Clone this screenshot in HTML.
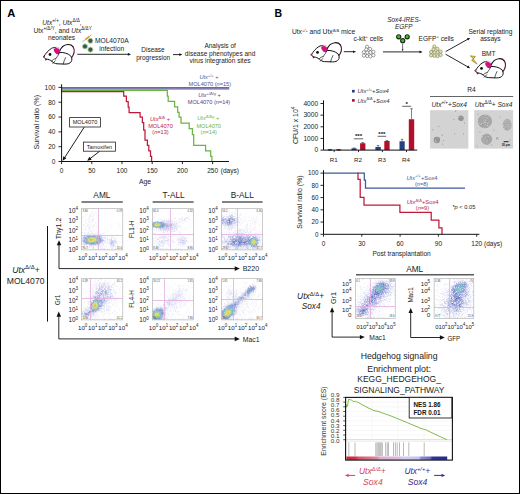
<!DOCTYPE html><html><head><meta charset="utf-8"><style>html,body{margin:0;padding:0;background:#fff;}svg{display:block;}text{font-family:"Liberation Sans", sans-serif;}</style></head><body>
<svg width="520" height="494" viewBox="0 0 520 494" fill="#222">
<defs><filter id="bgnoise" x="0" y="0" width="100%" height="100%"><feTurbulence type="fractalNoise" baseFrequency="0.8" numOctaves="2" seed="3"/><feColorMatrix type="matrix" values="0 0 0 0 0.6  0 0 0 0 0.6  0 0 0 0 0.6  1.2 0 0 0 -0.55"/><feComposite in2="SourceGraphic" operator="in"/></filter><filter id="tex" x="-30%" y="-30%" width="160%" height="160%"><feGaussianBlur in="SourceGraphic" stdDeviation="0.7" result="b"/><feTurbulence type="fractalNoise" baseFrequency="1.1" numOctaves="2" seed="9" result="n"/><feColorMatrix in="n" type="matrix" values="0 0 0 0 0.38  0 0 0 0 0.38  0 0 0 0 0.38  3 0 0 0 -1.3" result="d"/><feColorMatrix in="n" type="matrix" values="0 0 0 0 0.78  0 0 0 0 0.78  0 0 0 0 0.78  -2.4 0 0 0 1.05" result="l"/><feComposite in="l" in2="b" operator="in" result="l2"/><feComposite in="d" in2="b" operator="in" result="d2"/><feMerge><feMergeNode in="b"/><feMergeNode in="d2"/><feMergeNode in="l2"/></feMerge></filter><linearGradient id="band" x1="0" x2="1" y1="0" y2="0"><stop offset="0" stop-color="#c8283a"/><stop offset="0.094" stop-color="#cc3446"/><stop offset="0.12" stop-color="#d4566a"/><stop offset="0.31" stop-color="#dc8ca0"/><stop offset="0.33" stop-color="#e0aad0"/><stop offset="0.54" stop-color="#dcbce4"/><stop offset="0.56" stop-color="#d0cef0"/><stop offset="0.72" stop-color="#c4c4ec"/><stop offset="0.74" stop-color="#8c8cd0"/><stop offset="0.83" stop-color="#7070c0"/><stop offset="0.85" stop-color="#34349a"/><stop offset="1" stop-color="#282888"/></linearGradient></defs>
<rect width="520" height="494" fill="#fff"/>
<text x="7.3" y="16.8" font-size="11.2" fill="#000" font-weight="bold">A</text>
<text x="62" y="25.2" font-size="6.6" text-anchor="middle"><tspan font-style="italic">Utx</tspan><tspan dy="-2.77" font-size="4.62">+/+</tspan><tspan dy="2.77">, </tspan><tspan font-style="italic">Utx</tspan><tspan dy="-2.77" font-size="4.62">Δ/Δ</tspan><tspan dy="2.77">,</tspan></text>
<text x="62.6" y="33" font-size="6.6" text-anchor="middle">Utx<tspan dy="-2.77" font-size="4.62">+/Δ/Y</tspan><tspan dy="2.77">, and </tspan><tspan font-style="italic">Utx</tspan><tspan dy="-2.77" font-size="4.62">Δ/ΔY</tspan></text>
<text x="61.6" y="40.4" font-size="6.6" text-anchor="middle">neonates</text>
<g transform="translate(43 44.2) scale(1 1)" stroke-linejoin="round" stroke-linecap="round" fill="none">
<path d="M0.8 12.5C2.5 9.4 5.4 6 8.5 4.2C10 3.3 11.6 3 12.8 3.4L16.6 8.2C20.4 8 25 9.2 27.6 11.6C29.2 13.4 29.2 16 28.1 17.6C27 19.2 25 19.9 22 19.9L14 19.6C12 19.4 10.2 18.6 9 17.2C7.2 15.6 5.2 15.1 3.6 14.9C2.2 14.6 1 13.6 0.8 12.5Z" fill="#fff" stroke="#111" stroke-width="1.0"/>
<path d="M16.4 7.4C18 3.2 21 0.6 24.6 0.3C27 0.1 28.9 1 30 2.5" stroke="#111" stroke-width="1.1"/>
<path d="M30 2.5C31.4 4.6 31.4 8 30.3 10.5C29.7 11.8 29.1 12.8 28.4 13.6" stroke="#5a1446" stroke-width="1.15"/>
<path d="M10.6 5.2C11.8 3.6 14 3.4 15.6 4.4C17.2 5.4 17.4 7.8 16.4 9.4C15.4 10.4 13.8 10.2 12.8 9.2C11.8 8.2 10.8 6.8 10.6 5.2Z" fill="#d4127e"/><path d="M10.2 4.6C11.6 2.6 14.6 2.4 16.4 4" fill="none" stroke="#888" stroke-width="0.5"/>
<circle cx="7" cy="10.3" r="1.4" fill="#111"/>
<circle cx="0.95" cy="12.6" r="1" fill="#d4127e"/>
<path d="M2.2 14.5L2.8 16.2L3.8 15" fill="#111" stroke="#111" stroke-width="0.4"/>
<path d="M8.6 17C9.6 15.5 11 14.6 12.6 14.6M9.8 19.2L12.2 16.6M16.4 8.6C15.6 10.6 14.2 12.6 12.6 14.6M22.6 13.4C21.6 15.4 20.6 17.6 20.2 19.8" stroke="#111" stroke-width="0.7"/>
</g>
<line x1="82.4" y1="41.9" x2="85.2" y2="39.7" stroke="#777" stroke-width="0.6"/>
<line x1="85.2" y1="39.7" x2="89.4" y2="36.4" stroke="#e09a20" stroke-width="1.6"/>
<line x1="89.4" y1="36.4" x2="91.6" y2="34.6" stroke="#888" stroke-width="0.7"/>
<circle cx="90.4" cy="40.8" r="2.55" fill="#2a5e5c" stroke="#ccd89a" stroke-width="0.9"/>
<circle cx="85" cy="46.4" r="2.55" fill="#2a5e5c" stroke="#ccd89a" stroke-width="0.9"/>
<circle cx="90.4" cy="49.6" r="2.55" fill="#2a5e5c" stroke="#ccd89a" stroke-width="0.9"/>
<text x="111.8" y="43.1" font-size="6.7" text-anchor="middle">MOL4070A</text>
<text x="111.7" y="50.5" font-size="6.7" text-anchor="middle">infection</text>
<line x1="77.3" y1="54.3" x2="128.62" y2="54.3" stroke="#111" stroke-width="0.9"/>
<path d="M131 54.3L127.9 55.69L127.9 52.91Z" fill="#111"/>
<text x="153" y="52.2" font-size="6.5" text-anchor="middle">Disease</text>
<text x="153.2" y="59.6" font-size="6.5" text-anchor="middle">progression</text>
<line x1="173" y1="54.6" x2="180.06" y2="54.6" stroke="#111" stroke-width="0.9"/>
<path d="M182.3 54.6L179.38 55.9L179.38 53.3Z" fill="#111"/>
<text x="220.1" y="48" font-size="6.5" text-anchor="middle">Analysis of</text>
<text x="220.1" y="55.5" font-size="6.5" text-anchor="middle">disease phenotypes and</text>
<text x="220" y="63.3" font-size="6.5" text-anchor="middle">virus integration sites</text>
<g fill="none" stroke-width="1.25" stroke-linejoin="miter">
<polyline points="61.6,91.6 123.7,91.6 123.7,96.2 126.4,96.2 126.4,101.7 128.2,101.7 128.2,107.2 129.1,107.2 129.1,112.6 140.1,112.6 140.1,117.2 142.4,117.2 142.4,122.7 143.7,122.7 143.7,130 145,130 145,140 147.4,140 147.4,145.4 148.8,145.4 148.8,150.9 150.5,150.9 150.5,156.4 151.6,156.4 151.6,161.5" stroke="#c0183c"/>
<polyline points="61.6,90.3 167.3,90.3 167.3,96.2 168.2,96.2 168.2,101.3 174.6,101.3 174.6,106.8 177.7,106.8 177.7,112.3 179.1,112.3 179.1,117.2 181,117.2 181,123.2 189.2,123.2 189.2,128.7 192.4,128.7 192.4,134.5 193.7,134.5 193.7,145.4 205.6,145.4 205.6,150.9 210.7,150.9 210.7,156.4 211.9,156.4 211.9,161.5" stroke="#6cb444"/>
</g>
<line x1="61.6" y1="88.95" x2="229.2" y2="88.95" stroke="#70549c" stroke-width="1.3"/>
<line x1="61.6" y1="87.65" x2="229.2" y2="87.65" stroke="#5a70b0" stroke-width="1.3"/>
<line x1="61.6" y1="84.3" x2="61.6" y2="161.5" stroke="#111" stroke-width="1"/>
<line x1="61.6" y1="161.5" x2="229" y2="161.5" stroke="#111" stroke-width="1"/>
<line x1="58.5" y1="161.5" x2="61.6" y2="161.5" stroke="#111" stroke-width="0.9"/>
<text x="55.4" y="163.8" font-size="6.5" text-anchor="end">0</text>
<line x1="58.5" y1="146.68" x2="61.6" y2="146.68" stroke="#111" stroke-width="0.9"/>
<text x="55.4" y="148.98" font-size="6.5" text-anchor="end">20</text>
<line x1="58.5" y1="131.86" x2="61.6" y2="131.86" stroke="#111" stroke-width="0.9"/>
<text x="55.4" y="134.16" font-size="6.5" text-anchor="end">40</text>
<line x1="58.5" y1="117.04" x2="61.6" y2="117.04" stroke="#111" stroke-width="0.9"/>
<text x="55.4" y="119.34" font-size="6.5" text-anchor="end">60</text>
<line x1="58.5" y1="102.22" x2="61.6" y2="102.22" stroke="#111" stroke-width="0.9"/>
<text x="55.4" y="104.52" font-size="6.5" text-anchor="end">80</text>
<line x1="58.5" y1="87.4" x2="61.6" y2="87.4" stroke="#111" stroke-width="0.9"/>
<text x="55.4" y="89.7" font-size="6.5" text-anchor="end">100</text>
<line x1="61.6" y1="161.5" x2="61.6" y2="164.1" stroke="#111" stroke-width="0.9"/>
<text x="61.6" y="173.4" font-size="6.5" text-anchor="middle">0</text>
<line x1="91.8" y1="161.5" x2="91.8" y2="164.1" stroke="#111" stroke-width="0.9"/>
<text x="91.8" y="173.4" font-size="6.5" text-anchor="middle">50</text>
<line x1="122" y1="161.5" x2="122" y2="164.1" stroke="#111" stroke-width="0.9"/>
<text x="122" y="173.4" font-size="6.5" text-anchor="middle">100</text>
<line x1="152.2" y1="161.5" x2="152.2" y2="164.1" stroke="#111" stroke-width="0.9"/>
<text x="152.2" y="173.4" font-size="6.5" text-anchor="middle">150</text>
<line x1="182.4" y1="161.5" x2="182.4" y2="164.1" stroke="#111" stroke-width="0.9"/>
<text x="182.4" y="173.4" font-size="6.5" text-anchor="middle">200</text>
<line x1="212.6" y1="161.5" x2="212.6" y2="164.1" stroke="#111" stroke-width="0.9"/>
<text x="212.6" y="173.4" font-size="6.5" text-anchor="middle">250</text>
<text x="220.8" y="173.4" font-size="6.5">(days)</text>
<text x="145.1" y="183.6" font-size="6.8" text-anchor="middle">Age</text>
<text x="38.8" y="122.2" font-size="7.2" text-anchor="middle" transform="rotate(-90 38.8 122.2)">Survival ratio (%)</text>
<rect x="69.6" y="117.6" width="30.8" height="9.4" fill="#fff" stroke="#222" stroke-width="0.8"/>
<text x="85" y="124.3" font-size="5.6" text-anchor="middle">MOL4070</text>
<rect x="83.4" y="142.1" width="32" height="9.1" fill="#fff" stroke="#222" stroke-width="0.8"/>
<text x="99.4" y="148.7" font-size="5.6" text-anchor="middle">Tamoxifen</text>
<line x1="84.2" y1="127.2" x2="64.34" y2="158.09" stroke="#111" stroke-width="0.95"/>
<path d="M62.6 160.8L63.29 156.25L66.45 158.28Z" fill="#111"/>
<line x1="99.5" y1="151.4" x2="89.76" y2="158.84" stroke="#111" stroke-width="0.95"/>
<path d="M87.2 160.8L89.4 156.76L91.68 159.74Z" fill="#111"/>
<text x="209" y="79.2" font-size="5.6" text-anchor="middle" fill="#3c5a9c"><tspan font-style="italic">Utx</tspan><tspan dy="-2.35" font-size="4.14">+/+</tspan><tspan dy="2.35"> +</tspan></text>
<text x="209.8" y="85.9" font-size="5.6" text-anchor="middle" fill="#3c5a9c">MOL4070 (<tspan font-style="italic">n</tspan>=15)</text>
<text x="209.5" y="97.4" font-size="5.6" text-anchor="middle" fill="#5c3c82"><tspan font-style="italic">Utx</tspan><tspan dy="-2.35" font-size="4.14">+/Δ/y</tspan><tspan dy="2.35"> +</tspan></text>
<text x="209" y="104" font-size="5.6" text-anchor="middle" fill="#5c3c82">MOL4070 (<tspan font-style="italic">n</tspan>=14)</text>
<text x="160" y="120.9" font-size="5.6" text-anchor="middle" fill="#c0183c"><tspan font-style="italic">Utx</tspan><tspan dy="-2.35" font-size="4.14">Δ/Δ</tspan><tspan dy="2.35"> +</tspan></text>
<text x="160.5" y="128.2" font-size="5.6" text-anchor="middle" fill="#c0183c">MOL4070</text>
<text x="160.5" y="134" font-size="5.6" text-anchor="middle" fill="#c0183c">(<tspan font-style="italic">n</tspan>=13)</text>
<text x="208.3" y="120.4" font-size="5.6" text-anchor="middle" fill="#6cb444"><tspan font-style="italic">Utx</tspan><tspan dy="-2.35" font-size="4.14">Δ/Δy</tspan><tspan dy="2.35"> +</tspan></text>
<text x="208.7" y="128.4" font-size="5.6" text-anchor="middle" fill="#6cb444">MOL4070</text>
<text x="208.7" y="134.3" font-size="5.6" text-anchor="middle" fill="#6cb444">(<tspan font-style="italic">n</tspan>=14)</text>
<text x="101.9" y="198.3" font-size="8.3" text-anchor="middle">AML</text>
<line x1="81.5" y1="202.1" x2="122.8" y2="202.1" stroke="#5a5a5a" stroke-width="1.5"/>
<text x="173.6" y="198.3" font-size="8.3" text-anchor="middle">T-ALL</text>
<line x1="152.6" y1="202.1" x2="193.6" y2="202.1" stroke="#5a5a5a" stroke-width="1.5"/>
<text x="242.3" y="198.3" font-size="8.3" text-anchor="middle">B-ALL</text>
<line x1="222" y1="202.1" x2="262.6" y2="202.1" stroke="#5a5a5a" stroke-width="1.5"/>
<rect x="81.6" y="208.7" width="41.2" height="41.2" fill="#fff"/>
<g transform="translate(81.6 208.7) scale(0.5)">
<path d="M11 0h1v1h-1zM65 2h1v1h-1zM67 3h1v1h-1zM78 3h1v1h-1zM21 4h1v1h-1zM76 4h1v1h-1zM79 4h1v1h-1zM28 5h1v1h-1zM33 7h1v1h-1zM77 7h1v1h-1zM12 10h1v1h-1zM58 10h1v1h-1zM7 12h1v1h-1zM36 13h1v1h-1zM74 13h1v1h-1zM31 14h1v1h-1zM53 18h1v1h-1zM41 19h1v1h-1zM1 20h1v1h-1zM38 20h1v1h-1zM31 24h1v1h-1zM36 25h1v1h-1zM38 25h1v1h-1zM0 27h1v1h-1zM52 27h1v1h-1zM68 28h1v1h-1zM76 28h1v1h-1zM41 30h1v1h-1zM73 30h1v1h-1zM64 31h1v1h-1zM76 32h1v1h-1zM0 33h1v1h-1zM57 33h1v1h-1zM60 36h1v1h-1zM73 36h1v1h-1zM77 36h1v1h-1zM1 37h1v1h-1zM34 38h1v1h-1zM52 43h1v1h-1zM51 45h1v1h-1zM45 47h1v1h-1zM72 51h1v1h-1zM80 55h1v1h-1zM73 58h1v1h-1zM79 65h1v1h-1zM78 67h1v1h-1zM1 80h1v1h-1z" fill="#aaaadc" fill-opacity="0.5"/>
<path d="M22 5h1v1h-1zM21 6h1v1h-1zM19 8h1v1h-1zM25 8h1v1h-1zM28 8h1v1h-1zM30 9h1v1h-1zM23 10h1v1h-1zM20 11h1v1h-1zM26 11h1v1h-1zM18 12h1v1h-1zM16 13h1v1h-1zM25 13h1v1h-1zM8 14h1v1h-1zM21 14h1v1h-1zM23 14h1v1h-1zM29 14h1v1h-1zM21 15h1v1h-1zM2 16h1v1h-1zM4 16h1v1h-1zM13 16h1v1h-1zM6 17h1v1h-1zM15 17h1v1h-1zM26 18h1v1h-1zM2 19h1v1h-1zM31 19h1v1h-1zM33 19h1v1h-1zM9 20h1v1h-1zM14 20h1v1h-1zM16 20h1v1h-1zM21 20h1v1h-1zM24 20h1v1h-1zM16 21h1v1h-1zM20 21h1v1h-1zM21 21h1v1h-1zM22 21h1v1h-1zM33 21h1v1h-1zM34 21h1v1h-1zM9 22h1v1h-1zM12 22h1v1h-1zM14 22h1v1h-1zM23 22h1v1h-1zM22 23h1v1h-1zM4 24h1v1h-1zM5 24h1v1h-1zM16 24h1v1h-1zM21 24h1v1h-1zM22 24h1v1h-1zM14 25h1v1h-1zM15 25h1v1h-1zM20 26h1v1h-1zM22 26h1v1h-1zM7 27h1v1h-1zM15 27h1v1h-1zM17 27h1v1h-1zM27 27h1v1h-1zM7 28h1v1h-1zM19 28h1v1h-1zM27 28h1v1h-1zM30 28h1v1h-1zM12 29h1v1h-1zM10 30h1v1h-1zM13 30h1v1h-1zM20 30h1v1h-1zM4 31h1v1h-1zM6 31h1v1h-1zM14 31h1v1h-1zM26 31h1v1h-1zM2 32h1v1h-1zM12 32h1v1h-1zM17 32h1v1h-1zM23 32h1v1h-1zM30 32h1v1h-1zM3 33h1v1h-1zM12 33h1v1h-1zM19 33h1v1h-1zM25 33h1v1h-1zM11 34h1v1h-1zM19 34h1v1h-1zM23 34h1v1h-1zM28 34h1v1h-1zM32 34h1v1h-1zM6 35h1v1h-1zM7 35h1v1h-1zM12 35h1v1h-1zM21 35h1v1h-1zM31 35h1v1h-1zM24 36h1v1h-1zM7 37h1v1h-1zM23 37h1v1h-1zM13 38h1v1h-1zM18 38h1v1h-1zM30 38h1v1h-1zM21 39h1v1h-1zM9 40h1v1h-1zM25 40h1v1h-1zM32 40h1v1h-1zM4 41h1v1h-1zM7 41h1v1h-1zM8 41h1v1h-1zM13 41h1v1h-1zM16 41h1v1h-1zM2 42h1v1h-1zM5 42h1v1h-1zM32 42h1v1h-1zM13 43h1v1h-1zM21 43h1v1h-1zM33 43h1v1h-1zM23 44h1v1h-1zM29 45h1v1h-1zM5 46h1v1h-1zM31 46h1v1h-1zM1 47h1v1h-1zM2 47h1v1h-1zM5 48h1v1h-1zM43 48h1v1h-1zM41 50h1v1h-1zM42 50h1v1h-1zM48 50h1v1h-1zM59 51h1v1h-1zM45 52h1v1h-1zM51 53h1v1h-1zM54 53h1v1h-1zM61 53h1v1h-1zM60 54h1v1h-1zM62 54h1v1h-1zM51 55h1v1h-1zM56 55h1v1h-1zM69 58h1v1h-1zM70 58h1v1h-1zM74 64h1v1h-1zM74 68h1v1h-1zM72 73h1v1h-1zM74 73h1v1h-1zM46 74h1v1h-1zM50 74h1v1h-1zM50 75h1v1h-1zM1 76h1v1h-1zM49 76h1v1h-1zM72 77h1v1h-1zM10 78h1v1h-1zM11 78h1v1h-1zM68 78h1v1h-1zM12 79h1v1h-1zM13 79h1v1h-1zM30 79h1v1h-1zM37 79h1v1h-1zM51 79h1v1h-1zM67 79h1v1h-1zM12 80h1v1h-1zM30 80h1v1h-1zM50 80h1v1h-1zM56 80h1v1h-1zM60 80h1v1h-1zM62 80h1v1h-1zM69 80h1v1h-1zM19 81h1v1h-1zM27 81h1v1h-1zM37 81h1v1h-1zM38 81h1v1h-1zM67 81h1v1h-1z" fill="#a0aadc" fill-opacity="0.5"/>
<path d="M18 13h1v1h-1zM18 14h1v1h-1zM16 15h1v1h-1zM18 15h1v1h-1zM16 17h1v1h-1zM18 17h1v1h-1zM14 34h1v1h-1zM13 35h1v1h-1zM15 36h1v1h-1zM15 37h1v1h-1zM17 37h1v1h-1zM16 38h1v1h-1zM16 39h1v1h-1zM17 44h1v1h-1zM19 44h1v1h-1zM16 45h1v1h-1zM17 45h1v1h-1zM20 45h1v1h-1zM10 47h1v1h-1zM12 47h1v1h-1zM13 47h1v1h-1zM14 47h1v1h-1zM28 47h1v1h-1zM30 47h1v1h-1zM32 48h1v1h-1zM5 49h1v1h-1zM33 49h1v1h-1zM38 49h1v1h-1zM5 50h1v1h-1zM7 50h1v1h-1zM40 51h1v1h-1zM46 55h1v1h-1zM49 55h1v1h-1zM58 55h1v1h-1zM47 56h1v1h-1zM51 56h1v1h-1zM62 56h1v1h-1zM59 57h1v1h-1zM60 57h1v1h-1zM64 57h1v1h-1zM65 57h1v1h-1zM50 58h1v1h-1zM66 58h1v1h-1zM51 59h1v1h-1zM69 60h1v1h-1zM70 62h1v1h-1zM50 65h1v1h-1zM71 65h1v1h-1zM49 67h1v1h-1zM52 67h1v1h-1zM50 68h1v1h-1zM51 68h1v1h-1zM47 69h1v1h-1zM71 69h1v1h-1zM0 70h1v1h-1zM44 70h1v1h-1zM45 70h1v1h-1zM53 70h1v1h-1zM43 71h1v1h-1zM69 71h1v1h-1zM43 72h1v1h-1zM44 72h1v1h-1zM40 73h1v1h-1zM42 73h1v1h-1zM70 73h1v1h-1zM2 74h1v1h-1zM55 74h1v1h-1zM2 75h1v1h-1zM36 75h1v1h-1zM39 75h1v1h-1zM42 75h1v1h-1zM67 75h1v1h-1zM4 76h1v1h-1zM13 76h1v1h-1zM31 76h1v1h-1zM32 76h1v1h-1zM37 76h1v1h-1zM41 76h1v1h-1zM46 76h1v1h-1zM57 76h1v1h-1zM58 76h1v1h-1zM66 76h1v1h-1zM67 76h1v1h-1zM15 77h1v1h-1zM16 77h1v1h-1zM37 77h1v1h-1zM60 77h1v1h-1zM64 77h1v1h-1zM27 78h1v1h-1zM31 78h1v1h-1zM42 78h1v1h-1zM60 78h1v1h-1zM65 78h1v1h-1zM18 79h1v1h-1zM22 79h1v1h-1zM23 79h1v1h-1zM27 79h1v1h-1zM40 79h1v1h-1zM42 79h1v1h-1zM45 79h1v1h-1zM60 79h1v1h-1zM61 79h1v1h-1zM22 80h1v1h-1zM23 80h1v1h-1zM40 80h1v1h-1zM42 80h1v1h-1zM43 80h1v1h-1zM45 80h1v1h-1zM46 80h1v1h-1zM44 81h1v1h-1zM45 81h1v1h-1z" fill="#a0a0dc" fill-opacity="0.5"/>
<path d="M16 48h1v1h-1zM18 48h1v1h-1zM19 48h1v1h-1zM22 48h1v1h-1zM12 49h1v1h-1zM21 49h1v1h-1zM22 49h1v1h-1zM28 49h1v1h-1zM30 50h1v1h-1zM32 50h1v1h-1zM35 50h1v1h-1zM8 51h1v1h-1zM3 53h1v1h-1zM42 55h1v1h-1zM45 57h1v1h-1zM46 57h1v1h-1zM59 58h1v1h-1zM62 58h1v1h-1zM47 59h1v1h-1zM48 59h1v1h-1zM59 59h1v1h-1zM50 60h1v1h-1zM51 60h1v1h-1zM55 60h1v1h-1zM64 60h1v1h-1zM65 60h1v1h-1zM48 61h1v1h-1zM51 61h1v1h-1zM54 61h1v1h-1zM55 61h1v1h-1zM56 61h1v1h-1zM67 61h1v1h-1zM47 62h1v1h-1zM51 62h1v1h-1zM55 62h1v1h-1zM67 62h1v1h-1zM47 63h1v1h-1zM52 63h1v1h-1zM47 64h1v1h-1zM0 65h1v1h-1zM69 65h1v1h-1zM52 66h1v1h-1zM53 66h1v1h-1zM70 66h1v1h-1zM46 67h1v1h-1zM69 68h1v1h-1zM70 68h1v1h-1zM43 69h1v1h-1zM54 70h1v1h-1zM3 72h1v1h-1zM38 72h1v1h-1zM40 72h1v1h-1zM38 73h1v1h-1zM57 73h1v1h-1zM5 74h1v1h-1zM8 74h1v1h-1zM9 74h1v1h-1zM33 74h1v1h-1zM34 74h1v1h-1zM16 75h1v1h-1zM19 75h1v1h-1zM29 75h1v1h-1zM31 75h1v1h-1zM58 75h1v1h-1zM64 75h1v1h-1zM20 76h1v1h-1zM22 76h1v1h-1zM23 76h1v1h-1zM24 76h1v1h-1zM61 76h1v1h-1zM23 77h1v1h-1zM24 77h1v1h-1zM22 78h1v1h-1zM23 78h1v1h-1z" fill="#96a0dc" fill-opacity="0.5"/>
<path d="M19 49h1v1h-1zM13 50h1v1h-1zM36 51h1v1h-1zM38 52h1v1h-1zM2 55h1v1h-1zM43 56h1v1h-1zM44 57h1v1h-1zM45 58h1v1h-1zM0 59h1v1h-1zM45 59h1v1h-1zM59 60h1v1h-1zM60 60h1v1h-1zM55 63h1v1h-1zM0 64h1v1h-1zM46 64h1v1h-1zM68 64h1v1h-1zM68 65h1v1h-1zM45 66h1v1h-1zM2 69h1v1h-1zM42 69h1v1h-1zM2 70h1v1h-1zM4 72h1v1h-1zM66 72h1v1h-1zM5 73h1v1h-1zM65 73h1v1h-1zM15 74h1v1h-1zM59 74h1v1h-1zM64 74h1v1h-1zM23 75h1v1h-1zM61 75h1v1h-1zM62 75h1v1h-1zM63 75h1v1h-1z" fill="#9696dc" fill-opacity="0.5"/>
<path d="M16 50h1v1h-1zM23 50h1v1h-1zM11 51h1v1h-1zM33 51h1v1h-1zM1 57h1v1h-1zM0 60h1v1h-1zM59 61h1v1h-1zM60 61h1v1h-1zM0 63h1v1h-1zM66 63h1v1h-1zM67 64h1v1h-1zM45 65h1v1h-1zM1 66h1v1h-1zM55 67h1v1h-1zM41 69h1v1h-1zM67 69h1v1h-1zM36 72h1v1h-1zM33 73h1v1h-1zM64 73h1v1h-1zM18 74h1v1h-1zM19 74h1v1h-1z" fill="#8c96dc" fill-opacity="0.6"/>
<path d="M20 50h1v1h-1zM22 50h1v1h-1zM31 51h1v1h-1zM37 52h1v1h-1zM6 53h1v1h-1zM4 54h1v1h-1zM1 58h1v1h-1zM58 62h1v1h-1zM59 62h1v1h-1zM60 62h1v1h-1zM57 63h1v1h-1zM63 63h1v1h-1zM64 63h1v1h-1zM65 64h1v1h-1zM66 64h1v1h-1zM66 65h1v1h-1zM67 65h1v1h-1zM66 66h1v1h-1zM67 66h1v1h-1zM66 67h1v1h-1zM56 68h1v1h-1zM66 68h1v1h-1zM67 68h1v1h-1zM56 69h1v1h-1zM66 69h1v1h-1zM3 70h1v1h-1zM38 70h1v1h-1zM57 70h1v1h-1zM57 71h1v1h-1zM64 71h1v1h-1zM65 71h1v1h-1zM5 72h1v1h-1zM6 72h1v1h-1zM58 72h1v1h-1zM59 72h1v1h-1zM63 72h1v1h-1zM64 72h1v1h-1zM15 73h1v1h-1zM28 73h1v1h-1zM30 73h1v1h-1zM32 73h1v1h-1zM59 73h1v1h-1zM61 73h1v1h-1zM63 73h1v1h-1zM21 74h1v1h-1zM22 74h1v1h-1z" fill="#8c96d2" fill-opacity="0.6"/>
<path d="M15 51h1v1h-1zM35 52h1v1h-1zM5 54h1v1h-1zM3 56h1v1h-1zM1 60h1v1h-1zM1 62h1v1h-1zM44 62h1v1h-1zM59 63h1v1h-1zM61 63h1v1h-1zM1 64h1v1h-1zM44 64h1v1h-1zM60 64h1v1h-1zM61 64h1v1h-1zM62 64h1v1h-1zM58 65h1v1h-1zM63 65h1v1h-1zM57 67h1v1h-1zM3 68h1v1h-1zM41 68h1v1h-1zM57 68h1v1h-1zM39 69h1v1h-1zM58 70h1v1h-1zM5 71h1v1h-1zM63 71h1v1h-1zM9 72h1v1h-1zM34 72h1v1h-1zM61 72h1v1h-1zM18 73h1v1h-1zM24 73h1v1h-1zM25 73h1v1h-1zM27 73h1v1h-1z" fill="#8c8cd2" fill-opacity="0.6"/>
<path d="M17 51h1v1h-1zM26 51h1v1h-1zM1 61h1v1h-1zM64 68h1v1h-1zM6 71h1v1h-1zM62 71h1v1h-1z" fill="#8c8cd2" fill-opacity="0.7"/>
<path d="M7 52h1v1h-1zM44 58h1v1h-1zM65 62h1v1h-1zM46 63h1v1h-1zM56 63h1v1h-1zM55 66h1v1h-1zM68 66h1v1h-1z" fill="#9696dc" fill-opacity="0.6"/>
<path d="M12 52h1v1h-1zM13 52h1v1h-1zM29 52h1v1h-1zM10 53h1v1h-1zM35 53h1v1h-1zM36 53h1v1h-1zM6 54h1v1h-1zM8 54h1v1h-1zM38 54h1v1h-1zM5 55h1v1h-1zM39 55h1v1h-1zM4 56h1v1h-1zM3 57h1v1h-1zM40 57h1v1h-1zM2 58h1v1h-1zM41 58h1v1h-1zM2 59h1v1h-1zM42 60h1v1h-1zM43 62h1v1h-1zM43 63h1v1h-1zM43 64h1v1h-1zM2 65h1v1h-1zM42 65h1v1h-1zM59 65h1v1h-1zM60 65h1v1h-1zM61 65h1v1h-1zM42 66h1v1h-1zM58 66h1v1h-1zM59 66h1v1h-1zM60 66h1v1h-1zM61 66h1v1h-1zM63 66h1v1h-1zM58 67h1v1h-1zM61 67h1v1h-1zM62 67h1v1h-1zM63 67h1v1h-1zM59 68h1v1h-1zM60 68h1v1h-1zM61 68h1v1h-1zM62 68h1v1h-1zM4 69h1v1h-1zM59 69h1v1h-1zM60 69h1v1h-1zM62 69h1v1h-1zM63 69h1v1h-1zM6 70h1v1h-1zM59 70h1v1h-1zM60 70h1v1h-1zM7 71h1v1h-1zM34 71h1v1h-1zM35 71h1v1h-1zM60 71h1v1h-1zM16 72h1v1h-1zM26 72h1v1h-1z" fill="#828cd2" fill-opacity="0.7"/>
<path d="M16 52h1v1h-1zM9 54h1v1h-1zM42 62h1v1h-1zM32 71h1v1h-1z" fill="#7882d2" fill-opacity="0.8"/>
<path d="M23 52h1v1h-1zM24 52h1v1h-1zM25 52h1v1h-1zM26 52h1v1h-1zM12 53h1v1h-1zM13 53h1v1h-1zM10 54h1v1h-1zM35 54h1v1h-1zM36 54h1v1h-1zM8 55h1v1h-1zM37 55h1v1h-1zM5 56h1v1h-1zM6 56h1v1h-1zM38 56h1v1h-1zM4 57h1v1h-1zM40 58h1v1h-1zM3 59h1v1h-1zM3 60h1v1h-1zM41 61h1v1h-1zM3 63h1v1h-1zM42 63h1v1h-1zM3 64h1v1h-1zM3 65h1v1h-1zM41 65h1v1h-1zM4 66h1v1h-1zM40 66h1v1h-1zM4 67h1v1h-1zM39 67h1v1h-1zM5 68h1v1h-1zM37 68h1v1h-1zM36 69h1v1h-1zM8 70h1v1h-1zM34 70h1v1h-1zM28 71h1v1h-1zM31 71h1v1h-1z" fill="#7882c8" fill-opacity="0.8"/>
<path d="M28 52h1v1h-1zM2 63h1v1h-1zM10 71h1v1h-1zM33 71h1v1h-1zM17 72h1v1h-1zM18 72h1v1h-1zM24 72h1v1h-1zM25 72h1v1h-1z" fill="#8282d2" fill-opacity="0.7"/>
<path d="M15 53h1v1h-1zM17 53h1v1h-1zM12 54h1v1h-1zM31 54h1v1h-1zM33 54h1v1h-1zM35 55h1v1h-1zM37 56h1v1h-1zM6 57h1v1h-1zM5 58h1v1h-1zM39 58h1v1h-1zM4 61h1v1h-1zM40 62h1v1h-1zM4 63h1v1h-1zM40 63h1v1h-1zM4 64h1v1h-1zM40 64h1v1h-1zM5 66h1v1h-1zM38 66h1v1h-1zM6 68h1v1h-1zM7 68h1v1h-1zM35 68h1v1h-1zM36 68h1v1h-1zM8 69h1v1h-1zM33 69h1v1h-1zM10 70h1v1h-1zM12 70h1v1h-1zM29 70h1v1h-1zM30 70h1v1h-1zM32 70h1v1h-1zM16 71h1v1h-1zM17 71h1v1h-1zM19 71h1v1h-1zM20 71h1v1h-1zM21 71h1v1h-1zM22 71h1v1h-1zM23 71h1v1h-1zM24 71h1v1h-1zM26 71h1v1h-1z" fill="#6e78c8" fill-opacity="0.9"/>
<path d="M19 53h1v1h-1zM20 53h1v1h-1zM25 53h1v1h-1zM26 53h1v1h-1zM14 54h1v1h-1zM11 55h1v1h-1zM34 55h1v1h-1zM36 56h1v1h-1zM6 58h1v1h-1zM38 58h1v1h-1zM5 60h1v1h-1zM5 64h1v1h-1zM38 65h1v1h-1zM37 66h1v1h-1zM36 67h1v1h-1zM32 69h1v1h-1zM13 70h1v1h-1zM14 70h1v1h-1zM28 70h1v1h-1z" fill="#6478c8"/>
<path d="M29 53h1v1h-1zM11 54h1v1h-1zM34 54h1v1h-1zM5 57h1v1h-1zM40 59h1v1h-1zM3 62h1v1h-1zM41 62h1v1h-1zM41 63h1v1h-1zM40 65h1v1h-1zM39 66h1v1h-1zM5 67h1v1h-1zM38 67h1v1h-1zM35 69h1v1h-1zM9 70h1v1h-1zM15 71h1v1h-1zM27 71h1v1h-1z" fill="#7878c8" fill-opacity="0.8"/>
<path d="M15 54h1v1h-1zM12 55h1v1h-1zM31 55h1v1h-1zM32 55h1v1h-1zM10 56h1v1h-1zM35 56h1v1h-1zM8 57h1v1h-1zM7 58h1v1h-1zM6 59h1v1h-1zM38 60h1v1h-1zM39 61h1v1h-1zM5 62h1v1h-1zM5 63h1v1h-1zM39 63h1v1h-1zM38 64h1v1h-1zM6 65h1v1h-1zM37 65h1v1h-1zM7 67h1v1h-1zM35 67h1v1h-1zM33 68h1v1h-1zM34 68h1v1h-1zM10 69h1v1h-1zM11 69h1v1h-1zM31 69h1v1h-1zM16 70h1v1h-1zM17 70h1v1h-1zM19 70h1v1h-1zM20 70h1v1h-1zM22 70h1v1h-1zM24 70h1v1h-1z" fill="#646ebe"/>
<path d="M16 54h1v1h-1zM17 54h1v1h-1zM27 54h1v1h-1zM28 54h1v1h-1zM13 55h1v1h-1zM33 56h1v1h-1zM34 56h1v1h-1zM35 57h1v1h-1zM36 58h1v1h-1zM7 59h1v1h-1zM37 59h1v1h-1zM6 61h1v1h-1zM38 61h1v1h-1zM6 62h1v1h-1zM38 62h1v1h-1zM38 63h1v1h-1zM6 64h1v1h-1zM37 64h1v1h-1zM7 66h1v1h-1zM8 67h1v1h-1zM34 67h1v1h-1zM9 68h1v1h-1zM32 68h1v1h-1zM12 69h1v1h-1zM30 69h1v1h-1z" fill="#5a6ebe"/>
<path d="M19 54h1v1h-1zM10 57h1v1h-1zM7 60h1v1h-1zM37 60h1v1h-1zM10 68h1v1h-1z" fill="#5a64be"/>
<path d="M20 54h1v1h-1zM21 54h1v1h-1zM26 54h1v1h-1zM14 55h1v1h-1zM12 56h1v1h-1zM9 58h1v1h-1zM33 67h1v1h-1zM31 68h1v1h-1zM27 69h1v1h-1z" fill="#5064be"/>
<path d="M22 54h1v1h-1zM23 54h1v1h-1zM24 54h1v1h-1zM25 54h1v1h-1zM15 55h1v1h-1zM29 55h1v1h-1zM31 56h1v1h-1zM33 57h1v1h-1zM35 58h1v1h-1zM8 59h1v1h-1zM36 59h1v1h-1zM36 60h1v1h-1zM37 61h1v1h-1zM37 62h1v1h-1zM36 63h1v1h-1zM7 64h1v1h-1zM36 64h1v1h-1zM35 65h1v1h-1zM8 66h1v1h-1zM9 67h1v1h-1zM32 67h1v1h-1zM11 68h1v1h-1zM30 68h1v1h-1zM14 69h1v1h-1zM16 69h1v1h-1zM18 69h1v1h-1zM19 69h1v1h-1zM20 69h1v1h-1zM21 69h1v1h-1zM22 69h1v1h-1zM23 69h1v1h-1zM24 69h1v1h-1zM25 69h1v1h-1zM26 69h1v1h-1z" fill="#5064b4"/>
<path d="M6 55h1v1h-1zM38 55h1v1h-1zM39 56h1v1h-1zM3 58h1v1h-1zM41 59h1v1h-1zM42 64h1v1h-1zM20 72h1v1h-1z" fill="#7882d2" fill-opacity="0.7"/>
<path d="M9 55h1v1h-1zM4 65h1v1h-1z" fill="#6e78c8" fill-opacity="0.8"/>
<path d="M16 55h1v1h-1zM32 57h1v1h-1zM9 59h1v1h-1zM35 59h1v1h-1zM8 65h1v1h-1zM34 65h1v1h-1zM33 66h1v1h-1zM10 67h1v1h-1zM12 68h1v1h-1zM29 68h1v1h-1z" fill="#506ebe"/>
<path d="M17 55h1v1h-1zM27 55h1v1h-1zM12 57h1v1h-1zM33 58h1v1h-1zM34 59h1v1h-1zM35 60h1v1h-1zM8 61h1v1h-1zM35 61h1v1h-1zM35 63h1v1h-1zM9 66h1v1h-1zM31 67h1v1h-1zM13 68h1v1h-1zM27 68h1v1h-1zM28 68h1v1h-1z" fill="#5078be"/>
<path d="M18 55h1v1h-1zM14 56h1v1h-1zM31 57h1v1h-1zM9 60h1v1h-1zM8 62h1v1h-1zM8 63h1v1h-1zM34 64h1v1h-1zM33 65h1v1h-1zM32 66h1v1h-1zM30 67h1v1h-1z" fill="#5082be"/>
<path d="M20 55h1v1h-1zM11 58h1v1h-1zM10 59h1v1h-1zM11 67h1v1h-1zM21 68h1v1h-1zM22 68h1v1h-1zM23 68h1v1h-1zM24 68h1v1h-1zM25 68h1v1h-1z" fill="#4682be"/>
<path d="M21 55h1v1h-1zM22 55h1v1h-1zM23 55h1v1h-1zM24 55h1v1h-1zM25 55h1v1h-1zM15 56h1v1h-1zM13 57h1v1h-1zM30 57h1v1h-1zM33 59h1v1h-1zM34 60h1v1h-1zM9 61h1v1h-1zM34 61h1v1h-1zM34 62h1v1h-1zM33 64h1v1h-1zM9 65h1v1h-1zM10 66h1v1h-1zM31 66h1v1h-1zM29 67h1v1h-1zM14 68h1v1h-1zM15 68h1v1h-1zM19 68h1v1h-1zM20 68h1v1h-1z" fill="#468cbe"/>
<path d="M28 55h1v1h-1zM13 56h1v1h-1zM8 60h1v1h-1zM36 62h1v1h-1zM35 64h1v1h-1zM17 69h1v1h-1z" fill="#506eb4"/>
<path d="M17 56h1v1h-1zM32 60h1v1h-1zM29 66h1v1h-1zM25 67h1v1h-1z" fill="#50a0b4"/>
<path d="M18 56h1v1h-1zM26 56h1v1h-1zM30 58h1v1h-1zM31 59h1v1h-1zM32 63h1v1h-1zM10 64h1v1h-1zM20 67h1v1h-1z" fill="#50aaaa"/>
<path d="M19 56h1v1h-1zM20 56h1v1h-1zM22 56h1v1h-1zM25 56h1v1h-1zM28 57h1v1h-1zM13 58h1v1h-1zM11 60h1v1h-1zM32 61h1v1h-1zM10 62h1v1h-1zM32 62h1v1h-1zM10 63h1v1h-1zM31 64h1v1h-1zM30 65h1v1h-1zM12 66h1v1h-1zM14 67h1v1h-1z" fill="#50aaa0"/>
<path d="M23 56h1v1h-1zM24 56h1v1h-1zM15 57h1v1h-1zM12 59h1v1h-1zM11 65h1v1h-1zM28 66h1v1h-1zM15 67h1v1h-1zM19 67h1v1h-1z" fill="#50aa96"/>
<path d="M27 56h1v1h-1zM29 57h1v1h-1zM33 61h1v1h-1zM33 62h1v1h-1zM32 64h1v1h-1zM10 65h1v1h-1zM31 65h1v1h-1zM13 67h1v1h-1zM27 67h1v1h-1z" fill="#46a0be"/>
<path d="M28 56h1v1h-1zM33 60h1v1h-1zM9 62h1v1h-1zM9 64h1v1h-1zM32 65h1v1h-1zM12 67h1v1h-1zM16 68h1v1h-1zM18 68h1v1h-1z" fill="#4696be"/>
<path d="M7 57h1v1h-1zM5 65h1v1h-1z" fill="#6478c8" fill-opacity="0.9"/>
<path d="M14 57h1v1h-1zM22 67h1v1h-1zM23 67h1v1h-1zM24 67h1v1h-1zM26 67h1v1h-1z" fill="#46a0b4"/>
<path d="M16 57h1v1h-1zM14 58h1v1h-1zM11 61h1v1h-1zM11 64h1v1h-1zM22 66h1v1h-1zM24 66h1v1h-1zM25 66h1v1h-1zM26 66h1v1h-1z" fill="#5ab478"/>
<path d="M17 57h1v1h-1zM13 59h1v1h-1zM29 59h1v1h-1zM30 61h1v1h-1zM29 64h1v1h-1zM14 66h1v1h-1zM20 66h1v1h-1z" fill="#64be64"/>
<path d="M18 57h1v1h-1zM21 57h1v1h-1zM22 57h1v1h-1zM23 57h1v1h-1zM24 57h1v1h-1zM27 65h1v1h-1z" fill="#6ebe5a"/>
<path d="M19 57h1v1h-1zM20 57h1v1h-1zM27 58h1v1h-1zM12 64h1v1h-1zM19 66h1v1h-1z" fill="#78be5a"/>
<path d="M25 57h1v1h-1zM30 62h1v1h-1z" fill="#64be5a"/>
<path d="M26 57h1v1h-1zM28 58h1v1h-1zM30 60h1v1h-1zM11 62h1v1h-1zM12 65h1v1h-1zM21 66h1v1h-1z" fill="#64b46e"/>
<path d="M12 58h1v1h-1zM31 58h1v1h-1zM32 59h1v1h-1zM10 60h1v1h-1zM9 63h1v1h-1zM33 63h1v1h-1zM30 66h1v1h-1z" fill="#46a0c8"/>
<path d="M15 58h1v1h-1zM29 60h1v1h-1zM29 63h1v1h-1zM13 65h1v1h-1zM15 66h1v1h-1z" fill="#78be50"/>
<path d="M16 58h1v1h-1zM25 58h1v1h-1zM27 59h1v1h-1zM28 60h1v1h-1zM28 63h1v1h-1zM27 64h1v1h-1zM14 65h1v1h-1z" fill="#a0c846"/>
<path d="M17 58h1v1h-1zM21 58h1v1h-1zM22 58h1v1h-1zM13 61h1v1h-1zM25 64h1v1h-1z" fill="#b4d23c"/>
<path d="M18 58h1v1h-1zM15 59h1v1h-1zM26 59h1v1h-1zM27 60h1v1h-1zM23 64h1v1h-1zM24 64h1v1h-1zM15 65h1v1h-1z" fill="#bed232"/>
<path d="M19 58h1v1h-1zM14 60h1v1h-1zM13 62h1v1h-1zM13 63h1v1h-1z" fill="#c8d232"/>
<path d="M23 58h1v1h-1zM28 61h1v1h-1zM28 62h1v1h-1zM26 64h1v1h-1z" fill="#aad23c"/>
<path d="M24 58h1v1h-1zM13 64h1v1h-1zM20 65h1v1h-1z" fill="#aac83c"/>
<path d="M26 58h1v1h-1zM29 61h1v1h-1zM12 62h1v1h-1zM29 62h1v1h-1zM12 63h1v1h-1zM22 65h1v1h-1zM23 65h1v1h-1zM24 65h1v1h-1zM25 65h1v1h-1zM16 66h1v1h-1zM17 66h1v1h-1z" fill="#8cc850"/>
<path d="M29 58h1v1h-1zM30 59h1v1h-1zM31 63h1v1h-1zM27 66h1v1h-1zM16 67h1v1h-1zM17 67h1v1h-1zM18 67h1v1h-1z" fill="#5ab48c"/>
<path d="M14 59h1v1h-1zM13 60h1v1h-1zM21 65h1v1h-1z" fill="#96c846"/>
<path d="M16 59h1v1h-1zM23 59h1v1h-1zM24 59h1v1h-1zM26 60h1v1h-1zM26 61h1v1h-1zM26 62h1v1h-1zM24 63h1v1h-1zM25 63h1v1h-1zM21 64h1v1h-1zM17 65h1v1h-1z" fill="#dcd228"/>
<path d="M17 59h1v1h-1zM18 59h1v1h-1zM19 59h1v1h-1zM20 59h1v1h-1zM23 60h1v1h-1zM23 61h1v1h-1zM24 61h1v1h-1zM14 62h1v1h-1zM23 62h1v1h-1zM24 62h1v1h-1zM21 63h1v1h-1zM19 64h1v1h-1z" fill="#e6be28"/>
<path d="M21 59h1v1h-1zM15 60h1v1h-1zM24 60h1v1h-1zM25 60h1v1h-1zM14 61h1v1h-1zM25 61h1v1h-1zM25 62h1v1h-1zM14 63h1v1h-1zM22 63h1v1h-1zM23 63h1v1h-1zM15 64h1v1h-1zM20 64h1v1h-1z" fill="#dcc828"/>
<path d="M25 59h1v1h-1zM27 61h1v1h-1zM26 63h1v1h-1z" fill="#d2d232"/>
<path d="M28 59h1v1h-1zM28 64h1v1h-1zM18 66h1v1h-1z" fill="#82c850"/>
<path d="M12 60h1v1h-1zM11 63h1v1h-1zM30 63h1v1h-1zM28 65h1v1h-1z" fill="#64b464"/>
<path d="M16 60h1v1h-1zM15 61h1v1h-1zM15 63h1v1h-1zM20 63h1v1h-1z" fill="#f0b428"/>
<path d="M17 60h1v1h-1zM18 60h1v1h-1zM19 60h1v1h-1zM20 61h1v1h-1zM20 62h1v1h-1zM16 63h1v1h-1zM19 63h1v1h-1z" fill="#f0a028"/>
<path d="M20 60h1v1h-1zM21 61h1v1h-1zM15 62h1v1h-1zM21 62h1v1h-1z" fill="#f0aa28"/>
<path d="M21 60h1v1h-1zM22 61h1v1h-1zM22 62h1v1h-1zM16 64h1v1h-1zM17 64h1v1h-1zM18 64h1v1h-1z" fill="#e6b428"/>
<path d="M31 60h1v1h-1z" fill="#50aa8c"/>
<path d="M10 61h1v1h-1z" fill="#50a0aa"/>
<path d="M12 61h1v1h-1zM26 65h1v1h-1z" fill="#82be50"/>
<path d="M16 61h1v1h-1zM17 63h1v1h-1zM18 63h1v1h-1z" fill="#f09628"/>
<path d="M17 61h1v1h-1z" fill="#f08228"/>
<path d="M18 61h1v1h-1zM17 62h1v1h-1zM18 62h1v1h-1z" fill="#f07828"/>
<path d="M19 61h1v1h-1zM16 62h1v1h-1zM19 62h1v1h-1z" fill="#f08c28"/>
<path d="M31 61h1v1h-1zM30 64h1v1h-1zM29 65h1v1h-1zM13 66h1v1h-1z" fill="#5ab482"/>
<path d="M27 63h1v1h-1z" fill="#bed23c"/>
<path d="M14 64h1v1h-1zM16 65h1v1h-1zM18 65h1v1h-1z" fill="#d2dc28"/>
<path d="M27 70h1v1h-1z" fill="#6478be"/>
</g>
<line x1="98.5" y1="208.7" x2="98.5" y2="249.9" stroke="#e2aade" stroke-width="0.75"/>
<line x1="81.6" y1="235.5" x2="122.8" y2="235.5" stroke="#e2aade" stroke-width="0.75"/>
<rect x="81.6" y="208.7" width="41.2" height="41.2" fill="none" stroke="#a8a8a8" stroke-width="0.6"/>
<text x="82.4" y="212" font-size="2.7" fill="#444">3.86</text>
<text x="122" y="212" font-size="2.7" text-anchor="end" fill="#444">0.79</text>
<text x="82.4" y="249" font-size="2.7" fill="#444">90.7</text>
<text x="122" y="249" font-size="2.7" text-anchor="end" fill="#444">10.6</text>
<text x="78" y="212.8" font-size="6.3" text-anchor="end">10<tspan dy="-2.6" font-size="4.54">4</tspan></text>
<text x="78" y="222.65" font-size="6.3" text-anchor="end">10<tspan dy="-2.6" font-size="4.54">3</tspan></text>
<text x="78" y="232.5" font-size="6.3" text-anchor="end">10<tspan dy="-2.6" font-size="4.54">2</tspan></text>
<text x="78" y="242.35" font-size="6.3" text-anchor="end">10<tspan dy="-2.6" font-size="4.54">1</tspan></text>
<text x="78" y="252.2" font-size="6.3" text-anchor="end">10<tspan dy="-2.6" font-size="4.54">0</tspan></text>
<text x="82.66" y="259.8" font-size="6.2" text-anchor="middle">10<tspan dy="-2.6" font-size="4.46">0</tspan></text>
<text x="92.73" y="259.8" font-size="6.2" text-anchor="middle">10<tspan dy="-2.6" font-size="4.46">1</tspan></text>
<text x="102.8" y="259.8" font-size="6.2" text-anchor="middle">10<tspan dy="-2.6" font-size="4.46">2</tspan></text>
<text x="112.87" y="259.8" font-size="6.2" text-anchor="middle">10<tspan dy="-2.6" font-size="4.46">3</tspan></text>
<text x="122.94" y="259.8" font-size="6.2" text-anchor="middle">10<tspan dy="-2.6" font-size="4.46">4</tspan></text>
<rect x="152.4" y="208.7" width="41.2" height="41.2" fill="#fff"/>
<g transform="translate(152.4 208.7) scale(0.5)">
<path d="M11 0h1v1h-1zM78 1h1v1h-1zM27 5h1v1h-1zM2 6h1v1h-1zM5 7h1v1h-1zM33 8h1v1h-1zM67 8h1v1h-1zM41 9h1v1h-1zM53 9h1v1h-1zM79 9h1v1h-1zM7 11h1v1h-1zM41 11h1v1h-1zM65 11h1v1h-1zM58 12h1v1h-1zM11 13h1v1h-1zM78 13h1v1h-1zM73 14h1v1h-1zM80 14h1v1h-1zM4 16h1v1h-1zM3 17h1v1h-1zM24 18h1v1h-1zM45 18h1v1h-1zM2 19h1v1h-1zM76 22h1v1h-1zM71 26h1v1h-1zM75 28h1v1h-1zM61 29h1v1h-1zM73 34h1v1h-1zM78 34h1v1h-1zM65 37h1v1h-1zM70 38h1v1h-1zM60 39h1v1h-1zM65 41h1v1h-1zM59 42h1v1h-1zM56 47h1v1h-1zM57 48h1v1h-1zM3 49h1v1h-1zM74 50h1v1h-1zM46 52h1v1h-1zM79 55h1v1h-1zM73 57h1v1h-1zM81 60h1v1h-1zM79 61h1v1h-1zM74 64h1v1h-1zM80 64h1v1h-1zM76 65h1v1h-1zM78 65h1v1h-1zM44 70h1v1h-1zM78 71h1v1h-1zM74 72h1v1h-1zM0 73h1v1h-1zM2 73h1v1h-1zM43 73h1v1h-1zM71 73h1v1h-1zM77 73h1v1h-1zM3 74h1v1h-1zM34 74h1v1h-1zM34 75h1v1h-1zM72 75h1v1h-1zM47 77h1v1h-1zM75 77h1v1h-1zM30 78h1v1h-1zM79 78h1v1h-1zM6 79h1v1h-1zM27 79h1v1h-1zM64 79h1v1h-1zM23 80h1v1h-1zM26 80h1v1h-1zM30 80h1v1h-1zM39 80h1v1h-1zM40 80h1v1h-1zM52 80h1v1h-1zM53 80h1v1h-1zM56 80h1v1h-1zM59 80h1v1h-1zM70 80h1v1h-1zM72 80h1v1h-1zM32 81h1v1h-1zM43 81h1v1h-1zM45 81h1v1h-1zM49 81h1v1h-1zM57 81h1v1h-1z" fill="#aaaadc" fill-opacity="0.5"/>
<path d="M66 14h1v1h-1zM71 14h1v1h-1zM72 14h1v1h-1zM57 17h1v1h-1zM58 17h1v1h-1zM60 17h1v1h-1zM67 17h1v1h-1zM68 17h1v1h-1zM72 17h1v1h-1zM53 18h1v1h-1zM58 18h1v1h-1zM59 18h1v1h-1zM67 18h1v1h-1zM69 18h1v1h-1zM72 18h1v1h-1zM17 19h1v1h-1zM45 19h1v1h-1zM55 19h1v1h-1zM63 19h1v1h-1zM64 19h1v1h-1zM67 19h1v1h-1zM69 19h1v1h-1zM13 20h1v1h-1zM16 20h1v1h-1zM24 20h1v1h-1zM28 20h1v1h-1zM32 20h1v1h-1zM36 20h1v1h-1zM44 20h1v1h-1zM46 20h1v1h-1zM54 20h1v1h-1zM66 20h1v1h-1zM69 20h1v1h-1zM36 21h1v1h-1zM40 21h1v1h-1zM51 21h1v1h-1zM55 21h1v1h-1zM56 21h1v1h-1zM57 21h1v1h-1zM73 21h1v1h-1zM71 22h1v1h-1zM50 23h1v1h-1zM59 23h1v1h-1zM60 23h1v1h-1zM63 23h1v1h-1zM66 23h1v1h-1zM47 24h1v1h-1zM54 24h1v1h-1zM57 24h1v1h-1zM63 24h1v1h-1zM68 24h1v1h-1zM53 25h1v1h-1zM55 25h1v1h-1zM67 25h1v1h-1zM52 26h1v1h-1zM60 26h1v1h-1zM53 27h1v1h-1zM54 27h1v1h-1zM55 27h1v1h-1zM62 27h1v1h-1zM64 27h1v1h-1zM54 32h1v1h-1zM54 33h1v1h-1zM53 34h1v1h-1zM55 34h1v1h-1zM55 35h1v1h-1zM57 35h1v1h-1zM55 36h1v1h-1zM56 38h1v1h-1zM54 41h1v1h-1zM5 43h1v1h-1zM54 43h1v1h-1zM8 44h1v1h-1zM47 44h1v1h-1zM46 45h1v1h-1zM7 46h1v1h-1zM44 46h1v1h-1zM51 46h1v1h-1zM54 46h1v1h-1zM3 48h1v1h-1zM4 48h1v1h-1zM6 48h1v1h-1zM16 48h1v1h-1zM32 48h1v1h-1zM36 48h1v1h-1zM38 48h1v1h-1zM47 48h1v1h-1zM52 48h1v1h-1zM32 49h1v1h-1zM42 49h1v1h-1zM54 49h1v1h-1zM4 50h1v1h-1zM12 50h1v1h-1zM16 50h1v1h-1zM19 50h1v1h-1zM27 50h1v1h-1zM35 50h1v1h-1zM29 51h1v1h-1zM30 51h1v1h-1zM41 51h1v1h-1zM53 51h1v1h-1zM32 52h1v1h-1zM40 52h1v1h-1zM41 52h1v1h-1zM53 52h1v1h-1zM6 53h1v1h-1zM12 53h1v1h-1zM11 54h1v1h-1zM44 54h1v1h-1zM54 54h1v1h-1zM57 54h1v1h-1zM58 54h1v1h-1zM6 55h1v1h-1zM32 55h1v1h-1zM34 55h1v1h-1zM37 55h1v1h-1zM42 55h1v1h-1zM62 55h1v1h-1zM5 56h1v1h-1zM31 56h1v1h-1zM32 56h1v1h-1zM33 56h1v1h-1zM40 56h1v1h-1zM45 56h1v1h-1zM48 56h1v1h-1zM50 56h1v1h-1zM66 56h1v1h-1zM66 57h1v1h-1zM1 58h1v1h-1zM2 58h1v1h-1zM5 58h1v1h-1zM40 58h1v1h-1zM68 58h1v1h-1zM70 58h1v1h-1zM37 59h1v1h-1zM46 59h1v1h-1zM68 59h1v1h-1zM2 60h1v1h-1zM4 60h1v1h-1zM36 60h1v1h-1zM49 60h1v1h-1zM48 61h1v1h-1zM3 62h1v1h-1zM40 62h1v1h-1zM41 62h1v1h-1zM2 63h1v1h-1zM5 63h1v1h-1zM36 63h1v1h-1zM39 63h1v1h-1zM49 63h1v1h-1zM5 64h1v1h-1zM8 64h1v1h-1zM42 64h1v1h-1zM3 65h1v1h-1zM7 65h1v1h-1zM36 65h1v1h-1zM39 65h1v1h-1zM40 65h1v1h-1zM42 65h1v1h-1zM70 65h1v1h-1zM42 66h1v1h-1zM45 66h1v1h-1zM6 67h1v1h-1zM42 67h1v1h-1zM43 67h1v1h-1zM71 67h1v1h-1zM4 68h1v1h-1zM7 68h1v1h-1zM36 68h1v1h-1zM2 69h1v1h-1zM3 69h1v1h-1zM31 69h1v1h-1zM8 70h1v1h-1zM9 70h1v1h-1zM28 70h1v1h-1zM30 70h1v1h-1zM31 70h1v1h-1zM34 70h1v1h-1zM38 70h1v1h-1zM25 71h1v1h-1zM49 71h1v1h-1zM51 71h1v1h-1zM52 71h1v1h-1zM8 72h1v1h-1zM8 73h1v1h-1zM31 73h1v1h-1zM32 73h1v1h-1zM50 73h1v1h-1zM22 74h1v1h-1zM52 74h1v1h-1zM59 74h1v1h-1zM10 75h1v1h-1zM21 75h1v1h-1zM58 75h1v1h-1zM60 75h1v1h-1zM65 75h1v1h-1zM68 75h1v1h-1zM10 76h1v1h-1zM12 76h1v1h-1zM7 77h1v1h-1zM13 77h1v1h-1zM8 78h1v1h-1zM8 79h1v1h-1zM10 79h1v1h-1zM13 79h1v1h-1zM16 79h1v1h-1zM17 79h1v1h-1zM19 79h1v1h-1zM46 79h1v1h-1zM56 79h1v1h-1zM16 80h1v1h-1zM19 80h1v1h-1zM22 80h1v1h-1zM49 80h1v1h-1zM12 81h1v1h-1zM15 81h1v1h-1zM46 81h1v1h-1z" fill="#a0aadc" fill-opacity="0.5"/>
<path d="M62 20h1v1h-1zM63 20h1v1h-1zM65 20h1v1h-1zM58 21h1v1h-1zM63 21h1v1h-1zM64 21h1v1h-1zM10 22h1v1h-1zM12 22h1v1h-1zM15 22h1v1h-1zM18 22h1v1h-1zM20 22h1v1h-1zM24 22h1v1h-1zM27 22h1v1h-1zM29 22h1v1h-1zM31 22h1v1h-1zM32 22h1v1h-1zM38 22h1v1h-1zM59 22h1v1h-1zM60 22h1v1h-1zM63 22h1v1h-1zM33 23h1v1h-1zM37 23h1v1h-1zM40 23h1v1h-1zM36 24h1v1h-1zM44 24h1v1h-1zM39 25h1v1h-1zM41 25h1v1h-1zM42 25h1v1h-1zM45 25h1v1h-1zM47 25h1v1h-1zM43 26h1v1h-1zM47 27h1v1h-1zM49 28h1v1h-1zM48 29h1v1h-1zM49 29h1v1h-1zM48 30h1v1h-1zM49 32h1v1h-1zM50 33h1v1h-1zM49 34h1v1h-1zM52 34h1v1h-1zM50 35h1v1h-1zM49 36h1v1h-1zM50 37h1v1h-1zM52 37h1v1h-1zM49 38h1v1h-1zM1 39h1v1h-1zM49 39h1v1h-1zM3 40h1v1h-1zM47 40h1v1h-1zM49 40h1v1h-1zM3 41h1v1h-1zM47 41h1v1h-1zM48 41h1v1h-1zM7 42h1v1h-1zM8 42h1v1h-1zM44 42h1v1h-1zM48 42h1v1h-1zM12 43h1v1h-1zM41 43h1v1h-1zM44 43h1v1h-1zM47 43h1v1h-1zM13 44h1v1h-1zM36 44h1v1h-1zM40 44h1v1h-1zM43 44h1v1h-1zM14 45h1v1h-1zM16 45h1v1h-1zM18 45h1v1h-1zM30 45h1v1h-1zM38 45h1v1h-1zM39 45h1v1h-1zM42 45h1v1h-1zM44 45h1v1h-1zM19 46h1v1h-1zM22 46h1v1h-1zM24 46h1v1h-1zM34 46h1v1h-1zM38 46h1v1h-1zM40 46h1v1h-1zM19 47h1v1h-1zM22 47h1v1h-1zM25 47h1v1h-1zM29 47h1v1h-1zM22 48h1v1h-1zM24 48h1v1h-1zM26 50h1v1h-1zM21 51h1v1h-1zM23 51h1v1h-1zM26 51h1v1h-1zM23 52h1v1h-1zM17 53h1v1h-1zM25 53h1v1h-1zM18 54h1v1h-1zM19 54h1v1h-1zM21 54h1v1h-1zM22 54h1v1h-1zM23 54h1v1h-1zM25 54h1v1h-1zM26 54h1v1h-1zM19 55h1v1h-1zM20 55h1v1h-1zM24 55h1v1h-1zM26 55h1v1h-1zM57 55h1v1h-1zM61 55h1v1h-1zM13 56h1v1h-1zM16 56h1v1h-1zM17 56h1v1h-1zM18 56h1v1h-1zM19 56h1v1h-1zM27 56h1v1h-1zM28 56h1v1h-1zM53 56h1v1h-1zM56 56h1v1h-1zM61 56h1v1h-1zM14 57h1v1h-1zM15 57h1v1h-1zM17 57h1v1h-1zM30 57h1v1h-1zM52 57h1v1h-1zM54 57h1v1h-1zM59 57h1v1h-1zM60 57h1v1h-1zM64 57h1v1h-1zM8 58h1v1h-1zM12 58h1v1h-1zM13 58h1v1h-1zM14 58h1v1h-1zM15 58h1v1h-1zM19 58h1v1h-1zM27 58h1v1h-1zM29 58h1v1h-1zM52 58h1v1h-1zM64 58h1v1h-1zM8 59h1v1h-1zM18 59h1v1h-1zM30 59h1v1h-1zM51 59h1v1h-1zM53 59h1v1h-1zM64 59h1v1h-1zM66 59h1v1h-1zM7 60h1v1h-1zM9 60h1v1h-1zM10 60h1v1h-1zM11 60h1v1h-1zM16 60h1v1h-1zM33 60h1v1h-1zM50 60h1v1h-1zM66 60h1v1h-1zM9 61h1v1h-1zM10 61h1v1h-1zM11 61h1v1h-1zM13 61h1v1h-1zM31 61h1v1h-1zM32 61h1v1h-1zM52 61h1v1h-1zM14 62h1v1h-1zM32 62h1v1h-1zM33 62h1v1h-1zM51 62h1v1h-1zM67 62h1v1h-1zM32 63h1v1h-1zM51 63h1v1h-1zM67 63h1v1h-1zM68 63h1v1h-1zM69 63h1v1h-1zM13 64h1v1h-1zM68 64h1v1h-1zM12 65h1v1h-1zM13 65h1v1h-1zM32 65h1v1h-1zM33 65h1v1h-1zM52 65h1v1h-1zM67 65h1v1h-1zM10 66h1v1h-1zM11 66h1v1h-1zM26 66h1v1h-1zM29 66h1v1h-1zM30 66h1v1h-1zM52 66h1v1h-1zM69 66h1v1h-1zM11 67h1v1h-1zM13 67h1v1h-1zM23 67h1v1h-1zM24 67h1v1h-1zM29 67h1v1h-1zM52 67h1v1h-1zM13 68h1v1h-1zM22 68h1v1h-1zM24 68h1v1h-1zM27 68h1v1h-1zM32 68h1v1h-1zM11 69h1v1h-1zM20 69h1v1h-1zM27 69h1v1h-1zM52 69h1v1h-1zM66 69h1v1h-1zM13 70h1v1h-1zM15 70h1v1h-1zM19 70h1v1h-1zM22 70h1v1h-1zM53 70h1v1h-1zM55 70h1v1h-1zM66 70h1v1h-1zM67 70h1v1h-1zM13 71h1v1h-1zM14 71h1v1h-1zM18 71h1v1h-1zM22 71h1v1h-1zM24 71h1v1h-1zM56 71h1v1h-1zM65 71h1v1h-1zM12 72h1v1h-1zM14 72h1v1h-1zM16 72h1v1h-1zM17 72h1v1h-1zM20 72h1v1h-1zM22 72h1v1h-1zM56 72h1v1h-1zM60 72h1v1h-1zM13 73h1v1h-1zM14 73h1v1h-1zM22 73h1v1h-1zM56 73h1v1h-1zM62 73h1v1h-1zM64 73h1v1h-1zM16 74h1v1h-1zM17 74h1v1h-1zM20 74h1v1h-1zM21 74h1v1h-1zM13 75h1v1h-1zM16 75h1v1h-1zM19 75h1v1h-1zM14 77h1v1h-1z" fill="#a0a0dc" fill-opacity="0.5"/>
<path d="M21 23h1v1h-1zM23 23h1v1h-1zM24 23h1v1h-1zM30 23h1v1h-1zM32 23h1v1h-1zM25 24h1v1h-1zM28 24h1v1h-1zM29 24h1v1h-1zM32 24h1v1h-1zM34 24h1v1h-1zM35 24h1v1h-1zM33 25h1v1h-1zM34 25h1v1h-1zM35 25h1v1h-1zM38 25h1v1h-1zM35 26h1v1h-1zM40 26h1v1h-1zM38 27h1v1h-1zM43 27h1v1h-1zM41 28h1v1h-1zM43 28h1v1h-1zM44 28h1v1h-1zM46 29h1v1h-1zM47 29h1v1h-1zM46 30h1v1h-1zM47 30h1v1h-1zM45 31h1v1h-1zM47 31h1v1h-1zM46 32h1v1h-1zM47 32h1v1h-1zM48 32h1v1h-1zM46 34h1v1h-1zM46 35h1v1h-1zM48 35h1v1h-1zM46 36h1v1h-1zM48 36h1v1h-1zM46 37h1v1h-1zM48 37h1v1h-1zM45 38h1v1h-1zM43 39h1v1h-1zM44 39h1v1h-1zM46 39h1v1h-1zM47 39h1v1h-1zM42 41h1v1h-1zM44 41h1v1h-1zM12 42h1v1h-1zM16 42h1v1h-1zM40 42h1v1h-1zM43 42h1v1h-1zM18 43h1v1h-1zM19 43h1v1h-1zM33 43h1v1h-1zM38 43h1v1h-1zM28 44h1v1h-1zM30 44h1v1h-1zM31 44h1v1h-1zM33 44h1v1h-1zM22 45h1v1h-1zM26 45h1v1h-1zM27 45h1v1h-1zM29 45h1v1h-1zM22 56h1v1h-1zM23 56h1v1h-1zM24 56h1v1h-1zM21 57h1v1h-1zM22 57h1v1h-1zM25 57h1v1h-1zM20 58h1v1h-1zM22 58h1v1h-1zM24 58h1v1h-1zM25 58h1v1h-1zM57 58h1v1h-1zM58 58h1v1h-1zM62 58h1v1h-1zM23 59h1v1h-1zM25 59h1v1h-1zM26 59h1v1h-1zM57 59h1v1h-1zM59 59h1v1h-1zM60 59h1v1h-1zM62 59h1v1h-1zM63 59h1v1h-1zM21 60h1v1h-1zM22 60h1v1h-1zM23 60h1v1h-1zM55 60h1v1h-1zM57 60h1v1h-1zM63 60h1v1h-1zM18 61h1v1h-1zM23 61h1v1h-1zM30 61h1v1h-1zM53 61h1v1h-1zM54 61h1v1h-1zM65 61h1v1h-1zM19 62h1v1h-1zM28 62h1v1h-1zM29 62h1v1h-1zM31 62h1v1h-1zM53 62h1v1h-1zM54 62h1v1h-1zM17 63h1v1h-1zM18 63h1v1h-1zM20 63h1v1h-1zM24 63h1v1h-1zM25 63h1v1h-1zM26 63h1v1h-1zM27 63h1v1h-1zM28 63h1v1h-1zM29 63h1v1h-1zM30 63h1v1h-1zM53 63h1v1h-1zM14 64h1v1h-1zM17 64h1v1h-1zM19 64h1v1h-1zM20 64h1v1h-1zM21 64h1v1h-1zM22 64h1v1h-1zM24 64h1v1h-1zM26 64h1v1h-1zM28 64h1v1h-1zM30 64h1v1h-1zM31 64h1v1h-1zM67 64h1v1h-1zM14 65h1v1h-1zM15 65h1v1h-1zM17 65h1v1h-1zM20 65h1v1h-1zM25 65h1v1h-1zM16 66h1v1h-1zM17 66h1v1h-1zM19 66h1v1h-1zM20 66h1v1h-1zM21 66h1v1h-1zM23 66h1v1h-1zM54 66h1v1h-1zM65 66h1v1h-1zM16 67h1v1h-1zM18 67h1v1h-1zM22 67h1v1h-1zM53 67h1v1h-1zM54 67h1v1h-1zM65 67h1v1h-1zM17 68h1v1h-1zM18 68h1v1h-1zM19 68h1v1h-1zM55 68h1v1h-1zM66 68h1v1h-1zM16 69h1v1h-1zM55 69h1v1h-1zM64 69h1v1h-1zM60 70h1v1h-1zM62 70h1v1h-1zM64 70h1v1h-1zM58 71h1v1h-1zM59 71h1v1h-1zM62 71h1v1h-1zM63 71h1v1h-1z" fill="#96a0dc" fill-opacity="0.5"/>
<path d="M11 24h1v1h-1zM19 25h1v1h-1zM28 28h1v1h-1zM35 30h1v1h-1zM0 36h1v1h-1zM33 38h1v1h-1zM30 39h1v1h-1z" fill="#8c8cd2" fill-opacity="0.7"/>
<path d="M20 24h1v1h-1zM29 26h1v1h-1zM31 26h1v1h-1zM34 27h1v1h-1zM37 28h1v1h-1zM40 29h1v1h-1zM41 30h1v1h-1zM43 36h1v1h-1zM0 37h1v1h-1zM42 37h1v1h-1zM41 38h1v1h-1zM37 40h1v1h-1zM15 41h1v1h-1zM16 41h1v1h-1zM33 41h1v1h-1zM21 42h1v1h-1zM29 42h1v1h-1zM30 42h1v1h-1zM31 42h1v1h-1zM57 62h1v1h-1zM62 62h1v1h-1zM56 63h1v1h-1zM63 64h1v1h-1zM63 65h1v1h-1zM56 66h1v1h-1zM63 67h1v1h-1zM59 68h1v1h-1zM60 68h1v1h-1z" fill="#8c96dc" fill-opacity="0.6"/>
<path d="M21 24h1v1h-1zM43 32h1v1h-1zM39 40h1v1h-1zM35 41h1v1h-1zM32 42h1v1h-1zM24 43h1v1h-1zM58 61h1v1h-1z" fill="#9696dc" fill-opacity="0.6"/>
<path d="M22 24h1v1h-1zM23 24h1v1h-1zM1 25h1v1h-1zM26 25h1v1h-1zM27 25h1v1h-1zM28 25h1v1h-1zM29 25h1v1h-1zM30 25h1v1h-1zM32 25h1v1h-1zM35 27h1v1h-1zM39 28h1v1h-1zM42 30h1v1h-1zM43 30h1v1h-1zM44 31h1v1h-1zM44 33h1v1h-1zM44 34h1v1h-1zM45 34h1v1h-1zM44 35h1v1h-1zM45 35h1v1h-1zM44 36h1v1h-1zM43 38h1v1h-1zM44 38h1v1h-1zM40 40h1v1h-1zM12 41h1v1h-1zM37 41h1v1h-1zM38 41h1v1h-1zM39 41h1v1h-1zM17 42h1v1h-1zM18 42h1v1h-1zM34 42h1v1h-1zM21 43h1v1h-1zM22 43h1v1h-1zM25 43h1v1h-1zM31 43h1v1h-1zM59 60h1v1h-1zM57 61h1v1h-1zM55 62h1v1h-1zM56 62h1v1h-1zM63 62h1v1h-1zM64 62h1v1h-1zM64 63h1v1h-1zM64 64h1v1h-1zM65 64h1v1h-1zM55 65h1v1h-1zM65 65h1v1h-1zM64 66h1v1h-1zM56 67h1v1h-1zM64 67h1v1h-1zM56 68h1v1h-1zM60 69h1v1h-1zM61 69h1v1h-1zM62 69h1v1h-1zM63 69h1v1h-1z" fill="#9696dc" fill-opacity="0.5"/>
<path d="M10 25h1v1h-1zM15 26h1v1h-1zM16 26h1v1h-1zM2 27h1v1h-1zM18 27h1v1h-1zM19 27h1v1h-1zM21 28h1v1h-1zM0 29h1v1h-1zM22 29h1v1h-1zM23 29h1v1h-1zM24 30h1v1h-1zM24 31h1v1h-1zM24 32h1v1h-1zM25 32h1v1h-1zM24 33h1v1h-1zM25 33h1v1h-1zM0 34h1v1h-1zM24 34h1v1h-1zM1 35h1v1h-1zM22 35h1v1h-1zM23 35h1v1h-1zM2 36h1v1h-1zM20 36h1v1h-1zM21 36h1v1h-1zM22 36h1v1h-1zM19 37h1v1h-1zM20 37h1v1h-1zM12 38h1v1h-1zM13 38h1v1h-1zM14 38h1v1h-1zM15 38h1v1h-1zM16 38h1v1h-1z" fill="#6e78c8" fill-opacity="0.9"/>
<path d="M18 25h1v1h-1zM21 26h1v1h-1zM22 26h1v1h-1zM0 27h1v1h-1zM23 27h1v1h-1zM24 27h1v1h-1zM26 28h1v1h-1zM27 29h1v1h-1zM28 29h1v1h-1zM30 29h1v1h-1zM29 30h1v1h-1zM30 30h1v1h-1zM31 30h1v1h-1zM33 30h1v1h-1zM34 30h1v1h-1zM33 31h1v1h-1zM34 31h1v1h-1zM35 31h1v1h-1zM37 31h1v1h-1zM38 31h1v1h-1zM33 32h1v1h-1zM36 32h1v1h-1zM37 32h1v1h-1zM38 32h1v1h-1zM36 33h1v1h-1zM37 33h1v1h-1zM38 33h1v1h-1zM39 33h1v1h-1zM37 34h1v1h-1zM38 34h1v1h-1zM33 35h1v1h-1zM36 35h1v1h-1zM38 35h1v1h-1zM33 36h1v1h-1zM35 36h1v1h-1zM36 36h1v1h-1zM38 36h1v1h-1zM26 37h1v1h-1zM27 37h1v1h-1zM28 37h1v1h-1zM29 37h1v1h-1zM30 37h1v1h-1zM32 37h1v1h-1zM35 37h1v1h-1zM36 37h1v1h-1zM24 38h1v1h-1zM27 38h1v1h-1zM31 38h1v1h-1zM32 38h1v1h-1zM8 39h1v1h-1zM19 39h1v1h-1zM21 39h1v1h-1zM22 39h1v1h-1zM24 39h1v1h-1zM26 39h1v1h-1zM27 39h1v1h-1zM29 39h1v1h-1z" fill="#828cd2" fill-opacity="0.7"/>
<path d="M22 25h1v1h-1zM25 26h1v1h-1zM27 26h1v1h-1zM28 27h1v1h-1zM31 27h1v1h-1zM32 27h1v1h-1zM32 28h1v1h-1zM35 28h1v1h-1zM36 29h1v1h-1zM39 29h1v1h-1zM40 30h1v1h-1zM41 31h1v1h-1zM41 32h1v1h-1zM42 32h1v1h-1zM41 34h1v1h-1zM41 36h1v1h-1zM40 37h1v1h-1zM39 38h1v1h-1zM40 38h1v1h-1zM35 39h1v1h-1zM38 39h1v1h-1zM39 39h1v1h-1zM18 41h1v1h-1zM20 41h1v1h-1zM21 41h1v1h-1zM23 41h1v1h-1zM25 41h1v1h-1zM26 41h1v1h-1zM27 41h1v1h-1zM28 41h1v1h-1zM32 41h1v1h-1zM22 42h1v1h-1zM23 42h1v1h-1zM24 42h1v1h-1zM26 42h1v1h-1zM27 42h1v1h-1zM60 62h1v1h-1zM61 62h1v1h-1zM59 63h1v1h-1zM60 63h1v1h-1zM61 63h1v1h-1zM62 63h1v1h-1zM57 64h1v1h-1zM58 64h1v1h-1zM60 64h1v1h-1zM61 64h1v1h-1zM57 65h1v1h-1zM62 65h1v1h-1zM57 66h1v1h-1zM58 66h1v1h-1zM61 66h1v1h-1zM58 67h1v1h-1zM59 67h1v1h-1zM60 67h1v1h-1zM61 67h1v1h-1zM62 67h1v1h-1z" fill="#8c96d2" fill-opacity="0.6"/>
<path d="M2 26h1v1h-1zM19 26h1v1h-1zM22 27h1v1h-1zM23 28h1v1h-1zM25 29h1v1h-1zM25 30h1v1h-1zM26 30h1v1h-1zM26 31h1v1h-1zM27 31h1v1h-1zM28 31h1v1h-1zM29 31h1v1h-1zM27 32h1v1h-1zM28 33h1v1h-1zM29 33h1v1h-1zM30 33h1v1h-1zM31 33h1v1h-1zM27 34h1v1h-1zM28 34h1v1h-1zM29 34h1v1h-1zM30 34h1v1h-1zM25 35h1v1h-1zM26 35h1v1h-1zM28 35h1v1h-1zM29 35h1v1h-1zM30 35h1v1h-1zM23 36h1v1h-1zM24 36h1v1h-1zM21 37h1v1h-1zM22 37h1v1h-1zM23 37h1v1h-1zM19 38h1v1h-1zM20 38h1v1h-1z" fill="#7882c8" fill-opacity="0.8"/>
<path d="M5 26h1v1h-1zM16 27h1v1h-1zM19 28h1v1h-1zM20 29h1v1h-1zM21 30h1v1h-1zM0 31h1v1h-1zM22 31h1v1h-1zM0 32h1v1h-1zM22 32h1v1h-1zM22 33h1v1h-1zM21 34h1v1h-1zM20 35h1v1h-1zM18 36h1v1h-1zM19 36h1v1h-1zM6 37h1v1h-1zM16 37h1v1h-1z" fill="#646ebe"/>
<path d="M6 26h1v1h-1zM11 26h1v1h-1zM12 26h1v1h-1zM3 27h1v1h-1zM18 28h1v1h-1zM1 29h1v1h-1zM21 31h1v1h-1zM21 32h1v1h-1zM21 33h1v1h-1zM1 34h1v1h-1zM20 34h1v1h-1zM2 35h1v1h-1zM19 35h1v1h-1zM7 37h1v1h-1zM8 37h1v1h-1zM14 37h1v1h-1zM15 37h1v1h-1z" fill="#5a6ebe"/>
<path d="M8 26h1v1h-1zM9 26h1v1h-1zM10 26h1v1h-1zM15 27h1v1h-1zM2 28h1v1h-1zM19 29h1v1h-1zM20 30h1v1h-1zM4 36h1v1h-1zM17 36h1v1h-1zM9 37h1v1h-1z" fill="#5a64be"/>
<path d="M17 26h1v1h-1zM22 28h1v1h-1zM26 32h1v1h-1zM26 33h1v1h-1zM25 34h1v1h-1zM24 35h1v1h-1zM3 37h1v1h-1zM17 38h1v1h-1z" fill="#7878c8" fill-opacity="0.8"/>
<path d="M20 26h1v1h-1zM26 29h1v1h-1zM28 30h1v1h-1zM30 31h1v1h-1zM32 32h1v1h-1zM34 33h1v1h-1zM35 33h1v1h-1zM33 34h1v1h-1zM34 34h1v1h-1zM35 34h1v1h-1zM32 35h1v1h-1zM30 36h1v1h-1zM31 36h1v1h-1zM25 37h1v1h-1zM16 39h1v1h-1zM17 39h1v1h-1z" fill="#8282d2" fill-opacity="0.7"/>
<path d="M4 27h1v1h-1zM14 27h1v1h-1zM18 29h1v1h-1zM1 30h1v1h-1zM20 31h1v1h-1zM20 32h1v1h-1zM1 33h1v1h-1zM20 33h1v1h-1zM19 34h1v1h-1zM18 35h1v1h-1zM16 36h1v1h-1z" fill="#5064b4"/>
<path d="M5 27h1v1h-1zM12 27h1v1h-1zM3 28h1v1h-1zM2 29h1v1h-1zM17 29h1v1h-1zM18 30h1v1h-1zM19 31h1v1h-1zM19 32h1v1h-1zM18 34h1v1h-1zM6 36h1v1h-1zM14 36h1v1h-1z" fill="#5078be"/>
<path d="M6 27h1v1h-1zM18 33h1v1h-1zM16 35h1v1h-1zM13 36h1v1h-1z" fill="#4682be"/>
<path d="M7 27h1v1h-1zM10 27h1v1h-1zM11 27h1v1h-1zM16 29h1v1h-1zM2 30h1v1h-1zM18 31h1v1h-1zM18 32h1v1h-1zM2 33h1v1h-1zM17 34h1v1h-1zM4 35h1v1h-1zM9 36h1v1h-1zM10 36h1v1h-1zM11 36h1v1h-1zM12 36h1v1h-1z" fill="#468cbe"/>
<path d="M9 27h1v1h-1zM4 28h1v1h-1zM14 28h1v1h-1zM17 30h1v1h-1zM3 34h1v1h-1zM15 35h1v1h-1z" fill="#4696be"/>
<path d="M13 27h1v1h-1zM19 33h1v1h-1zM17 35h1v1h-1zM15 36h1v1h-1z" fill="#506ebe"/>
<path d="M17 27h1v1h-1z" fill="#6478be"/>
<path d="M5 28h1v1h-1zM16 30h1v1h-1zM6 35h1v1h-1z" fill="#50aaaa"/>
<path d="M6 28h1v1h-1zM11 28h1v1h-1zM14 29h1v1h-1zM16 32h1v1h-1zM8 35h1v1h-1zM12 35h1v1h-1z" fill="#5ab48c"/>
<path d="M7 28h1v1h-1zM8 28h1v1h-1zM9 28h1v1h-1zM10 28h1v1h-1zM3 31h1v1h-1zM5 34h1v1h-1zM9 35h1v1h-1zM10 35h1v1h-1zM11 35h1v1h-1z" fill="#5ab478"/>
<path d="M12 28h1v1h-1zM3 33h1v1h-1zM4 34h1v1h-1z" fill="#50aaa0"/>
<path d="M13 28h1v1h-1zM15 29h1v1h-1zM17 32h1v1h-1zM14 35h1v1h-1z" fill="#46a0b4"/>
<path d="M15 28h1v1h-1zM7 36h1v1h-1z" fill="#5082be"/>
<path d="M17 28h1v1h-1zM10 37h1v1h-1z" fill="#5064be"/>
<path d="M24 28h1v1h-1zM31 32h1v1h-1zM32 33h1v1h-1zM32 34h1v1h-1zM31 35h1v1h-1zM28 36h1v1h-1zM2 37h1v1h-1zM12 39h1v1h-1z" fill="#7882d2" fill-opacity="0.7"/>
<path d="M30 28h1v1h-1zM32 29h1v1h-1zM33 29h1v1h-1zM37 30h1v1h-1zM38 30h1v1h-1zM39 31h1v1h-1zM40 33h1v1h-1zM40 34h1v1h-1zM37 37h1v1h-1zM38 37h1v1h-1zM39 37h1v1h-1zM34 38h1v1h-1zM36 38h1v1h-1zM31 39h1v1h-1zM32 39h1v1h-1zM33 39h1v1h-1zM12 40h1v1h-1zM13 40h1v1h-1zM16 40h1v1h-1zM17 40h1v1h-1zM20 40h1v1h-1zM23 40h1v1h-1zM25 40h1v1h-1zM26 40h1v1h-1zM28 40h1v1h-1zM29 40h1v1h-1zM30 40h1v1h-1z" fill="#8c8cd2" fill-opacity="0.6"/>
<path d="M3 29h1v1h-1zM17 31h1v1h-1zM16 34h1v1h-1z" fill="#46a0be"/>
<path d="M4 29h1v1h-1zM15 30h1v1h-1zM3 32h1v1h-1z" fill="#5ab482"/>
<path d="M5 29h1v1h-1zM15 32h1v1h-1zM6 34h1v1h-1z" fill="#6ebe5a"/>
<path d="M6 29h1v1h-1zM4 31h1v1h-1zM4 32h1v1h-1zM7 34h1v1h-1zM12 34h1v1h-1z" fill="#8cc850"/>
<path d="M7 29h1v1h-1zM13 30h1v1h-1zM14 32h1v1h-1zM8 34h1v1h-1zM9 34h1v1h-1zM11 34h1v1h-1z" fill="#a0c846"/>
<path d="M8 29h1v1h-1z" fill="#aad23c"/>
<path d="M9 29h1v1h-1zM13 33h1v1h-1z" fill="#b4d23c"/>
<path d="M10 29h1v1h-1zM5 30h1v1h-1zM10 34h1v1h-1z" fill="#aac83c"/>
<path d="M11 29h1v1h-1zM14 31h1v1h-1z" fill="#96c846"/>
<path d="M12 29h1v1h-1z" fill="#82be50"/>
<path d="M13 29h1v1h-1zM15 31h1v1h-1zM4 33h1v1h-1z" fill="#64be64"/>
<path d="M21 29h1v1h-1zM0 30h1v1h-1zM22 30h1v1h-1zM23 31h1v1h-1zM23 32h1v1h-1zM22 34h1v1h-1z" fill="#6478c8"/>
<path d="M3 30h1v1h-1zM16 31h1v1h-1z" fill="#50aa8c"/>
<path d="M4 30h1v1h-1zM14 30h1v1h-1zM13 34h1v1h-1z" fill="#78be5a"/>
<path d="M6 30h1v1h-1zM12 33h1v1h-1z" fill="#d2d232"/>
<path d="M7 30h1v1h-1zM11 30h1v1h-1zM6 32h1v1h-1zM8 33h1v1h-1zM11 33h1v1h-1z" fill="#dcd228"/>
<path d="M8 30h1v1h-1zM9 30h1v1h-1zM10 30h1v1h-1zM6 31h1v1h-1zM12 31h1v1h-1zM12 32h1v1h-1zM9 33h1v1h-1zM10 33h1v1h-1z" fill="#dcc828"/>
<path d="M12 30h1v1h-1zM5 31h1v1h-1zM13 31h1v1h-1zM13 32h1v1h-1z" fill="#c8d232"/>
<path d="M1 31h1v1h-1zM1 32h1v1h-1zM3 35h1v1h-1z" fill="#506eb4"/>
<path d="M2 31h1v1h-1zM2 32h1v1h-1zM17 33h1v1h-1zM5 35h1v1h-1z" fill="#46a0c8"/>
<path d="M7 31h1v1h-1zM11 31h1v1h-1zM7 32h1v1h-1zM11 32h1v1h-1z" fill="#e6be28"/>
<path d="M8 31h1v1h-1zM10 31h1v1h-1zM8 32h1v1h-1zM9 32h1v1h-1zM10 32h1v1h-1z" fill="#e6b428"/>
<path d="M9 31h1v1h-1z" fill="#f0b428"/>
<path d="M5 32h1v1h-1z" fill="#bed232"/>
<path d="M0 33h1v1h-1z" fill="#6478c8" fill-opacity="0.9"/>
<path d="M6 33h1v1h-1z" fill="#bed23c"/>
<path d="M7 33h1v1h-1z" fill="#d2dc28"/>
<path d="M14 33h1v1h-1z" fill="#82c850"/>
<path d="M15 33h1v1h-1zM14 34h1v1h-1z" fill="#64b46e"/>
<path d="M16 33h1v1h-1zM15 34h1v1h-1zM7 35h1v1h-1zM13 35h1v1h-1z" fill="#50aa96"/>
</g>
<line x1="170.5" y1="208.7" x2="170.5" y2="249.9" stroke="#e2aade" stroke-width="0.75"/>
<line x1="152.4" y1="234.5" x2="193.6" y2="234.5" stroke="#e2aade" stroke-width="0.75"/>
<rect x="152.4" y="208.7" width="41.2" height="41.2" fill="none" stroke="#a8a8a8" stroke-width="0.6"/>
<text x="153.2" y="212" font-size="2.7" fill="#444">82.4</text>
<text x="192.8" y="212" font-size="2.7" text-anchor="end" fill="#444">0.32</text>
<text x="153.2" y="249" font-size="2.7" fill="#444">8.36</text>
<text x="192.8" y="249" font-size="2.7" text-anchor="end" fill="#444">8.86</text>
<text x="148.8" y="212.8" font-size="6.3" text-anchor="end">10<tspan dy="-2.6" font-size="4.54">4</tspan></text>
<text x="148.8" y="222.65" font-size="6.3" text-anchor="end">10<tspan dy="-2.6" font-size="4.54">3</tspan></text>
<text x="148.8" y="232.5" font-size="6.3" text-anchor="end">10<tspan dy="-2.6" font-size="4.54">2</tspan></text>
<text x="148.8" y="242.35" font-size="6.3" text-anchor="end">10<tspan dy="-2.6" font-size="4.54">1</tspan></text>
<text x="148.8" y="252.2" font-size="6.3" text-anchor="end">10<tspan dy="-2.6" font-size="4.54">0</tspan></text>
<text x="153.46" y="259.8" font-size="6.2" text-anchor="middle">10<tspan dy="-2.6" font-size="4.46">0</tspan></text>
<text x="163.53" y="259.8" font-size="6.2" text-anchor="middle">10<tspan dy="-2.6" font-size="4.46">1</tspan></text>
<text x="173.6" y="259.8" font-size="6.2" text-anchor="middle">10<tspan dy="-2.6" font-size="4.46">2</tspan></text>
<text x="183.67" y="259.8" font-size="6.2" text-anchor="middle">10<tspan dy="-2.6" font-size="4.46">3</tspan></text>
<text x="193.74" y="259.8" font-size="6.2" text-anchor="middle">10<tspan dy="-2.6" font-size="4.46">4</tspan></text>
<rect x="221.4" y="208.7" width="41.2" height="41.2" fill="#fff"/>
<g transform="translate(221.4 208.7) scale(0.5)">
<path d="M30 1h1v1h-1zM35 1h1v1h-1zM1 3h1v1h-1zM2 4h1v1h-1zM79 6h1v1h-1zM80 7h1v1h-1zM50 9h1v1h-1zM76 9h1v1h-1zM76 10h1v1h-1zM62 13h1v1h-1zM47 14h1v1h-1zM55 14h1v1h-1zM68 14h1v1h-1zM45 15h1v1h-1zM49 17h1v1h-1zM55 17h1v1h-1zM74 25h1v1h-1zM76 30h1v1h-1zM75 32h1v1h-1zM76 33h1v1h-1zM75 42h1v1h-1zM1 43h1v1h-1zM79 45h1v1h-1z" fill="#aaaadc" fill-opacity="0.5"/>
<path d="M28 2h1v1h-1zM16 4h1v1h-1zM30 4h1v1h-1zM33 4h1v1h-1zM0 6h1v1h-1zM11 6h1v1h-1zM13 6h1v1h-1zM15 6h1v1h-1zM21 6h1v1h-1zM28 6h1v1h-1zM10 7h1v1h-1zM21 7h1v1h-1zM27 7h1v1h-1zM1 8h1v1h-1zM15 8h1v1h-1zM28 9h1v1h-1zM31 9h1v1h-1zM38 9h1v1h-1zM29 10h1v1h-1zM6 11h1v1h-1zM37 11h1v1h-1zM38 12h1v1h-1zM40 12h1v1h-1zM36 13h1v1h-1zM37 13h1v1h-1zM70 15h1v1h-1zM64 17h1v1h-1zM63 18h1v1h-1zM71 18h1v1h-1zM72 18h1v1h-1zM44 19h1v1h-1zM59 19h1v1h-1zM41 20h1v1h-1zM64 20h1v1h-1zM70 20h1v1h-1zM40 21h1v1h-1zM48 21h1v1h-1zM68 21h1v1h-1zM47 22h1v1h-1zM59 22h1v1h-1zM61 22h1v1h-1zM70 22h1v1h-1zM55 23h1v1h-1zM57 23h1v1h-1zM46 24h1v1h-1zM49 24h1v1h-1zM62 24h1v1h-1zM68 24h1v1h-1zM40 25h1v1h-1zM44 25h1v1h-1zM53 25h1v1h-1zM63 25h1v1h-1zM67 25h1v1h-1zM68 26h1v1h-1zM69 26h1v1h-1zM42 27h1v1h-1zM40 28h1v1h-1zM51 28h1v1h-1zM65 28h1v1h-1zM66 28h1v1h-1zM59 29h1v1h-1zM62 29h1v1h-1zM72 29h1v1h-1zM41 30h1v1h-1zM51 30h1v1h-1zM58 30h1v1h-1zM68 30h1v1h-1zM49 31h1v1h-1zM65 31h1v1h-1zM51 32h1v1h-1zM52 32h1v1h-1zM58 32h1v1h-1zM35 33h1v1h-1zM38 33h1v1h-1zM40 33h1v1h-1zM48 33h1v1h-1zM52 33h1v1h-1zM60 33h1v1h-1zM47 34h1v1h-1zM51 35h1v1h-1zM68 35h1v1h-1zM46 36h1v1h-1zM49 36h1v1h-1zM56 36h1v1h-1zM58 36h1v1h-1zM67 36h1v1h-1zM1 37h1v1h-1zM64 37h1v1h-1zM57 38h1v1h-1zM62 38h1v1h-1zM68 38h1v1h-1zM42 39h1v1h-1zM54 39h1v1h-1zM64 39h1v1h-1zM57 40h1v1h-1zM66 40h1v1h-1zM69 40h1v1h-1zM4 41h1v1h-1zM57 41h1v1h-1zM59 42h1v1h-1zM62 42h1v1h-1zM67 42h1v1h-1zM63 43h1v1h-1zM66 43h1v1h-1zM10 44h1v1h-1zM5 46h1v1h-1zM7 46h1v1h-1zM1 47h1v1h-1zM10 47h1v1h-1zM78 47h1v1h-1zM10 48h1v1h-1zM6 49h1v1h-1zM74 49h1v1h-1zM77 49h1v1h-1zM3 50h1v1h-1zM0 51h1v1h-1zM81 62h1v1h-1zM81 72h1v1h-1zM81 75h1v1h-1zM3 78h1v1h-1zM1 79h1v1h-1zM3 80h1v1h-1zM81 80h1v1h-1zM79 81h1v1h-1z" fill="#a0aadc" fill-opacity="0.5"/>
<path d="M19 8h1v1h-1zM21 8h1v1h-1zM25 8h1v1h-1zM16 10h1v1h-1zM23 10h1v1h-1zM26 10h1v1h-1zM10 11h1v1h-1zM1 12h1v1h-1zM2 12h1v1h-1zM10 12h1v1h-1zM13 12h1v1h-1zM28 12h1v1h-1zM1 13h1v1h-1zM30 13h1v1h-1zM0 14h1v1h-1zM31 14h1v1h-1zM33 15h1v1h-1zM34 17h1v1h-1zM35 17h1v1h-1zM35 18h1v1h-1zM37 18h1v1h-1zM37 20h1v1h-1zM37 21h1v1h-1zM39 24h1v1h-1zM65 26h1v1h-1zM66 27h1v1h-1zM36 28h1v1h-1zM39 28h1v1h-1zM37 30h1v1h-1zM34 32h1v1h-1zM31 33h1v1h-1zM34 33h1v1h-1zM28 36h1v1h-1zM5 37h1v1h-1zM50 37h1v1h-1zM8 38h1v1h-1zM9 38h1v1h-1zM28 38h1v1h-1zM31 38h1v1h-1zM35 38h1v1h-1zM50 38h1v1h-1zM6 39h1v1h-1zM7 39h1v1h-1zM25 39h1v1h-1zM32 39h1v1h-1zM35 39h1v1h-1zM40 39h1v1h-1zM51 39h1v1h-1zM33 40h1v1h-1zM49 40h1v1h-1zM12 41h1v1h-1zM39 41h1v1h-1zM44 41h1v1h-1zM45 41h1v1h-1zM47 41h1v1h-1zM52 41h1v1h-1zM11 42h1v1h-1zM14 42h1v1h-1zM26 42h1v1h-1zM30 42h1v1h-1zM31 42h1v1h-1zM40 42h1v1h-1zM42 42h1v1h-1zM48 42h1v1h-1zM51 42h1v1h-1zM13 43h1v1h-1zM14 43h1v1h-1zM20 43h1v1h-1zM26 43h1v1h-1zM28 43h1v1h-1zM46 43h1v1h-1zM52 43h1v1h-1zM28 44h1v1h-1zM30 44h1v1h-1zM51 44h1v1h-1zM55 44h1v1h-1zM52 45h1v1h-1zM58 45h1v1h-1zM59 45h1v1h-1zM16 46h1v1h-1zM22 46h1v1h-1zM27 46h1v1h-1zM57 46h1v1h-1zM13 47h1v1h-1zM15 47h1v1h-1zM18 47h1v1h-1zM23 47h1v1h-1zM24 47h1v1h-1zM58 47h1v1h-1zM59 47h1v1h-1zM15 48h1v1h-1zM23 48h1v1h-1zM59 48h1v1h-1zM67 48h1v1h-1zM61 49h1v1h-1zM65 49h1v1h-1zM67 49h1v1h-1zM71 49h1v1h-1zM6 50h1v1h-1zM18 50h1v1h-1zM19 50h1v1h-1zM64 50h1v1h-1zM69 50h1v1h-1zM70 50h1v1h-1zM6 51h1v1h-1zM3 52h1v1h-1zM1 53h1v1h-1zM2 53h1v1h-1zM9 54h1v1h-1zM78 54h1v1h-1zM0 55h1v1h-1zM2 55h1v1h-1zM4 55h1v1h-1zM5 55h1v1h-1zM79 55h1v1h-1zM0 56h1v1h-1zM1 56h1v1h-1zM1 57h1v1h-1zM80 57h1v1h-1zM2 60h1v1h-1zM80 60h1v1h-1zM79 67h1v1h-1zM0 69h1v1h-1zM78 70h1v1h-1zM80 71h1v1h-1zM78 73h1v1h-1zM3 74h1v1h-1zM5 74h1v1h-1zM77 75h1v1h-1zM5 76h1v1h-1zM76 76h1v1h-1zM5 78h1v1h-1zM6 78h1v1h-1zM6 79h1v1h-1zM78 79h1v1h-1zM75 80h1v1h-1zM76 80h1v1h-1zM77 80h1v1h-1zM8 81h1v1h-1zM9 81h1v1h-1zM22 81h1v1h-1zM23 81h1v1h-1zM40 81h1v1h-1zM42 81h1v1h-1zM48 81h1v1h-1zM71 81h1v1h-1zM72 81h1v1h-1z" fill="#a0a0dc" fill-opacity="0.5"/>
<path d="M19 11h1v1h-1zM20 11h1v1h-1zM15 13h1v1h-1zM13 14h1v1h-1zM1 15h1v1h-1zM5 15h1v1h-1zM6 15h1v1h-1zM10 15h1v1h-1zM11 15h1v1h-1zM28 17h1v1h-1zM31 19h1v1h-1zM32 19h1v1h-1zM32 20h1v1h-1zM33 21h1v1h-1zM34 23h1v1h-1zM34 26h1v1h-1zM33 27h1v1h-1zM0 31h1v1h-1zM29 31h1v1h-1zM1 32h1v1h-1zM5 34h1v1h-1zM25 34h1v1h-1zM24 35h1v1h-1zM23 36h1v1h-1zM14 38h1v1h-1zM19 39h1v1h-1zM20 39h1v1h-1zM36 44h1v1h-1zM37 44h1v1h-1zM37 45h1v1h-1zM34 46h1v1h-1zM43 46h1v1h-1zM32 47h1v1h-1zM43 47h1v1h-1zM26 49h1v1h-1zM53 50h1v1h-1zM54 50h1v1h-1zM59 51h1v1h-1zM15 52h1v1h-1zM16 52h1v1h-1zM72 53h1v1h-1zM74 54h1v1h-1zM75 54h1v1h-1zM11 58h1v1h-1zM7 59h1v1h-1zM5 60h1v1h-1zM6 60h1v1h-1zM78 62h1v1h-1zM3 63h1v1h-1zM77 65h1v1h-1zM1 67h1v1h-1zM3 70h1v1h-1zM7 72h1v1h-1zM7 74h1v1h-1zM74 75h1v1h-1zM8 77h1v1h-1zM37 79h1v1h-1zM39 79h1v1h-1zM46 79h1v1h-1zM57 79h1v1h-1zM12 80h1v1h-1zM14 80h1v1h-1zM16 80h1v1h-1zM27 80h1v1h-1zM50 80h1v1h-1zM52 80h1v1h-1zM55 80h1v1h-1zM68 80h1v1h-1z" fill="#9696dc" fill-opacity="0.5"/>
<path d="M15 12h1v1h-1zM2 14h1v1h-1zM4 14h1v1h-1zM6 14h1v1h-1zM10 14h1v1h-1zM0 15h1v1h-1zM27 15h1v1h-1zM28 16h1v1h-1zM32 17h1v1h-1zM33 18h1v1h-1zM36 24h1v1h-1zM34 27h1v1h-1zM36 27h1v1h-1zM35 28h1v1h-1zM31 30h1v1h-1zM32 30h1v1h-1zM0 32h1v1h-1zM28 32h1v1h-1zM29 32h1v1h-1zM30 32h1v1h-1zM1 33h1v1h-1zM28 33h1v1h-1zM6 35h1v1h-1zM26 35h1v1h-1zM7 36h1v1h-1zM25 37h1v1h-1zM10 38h1v1h-1zM13 38h1v1h-1zM22 38h1v1h-1zM24 38h1v1h-1zM11 39h1v1h-1zM15 39h1v1h-1zM16 39h1v1h-1zM21 39h1v1h-1zM22 39h1v1h-1zM14 40h1v1h-1zM16 40h1v1h-1zM19 40h1v1h-1zM20 40h1v1h-1zM16 41h1v1h-1zM17 41h1v1h-1zM19 41h1v1h-1zM37 41h1v1h-1zM35 42h1v1h-1zM37 42h1v1h-1zM32 43h1v1h-1zM35 43h1v1h-1zM36 43h1v1h-1zM37 43h1v1h-1zM38 43h1v1h-1zM42 43h1v1h-1zM34 44h1v1h-1zM45 44h1v1h-1zM46 44h1v1h-1zM32 45h1v1h-1zM33 45h1v1h-1zM40 45h1v1h-1zM44 45h1v1h-1zM46 46h1v1h-1zM48 46h1v1h-1zM49 46h1v1h-1zM49 47h1v1h-1zM50 47h1v1h-1zM54 47h1v1h-1zM55 47h1v1h-1zM24 48h1v1h-1zM47 48h1v1h-1zM49 48h1v1h-1zM55 48h1v1h-1zM17 50h1v1h-1zM13 51h1v1h-1zM69 51h1v1h-1zM13 52h1v1h-1zM73 52h1v1h-1zM75 53h1v1h-1zM77 54h1v1h-1zM10 55h1v1h-1zM77 55h1v1h-1zM3 56h1v1h-1zM4 56h1v1h-1zM5 56h1v1h-1zM5 57h1v1h-1zM6 57h1v1h-1zM3 58h1v1h-1zM8 58h1v1h-1zM6 59h1v1h-1zM3 62h1v1h-1zM1 63h1v1h-1zM78 64h1v1h-1zM1 65h1v1h-1zM77 68h1v1h-1zM78 68h1v1h-1zM1 69h1v1h-1zM2 70h1v1h-1zM77 71h1v1h-1zM5 73h1v1h-1zM76 73h1v1h-1zM76 75h1v1h-1zM75 78h1v1h-1zM20 79h1v1h-1zM42 79h1v1h-1zM45 79h1v1h-1zM73 79h1v1h-1zM9 80h1v1h-1zM17 80h1v1h-1zM22 80h1v1h-1zM23 80h1v1h-1zM24 80h1v1h-1zM32 80h1v1h-1zM34 80h1v1h-1zM35 80h1v1h-1zM37 80h1v1h-1zM39 80h1v1h-1zM41 80h1v1h-1zM57 80h1v1h-1zM58 80h1v1h-1zM10 81h1v1h-1zM14 81h1v1h-1zM16 81h1v1h-1zM25 81h1v1h-1zM27 81h1v1h-1zM28 81h1v1h-1zM29 81h1v1h-1zM55 81h1v1h-1zM60 81h1v1h-1zM63 81h1v1h-1zM70 81h1v1h-1z" fill="#96a0dc" fill-opacity="0.5"/>
<path d="M18 12h1v1h-1zM19 12h1v1h-1zM12 15h1v1h-1zM9 16h1v1h-1zM29 18h1v1h-1zM30 19h1v1h-1zM33 25h1v1h-1zM4 33h1v1h-1zM15 37h1v1h-1zM19 37h1v1h-1zM21 37h1v1h-1zM33 48h1v1h-1zM35 48h1v1h-1zM36 48h1v1h-1zM38 48h1v1h-1zM40 48h1v1h-1zM42 48h1v1h-1zM27 49h1v1h-1zM25 50h1v1h-1zM45 50h1v1h-1zM60 52h1v1h-1zM67 52h1v1h-1zM68 52h1v1h-1zM14 53h1v1h-1zM13 54h1v1h-1zM76 56h1v1h-1zM77 58h1v1h-1zM11 59h1v1h-1zM6 61h1v1h-1zM77 63h1v1h-1zM2 66h1v1h-1zM2 67h1v1h-1zM2 68h1v1h-1zM3 69h1v1h-1zM6 70h1v1h-1zM8 74h1v1h-1zM74 74h1v1h-1zM42 78h1v1h-1zM43 78h1v1h-1zM46 78h1v1h-1zM11 79h1v1h-1zM16 79h1v1h-1zM26 79h1v1h-1zM34 79h1v1h-1zM35 79h1v1h-1zM50 79h1v1h-1zM61 80h1v1h-1zM66 80h1v1h-1z" fill="#8c96dc" fill-opacity="0.6"/>
<path d="M19 13h1v1h-1zM20 13h1v1h-1zM16 14h1v1h-1zM22 14h1v1h-1zM15 15h1v1h-1zM23 15h1v1h-1zM2 17h1v1h-1zM3 17h1v1h-1zM4 17h1v1h-1zM1 18h1v1h-1zM28 19h1v1h-1zM0 20h1v1h-1zM30 21h1v1h-1zM30 24h1v1h-1zM30 26h1v1h-1zM29 27h1v1h-1zM27 29h1v1h-1zM1 30h1v1h-1zM25 30h1v1h-1zM26 30h1v1h-1zM5 32h1v1h-1zM7 33h1v1h-1zM22 33h1v1h-1zM20 34h1v1h-1zM21 34h1v1h-1zM13 35h1v1h-1zM18 35h1v1h-1zM29 50h1v1h-1zM30 50h1v1h-1zM33 50h1v1h-1zM39 50h1v1h-1zM26 51h1v1h-1zM35 51h1v1h-1zM42 51h1v1h-1zM26 52h1v1h-1zM46 52h1v1h-1zM50 52h1v1h-1zM51 52h1v1h-1zM52 52h1v1h-1zM54 52h1v1h-1zM55 52h1v1h-1zM24 53h1v1h-1zM47 53h1v1h-1zM58 53h1v1h-1zM59 53h1v1h-1zM60 53h1v1h-1zM64 53h1v1h-1zM66 53h1v1h-1zM68 53h1v1h-1zM17 54h1v1h-1zM18 54h1v1h-1zM70 54h1v1h-1zM14 56h1v1h-1zM14 57h1v1h-1zM13 60h1v1h-1zM76 61h1v1h-1zM9 62h1v1h-1zM12 62h1v1h-1zM76 62h1v1h-1zM7 63h1v1h-1zM9 63h1v1h-1zM76 63h1v1h-1zM76 64h1v1h-1zM5 66h1v1h-1zM5 67h1v1h-1zM6 67h1v1h-1zM5 68h1v1h-1zM7 68h1v1h-1zM10 73h1v1h-1zM10 74h1v1h-1zM11 76h1v1h-1zM17 76h1v1h-1zM23 76h1v1h-1zM71 76h1v1h-1zM25 77h1v1h-1zM39 77h1v1h-1zM43 77h1v1h-1zM48 77h1v1h-1zM49 77h1v1h-1zM54 77h1v1h-1zM58 77h1v1h-1zM12 78h1v1h-1zM13 78h1v1h-1zM14 78h1v1h-1zM28 78h1v1h-1zM29 78h1v1h-1zM31 78h1v1h-1zM51 78h1v1h-1zM52 78h1v1h-1zM61 79h1v1h-1zM67 79h1v1h-1z" fill="#8c8cd2" fill-opacity="0.6"/>
<path d="M21 13h1v1h-1zM22 13h1v1h-1zM24 15h1v1h-1zM4 16h1v1h-1zM1 17h1v1h-1zM26 17h1v1h-1zM27 18h1v1h-1zM30 20h1v1h-1zM31 22h1v1h-1zM32 22h1v1h-1zM32 23h1v1h-1zM32 24h1v1h-1zM31 25h1v1h-1zM32 26h1v1h-1zM30 27h1v1h-1zM31 27h1v1h-1zM29 28h1v1h-1zM28 29h1v1h-1zM25 31h1v1h-1zM3 32h1v1h-1zM23 33h1v1h-1zM8 34h1v1h-1zM9 35h1v1h-1zM21 35h1v1h-1zM13 36h1v1h-1zM14 36h1v1h-1zM15 36h1v1h-1zM17 36h1v1h-1zM19 36h1v1h-1zM21 36h1v1h-1zM29 49h1v1h-1zM30 49h1v1h-1zM33 49h1v1h-1zM36 49h1v1h-1zM37 49h1v1h-1zM40 49h1v1h-1zM41 49h1v1h-1zM42 49h1v1h-1zM27 50h1v1h-1zM36 50h1v1h-1zM37 50h1v1h-1zM38 50h1v1h-1zM41 50h1v1h-1zM44 50h1v1h-1zM45 51h1v1h-1zM46 51h1v1h-1zM50 51h1v1h-1zM54 51h1v1h-1zM23 52h1v1h-1zM24 52h1v1h-1zM49 52h1v1h-1zM56 52h1v1h-1zM57 52h1v1h-1zM15 53h1v1h-1zM20 53h1v1h-1zM21 53h1v1h-1zM14 54h1v1h-1zM72 54h1v1h-1zM13 55h1v1h-1zM13 56h1v1h-1zM75 56h1v1h-1zM13 57h1v1h-1zM75 57h1v1h-1zM76 58h1v1h-1zM76 59h1v1h-1zM11 60h1v1h-1zM8 61h1v1h-1zM10 61h1v1h-1zM11 61h1v1h-1zM77 61h1v1h-1zM6 62h1v1h-1zM8 62h1v1h-1zM6 63h1v1h-1zM4 65h1v1h-1zM3 66h1v1h-1zM76 66h1v1h-1zM3 67h1v1h-1zM75 69h1v1h-1zM7 70h1v1h-1zM9 72h1v1h-1zM74 73h1v1h-1zM73 74h1v1h-1zM9 75h1v1h-1zM10 76h1v1h-1zM19 76h1v1h-1zM10 77h1v1h-1zM17 77h1v1h-1zM18 77h1v1h-1zM23 77h1v1h-1zM24 77h1v1h-1zM71 77h1v1h-1zM17 78h1v1h-1zM48 78h1v1h-1zM49 78h1v1h-1zM54 78h1v1h-1zM57 78h1v1h-1zM70 78h1v1h-1zM12 79h1v1h-1zM27 79h1v1h-1zM28 79h1v1h-1zM29 79h1v1h-1zM30 79h1v1h-1zM31 79h1v1h-1zM51 79h1v1h-1zM52 79h1v1h-1zM53 79h1v1h-1zM54 79h1v1h-1zM62 80h1v1h-1zM63 80h1v1h-1z" fill="#8c96d2" fill-opacity="0.6"/>
<path d="M18 14h1v1h-1zM19 14h1v1h-1zM17 15h1v1h-1zM22 15h1v1h-1zM14 16h1v1h-1zM15 16h1v1h-1zM23 17h1v1h-1zM3 18h1v1h-1zM4 18h1v1h-1zM7 18h1v1h-1zM9 18h1v1h-1zM10 18h1v1h-1zM24 18h1v1h-1zM1 19h1v1h-1zM26 19h1v1h-1zM1 20h1v1h-1zM27 21h1v1h-1zM0 22h1v1h-1zM28 22h1v1h-1zM0 23h1v1h-1zM29 23h1v1h-1zM0 25h1v1h-1zM29 25h1v1h-1zM28 26h1v1h-1zM28 27h1v1h-1zM1 28h1v1h-1zM25 28h1v1h-1zM26 28h1v1h-1zM1 29h1v1h-1zM2 29h1v1h-1zM24 29h1v1h-1zM2 30h1v1h-1zM4 31h1v1h-1zM5 31h1v1h-1zM22 31h1v1h-1zM23 31h1v1h-1zM7 32h1v1h-1zM10 33h1v1h-1zM18 33h1v1h-1zM19 33h1v1h-1zM12 34h1v1h-1zM13 34h1v1h-1zM18 34h1v1h-1zM28 51h1v1h-1zM29 51h1v1h-1zM29 52h1v1h-1zM30 52h1v1h-1zM31 52h1v1h-1zM32 52h1v1h-1zM33 52h1v1h-1zM39 52h1v1h-1zM42 52h1v1h-1zM26 53h1v1h-1zM41 53h1v1h-1zM43 53h1v1h-1zM44 53h1v1h-1zM50 53h1v1h-1zM51 53h1v1h-1zM53 53h1v1h-1zM23 54h1v1h-1zM24 54h1v1h-1zM27 54h1v1h-1zM46 54h1v1h-1zM49 54h1v1h-1zM55 54h1v1h-1zM57 54h1v1h-1zM61 54h1v1h-1zM62 54h1v1h-1zM17 55h1v1h-1zM18 55h1v1h-1zM20 55h1v1h-1zM21 55h1v1h-1zM22 55h1v1h-1zM23 55h1v1h-1zM24 55h1v1h-1zM70 55h1v1h-1zM15 56h1v1h-1zM17 56h1v1h-1zM18 56h1v1h-1zM15 57h1v1h-1zM16 57h1v1h-1zM73 57h1v1h-1zM74 58h1v1h-1zM15 60h1v1h-1zM15 61h1v1h-1zM75 61h1v1h-1zM13 62h1v1h-1zM13 64h1v1h-1zM75 64h1v1h-1zM7 65h1v1h-1zM8 65h1v1h-1zM9 65h1v1h-1zM10 65h1v1h-1zM11 65h1v1h-1zM12 65h1v1h-1zM7 66h1v1h-1zM8 66h1v1h-1zM9 66h1v1h-1zM9 67h1v1h-1zM11 67h1v1h-1zM74 67h1v1h-1zM74 68h1v1h-1zM11 69h1v1h-1zM10 70h1v1h-1zM11 70h1v1h-1zM11 74h1v1h-1zM12 74h1v1h-1zM17 74h1v1h-1zM72 74h1v1h-1zM11 75h1v1h-1zM13 75h1v1h-1zM15 75h1v1h-1zM18 75h1v1h-1zM22 75h1v1h-1zM23 75h1v1h-1zM52 75h1v1h-1zM71 75h1v1h-1zM14 76h1v1h-1zM16 76h1v1h-1zM27 76h1v1h-1zM39 76h1v1h-1zM42 76h1v1h-1zM51 76h1v1h-1zM52 76h1v1h-1zM53 76h1v1h-1zM57 76h1v1h-1zM13 77h1v1h-1zM14 77h1v1h-1zM28 77h1v1h-1zM34 77h1v1h-1zM35 77h1v1h-1zM51 77h1v1h-1zM69 77h1v1h-1zM67 78h1v1h-1zM63 79h1v1h-1zM65 79h1v1h-1z" fill="#828cd2" fill-opacity="0.7"/>
<path d="M21 14h1v1h-1zM8 33h1v1h-1zM33 51h1v1h-1zM43 52h1v1h-1zM46 53h1v1h-1zM21 54h1v1h-1zM15 55h1v1h-1zM71 55h1v1h-1zM10 63h1v1h-1zM7 64h1v1h-1zM19 75h1v1h-1zM55 76h1v1h-1zM56 76h1v1h-1zM50 77h1v1h-1z" fill="#8c8cd2" fill-opacity="0.7"/>
<path d="M25 15h1v1h-1zM40 47h1v1h-1zM45 49h1v1h-1zM2 65h1v1h-1zM10 79h1v1h-1z" fill="#9696dc" fill-opacity="0.6"/>
<path d="M17 16h1v1h-1zM9 19h1v1h-1zM1 21h1v1h-1zM25 27h1v1h-1zM3 29h1v1h-1zM16 33h1v1h-1zM42 54h1v1h-1zM56 55h1v1h-1zM73 70h1v1h-1zM17 73h1v1h-1z" fill="#7882d2" fill-opacity="0.8"/>
<path d="M18 16h1v1h-1zM19 16h1v1h-1zM20 16h1v1h-1zM17 17h1v1h-1zM20 17h1v1h-1zM13 18h1v1h-1zM14 18h1v1h-1zM21 18h1v1h-1zM23 19h1v1h-1zM2 20h1v1h-1zM4 20h1v1h-1zM5 20h1v1h-1zM6 20h1v1h-1zM7 20h1v1h-1zM9 20h1v1h-1zM24 20h1v1h-1zM25 20h1v1h-1zM2 21h1v1h-1zM25 21h1v1h-1zM26 21h1v1h-1zM1 22h1v1h-1zM25 22h1v1h-1zM1 23h1v1h-1zM25 23h1v1h-1zM26 23h1v1h-1zM1 24h1v1h-1zM25 24h1v1h-1zM26 24h1v1h-1zM1 25h1v1h-1zM1 26h1v1h-1zM2 26h1v1h-1zM24 26h1v1h-1zM25 26h1v1h-1zM2 28h1v1h-1zM3 28h1v1h-1zM6 28h1v1h-1zM23 28h1v1h-1zM4 29h1v1h-1zM7 29h1v1h-1zM8 29h1v1h-1zM22 29h1v1h-1zM8 30h1v1h-1zM21 30h1v1h-1zM19 31h1v1h-1zM20 31h1v1h-1zM11 32h1v1h-1zM12 32h1v1h-1zM13 32h1v1h-1zM16 32h1v1h-1zM14 33h1v1h-1zM29 54h1v1h-1zM31 54h1v1h-1zM34 54h1v1h-1zM35 54h1v1h-1zM36 54h1v1h-1zM38 54h1v1h-1zM39 54h1v1h-1zM28 55h1v1h-1zM29 55h1v1h-1zM31 55h1v1h-1zM42 55h1v1h-1zM50 55h1v1h-1zM51 55h1v1h-1zM52 55h1v1h-1zM55 55h1v1h-1zM62 55h1v1h-1zM68 55h1v1h-1zM27 56h1v1h-1zM29 56h1v1h-1zM43 56h1v1h-1zM44 56h1v1h-1zM47 56h1v1h-1zM48 56h1v1h-1zM50 56h1v1h-1zM52 56h1v1h-1zM54 56h1v1h-1zM55 56h1v1h-1zM56 56h1v1h-1zM57 56h1v1h-1zM58 56h1v1h-1zM59 56h1v1h-1zM70 56h1v1h-1zM19 57h1v1h-1zM21 57h1v1h-1zM22 57h1v1h-1zM23 57h1v1h-1zM45 57h1v1h-1zM46 57h1v1h-1zM47 57h1v1h-1zM48 57h1v1h-1zM49 57h1v1h-1zM22 58h1v1h-1zM72 58h1v1h-1zM18 59h1v1h-1zM19 59h1v1h-1zM72 59h1v1h-1zM17 60h1v1h-1zM18 60h1v1h-1zM19 60h1v1h-1zM17 61h1v1h-1zM17 62h1v1h-1zM74 62h1v1h-1zM74 63h1v1h-1zM16 64h1v1h-1zM15 65h1v1h-1zM16 65h1v1h-1zM13 66h1v1h-1zM13 67h1v1h-1zM13 68h1v1h-1zM15 68h1v1h-1zM13 69h1v1h-1zM14 69h1v1h-1zM15 69h1v1h-1zM73 69h1v1h-1zM13 70h1v1h-1zM14 70h1v1h-1zM15 70h1v1h-1zM16 70h1v1h-1zM13 71h1v1h-1zM17 71h1v1h-1zM14 72h1v1h-1zM16 72h1v1h-1zM19 73h1v1h-1zM21 73h1v1h-1zM22 73h1v1h-1zM51 73h1v1h-1zM52 73h1v1h-1zM25 74h1v1h-1zM43 74h1v1h-1zM45 74h1v1h-1zM49 74h1v1h-1zM50 74h1v1h-1zM26 75h1v1h-1zM27 75h1v1h-1zM29 75h1v1h-1zM38 75h1v1h-1zM39 75h1v1h-1zM40 75h1v1h-1zM30 76h1v1h-1zM31 76h1v1h-1zM33 76h1v1h-1zM61 77h1v1h-1zM62 77h1v1h-1zM67 77h1v1h-1z" fill="#7882c8" fill-opacity="0.8"/>
<path d="M21 16h1v1h-1zM2 19h1v1h-1zM25 19h1v1h-1zM27 22h1v1h-1zM1 27h1v1h-1zM5 30h1v1h-1zM9 32h1v1h-1zM34 53h1v1h-1zM35 53h1v1h-1zM38 53h1v1h-1zM39 53h1v1h-1zM40 53h1v1h-1zM51 54h1v1h-1zM53 54h1v1h-1zM54 54h1v1h-1zM67 54h1v1h-1zM46 55h1v1h-1zM58 55h1v1h-1zM19 56h1v1h-1zM21 56h1v1h-1zM22 56h1v1h-1zM24 56h1v1h-1zM17 57h1v1h-1zM74 60h1v1h-1zM12 66h1v1h-1zM12 70h1v1h-1zM12 71h1v1h-1zM12 72h1v1h-1zM13 74h1v1h-1zM14 74h1v1h-1zM21 74h1v1h-1zM54 74h1v1h-1zM43 75h1v1h-1zM44 75h1v1h-1zM46 75h1v1h-1zM48 75h1v1h-1zM49 75h1v1h-1zM38 76h1v1h-1z" fill="#8282d2" fill-opacity="0.7"/>
<path d="M22 17h1v1h-1zM12 18h1v1h-1zM7 19h1v1h-1zM8 19h1v1h-1zM27 24h1v1h-1zM26 26h1v1h-1zM23 29h1v1h-1zM8 31h1v1h-1zM31 53h1v1h-1zM32 53h1v1h-1zM28 54h1v1h-1zM64 54h1v1h-1zM27 55h1v1h-1zM45 55h1v1h-1zM17 58h1v1h-1zM15 63h1v1h-1zM14 64h1v1h-1zM12 68h1v1h-1zM13 73h1v1h-1zM55 74h1v1h-1zM29 76h1v1h-1zM37 76h1v1h-1zM59 76h1v1h-1zM63 78h1v1h-1zM65 78h1v1h-1z" fill="#7882d2" fill-opacity="0.7"/>
<path d="M15 18h1v1h-1zM13 19h1v1h-1zM7 21h1v1h-1zM8 21h1v1h-1zM24 21h1v1h-1zM2 22h1v1h-1zM23 26h1v1h-1zM5 27h1v1h-1zM6 27h1v1h-1zM7 28h1v1h-1zM8 28h1v1h-1zM10 30h1v1h-1zM11 31h1v1h-1zM14 32h1v1h-1zM15 32h1v1h-1zM33 55h1v1h-1zM34 55h1v1h-1zM40 55h1v1h-1zM63 55h1v1h-1zM67 55h1v1h-1zM30 56h1v1h-1zM44 57h1v1h-1zM50 57h1v1h-1zM56 57h1v1h-1zM57 57h1v1h-1zM70 57h1v1h-1zM27 58h1v1h-1zM46 58h1v1h-1zM48 58h1v1h-1zM22 59h1v1h-1zM23 59h1v1h-1zM24 59h1v1h-1zM25 59h1v1h-1zM19 61h1v1h-1zM16 66h1v1h-1zM17 70h1v1h-1zM18 71h1v1h-1zM72 71h1v1h-1zM21 72h1v1h-1zM23 73h1v1h-1zM49 73h1v1h-1zM56 73h1v1h-1zM27 74h1v1h-1zM28 74h1v1h-1zM31 75h1v1h-1zM59 75h1v1h-1zM65 77h1v1h-1z" fill="#7878c8" fill-opacity="0.8"/>
<path d="M17 18h1v1h-1zM18 18h1v1h-1zM19 18h1v1h-1zM15 19h1v1h-1zM16 19h1v1h-1zM18 19h1v1h-1zM20 19h1v1h-1zM21 19h1v1h-1zM14 20h1v1h-1zM18 20h1v1h-1zM19 20h1v1h-1zM21 20h1v1h-1zM22 20h1v1h-1zM3 21h1v1h-1zM4 21h1v1h-1zM5 21h1v1h-1zM11 21h1v1h-1zM12 21h1v1h-1zM19 21h1v1h-1zM20 21h1v1h-1zM21 21h1v1h-1zM22 21h1v1h-1zM23 21h1v1h-1zM3 22h1v1h-1zM5 22h1v1h-1zM6 22h1v1h-1zM7 22h1v1h-1zM9 22h1v1h-1zM10 22h1v1h-1zM22 22h1v1h-1zM23 22h1v1h-1zM24 22h1v1h-1zM2 23h1v1h-1zM3 23h1v1h-1zM10 23h1v1h-1zM11 23h1v1h-1zM23 23h1v1h-1zM3 24h1v1h-1zM4 24h1v1h-1zM5 24h1v1h-1zM7 24h1v1h-1zM9 24h1v1h-1zM20 24h1v1h-1zM22 24h1v1h-1zM24 24h1v1h-1zM5 25h1v1h-1zM7 25h1v1h-1zM9 25h1v1h-1zM11 25h1v1h-1zM20 25h1v1h-1zM21 25h1v1h-1zM22 25h1v1h-1zM3 26h1v1h-1zM4 26h1v1h-1zM8 26h1v1h-1zM10 26h1v1h-1zM11 26h1v1h-1zM20 26h1v1h-1zM22 26h1v1h-1zM7 27h1v1h-1zM9 27h1v1h-1zM11 27h1v1h-1zM12 27h1v1h-1zM19 27h1v1h-1zM20 27h1v1h-1zM21 27h1v1h-1zM9 28h1v1h-1zM19 28h1v1h-1zM20 28h1v1h-1zM10 29h1v1h-1zM11 29h1v1h-1zM12 29h1v1h-1zM13 29h1v1h-1zM18 29h1v1h-1zM20 29h1v1h-1zM12 30h1v1h-1zM13 30h1v1h-1zM14 30h1v1h-1zM15 30h1v1h-1zM16 30h1v1h-1zM17 30h1v1h-1zM18 30h1v1h-1zM19 30h1v1h-1zM12 31h1v1h-1zM13 31h1v1h-1zM16 31h1v1h-1zM17 31h1v1h-1zM36 55h1v1h-1zM37 55h1v1h-1zM39 55h1v1h-1zM64 55h1v1h-1zM31 56h1v1h-1zM32 56h1v1h-1zM33 56h1v1h-1zM35 56h1v1h-1zM36 56h1v1h-1zM37 56h1v1h-1zM38 56h1v1h-1zM40 56h1v1h-1zM42 56h1v1h-1zM61 56h1v1h-1zM68 56h1v1h-1zM29 57h1v1h-1zM30 57h1v1h-1zM32 57h1v1h-1zM43 57h1v1h-1zM53 57h1v1h-1zM54 57h1v1h-1zM55 57h1v1h-1zM28 58h1v1h-1zM31 58h1v1h-1zM42 58h1v1h-1zM43 58h1v1h-1zM45 58h1v1h-1zM51 58h1v1h-1zM52 58h1v1h-1zM54 58h1v1h-1zM70 58h1v1h-1zM26 59h1v1h-1zM29 59h1v1h-1zM43 59h1v1h-1zM44 59h1v1h-1zM45 59h1v1h-1zM48 59h1v1h-1zM50 59h1v1h-1zM52 59h1v1h-1zM23 60h1v1h-1zM24 60h1v1h-1zM25 60h1v1h-1zM26 60h1v1h-1zM27 60h1v1h-1zM28 60h1v1h-1zM46 60h1v1h-1zM47 60h1v1h-1zM48 60h1v1h-1zM49 60h1v1h-1zM20 61h1v1h-1zM21 61h1v1h-1zM22 61h1v1h-1zM23 61h1v1h-1zM24 61h1v1h-1zM46 61h1v1h-1zM72 61h1v1h-1zM19 62h1v1h-1zM22 62h1v1h-1zM73 62h1v1h-1zM20 63h1v1h-1zM21 63h1v1h-1zM73 63h1v1h-1zM18 64h1v1h-1zM20 64h1v1h-1zM17 65h1v1h-1zM19 65h1v1h-1zM17 66h1v1h-1zM18 66h1v1h-1zM19 66h1v1h-1zM73 66h1v1h-1zM19 68h1v1h-1zM18 69h1v1h-1zM19 69h1v1h-1zM20 69h1v1h-1zM72 69h1v1h-1zM18 70h1v1h-1zM19 70h1v1h-1zM20 70h1v1h-1zM21 70h1v1h-1zM72 70h1v1h-1zM19 71h1v1h-1zM20 71h1v1h-1zM21 71h1v1h-1zM22 72h1v1h-1zM23 72h1v1h-1zM24 72h1v1h-1zM25 72h1v1h-1zM26 72h1v1h-1zM27 72h1v1h-1zM29 72h1v1h-1zM45 72h1v1h-1zM46 72h1v1h-1zM47 72h1v1h-1zM49 72h1v1h-1zM51 72h1v1h-1zM53 72h1v1h-1zM54 72h1v1h-1zM71 72h1v1h-1zM24 73h1v1h-1zM26 73h1v1h-1zM28 73h1v1h-1zM40 73h1v1h-1zM42 73h1v1h-1zM44 73h1v1h-1zM46 73h1v1h-1zM47 73h1v1h-1zM57 73h1v1h-1zM29 74h1v1h-1zM30 74h1v1h-1zM32 74h1v1h-1zM33 74h1v1h-1zM36 74h1v1h-1zM37 74h1v1h-1zM59 74h1v1h-1zM70 74h1v1h-1zM32 75h1v1h-1zM34 75h1v1h-1zM60 75h1v1h-1zM68 75h1v1h-1zM69 75h1v1h-1zM66 76h1v1h-1zM67 76h1v1h-1z" fill="#6e78c8" fill-opacity="0.9"/>
<path d="M15 20h1v1h-1zM16 20h1v1h-1zM17 20h1v1h-1zM13 21h1v1h-1zM17 21h1v1h-1zM13 22h1v1h-1zM12 23h1v1h-1zM13 23h1v1h-1zM12 24h1v1h-1zM13 24h1v1h-1zM19 24h1v1h-1zM18 25h1v1h-1zM19 25h1v1h-1zM12 26h1v1h-1zM13 27h1v1h-1zM18 27h1v1h-1zM13 28h1v1h-1zM17 28h1v1h-1zM16 29h1v1h-1zM17 29h1v1h-1zM63 56h1v1h-1zM67 56h1v1h-1zM34 57h1v1h-1zM35 57h1v1h-1zM39 57h1v1h-1zM40 57h1v1h-1zM41 58h1v1h-1zM30 59h1v1h-1zM42 59h1v1h-1zM53 59h1v1h-1zM54 59h1v1h-1zM55 59h1v1h-1zM57 59h1v1h-1zM29 60h1v1h-1zM43 60h1v1h-1zM51 60h1v1h-1zM52 60h1v1h-1zM26 61h1v1h-1zM27 61h1v1h-1zM44 61h1v1h-1zM48 61h1v1h-1zM49 61h1v1h-1zM23 62h1v1h-1zM25 62h1v1h-1zM22 63h1v1h-1zM23 63h1v1h-1zM22 64h1v1h-1zM21 65h1v1h-1zM20 66h1v1h-1zM21 66h1v1h-1zM21 67h1v1h-1zM21 68h1v1h-1zM72 68h1v1h-1zM21 69h1v1h-1zM29 69h1v1h-1zM30 69h1v1h-1zM22 70h1v1h-1zM29 70h1v1h-1zM23 71h1v1h-1zM24 71h1v1h-1zM25 71h1v1h-1zM27 71h1v1h-1zM28 71h1v1h-1zM29 71h1v1h-1zM30 71h1v1h-1zM49 71h1v1h-1zM50 71h1v1h-1zM52 71h1v1h-1zM53 71h1v1h-1zM30 72h1v1h-1zM31 72h1v1h-1zM41 72h1v1h-1zM42 72h1v1h-1zM31 73h1v1h-1zM38 73h1v1h-1zM70 73h1v1h-1zM34 74h1v1h-1zM35 74h1v1h-1zM69 74h1v1h-1zM63 76h1v1h-1zM65 76h1v1h-1z" fill="#6478c8"/>
<path d="M15 21h1v1h-1zM16 21h1v1h-1zM14 27h1v1h-1zM64 56h1v1h-1zM31 59h1v1h-1zM71 60h1v1h-1zM50 61h1v1h-1zM45 62h1v1h-1zM30 68h1v1h-1zM28 69h1v1h-1zM23 70h1v1h-1zM48 71h1v1h-1z" fill="#6478be"/>
<path d="M14 22h1v1h-1zM15 22h1v1h-1zM16 22h1v1h-1zM17 22h1v1h-1zM14 23h1v1h-1zM15 23h1v1h-1zM16 23h1v1h-1zM17 23h1v1h-1zM15 24h1v1h-1zM16 24h1v1h-1zM17 24h1v1h-1zM16 25h1v1h-1zM17 25h1v1h-1zM14 26h1v1h-1zM15 26h1v1h-1zM16 26h1v1h-1zM15 27h1v1h-1zM16 27h1v1h-1zM17 27h1v1h-1zM15 28h1v1h-1zM16 28h1v1h-1zM36 57h1v1h-1zM37 57h1v1h-1zM38 57h1v1h-1zM33 58h1v1h-1zM36 58h1v1h-1zM38 58h1v1h-1zM39 58h1v1h-1zM69 58h1v1h-1zM33 59h1v1h-1zM40 59h1v1h-1zM41 60h1v1h-1zM42 60h1v1h-1zM54 60h1v1h-1zM55 60h1v1h-1zM29 61h1v1h-1zM30 61h1v1h-1zM42 61h1v1h-1zM51 61h1v1h-1zM53 61h1v1h-1zM54 61h1v1h-1zM27 62h1v1h-1zM28 62h1v1h-1zM29 62h1v1h-1zM44 62h1v1h-1zM48 62h1v1h-1zM50 62h1v1h-1zM27 63h1v1h-1zM28 63h1v1h-1zM29 63h1v1h-1zM44 63h1v1h-1zM45 63h1v1h-1zM47 63h1v1h-1zM49 63h1v1h-1zM72 63h1v1h-1zM24 64h1v1h-1zM26 64h1v1h-1zM27 64h1v1h-1zM29 64h1v1h-1zM30 64h1v1h-1zM72 64h1v1h-1zM22 65h1v1h-1zM23 65h1v1h-1zM24 65h1v1h-1zM25 65h1v1h-1zM26 65h1v1h-1zM28 65h1v1h-1zM29 65h1v1h-1zM30 65h1v1h-1zM22 66h1v1h-1zM23 66h1v1h-1zM24 66h1v1h-1zM25 66h1v1h-1zM26 66h1v1h-1zM27 66h1v1h-1zM28 66h1v1h-1zM31 66h1v1h-1zM72 66h1v1h-1zM22 67h1v1h-1zM23 67h1v1h-1zM24 67h1v1h-1zM25 67h1v1h-1zM26 67h1v1h-1zM28 67h1v1h-1zM72 67h1v1h-1zM25 68h1v1h-1zM31 68h1v1h-1zM32 68h1v1h-1zM24 69h1v1h-1zM25 69h1v1h-1zM26 69h1v1h-1zM24 70h1v1h-1zM25 70h1v1h-1zM26 70h1v1h-1zM32 70h1v1h-1zM47 70h1v1h-1zM49 70h1v1h-1zM50 70h1v1h-1zM51 70h1v1h-1zM52 70h1v1h-1zM31 71h1v1h-1zM40 71h1v1h-1zM42 71h1v1h-1zM43 71h1v1h-1zM44 71h1v1h-1zM46 71h1v1h-1zM47 71h1v1h-1zM32 72h1v1h-1zM33 72h1v1h-1zM38 72h1v1h-1zM39 72h1v1h-1zM70 72h1v1h-1zM34 73h1v1h-1zM35 73h1v1h-1zM37 73h1v1h-1zM60 74h1v1h-1zM68 74h1v1h-1zM62 75h1v1h-1z" fill="#646ebe"/>
<path d="M51 57h1v1h-1z" fill="#6e78c8" fill-opacity="0.8"/>
<path d="M63 57h1v1h-1zM67 57h1v1h-1zM61 58h1v1h-1zM35 59h1v1h-1zM36 59h1v1h-1zM37 59h1v1h-1zM38 59h1v1h-1zM39 59h1v1h-1zM59 59h1v1h-1zM32 60h1v1h-1zM33 60h1v1h-1zM39 60h1v1h-1zM57 60h1v1h-1zM58 60h1v1h-1zM31 61h1v1h-1zM32 61h1v1h-1zM40 61h1v1h-1zM41 61h1v1h-1zM55 61h1v1h-1zM71 61h1v1h-1zM41 62h1v1h-1zM42 62h1v1h-1zM52 62h1v1h-1zM54 62h1v1h-1zM30 63h1v1h-1zM31 63h1v1h-1zM51 63h1v1h-1zM52 63h1v1h-1zM31 64h1v1h-1zM44 64h1v1h-1zM45 64h1v1h-1zM47 64h1v1h-1zM48 64h1v1h-1zM50 64h1v1h-1zM51 64h1v1h-1zM31 65h1v1h-1zM32 65h1v1h-1zM45 65h1v1h-1zM46 65h1v1h-1zM47 65h1v1h-1zM48 65h1v1h-1zM49 65h1v1h-1zM32 67h1v1h-1zM33 68h1v1h-1zM48 68h1v1h-1zM49 68h1v1h-1zM50 68h1v1h-1zM51 68h1v1h-1zM44 69h1v1h-1zM45 69h1v1h-1zM46 69h1v1h-1zM48 69h1v1h-1zM50 69h1v1h-1zM51 69h1v1h-1zM53 69h1v1h-1zM33 70h1v1h-1zM39 70h1v1h-1zM40 70h1v1h-1zM41 70h1v1h-1zM44 70h1v1h-1zM46 70h1v1h-1zM55 70h1v1h-1zM33 71h1v1h-1zM34 71h1v1h-1zM35 71h1v1h-1zM38 71h1v1h-1zM39 71h1v1h-1zM56 71h1v1h-1zM34 72h1v1h-1zM35 72h1v1h-1zM36 72h1v1h-1zM37 72h1v1h-1zM59 73h1v1h-1zM69 73h1v1h-1zM63 75h1v1h-1zM64 75h1v1h-1zM65 75h1v1h-1zM66 75h1v1h-1z" fill="#5a6ebe"/>
<path d="M65 57h1v1h-1zM66 57h1v1h-1zM34 60h1v1h-1zM38 60h1v1h-1zM32 62h1v1h-1zM55 62h1v1h-1zM71 62h1v1h-1zM32 63h1v1h-1zM41 63h1v1h-1zM54 63h1v1h-1zM32 64h1v1h-1zM42 64h1v1h-1zM50 65h1v1h-1zM51 65h1v1h-1zM45 66h1v1h-1zM46 66h1v1h-1zM49 66h1v1h-1zM50 66h1v1h-1zM46 67h1v1h-1zM47 67h1v1h-1zM48 67h1v1h-1zM50 67h1v1h-1zM34 68h1v1h-1zM45 68h1v1h-1zM46 68h1v1h-1zM47 68h1v1h-1zM53 68h1v1h-1zM34 69h1v1h-1zM41 69h1v1h-1zM54 69h1v1h-1zM35 70h1v1h-1zM38 70h1v1h-1zM36 71h1v1h-1zM57 71h1v1h-1zM70 71h1v1h-1zM67 74h1v1h-1z" fill="#5a64be"/>
<path d="M62 58h1v1h-1zM67 58h1v1h-1zM34 61h1v1h-1zM36 61h1v1h-1zM37 61h1v1h-1zM58 61h1v1h-1zM33 62h1v1h-1zM34 62h1v1h-1zM35 62h1v1h-1zM37 62h1v1h-1zM38 62h1v1h-1zM39 62h1v1h-1zM56 62h1v1h-1zM33 63h1v1h-1zM38 63h1v1h-1zM39 63h1v1h-1zM55 63h1v1h-1zM56 63h1v1h-1zM71 63h1v1h-1zM33 64h1v1h-1zM34 64h1v1h-1zM35 64h1v1h-1zM39 64h1v1h-1zM40 64h1v1h-1zM54 64h1v1h-1zM55 64h1v1h-1zM71 64h1v1h-1zM34 65h1v1h-1zM35 65h1v1h-1zM38 65h1v1h-1zM39 65h1v1h-1zM41 65h1v1h-1zM53 65h1v1h-1zM34 66h1v1h-1zM35 66h1v1h-1zM36 66h1v1h-1zM37 66h1v1h-1zM38 66h1v1h-1zM39 66h1v1h-1zM40 66h1v1h-1zM41 66h1v1h-1zM53 66h1v1h-1zM54 66h1v1h-1zM71 66h1v1h-1zM35 67h1v1h-1zM36 67h1v1h-1zM37 67h1v1h-1zM38 67h1v1h-1zM40 67h1v1h-1zM41 67h1v1h-1zM53 67h1v1h-1zM35 68h1v1h-1zM36 68h1v1h-1zM38 68h1v1h-1zM54 68h1v1h-1zM55 68h1v1h-1zM36 69h1v1h-1zM37 69h1v1h-1zM38 69h1v1h-1zM55 69h1v1h-1zM70 70h1v1h-1zM58 71h1v1h-1zM59 72h1v1h-1zM69 72h1v1h-1zM62 74h1v1h-1z" fill="#5064b4"/>
<path d="M64 58h1v1h-1zM65 58h1v1h-1zM62 59h1v1h-1zM60 60h1v1h-1zM59 61h1v1h-1zM58 62h1v1h-1zM70 62h1v1h-1zM57 63h1v1h-1zM56 64h1v1h-1zM56 65h1v1h-1zM56 67h1v1h-1zM57 69h1v1h-1zM70 69h1v1h-1zM69 71h1v1h-1zM60 72h1v1h-1zM68 72h1v1h-1z" fill="#5078be"/>
<path d="M60 59h1v1h-1zM69 59h1v1h-1zM35 60h1v1h-1zM36 60h1v1h-1zM37 60h1v1h-1zM39 61h1v1h-1zM57 61h1v1h-1zM40 63h1v1h-1zM41 64h1v1h-1zM53 64h1v1h-1zM33 65h1v1h-1zM52 65h1v1h-1zM42 66h1v1h-1zM43 66h1v1h-1zM44 66h1v1h-1zM52 66h1v1h-1zM34 67h1v1h-1zM42 67h1v1h-1zM43 67h1v1h-1zM44 67h1v1h-1zM45 67h1v1h-1zM40 68h1v1h-1zM42 68h1v1h-1zM44 68h1v1h-1zM35 69h1v1h-1zM39 69h1v1h-1zM36 70h1v1h-1zM56 70h1v1h-1z" fill="#5064be"/>
<path d="M61 59h1v1h-1zM35 63h1v1h-1zM37 63h1v1h-1zM36 64h1v1h-1zM37 65h1v1h-1zM55 65h1v1h-1zM56 69h1v1h-1zM57 70h1v1h-1zM61 73h1v1h-1zM64 74h1v1h-1zM65 74h1v1h-1z" fill="#506eb4"/>
<path d="M63 59h1v1h-1zM61 60h1v1h-1zM68 60h1v1h-1zM60 61h1v1h-1zM59 62h1v1h-1zM58 63h1v1h-1zM57 65h1v1h-1zM57 67h1v1h-1zM57 68h1v1h-1zM70 68h1v1h-1zM69 70h1v1h-1zM61 72h1v1h-1zM64 73h1v1h-1zM65 73h1v1h-1z" fill="#468cbe"/>
<path d="M65 59h1v1h-1zM66 59h1v1h-1zM58 64h1v1h-1zM70 65h1v1h-1zM57 66h1v1h-1zM70 66h1v1h-1zM58 69h1v1h-1zM60 71h1v1h-1zM67 72h1v1h-1z" fill="#4696be"/>
<path d="M68 59h1v1h-1zM69 60h1v1h-1zM55 67h1v1h-1z" fill="#506ebe"/>
<path d="M62 60h1v1h-1zM69 62h1v1h-1zM68 71h1v1h-1z" fill="#46a0c8"/>
<path d="M63 60h1v1h-1zM69 63h1v1h-1zM60 70h1v1h-1zM61 71h1v1h-1z" fill="#50aaaa"/>
<path d="M64 60h1v1h-1zM66 60h1v1h-1zM59 64h1v1h-1zM68 70h1v1h-1zM64 72h1v1h-1zM65 72h1v1h-1z" fill="#50aaa0"/>
<path d="M67 60h1v1h-1zM61 61h1v1h-1zM59 63h1v1h-1zM58 65h1v1h-1zM58 68h1v1h-1zM62 72h1v1h-1z" fill="#46a0be"/>
<path d="M47 61h1v1h-1z" fill="#6478c8" fill-opacity="0.9"/>
<path d="M63 61h1v1h-1zM60 64h1v1h-1zM61 70h1v1h-1zM66 71h1v1h-1z" fill="#5ab478"/>
<path d="M64 61h1v1h-1zM65 61h1v1h-1zM62 62h1v1h-1zM67 62h1v1h-1zM61 63h1v1h-1zM60 65h1v1h-1zM67 70h1v1h-1zM65 71h1v1h-1z" fill="#64be64"/>
<path d="M66 61h1v1h-1zM68 63h1v1h-1zM63 71h1v1h-1z" fill="#64b46e"/>
<path d="M67 61h1v1h-1zM69 65h1v1h-1zM59 66h1v1h-1zM59 67h1v1h-1zM69 67h1v1h-1zM62 71h1v1h-1z" fill="#5ab48c"/>
<path d="M68 61h1v1h-1zM60 62h1v1h-1zM58 66h1v1h-1zM58 67h1v1h-1zM69 69h1v1h-1z" fill="#46a0b4"/>
<path d="M69 61h1v1h-1zM70 63h1v1h-1zM57 64h1v1h-1zM66 73h1v1h-1z" fill="#4682be"/>
<path d="M63 62h1v1h-1z" fill="#82c850"/>
<path d="M64 62h1v1h-1zM65 62h1v1h-1zM61 65h1v1h-1zM63 70h1v1h-1z" fill="#96c846"/>
<path d="M66 62h1v1h-1zM62 63h1v1h-1zM67 63h1v1h-1zM68 65h1v1h-1zM68 66h1v1h-1zM68 67h1v1h-1zM61 68h1v1h-1zM67 69h1v1h-1zM66 70h1v1h-1z" fill="#8cc850"/>
<path d="M68 62h1v1h-1zM59 65h1v1h-1z" fill="#50aa8c"/>
<path d="M60 63h1v1h-1zM69 64h1v1h-1zM59 68h1v1h-1zM67 71h1v1h-1z" fill="#50aa96"/>
<path d="M63 63h1v1h-1zM66 63h1v1h-1zM62 64h1v1h-1zM67 64h1v1h-1zM67 68h1v1h-1z" fill="#b4d23c"/>
<path d="M64 63h1v1h-1zM65 63h1v1h-1zM67 65h1v1h-1zM63 69h1v1h-1z" fill="#c8d232"/>
<path d="M61 64h1v1h-1z" fill="#82be50"/>
<path d="M63 64h1v1h-1z" fill="#d2d228"/>
<path d="M64 64h1v1h-1zM65 64h1v1h-1zM63 65h1v1h-1zM66 65h1v1h-1zM63 67h1v1h-1z" fill="#dcc828"/>
<path d="M66 64h1v1h-1zM63 68h1v1h-1zM66 68h1v1h-1zM64 69h1v1h-1zM65 69h1v1h-1z" fill="#dcd228"/>
<path d="M68 64h1v1h-1zM68 68h1v1h-1z" fill="#78be5a"/>
<path d="M64 65h1v1h-1zM63 66h1v1h-1zM66 66h1v1h-1zM66 67h1v1h-1zM64 68h1v1h-1zM65 68h1v1h-1z" fill="#e6be28"/>
<path d="M65 65h1v1h-1zM64 66h1v1h-1zM64 67h1v1h-1zM65 67h1v1h-1z" fill="#e6b428"/>
<path d="M56 66h1v1h-1zM58 70h1v1h-1zM62 73h1v1h-1z" fill="#5082be"/>
<path d="M60 66h1v1h-1zM61 69h1v1h-1zM62 70h1v1h-1z" fill="#6ebe5a"/>
<path d="M61 66h1v1h-1zM61 67h1v1h-1zM62 69h1v1h-1zM64 70h1v1h-1zM65 70h1v1h-1z" fill="#a0c846"/>
<path d="M62 66h1v1h-1zM67 66h1v1h-1zM62 67h1v1h-1z" fill="#d2dc28"/>
<path d="M65 66h1v1h-1z" fill="#f0b428"/>
<path d="M69 66h1v1h-1zM60 69h1v1h-1z" fill="#5ab482"/>
<path d="M67 67h1v1h-1z" fill="#d2d232"/>
<path d="M60 68h1v1h-1z" fill="#64b464"/>
<path d="M62 68h1v1h-1zM66 69h1v1h-1z" fill="#bed232"/>
<path d="M59 69h1v1h-1zM66 72h1v1h-1z" fill="#50a0b4"/>
<path d="M68 69h1v1h-1z" fill="#5ab46e"/>
<path d="M64 71h1v1h-1z" fill="#64be5a"/>
</g>
<line x1="237.5" y1="208.7" x2="237.5" y2="249.9" stroke="#e2aade" stroke-width="0.75"/>
<line x1="221.4" y1="234.5" x2="262.6" y2="234.5" stroke="#e2aade" stroke-width="0.75"/>
<rect x="221.4" y="208.7" width="41.2" height="41.2" fill="none" stroke="#a8a8a8" stroke-width="0.6"/>
<text x="222.2" y="212" font-size="2.7" fill="#444">16.2</text>
<text x="261.8" y="212" font-size="2.7" text-anchor="end" fill="#444">6.36</text>
<text x="222.2" y="249" font-size="2.7" fill="#444">29.6</text>
<text x="261.8" y="249" font-size="2.7" text-anchor="end" fill="#444">47.7</text>
<text x="217.8" y="212.8" font-size="6.3" text-anchor="end">10<tspan dy="-2.6" font-size="4.54">4</tspan></text>
<text x="217.8" y="222.65" font-size="6.3" text-anchor="end">10<tspan dy="-2.6" font-size="4.54">3</tspan></text>
<text x="217.8" y="232.5" font-size="6.3" text-anchor="end">10<tspan dy="-2.6" font-size="4.54">2</tspan></text>
<text x="217.8" y="242.35" font-size="6.3" text-anchor="end">10<tspan dy="-2.6" font-size="4.54">1</tspan></text>
<text x="217.8" y="252.2" font-size="6.3" text-anchor="end">10<tspan dy="-2.6" font-size="4.54">0</tspan></text>
<text x="222.46" y="259.8" font-size="6.2" text-anchor="middle">10<tspan dy="-2.6" font-size="4.46">0</tspan></text>
<text x="232.53" y="259.8" font-size="6.2" text-anchor="middle">10<tspan dy="-2.6" font-size="4.46">1</tspan></text>
<text x="242.6" y="259.8" font-size="6.2" text-anchor="middle">10<tspan dy="-2.6" font-size="4.46">2</tspan></text>
<text x="252.67" y="259.8" font-size="6.2" text-anchor="middle">10<tspan dy="-2.6" font-size="4.46">3</tspan></text>
<text x="262.74" y="259.8" font-size="6.2" text-anchor="middle">10<tspan dy="-2.6" font-size="4.46">4</tspan></text>
<rect x="81.6" y="278.7" width="41.2" height="41.2" fill="#fff"/>
<g transform="translate(81.6 278.7) scale(0.5)">
<path d="M27 0h1v1h-1zM47 0h1v1h-1zM53 0h1v1h-1zM5 1h1v1h-1zM19 2h1v1h-1zM14 5h1v1h-1zM7 6h1v1h-1zM21 6h1v1h-1zM12 7h1v1h-1zM73 7h1v1h-1zM1 11h1v1h-1zM16 13h1v1h-1zM77 16h1v1h-1zM81 18h1v1h-1zM75 19h1v1h-1zM5 22h1v1h-1zM7 22h1v1h-1zM75 22h1v1h-1zM2 24h1v1h-1zM6 27h1v1h-1zM75 27h1v1h-1zM77 32h1v1h-1zM77 40h1v1h-1zM4 41h1v1h-1zM5 46h1v1h-1zM79 46h1v1h-1zM6 47h1v1h-1zM72 48h1v1h-1zM72 54h1v1h-1zM67 57h1v1h-1zM76 57h1v1h-1zM75 62h1v1h-1zM72 70h1v1h-1zM66 75h1v1h-1zM64 81h1v1h-1z" fill="#aaaadc" fill-opacity="0.5"/>
<path d="M38 0h1v1h-1zM29 1h1v1h-1zM36 1h1v1h-1zM38 1h1v1h-1zM40 2h1v1h-1zM33 3h1v1h-1zM34 3h1v1h-1zM39 3h1v1h-1zM45 3h1v1h-1zM25 4h1v1h-1zM31 4h1v1h-1zM49 4h1v1h-1zM55 4h1v1h-1zM58 4h1v1h-1zM27 5h1v1h-1zM28 5h1v1h-1zM55 6h1v1h-1zM66 6h1v1h-1zM66 7h1v1h-1zM68 7h1v1h-1zM26 8h1v1h-1zM59 8h1v1h-1zM23 10h1v1h-1zM67 12h1v1h-1zM20 13h1v1h-1zM66 14h1v1h-1zM67 14h1v1h-1zM70 15h1v1h-1zM72 15h1v1h-1zM19 18h1v1h-1zM14 20h1v1h-1zM65 20h1v1h-1zM70 20h1v1h-1zM16 23h1v1h-1zM17 23h1v1h-1zM16 24h1v1h-1zM68 24h1v1h-1zM14 25h1v1h-1zM69 25h1v1h-1zM12 26h1v1h-1zM8 28h1v1h-1zM10 28h1v1h-1zM15 29h1v1h-1zM17 29h1v1h-1zM72 29h1v1h-1zM17 31h1v1h-1zM14 34h1v1h-1zM15 34h1v1h-1zM71 34h1v1h-1zM9 37h1v1h-1zM10 37h1v1h-1zM13 37h1v1h-1zM73 37h1v1h-1zM12 39h1v1h-1zM70 41h1v1h-1zM71 41h1v1h-1zM11 44h1v1h-1zM66 44h1v1h-1zM69 46h1v1h-1zM65 47h1v1h-1zM11 49h1v1h-1zM62 49h1v1h-1zM66 50h1v1h-1zM62 51h1v1h-1zM63 52h1v1h-1zM70 53h1v1h-1zM61 54h1v1h-1zM58 55h1v1h-1zM68 56h1v1h-1zM59 58h1v1h-1zM65 62h1v1h-1zM57 63h1v1h-1zM66 63h1v1h-1zM66 65h1v1h-1zM64 66h1v1h-1zM62 67h1v1h-1zM69 67h1v1h-1zM45 68h1v1h-1zM47 68h1v1h-1zM53 68h1v1h-1zM57 68h1v1h-1zM61 68h1v1h-1zM38 69h1v1h-1zM54 69h1v1h-1zM55 69h1v1h-1zM68 69h1v1h-1zM45 70h1v1h-1zM66 71h1v1h-1zM34 72h1v1h-1zM43 73h1v1h-1zM44 73h1v1h-1zM45 73h1v1h-1zM55 73h1v1h-1zM32 74h1v1h-1zM34 75h1v1h-1zM42 76h1v1h-1zM54 76h1v1h-1zM31 77h1v1h-1zM35 78h1v1h-1zM42 79h1v1h-1zM29 80h1v1h-1zM32 80h1v1h-1zM36 80h1v1h-1zM46 80h1v1h-1zM47 80h1v1h-1zM53 80h1v1h-1zM56 80h1v1h-1zM57 80h1v1h-1zM58 80h1v1h-1zM60 80h1v1h-1zM31 81h1v1h-1zM37 81h1v1h-1zM45 81h1v1h-1zM46 81h1v1h-1zM56 81h1v1h-1zM57 81h1v1h-1zM63 81h1v1h-1z" fill="#a0aadc" fill-opacity="0.5"/>
<path d="M36 5h1v1h-1zM46 5h1v1h-1zM48 5h1v1h-1zM35 6h1v1h-1zM51 6h1v1h-1zM52 6h1v1h-1zM53 7h1v1h-1zM32 8h1v1h-1zM52 8h1v1h-1zM65 8h1v1h-1zM29 9h1v1h-1zM53 9h1v1h-1zM56 9h1v1h-1zM58 9h1v1h-1zM64 9h1v1h-1zM66 9h1v1h-1zM27 10h1v1h-1zM30 10h1v1h-1zM62 10h1v1h-1zM64 10h1v1h-1zM28 11h1v1h-1zM62 11h1v1h-1zM23 12h1v1h-1zM62 12h1v1h-1zM65 12h1v1h-1zM23 13h1v1h-1zM24 13h1v1h-1zM27 13h1v1h-1zM21 15h1v1h-1zM27 15h1v1h-1zM64 16h1v1h-1zM24 17h1v1h-1zM25 17h1v1h-1zM62 17h1v1h-1zM21 18h1v1h-1zM22 19h1v1h-1zM63 20h1v1h-1zM21 21h1v1h-1zM22 21h1v1h-1zM25 22h1v1h-1zM64 22h1v1h-1zM64 23h1v1h-1zM65 23h1v1h-1zM23 24h1v1h-1zM16 25h1v1h-1zM20 25h1v1h-1zM65 25h1v1h-1zM21 26h1v1h-1zM22 26h1v1h-1zM66 26h1v1h-1zM17 27h1v1h-1zM66 27h1v1h-1zM69 27h1v1h-1zM21 28h1v1h-1zM67 28h1v1h-1zM65 29h1v1h-1zM67 29h1v1h-1zM21 30h1v1h-1zM67 32h1v1h-1zM66 34h1v1h-1zM18 36h1v1h-1zM67 37h1v1h-1zM65 38h1v1h-1zM15 39h1v1h-1zM67 39h1v1h-1zM68 39h1v1h-1zM66 40h1v1h-1zM16 41h1v1h-1zM61 41h1v1h-1zM68 41h1v1h-1zM66 42h1v1h-1zM12 43h1v1h-1zM59 43h1v1h-1zM63 43h1v1h-1zM67 43h1v1h-1zM13 45h1v1h-1zM12 46h1v1h-1zM13 46h1v1h-1zM59 46h1v1h-1zM57 47h1v1h-1zM57 48h1v1h-1zM56 49h1v1h-1zM13 51h1v1h-1zM53 54h1v1h-1zM55 54h1v1h-1zM11 55h1v1h-1zM53 55h1v1h-1zM56 56h1v1h-1zM6 57h1v1h-1zM57 57h1v1h-1zM5 58h1v1h-1zM5 59h1v1h-1zM54 59h1v1h-1zM55 60h1v1h-1zM2 61h1v1h-1zM55 61h1v1h-1zM46 62h1v1h-1zM54 62h1v1h-1zM45 63h1v1h-1zM52 63h1v1h-1zM54 63h1v1h-1zM46 64h1v1h-1zM50 64h1v1h-1zM51 64h1v1h-1zM0 65h1v1h-1zM39 65h1v1h-1zM40 65h1v1h-1zM43 65h1v1h-1zM46 65h1v1h-1zM55 65h1v1h-1zM38 66h1v1h-1zM40 66h1v1h-1zM41 66h1v1h-1zM34 68h1v1h-1zM41 68h1v1h-1zM42 68h1v1h-1zM30 71h1v1h-1zM30 72h1v1h-1zM28 74h1v1h-1zM28 75h1v1h-1zM28 76h1v1h-1zM2 78h1v1h-1zM3 78h1v1h-1zM16 79h1v1h-1zM17 79h1v1h-1zM24 79h1v1h-1zM25 79h1v1h-1zM27 79h1v1h-1zM3 80h1v1h-1zM19 80h1v1h-1zM20 80h1v1h-1zM21 80h1v1h-1zM24 80h1v1h-1zM26 80h1v1h-1zM10 81h1v1h-1zM14 81h1v1h-1z" fill="#a0a0dc" fill-opacity="0.5"/>
<path d="M40 7h1v1h-1zM44 7h1v1h-1zM46 7h1v1h-1zM37 8h1v1h-1zM38 8h1v1h-1zM42 8h1v1h-1zM46 8h1v1h-1zM48 8h1v1h-1zM34 9h1v1h-1zM35 9h1v1h-1zM36 9h1v1h-1zM48 9h1v1h-1zM49 9h1v1h-1zM31 11h1v1h-1zM51 11h1v1h-1zM54 11h1v1h-1zM33 12h1v1h-1zM30 13h1v1h-1zM29 14h1v1h-1zM59 14h1v1h-1zM60 14h1v1h-1zM61 14h1v1h-1zM31 15h1v1h-1zM60 15h1v1h-1zM29 16h1v1h-1zM30 16h1v1h-1zM60 16h1v1h-1zM27 17h1v1h-1zM29 17h1v1h-1zM60 17h1v1h-1zM28 20h1v1h-1zM60 21h1v1h-1zM61 22h1v1h-1zM60 23h1v1h-1zM25 24h1v1h-1zM23 25h1v1h-1zM61 26h1v1h-1zM24 27h1v1h-1zM61 28h1v1h-1zM23 31h1v1h-1zM62 31h1v1h-1zM21 33h1v1h-1zM63 33h1v1h-1zM64 35h1v1h-1zM18 37h1v1h-1zM19 37h1v1h-1zM63 37h1v1h-1zM19 38h1v1h-1zM63 38h1v1h-1zM62 39h1v1h-1zM59 41h1v1h-1zM17 42h1v1h-1zM57 42h1v1h-1zM59 42h1v1h-1zM15 45h1v1h-1zM55 45h1v1h-1zM15 46h1v1h-1zM14 47h1v1h-1zM54 47h1v1h-1zM55 47h1v1h-1zM14 49h1v1h-1zM52 49h1v1h-1zM54 49h1v1h-1zM53 50h1v1h-1zM50 52h1v1h-1zM49 53h1v1h-1zM49 54h1v1h-1zM52 54h1v1h-1zM52 55h1v1h-1zM12 56h1v1h-1zM49 56h1v1h-1zM53 56h1v1h-1zM8 58h1v1h-1zM10 58h1v1h-1zM45 58h1v1h-1zM49 58h1v1h-1zM53 58h1v1h-1zM49 59h1v1h-1zM44 60h1v1h-1zM49 60h1v1h-1zM51 60h1v1h-1zM52 60h1v1h-1zM4 61h1v1h-1zM42 61h1v1h-1zM46 61h1v1h-1zM47 61h1v1h-1zM50 61h1v1h-1zM53 61h1v1h-1zM43 62h1v1h-1zM50 62h1v1h-1zM39 63h1v1h-1zM2 64h1v1h-1zM35 65h1v1h-1zM30 68h1v1h-1zM31 68h1v1h-1zM28 71h1v1h-1zM28 73h1v1h-1zM25 74h1v1h-1zM1 75h1v1h-1zM23 75h1v1h-1zM20 77h1v1h-1zM21 77h1v1h-1zM5 78h1v1h-1zM7 79h1v1h-1zM14 79h1v1h-1zM15 79h1v1h-1zM9 80h1v1h-1zM12 80h1v1h-1z" fill="#96a0dc" fill-opacity="0.5"/>
<path d="M37 9h1v1h-1zM41 9h1v1h-1zM46 9h1v1h-1zM35 10h1v1h-1zM49 10h1v1h-1zM51 12h1v1h-1zM53 12h1v1h-1zM54 12h1v1h-1zM34 13h1v1h-1zM56 13h1v1h-1zM57 13h1v1h-1zM33 14h1v1h-1zM59 16h1v1h-1zM29 19h1v1h-1zM28 21h1v1h-1zM59 21h1v1h-1zM60 28h1v1h-1zM60 29h1v1h-1zM24 31h1v1h-1zM61 31h1v1h-1zM63 36h1v1h-1zM20 37h1v1h-1zM19 39h1v1h-1zM56 41h1v1h-1zM18 42h1v1h-1zM55 42h1v1h-1zM54 44h1v1h-1zM15 48h1v1h-1zM49 50h1v1h-1zM13 55h1v1h-1zM46 56h1v1h-1zM12 57h1v1h-1zM45 57h1v1h-1zM9 59h1v1h-1zM41 60h1v1h-1zM5 62h1v1h-1zM4 63h1v1h-1zM1 66h1v1h-1zM0 68h1v1h-1zM0 69h1v1h-1zM0 70h1v1h-1zM26 72h1v1h-1zM19 75h1v1h-1zM20 75h1v1h-1zM11 79h1v1h-1z" fill="#9696dc" fill-opacity="0.5"/>
<path d="M43 9h1v1h-1zM38 10h1v1h-1zM36 11h1v1h-1zM30 19h1v1h-1zM59 28h1v1h-1zM22 34h1v1h-1zM62 34h1v1h-1zM48 50h1v1h-1zM43 58h1v1h-1zM4 76h1v1h-1z" fill="#9696dc" fill-opacity="0.6"/>
<path d="M44 9h1v1h-1zM45 9h1v1h-1zM46 10h1v1h-1zM48 12h1v1h-1zM35 13h1v1h-1zM50 13h1v1h-1zM51 13h1v1h-1zM34 14h1v1h-1zM58 16h1v1h-1zM31 19h1v1h-1zM30 20h1v1h-1zM58 23h1v1h-1zM58 24h1v1h-1zM58 28h1v1h-1zM59 29h1v1h-1zM61 33h1v1h-1zM21 36h1v1h-1zM62 36h1v1h-1zM54 43h1v1h-1zM18 44h1v1h-1zM48 49h1v1h-1zM46 54h1v1h-1zM45 55h1v1h-1zM12 58h1v1h-1zM42 58h1v1h-1zM41 59h1v1h-1zM9 60h1v1h-1zM38 62h1v1h-1zM2 66h1v1h-1zM1 72h1v1h-1zM24 72h1v1h-1zM23 73h1v1h-1zM20 74h1v1h-1zM21 74h1v1h-1zM3 75h1v1h-1zM17 75h1v1h-1zM14 77h1v1h-1zM11 78h1v1h-1z" fill="#8c96dc" fill-opacity="0.6"/>
<path d="M43 10h1v1h-1zM39 11h1v1h-1zM44 11h1v1h-1zM45 11h1v1h-1zM38 12h1v1h-1zM40 12h1v1h-1zM36 14h1v1h-1zM47 14h1v1h-1zM48 14h1v1h-1zM53 14h1v1h-1zM35 15h1v1h-1zM49 15h1v1h-1zM55 15h1v1h-1zM56 15h1v1h-1zM35 16h1v1h-1zM49 16h1v1h-1zM50 16h1v1h-1zM57 20h1v1h-1zM30 21h1v1h-1zM57 21h1v1h-1zM57 22h1v1h-1zM57 23h1v1h-1zM56 24h1v1h-1zM57 24h1v1h-1zM57 26h1v1h-1zM57 27h1v1h-1zM26 28h1v1h-1zM57 29h1v1h-1zM59 30h1v1h-1zM26 31h1v1h-1zM57 31h1v1h-1zM58 31h1v1h-1zM24 33h1v1h-1zM60 33h1v1h-1zM61 35h1v1h-1zM22 36h1v1h-1zM60 36h1v1h-1zM61 36h1v1h-1zM59 38h1v1h-1zM21 39h1v1h-1zM57 39h1v1h-1zM53 41h1v1h-1zM52 42h1v1h-1zM19 43h1v1h-1zM53 43h1v1h-1zM52 45h1v1h-1zM17 46h1v1h-1zM49 47h1v1h-1zM50 47h1v1h-1zM49 48h1v1h-1zM15 50h1v1h-1zM47 50h1v1h-1zM45 54h1v1h-1zM44 55h1v1h-1zM13 58h1v1h-1zM13 59h1v1h-1zM40 59h1v1h-1zM10 60h1v1h-1zM39 60h1v1h-1zM8 61h1v1h-1zM9 61h1v1h-1zM11 61h1v1h-1zM7 62h1v1h-1zM8 62h1v1h-1zM36 63h1v1h-1zM4 64h1v1h-1zM3 65h1v1h-1zM33 65h1v1h-1zM29 67h1v1h-1zM1 68h1v1h-1zM1 69h1v1h-1zM1 70h1v1h-1zM26 70h1v1h-1zM1 71h1v1h-1zM22 72h1v1h-1zM2 73h1v1h-1zM19 74h1v1h-1zM14 76h1v1h-1zM15 76h1v1h-1zM7 77h1v1h-1zM11 77h1v1h-1zM13 77h1v1h-1z" fill="#8c96d2" fill-opacity="0.6"/>
<path d="M42 12h1v1h-1zM45 12h1v1h-1zM40 13h1v1h-1zM42 13h1v1h-1zM43 13h1v1h-1zM46 13h1v1h-1zM40 14h1v1h-1zM46 14h1v1h-1zM38 15h1v1h-1zM39 15h1v1h-1zM53 15h1v1h-1zM36 16h1v1h-1zM47 16h1v1h-1zM52 16h1v1h-1zM53 16h1v1h-1zM54 16h1v1h-1zM35 17h1v1h-1zM48 17h1v1h-1zM50 17h1v1h-1zM53 17h1v1h-1zM55 17h1v1h-1zM56 17h1v1h-1zM35 18h1v1h-1zM48 18h1v1h-1zM52 18h1v1h-1zM52 19h1v1h-1zM56 19h1v1h-1zM33 20h1v1h-1zM51 20h1v1h-1zM55 20h1v1h-1zM56 20h1v1h-1zM54 21h1v1h-1zM56 21h1v1h-1zM30 22h1v1h-1zM31 22h1v1h-1zM54 22h1v1h-1zM56 22h1v1h-1zM54 23h1v1h-1zM28 25h1v1h-1zM55 25h1v1h-1zM55 26h1v1h-1zM27 27h1v1h-1zM54 27h1v1h-1zM27 28h1v1h-1zM27 29h1v1h-1zM27 30h1v1h-1zM54 30h1v1h-1zM56 30h1v1h-1zM55 31h1v1h-1zM27 32h1v1h-1zM54 32h1v1h-1zM58 32h1v1h-1zM55 33h1v1h-1zM58 33h1v1h-1zM24 34h1v1h-1zM59 34h1v1h-1zM59 35h1v1h-1zM23 36h1v1h-1zM57 37h1v1h-1zM58 37h1v1h-1zM22 38h1v1h-1zM55 38h1v1h-1zM57 38h1v1h-1zM52 39h1v1h-1zM54 39h1v1h-1zM21 40h1v1h-1zM52 40h1v1h-1zM52 41h1v1h-1zM50 44h1v1h-1zM51 44h1v1h-1zM50 45h1v1h-1zM48 46h1v1h-1zM46 49h1v1h-1zM45 50h1v1h-1zM45 51h1v1h-1zM44 53h1v1h-1zM44 54h1v1h-1zM39 59h1v1h-1zM38 60h1v1h-1zM10 62h1v1h-1zM35 63h1v1h-1zM6 64h1v1h-1zM7 64h1v1h-1zM32 65h1v1h-1zM4 66h1v1h-1zM28 67h1v1h-1zM2 68h1v1h-1zM2 69h1v1h-1zM26 69h1v1h-1zM24 70h1v1h-1zM2 71h1v1h-1zM22 71h1v1h-1zM23 71h1v1h-1zM19 72h1v1h-1zM3 73h1v1h-1zM18 73h1v1h-1zM16 74h1v1h-1zM9 77h1v1h-1zM10 77h1v1h-1z" fill="#8c8cd2" fill-opacity="0.6"/>
<path d="M42 14h1v1h-1zM43 14h1v1h-1zM44 15h1v1h-1zM41 16h1v1h-1zM42 16h1v1h-1zM44 16h1v1h-1zM38 17h1v1h-1zM39 17h1v1h-1zM40 17h1v1h-1zM42 17h1v1h-1zM36 18h1v1h-1zM37 18h1v1h-1zM42 18h1v1h-1zM44 18h1v1h-1zM45 18h1v1h-1zM35 19h1v1h-1zM37 19h1v1h-1zM39 19h1v1h-1zM41 19h1v1h-1zM46 19h1v1h-1zM34 20h1v1h-1zM35 20h1v1h-1zM36 20h1v1h-1zM38 20h1v1h-1zM42 20h1v1h-1zM45 20h1v1h-1zM46 20h1v1h-1zM47 20h1v1h-1zM48 20h1v1h-1zM33 21h1v1h-1zM35 21h1v1h-1zM37 21h1v1h-1zM39 21h1v1h-1zM40 21h1v1h-1zM46 21h1v1h-1zM47 21h1v1h-1zM51 21h1v1h-1zM33 22h1v1h-1zM34 22h1v1h-1zM35 22h1v1h-1zM37 22h1v1h-1zM39 22h1v1h-1zM50 22h1v1h-1zM51 22h1v1h-1zM33 23h1v1h-1zM35 23h1v1h-1zM51 23h1v1h-1zM30 24h1v1h-1zM32 24h1v1h-1zM34 24h1v1h-1zM51 24h1v1h-1zM53 24h1v1h-1zM29 25h1v1h-1zM30 25h1v1h-1zM28 26h1v1h-1zM53 26h1v1h-1zM52 27h1v1h-1zM53 27h1v1h-1zM28 28h1v1h-1zM29 28h1v1h-1zM53 28h1v1h-1zM28 29h1v1h-1zM29 29h1v1h-1zM52 29h1v1h-1zM30 30h1v1h-1zM52 30h1v1h-1zM51 31h1v1h-1zM53 31h1v1h-1zM29 32h1v1h-1zM51 32h1v1h-1zM47 33h1v1h-1zM50 33h1v1h-1zM51 33h1v1h-1zM25 34h1v1h-1zM26 34h1v1h-1zM27 34h1v1h-1zM44 34h1v1h-1zM46 34h1v1h-1zM47 34h1v1h-1zM24 35h1v1h-1zM25 35h1v1h-1zM48 35h1v1h-1zM50 35h1v1h-1zM51 35h1v1h-1zM52 35h1v1h-1zM53 35h1v1h-1zM56 35h1v1h-1zM57 35h1v1h-1zM24 36h1v1h-1zM47 36h1v1h-1zM50 36h1v1h-1zM51 36h1v1h-1zM52 36h1v1h-1zM54 36h1v1h-1zM56 36h1v1h-1zM57 36h1v1h-1zM23 37h1v1h-1zM46 37h1v1h-1zM49 37h1v1h-1zM51 37h1v1h-1zM23 38h1v1h-1zM47 38h1v1h-1zM50 38h1v1h-1zM49 39h1v1h-1zM50 39h1v1h-1zM49 40h1v1h-1zM49 41h1v1h-1zM20 43h1v1h-1zM48 43h1v1h-1zM49 43h1v1h-1zM20 44h1v1h-1zM47 44h1v1h-1zM47 45h1v1h-1zM48 45h1v1h-1zM46 46h1v1h-1zM46 47h1v1h-1zM45 48h1v1h-1zM16 51h1v1h-1zM43 52h1v1h-1zM42 53h1v1h-1zM43 53h1v1h-1zM41 54h1v1h-1zM15 56h1v1h-1zM15 57h1v1h-1zM40 57h1v1h-1zM39 58h1v1h-1zM14 60h1v1h-1zM14 62h1v1h-1zM35 62h1v1h-1zM11 63h1v1h-1zM12 63h1v1h-1zM13 63h1v1h-1zM34 63h1v1h-1zM8 64h1v1h-1zM9 64h1v1h-1zM6 65h1v1h-1zM6 66h1v1h-1zM5 67h1v1h-1zM22 69h1v1h-1zM24 69h1v1h-1zM3 70h1v1h-1zM19 70h1v1h-1zM21 70h1v1h-1zM19 71h1v1h-1zM3 72h1v1h-1zM4 72h1v1h-1zM17 72h1v1h-1zM5 73h1v1h-1zM6 74h1v1h-1zM13 74h1v1h-1zM14 74h1v1h-1zM8 75h1v1h-1zM8 76h1v1h-1zM9 76h1v1h-1zM11 76h1v1h-1z" fill="#828cd2" fill-opacity="0.7"/>
<path d="M40 15h1v1h-1zM39 16h1v1h-1zM54 18h1v1h-1zM54 19h1v1h-1zM54 20h1v1h-1zM58 35h1v1h-1zM58 36h1v1h-1zM54 37h1v1h-1zM55 37h1v1h-1zM12 62h1v1h-1zM36 62h1v1h-1zM23 70h1v1h-1z" fill="#8c8cd2" fill-opacity="0.7"/>
<path d="M45 21h1v1h-1zM40 22h1v1h-1zM48 22h1v1h-1zM38 24h1v1h-1zM31 25h1v1h-1zM36 25h1v1h-1zM30 26h1v1h-1zM30 29h1v1h-1zM31 30h1v1h-1zM49 32h1v1h-1zM30 33h1v1h-1zM44 33h1v1h-1zM46 33h1v1h-1zM43 34h1v1h-1zM26 35h1v1h-1zM41 35h1v1h-1zM43 35h1v1h-1zM43 36h1v1h-1zM44 36h1v1h-1zM45 37h1v1h-1zM46 38h1v1h-1zM47 42h1v1h-1zM40 55h1v1h-1zM12 64h1v1h-1zM4 69h1v1h-1zM16 72h1v1h-1z" fill="#8282d2" fill-opacity="0.7"/>
<path d="M42 22h1v1h-1zM49 23h1v1h-1zM39 24h1v1h-1zM34 26h1v1h-1zM35 26h1v1h-1zM30 27h1v1h-1zM30 28h1v1h-1zM31 29h1v1h-1zM50 31h1v1h-1zM43 32h1v1h-1zM44 32h1v1h-1zM47 32h1v1h-1zM42 33h1v1h-1zM27 35h1v1h-1zM40 35h1v1h-1zM40 37h1v1h-1zM44 37h1v1h-1zM46 40h1v1h-1zM19 46h1v1h-1zM45 46h1v1h-1zM43 49h1v1h-1zM41 53h1v1h-1zM9 66h1v1h-1zM6 67h1v1h-1zM26 67h1v1h-1zM14 73h1v1h-1z" fill="#7882d2" fill-opacity="0.7"/>
<path d="M44 22h1v1h-1zM41 23h1v1h-1zM42 23h1v1h-1zM43 23h1v1h-1zM47 23h1v1h-1zM40 24h1v1h-1zM41 24h1v1h-1zM42 24h1v1h-1zM43 24h1v1h-1zM44 24h1v1h-1zM46 24h1v1h-1zM47 24h1v1h-1zM49 24h1v1h-1zM39 25h1v1h-1zM40 25h1v1h-1zM41 25h1v1h-1zM42 25h1v1h-1zM49 25h1v1h-1zM50 25h1v1h-1zM32 26h1v1h-1zM33 26h1v1h-1zM38 26h1v1h-1zM40 26h1v1h-1zM50 26h1v1h-1zM31 27h1v1h-1zM32 27h1v1h-1zM35 27h1v1h-1zM37 27h1v1h-1zM42 27h1v1h-1zM32 28h1v1h-1zM33 28h1v1h-1zM37 28h1v1h-1zM38 28h1v1h-1zM39 28h1v1h-1zM41 28h1v1h-1zM42 28h1v1h-1zM43 28h1v1h-1zM50 28h1v1h-1zM51 28h1v1h-1zM33 29h1v1h-1zM34 29h1v1h-1zM36 29h1v1h-1zM40 29h1v1h-1zM41 29h1v1h-1zM44 29h1v1h-1zM50 29h1v1h-1zM51 29h1v1h-1zM33 30h1v1h-1zM35 30h1v1h-1zM36 30h1v1h-1zM40 30h1v1h-1zM42 30h1v1h-1zM47 30h1v1h-1zM48 30h1v1h-1zM32 31h1v1h-1zM35 31h1v1h-1zM39 31h1v1h-1zM40 31h1v1h-1zM42 31h1v1h-1zM44 31h1v1h-1zM46 31h1v1h-1zM48 31h1v1h-1zM49 31h1v1h-1zM38 32h1v1h-1zM40 32h1v1h-1zM41 32h1v1h-1zM32 33h1v1h-1zM33 33h1v1h-1zM38 33h1v1h-1zM28 35h1v1h-1zM30 35h1v1h-1zM38 35h1v1h-1zM26 36h1v1h-1zM28 36h1v1h-1zM26 37h1v1h-1zM36 37h1v1h-1zM37 37h1v1h-1zM25 38h1v1h-1zM37 38h1v1h-1zM41 38h1v1h-1zM43 38h1v1h-1zM44 38h1v1h-1zM24 39h1v1h-1zM38 39h1v1h-1zM41 39h1v1h-1zM43 39h1v1h-1zM45 39h1v1h-1zM38 40h1v1h-1zM40 40h1v1h-1zM42 40h1v1h-1zM44 40h1v1h-1zM44 41h1v1h-1zM45 41h1v1h-1zM22 42h1v1h-1zM44 42h1v1h-1zM45 42h1v1h-1zM46 42h1v1h-1zM45 43h1v1h-1zM46 43h1v1h-1zM21 44h1v1h-1zM45 44h1v1h-1zM44 45h1v1h-1zM44 46h1v1h-1zM19 47h1v1h-1zM42 48h1v1h-1zM43 48h1v1h-1zM41 50h1v1h-1zM41 51h1v1h-1zM41 52h1v1h-1zM40 53h1v1h-1zM40 54h1v1h-1zM16 56h1v1h-1zM38 56h1v1h-1zM16 58h1v1h-1zM16 59h1v1h-1zM36 60h1v1h-1zM34 62h1v1h-1zM16 63h1v1h-1zM32 63h1v1h-1zM14 64h1v1h-1zM12 65h1v1h-1zM29 65h1v1h-1zM27 66h1v1h-1zM6 68h1v1h-1zM7 68h1v1h-1zM19 68h1v1h-1zM20 68h1v1h-1zM23 68h1v1h-1zM5 69h1v1h-1zM6 69h1v1h-1zM17 70h1v1h-1zM6 72h1v1h-1zM14 72h1v1h-1zM6 73h1v1h-1zM11 73h1v1h-1zM13 73h1v1h-1zM8 74h1v1h-1zM10 74h1v1h-1z" fill="#7882c8" fill-opacity="0.8"/>
<path d="M46 25h1v1h-1zM47 25h1v1h-1zM48 25h1v1h-1zM44 26h1v1h-1zM45 26h1v1h-1zM48 26h1v1h-1zM49 26h1v1h-1zM49 27h1v1h-1zM46 28h1v1h-1zM38 29h1v1h-1zM39 29h1v1h-1zM46 29h1v1h-1zM47 29h1v1h-1zM48 29h1v1h-1zM37 30h1v1h-1zM38 30h1v1h-1zM39 30h1v1h-1zM36 31h1v1h-1zM36 32h1v1h-1zM34 33h1v1h-1zM35 33h1v1h-1zM36 33h1v1h-1zM37 33h1v1h-1zM33 34h1v1h-1zM34 34h1v1h-1zM35 34h1v1h-1zM32 35h1v1h-1zM29 36h1v1h-1zM36 36h1v1h-1zM40 41h1v1h-1zM42 41h1v1h-1zM43 42h1v1h-1zM43 46h1v1h-1zM41 49h1v1h-1zM17 51h1v1h-1zM39 54h1v1h-1zM14 65h1v1h-1zM28 65h1v1h-1zM26 66h1v1h-1zM11 67h1v1h-1zM22 67h1v1h-1zM8 68h1v1h-1zM18 68h1v1h-1zM7 69h1v1h-1zM6 70h1v1h-1zM6 71h1v1h-1zM14 71h1v1h-1zM7 72h1v1h-1zM13 72h1v1h-1zM10 73h1v1h-1z" fill="#7878c8" fill-opacity="0.8"/>
<path d="M46 26h1v1h-1zM47 27h1v1h-1zM48 27h1v1h-1zM47 28h1v1h-1zM48 28h1v1h-1zM34 35h1v1h-1zM35 35h1v1h-1zM31 36h1v1h-1zM33 36h1v1h-1zM35 36h1v1h-1zM27 37h1v1h-1zM28 37h1v1h-1zM31 37h1v1h-1zM32 37h1v1h-1zM33 37h1v1h-1zM35 37h1v1h-1zM27 38h1v1h-1zM28 38h1v1h-1zM35 38h1v1h-1zM26 39h1v1h-1zM34 39h1v1h-1zM35 40h1v1h-1zM36 41h1v1h-1zM38 41h1v1h-1zM37 42h1v1h-1zM39 42h1v1h-1zM42 42h1v1h-1zM37 43h1v1h-1zM38 43h1v1h-1zM39 43h1v1h-1zM40 43h1v1h-1zM41 43h1v1h-1zM39 44h1v1h-1zM40 44h1v1h-1zM42 44h1v1h-1zM43 44h1v1h-1zM40 45h1v1h-1zM42 45h1v1h-1zM20 46h1v1h-1zM42 46h1v1h-1zM39 47h1v1h-1zM40 47h1v1h-1zM41 47h1v1h-1zM42 47h1v1h-1zM19 48h1v1h-1zM39 48h1v1h-1zM40 48h1v1h-1zM41 48h1v1h-1zM40 49h1v1h-1zM39 50h1v1h-1zM39 51h1v1h-1zM17 52h1v1h-1zM39 52h1v1h-1zM17 53h1v1h-1zM38 53h1v1h-1zM39 53h1v1h-1zM38 54h1v1h-1zM38 55h1v1h-1zM37 56h1v1h-1zM17 58h1v1h-1zM17 59h1v1h-1zM36 59h1v1h-1zM18 62h1v1h-1zM33 62h1v1h-1zM18 63h1v1h-1zM16 64h1v1h-1zM17 64h1v1h-1zM18 64h1v1h-1zM29 64h1v1h-1zM15 65h1v1h-1zM16 65h1v1h-1zM17 65h1v1h-1zM18 65h1v1h-1zM19 65h1v1h-1zM27 65h1v1h-1zM15 66h1v1h-1zM16 66h1v1h-1zM17 66h1v1h-1zM18 66h1v1h-1zM19 66h1v1h-1zM20 66h1v1h-1zM22 66h1v1h-1zM23 66h1v1h-1zM24 66h1v1h-1zM25 66h1v1h-1zM12 67h1v1h-1zM13 67h1v1h-1zM14 67h1v1h-1zM15 67h1v1h-1zM16 67h1v1h-1zM9 68h1v1h-1zM13 68h1v1h-1zM14 68h1v1h-1zM16 68h1v1h-1zM17 68h1v1h-1zM8 69h1v1h-1zM9 69h1v1h-1zM10 69h1v1h-1zM12 69h1v1h-1zM16 69h1v1h-1zM7 70h1v1h-1zM10 70h1v1h-1zM11 70h1v1h-1zM12 70h1v1h-1zM13 70h1v1h-1zM14 70h1v1h-1zM15 70h1v1h-1zM7 71h1v1h-1zM8 71h1v1h-1zM9 71h1v1h-1zM10 71h1v1h-1zM11 71h1v1h-1zM12 71h1v1h-1zM13 71h1v1h-1zM8 72h1v1h-1zM9 72h1v1h-1zM10 72h1v1h-1z" fill="#6e78c8" fill-opacity="0.9"/>
<path d="M31 33h1v1h-1zM40 34h1v1h-1zM45 38h1v1h-1zM39 56h1v1h-1zM37 59h1v1h-1zM5 68h1v1h-1z" fill="#7882d2" fill-opacity="0.8"/>
<path d="M30 36h1v1h-1z" fill="#6e78c8" fill-opacity="0.8"/>
<path d="M30 38h1v1h-1zM31 38h1v1h-1zM32 38h1v1h-1zM27 39h1v1h-1zM35 42h1v1h-1zM37 44h1v1h-1zM38 44h1v1h-1zM38 46h1v1h-1zM38 48h1v1h-1zM38 51h1v1h-1zM38 52h1v1h-1zM17 55h1v1h-1zM37 55h1v1h-1zM17 56h1v1h-1zM18 61h1v1h-1zM32 62h1v1h-1zM28 64h1v1h-1z" fill="#6478c8"/>
<path d="M28 39h1v1h-1zM29 39h1v1h-1zM31 39h1v1h-1zM32 39h1v1h-1zM33 40h1v1h-1zM35 43h1v1h-1zM36 44h1v1h-1zM36 45h1v1h-1zM37 45h1v1h-1zM37 48h1v1h-1zM37 49h1v1h-1zM18 51h1v1h-1zM37 53h1v1h-1zM37 54h1v1h-1zM18 59h1v1h-1zM34 60h1v1h-1zM31 62h1v1h-1zM29 63h1v1h-1zM20 64h1v1h-1zM27 64h1v1h-1zM22 65h1v1h-1zM23 65h1v1h-1zM24 65h1v1h-1z" fill="#646ebe"/>
<path d="M27 40h1v1h-1zM31 40h1v1h-1zM26 41h1v1h-1zM34 43h1v1h-1zM23 44h1v1h-1zM35 44h1v1h-1zM35 45h1v1h-1zM36 47h1v1h-1zM20 48h1v1h-1zM36 48h1v1h-1zM19 50h1v1h-1zM18 52h1v1h-1zM18 53h1v1h-1zM36 55h1v1h-1zM18 58h1v1h-1zM34 59h1v1h-1zM19 61h1v1h-1zM32 61h1v1h-1zM20 63h1v1h-1zM22 64h1v1h-1zM25 64h1v1h-1z" fill="#5a6ebe"/>
<path d="M28 40h1v1h-1zM30 40h1v1h-1zM32 41h1v1h-1zM24 43h1v1h-1zM36 53h1v1h-1zM18 57h1v1h-1zM35 57h1v1h-1zM33 60h1v1h-1zM21 63h1v1h-1zM23 64h1v1h-1z" fill="#5a64be"/>
<path d="M34 40h1v1h-1zM39 45h1v1h-1z" fill="#6478c8" fill-opacity="0.9"/>
<path d="M27 41h1v1h-1zM31 41h1v1h-1zM33 43h1v1h-1zM23 45h1v1h-1zM34 45h1v1h-1zM35 47h1v1h-1zM20 49h1v1h-1zM19 51h1v1h-1zM35 56h1v1h-1zM34 58h1v1h-1zM19 59h1v1h-1zM21 62h1v1h-1zM29 62h1v1h-1zM22 63h1v1h-1zM26 63h1v1h-1z" fill="#5064b4"/>
<path d="M29 41h1v1h-1zM26 42h1v1h-1zM24 44h1v1h-1zM33 44h1v1h-1zM34 46h1v1h-1zM21 48h1v1h-1zM35 55h1v1h-1zM19 58h1v1h-1zM20 60h1v1h-1zM32 60h1v1h-1zM23 63h1v1h-1z" fill="#506eb4"/>
<path d="M34 41h1v1h-1zM23 43h1v1h-1zM21 65h1v1h-1z" fill="#6478be"/>
<path d="M28 42h1v1h-1zM29 42h1v1h-1zM32 44h1v1h-1zM34 49h1v1h-1zM19 54h1v1h-1zM34 56h1v1h-1zM21 60h1v1h-1zM31 60h1v1h-1zM23 62h1v1h-1zM26 62h1v1h-1z" fill="#4682be"/>
<path d="M30 42h1v1h-1zM23 46h1v1h-1zM19 56h1v1h-1zM29 61h1v1h-1z" fill="#5082be"/>
<path d="M31 42h1v1h-1zM32 43h1v1h-1zM22 47h1v1h-1zM34 47h1v1h-1zM34 48h1v1h-1zM20 50h1v1h-1zM19 52h1v1h-1zM35 52h1v1h-1zM19 53h1v1h-1zM19 57h1v1h-1zM20 59h1v1h-1zM22 62h1v1h-1z" fill="#5078be"/>
<path d="M25 43h1v1h-1zM35 54h1v1h-1zM33 59h1v1h-1zM30 61h1v1h-1zM24 63h1v1h-1zM25 63h1v1h-1z" fill="#506ebe"/>
<path d="M26 43h1v1h-1zM31 43h1v1h-1zM25 44h1v1h-1zM24 45h1v1h-1zM33 47h1v1h-1zM21 49h1v1h-1zM34 50h1v1h-1zM20 51h1v1h-1zM34 51h1v1h-1zM34 55h1v1h-1zM32 59h1v1h-1zM22 61h1v1h-1zM28 61h1v1h-1zM24 62h1v1h-1zM25 62h1v1h-1z" fill="#468cbe"/>
<path d="M27 43h1v1h-1zM30 43h1v1h-1zM31 44h1v1h-1zM32 45h1v1h-1zM22 48h1v1h-1zM33 48h1v1h-1zM34 52h1v1h-1zM34 53h1v1h-1zM34 54h1v1h-1z" fill="#4696be"/>
<path d="M28 43h1v1h-1zM29 43h1v1h-1zM26 44h1v1h-1zM24 46h1v1h-1zM32 46h1v1h-1zM33 49h1v1h-1zM21 50h1v1h-1zM20 52h1v1h-1zM31 59h1v1h-1zM22 60h1v1h-1z" fill="#46a0be"/>
<path d="M27 44h1v1h-1zM32 48h1v1h-1zM33 51h1v1h-1zM33 52h1v1h-1zM33 54h1v1h-1zM33 55h1v1h-1zM23 60h1v1h-1zM28 60h1v1h-1z" fill="#50aaa0"/>
<path d="M28 44h1v1h-1zM29 44h1v1h-1zM31 46h1v1h-1zM23 48h1v1h-1zM33 53h1v1h-1zM30 59h1v1h-1z" fill="#50aa96"/>
<path d="M26 45h1v1h-1zM24 47h1v1h-1zM32 57h1v1h-1z" fill="#50aa8c"/>
<path d="M27 45h1v1h-1zM29 45h1v1h-1zM22 50h1v1h-1zM32 50h1v1h-1zM21 52h1v1h-1zM32 56h1v1h-1zM29 59h1v1h-1zM25 60h1v1h-1zM26 60h1v1h-1z" fill="#5ab478"/>
<path d="M28 45h1v1h-1zM31 48h1v1h-1zM21 56h1v1h-1z" fill="#64b46e"/>
<path d="M30 45h1v1h-1zM25 46h1v1h-1zM32 49h1v1h-1zM21 57h1v1h-1zM27 60h1v1h-1z" fill="#5ab48c"/>
<path d="M31 45h1v1h-1zM32 47h1v1h-1zM33 50h1v1h-1zM33 56h1v1h-1zM25 61h1v1h-1z" fill="#50a0b4"/>
<path d="M27 46h1v1h-1zM22 51h1v1h-1zM24 59h1v1h-1z" fill="#78be5a"/>
<path d="M28 46h1v1h-1zM31 50h1v1h-1zM22 57h1v1h-1z" fill="#78be50"/>
<path d="M29 46h1v1h-1zM31 49h1v1h-1zM31 57h1v1h-1zM28 59h1v1h-1z" fill="#6ebe5a"/>
<path d="M30 46h1v1h-1zM22 58h1v1h-1z" fill="#5ab46e"/>
<path d="M23 47h1v1h-1zM33 57h1v1h-1zM21 59h1v1h-1zM23 61h1v1h-1zM27 61h1v1h-1z" fill="#46a0c8"/>
<path d="M26 47h1v1h-1zM31 51h1v1h-1zM31 56h1v1h-1zM29 58h1v1h-1zM26 59h1v1h-1z" fill="#8cc850"/>
<path d="M27 47h1v1h-1zM28 47h1v1h-1zM31 53h1v1h-1zM31 55h1v1h-1zM22 56h1v1h-1zM30 57h1v1h-1z" fill="#a0c846"/>
<path d="M31 47h1v1h-1zM31 58h1v1h-1zM24 60h1v1h-1z" fill="#5ab482"/>
<path d="M24 48h1v1h-1zM23 49h1v1h-1zM32 52h1v1h-1zM21 53h1v1h-1zM32 55h1v1h-1z" fill="#64be64"/>
<path d="M25 48h1v1h-1zM24 49h1v1h-1zM30 49h1v1h-1zM22 52h1v1h-1z" fill="#96c846"/>
<path d="M26 48h1v1h-1zM30 50h1v1h-1zM22 53h1v1h-1zM22 54h1v1h-1zM22 55h1v1h-1zM23 57h1v1h-1z" fill="#b4d23c"/>
<path d="M27 48h1v1h-1zM25 49h1v1h-1zM24 50h1v1h-1zM30 51h1v1h-1zM29 57h1v1h-1zM25 58h1v1h-1zM27 58h1v1h-1z" fill="#c8d232"/>
<path d="M28 48h1v1h-1zM29 49h1v1h-1zM30 56h1v1h-1z" fill="#bed232"/>
<path d="M29 48h1v1h-1zM31 54h1v1h-1z" fill="#aac83c"/>
<path d="M30 48h1v1h-1zM23 58h1v1h-1zM25 59h1v1h-1z" fill="#82c850"/>
<path d="M22 49h1v1h-1zM20 54h1v1h-1zM20 55h1v1h-1z" fill="#50aaaa"/>
<path d="M26 49h1v1h-1zM28 49h1v1h-1zM23 52h1v1h-1zM30 54h1v1h-1zM23 56h1v1h-1zM24 57h1v1h-1zM28 57h1v1h-1z" fill="#dcd228"/>
<path d="M27 49h1v1h-1zM25 50h1v1h-1zM28 50h1v1h-1zM24 51h1v1h-1zM29 51h1v1h-1zM23 53h1v1h-1zM23 55h1v1h-1zM29 56h1v1h-1z" fill="#dcc828"/>
<path d="M26 50h1v1h-1zM27 50h1v1h-1zM29 52h1v1h-1zM23 54h1v1h-1zM29 55h1v1h-1zM24 56h1v1h-1zM25 57h1v1h-1zM26 57h1v1h-1zM27 57h1v1h-1z" fill="#e6be28"/>
<path d="M23 51h1v1h-1z" fill="#bed23c"/>
<path d="M25 51h1v1h-1z" fill="#f0b428"/>
<path d="M26 51h1v1h-1zM27 51h1v1h-1zM28 52h1v1h-1zM24 53h1v1h-1zM24 54h1v1h-1zM24 55h1v1h-1zM28 55h1v1h-1zM25 56h1v1h-1zM27 56h1v1h-1z" fill="#f0aa28"/>
<path d="M28 51h1v1h-1zM24 52h1v1h-1zM29 53h1v1h-1zM29 54h1v1h-1zM28 56h1v1h-1z" fill="#e6b428"/>
<path d="M36 51h1v1h-1zM36 52h1v1h-1zM18 56h1v1h-1zM27 63h1v1h-1z" fill="#5064be"/>
<path d="M25 52h1v1h-1zM28 54h1v1h-1zM26 56h1v1h-1z" fill="#f0a028"/>
<path d="M26 52h1v1h-1zM27 52h1v1h-1zM25 55h1v1h-1zM27 55h1v1h-1z" fill="#f09628"/>
<path d="M30 52h1v1h-1z" fill="#d2dc28"/>
<path d="M25 53h1v1h-1zM27 53h1v1h-1zM25 54h1v1h-1zM26 55h1v1h-1z" fill="#f08c28"/>
<path d="M26 53h1v1h-1zM27 54h1v1h-1z" fill="#f08228"/>
<path d="M32 53h1v1h-1zM32 54h1v1h-1zM21 55h1v1h-1zM30 58h1v1h-1z" fill="#64be5a"/>
<path d="M26 54h1v1h-1z" fill="#f07828"/>
<path d="M30 55h1v1h-1z" fill="#d2d228"/>
<path d="M20 56h1v1h-1zM29 60h1v1h-1zM24 61h1v1h-1zM26 61h1v1h-1z" fill="#46a0b4"/>
<path d="M24 58h1v1h-1zM28 58h1v1h-1z" fill="#aad23c"/>
<path d="M27 59h1v1h-1z" fill="#82be50"/>
</g>
<line x1="90.5" y1="278.7" x2="90.5" y2="319.9" stroke="#e2aade" stroke-width="0.75"/>
<line x1="81.6" y1="298.5" x2="122.8" y2="298.5" stroke="#e2aade" stroke-width="0.75"/>
<rect x="81.6" y="278.7" width="41.2" height="41.2" fill="none" stroke="#a8a8a8" stroke-width="0.6"/>
<text x="82.4" y="282" font-size="2.7" fill="#444">0.39</text>
<text x="122" y="282" font-size="2.7" text-anchor="end" fill="#444">45.2</text>
<text x="82.4" y="319" font-size="2.7" fill="#444">13.6</text>
<text x="122" y="319" font-size="2.7" text-anchor="end" fill="#444">41.2</text>
<text x="78" y="282.8" font-size="6.3" text-anchor="end">10<tspan dy="-2.6" font-size="4.54">4</tspan></text>
<text x="78" y="292.65" font-size="6.3" text-anchor="end">10<tspan dy="-2.6" font-size="4.54">3</tspan></text>
<text x="78" y="302.5" font-size="6.3" text-anchor="end">10<tspan dy="-2.6" font-size="4.54">2</tspan></text>
<text x="78" y="312.35" font-size="6.3" text-anchor="end">10<tspan dy="-2.6" font-size="4.54">1</tspan></text>
<text x="78" y="322.2" font-size="6.3" text-anchor="end">10<tspan dy="-2.6" font-size="4.54">0</tspan></text>
<text x="82.66" y="329.8" font-size="6.2" text-anchor="middle">10<tspan dy="-2.6" font-size="4.46">0</tspan></text>
<text x="92.73" y="329.8" font-size="6.2" text-anchor="middle">10<tspan dy="-2.6" font-size="4.46">1</tspan></text>
<text x="102.8" y="329.8" font-size="6.2" text-anchor="middle">10<tspan dy="-2.6" font-size="4.46">2</tspan></text>
<text x="112.87" y="329.8" font-size="6.2" text-anchor="middle">10<tspan dy="-2.6" font-size="4.46">3</tspan></text>
<text x="122.94" y="329.8" font-size="6.2" text-anchor="middle">10<tspan dy="-2.6" font-size="4.46">4</tspan></text>
<rect x="152.4" y="278.7" width="41.2" height="41.2" fill="#fff"/>
<g transform="translate(152.4 278.7) scale(0.5)">
<path d="M3 1h1v1h-1zM78 1h1v1h-1zM79 6h1v1h-1zM81 6h1v1h-1zM46 9h1v1h-1zM78 9h1v1h-1zM76 12h1v1h-1zM31 13h1v1h-1zM62 14h1v1h-1zM71 14h1v1h-1zM62 15h1v1h-1zM36 16h1v1h-1zM35 17h1v1h-1zM73 17h1v1h-1zM79 17h1v1h-1zM13 18h1v1h-1zM29 18h1v1h-1zM42 18h1v1h-1zM78 18h1v1h-1zM34 20h1v1h-1zM71 20h1v1h-1zM33 21h1v1h-1zM39 22h1v1h-1zM31 25h1v1h-1zM74 25h1v1h-1zM19 29h1v1h-1zM34 29h1v1h-1zM17 31h1v1h-1zM25 33h1v1h-1zM75 34h1v1h-1zM80 35h1v1h-1zM71 36h1v1h-1zM74 38h1v1h-1zM75 38h1v1h-1zM1 41h1v1h-1zM12 42h1v1h-1zM74 43h1v1h-1zM72 45h1v1h-1zM2 49h1v1h-1zM75 52h1v1h-1zM66 54h1v1h-1zM62 56h1v1h-1zM72 57h1v1h-1zM67 59h1v1h-1zM54 63h1v1h-1zM72 63h1v1h-1zM68 66h1v1h-1zM74 66h1v1h-1zM55 70h1v1h-1zM53 71h1v1h-1zM59 72h1v1h-1zM52 73h1v1h-1zM59 73h1v1h-1zM46 74h1v1h-1zM62 76h1v1h-1zM64 76h1v1h-1zM49 80h1v1h-1zM51 80h1v1h-1zM56 80h1v1h-1zM61 80h1v1h-1zM63 80h1v1h-1zM53 81h1v1h-1zM56 81h1v1h-1z" fill="#aaaadc" fill-opacity="0.5"/>
<path d="M51 12h1v1h-1zM52 12h1v1h-1zM55 13h1v1h-1zM57 13h1v1h-1zM51 14h1v1h-1zM55 14h1v1h-1zM49 16h1v1h-1zM52 18h1v1h-1zM54 18h1v1h-1zM55 18h1v1h-1zM52 19h1v1h-1zM59 19h1v1h-1zM62 19h1v1h-1zM48 20h1v1h-1zM68 20h1v1h-1zM61 21h1v1h-1zM46 22h1v1h-1zM61 22h1v1h-1zM64 22h1v1h-1zM65 22h1v1h-1zM67 22h1v1h-1zM68 22h1v1h-1zM43 23h1v1h-1zM66 23h1v1h-1zM67 23h1v1h-1zM70 23h1v1h-1zM45 25h1v1h-1zM45 26h1v1h-1zM67 26h1v1h-1zM41 27h1v1h-1zM65 27h1v1h-1zM40 28h1v1h-1zM41 28h1v1h-1zM68 28h1v1h-1zM39 30h1v1h-1zM64 31h1v1h-1zM68 31h1v1h-1zM33 34h1v1h-1zM29 35h1v1h-1zM35 35h1v1h-1zM62 35h1v1h-1zM32 36h1v1h-1zM65 36h1v1h-1zM69 36h1v1h-1zM27 37h1v1h-1zM29 37h1v1h-1zM64 37h1v1h-1zM62 39h1v1h-1zM63 39h1v1h-1zM64 39h1v1h-1zM66 39h1v1h-1zM25 41h1v1h-1zM26 41h1v1h-1zM62 41h1v1h-1zM69 41h1v1h-1zM64 42h1v1h-1zM65 42h1v1h-1zM70 43h1v1h-1zM59 44h1v1h-1zM60 44h1v1h-1zM68 44h1v1h-1zM61 47h1v1h-1zM63 47h1v1h-1zM64 47h1v1h-1zM67 47h1v1h-1zM56 49h1v1h-1zM58 49h1v1h-1zM65 49h1v1h-1zM10 50h1v1h-1zM54 50h1v1h-1zM63 50h1v1h-1zM10 51h1v1h-1zM55 51h1v1h-1zM61 51h1v1h-1zM66 51h1v1h-1zM12 52h1v1h-1zM14 52h1v1h-1zM55 52h1v1h-1zM65 52h1v1h-1zM54 53h1v1h-1zM57 53h1v1h-1zM63 53h1v1h-1zM50 54h1v1h-1zM60 54h1v1h-1zM53 55h1v1h-1zM48 56h1v1h-1zM49 56h1v1h-1zM51 56h1v1h-1zM56 56h1v1h-1zM49 57h1v1h-1zM58 57h1v1h-1zM47 58h1v1h-1zM48 58h1v1h-1zM56 58h1v1h-1zM36 59h1v1h-1zM50 59h1v1h-1zM43 60h1v1h-1zM45 60h1v1h-1zM39 61h1v1h-1zM42 61h1v1h-1zM41 62h1v1h-1zM32 63h1v1h-1zM35 63h1v1h-1zM36 63h1v1h-1zM45 63h1v1h-1zM34 64h1v1h-1zM38 64h1v1h-1zM45 64h1v1h-1zM46 64h1v1h-1zM47 64h1v1h-1zM36 65h1v1h-1zM43 65h1v1h-1zM51 65h1v1h-1zM37 66h1v1h-1zM47 66h1v1h-1zM51 66h1v1h-1zM52 66h1v1h-1zM31 67h1v1h-1zM42 68h1v1h-1zM47 68h1v1h-1zM34 69h1v1h-1zM40 69h1v1h-1zM51 69h1v1h-1zM40 70h1v1h-1zM43 70h1v1h-1zM32 71h1v1h-1zM40 71h1v1h-1zM42 71h1v1h-1zM32 72h1v1h-1zM36 72h1v1h-1zM34 74h1v1h-1zM30 75h1v1h-1zM39 75h1v1h-1zM38 76h1v1h-1zM36 77h1v1h-1zM31 78h1v1h-1zM30 79h1v1h-1zM58 79h1v1h-1zM60 79h1v1h-1zM29 80h1v1h-1zM31 80h1v1h-1zM37 80h1v1h-1zM38 80h1v1h-1zM43 80h1v1h-1zM45 80h1v1h-1zM46 80h1v1h-1zM41 81h1v1h-1z" fill="#a0aadc" fill-opacity="0.5"/>
<path d="M54 19h1v1h-1zM54 20h1v1h-1zM56 21h1v1h-1zM57 21h1v1h-1zM54 22h1v1h-1zM49 23h1v1h-1zM51 23h1v1h-1zM56 23h1v1h-1zM59 23h1v1h-1zM49 24h1v1h-1zM51 24h1v1h-1zM53 24h1v1h-1zM54 24h1v1h-1zM55 24h1v1h-1zM59 24h1v1h-1zM61 24h1v1h-1zM56 25h1v1h-1zM59 25h1v1h-1zM49 26h1v1h-1zM58 26h1v1h-1zM49 27h1v1h-1zM48 28h1v1h-1zM59 28h1v1h-1zM44 29h1v1h-1zM45 29h1v1h-1zM46 29h1v1h-1zM59 29h1v1h-1zM60 29h1v1h-1zM44 30h1v1h-1zM45 30h1v1h-1zM59 30h1v1h-1zM41 31h1v1h-1zM38 32h1v1h-1zM39 32h1v1h-1zM41 32h1v1h-1zM59 32h1v1h-1zM61 32h1v1h-1zM39 33h1v1h-1zM42 33h1v1h-1zM41 34h1v1h-1zM59 35h1v1h-1zM60 35h1v1h-1zM36 36h1v1h-1zM37 36h1v1h-1zM39 36h1v1h-1zM56 36h1v1h-1zM60 36h1v1h-1zM56 37h1v1h-1zM57 37h1v1h-1zM53 38h1v1h-1zM55 38h1v1h-1zM59 38h1v1h-1zM33 39h1v1h-1zM60 39h1v1h-1zM31 40h1v1h-1zM32 40h1v1h-1zM56 40h1v1h-1zM31 41h1v1h-1zM55 41h1v1h-1zM57 41h1v1h-1zM52 42h1v1h-1zM27 43h1v1h-1zM53 43h1v1h-1zM57 43h1v1h-1zM50 44h1v1h-1zM52 44h1v1h-1zM53 44h1v1h-1zM54 44h1v1h-1zM57 44h1v1h-1zM26 45h1v1h-1zM55 45h1v1h-1zM56 45h1v1h-1zM57 45h1v1h-1zM24 46h1v1h-1zM24 47h1v1h-1zM25 47h1v1h-1zM50 47h1v1h-1zM52 47h1v1h-1zM54 47h1v1h-1zM57 47h1v1h-1zM26 48h1v1h-1zM21 49h1v1h-1zM23 49h1v1h-1zM46 49h1v1h-1zM48 49h1v1h-1zM23 50h1v1h-1zM24 50h1v1h-1zM47 50h1v1h-1zM21 51h1v1h-1zM22 51h1v1h-1zM24 51h1v1h-1zM45 51h1v1h-1zM46 51h1v1h-1zM47 51h1v1h-1zM21 52h1v1h-1zM22 52h1v1h-1zM44 52h1v1h-1zM17 53h1v1h-1zM21 53h1v1h-1zM42 53h1v1h-1zM44 53h1v1h-1zM8 54h1v1h-1zM16 54h1v1h-1zM17 54h1v1h-1zM39 54h1v1h-1zM40 54h1v1h-1zM36 55h1v1h-1zM39 55h1v1h-1zM40 55h1v1h-1zM43 55h1v1h-1zM47 55h1v1h-1zM33 56h1v1h-1zM37 56h1v1h-1zM44 56h1v1h-1zM31 57h1v1h-1zM39 57h1v1h-1zM43 57h1v1h-1zM44 57h1v1h-1zM31 58h1v1h-1zM36 58h1v1h-1zM43 58h1v1h-1zM31 59h1v1h-1zM44 59h1v1h-1zM30 60h1v1h-1zM29 62h1v1h-1zM30 63h1v1h-1zM30 64h1v1h-1zM30 68h1v1h-1zM29 70h1v1h-1zM28 77h1v1h-1zM29 77h1v1h-1zM26 78h1v1h-1zM25 79h1v1h-1zM26 79h1v1h-1zM28 79h1v1h-1zM23 81h1v1h-1z" fill="#a0a0dc" fill-opacity="0.5"/>
<path d="M54 25h1v1h-1zM52 26h1v1h-1zM53 26h1v1h-1zM53 27h1v1h-1zM57 27h1v1h-1zM52 28h1v1h-1zM53 28h1v1h-1zM48 29h1v1h-1zM51 29h1v1h-1zM51 30h1v1h-1zM55 30h1v1h-1zM58 30h1v1h-1zM45 31h1v1h-1zM47 31h1v1h-1zM48 31h1v1h-1zM55 31h1v1h-1zM57 31h1v1h-1zM45 32h1v1h-1zM48 32h1v1h-1zM56 32h1v1h-1zM58 32h1v1h-1zM56 33h1v1h-1zM43 34h1v1h-1zM44 34h1v1h-1zM46 34h1v1h-1zM54 34h1v1h-1zM55 34h1v1h-1zM42 35h1v1h-1zM52 35h1v1h-1zM53 35h1v1h-1zM54 36h1v1h-1zM39 37h1v1h-1zM42 37h1v1h-1zM43 37h1v1h-1zM41 38h1v1h-1zM37 39h1v1h-1zM49 39h1v1h-1zM51 39h1v1h-1zM52 39h1v1h-1zM33 40h1v1h-1zM34 40h1v1h-1zM35 40h1v1h-1zM36 40h1v1h-1zM34 41h1v1h-1zM51 41h1v1h-1zM31 42h1v1h-1zM49 42h1v1h-1zM47 43h1v1h-1zM49 43h1v1h-1zM48 44h1v1h-1zM46 45h1v1h-1zM47 45h1v1h-1zM48 45h1v1h-1zM28 46h1v1h-1zM29 46h1v1h-1zM44 46h1v1h-1zM47 46h1v1h-1zM27 47h1v1h-1zM28 47h1v1h-1zM41 47h1v1h-1zM44 47h1v1h-1zM45 47h1v1h-1zM45 48h1v1h-1zM46 48h1v1h-1zM39 49h1v1h-1zM45 49h1v1h-1zM40 50h1v1h-1zM41 50h1v1h-1zM42 50h1v1h-1zM43 50h1v1h-1zM26 51h1v1h-1zM30 51h1v1h-1zM37 51h1v1h-1zM38 51h1v1h-1zM39 51h1v1h-1zM40 51h1v1h-1zM42 51h1v1h-1zM24 52h1v1h-1zM28 52h1v1h-1zM35 52h1v1h-1zM37 52h1v1h-1zM27 53h1v1h-1zM31 53h1v1h-1zM34 53h1v1h-1zM38 53h1v1h-1zM22 54h1v1h-1zM29 54h1v1h-1zM31 54h1v1h-1zM33 54h1v1h-1zM34 54h1v1h-1zM14 55h1v1h-1zM19 55h1v1h-1zM23 55h1v1h-1zM24 55h1v1h-1zM25 55h1v1h-1zM26 55h1v1h-1zM32 55h1v1h-1zM8 56h1v1h-1zM28 57h1v1h-1zM29 57h1v1h-1zM5 58h1v1h-1zM28 58h1v1h-1zM3 59h1v1h-1zM28 59h1v1h-1zM30 59h1v1h-1zM1 60h1v1h-1zM2 60h1v1h-1zM28 60h1v1h-1zM28 62h1v1h-1zM26 64h1v1h-1zM27 70h1v1h-1zM26 73h1v1h-1zM27 73h1v1h-1zM25 76h1v1h-1zM23 79h1v1h-1zM22 80h1v1h-1zM22 81h1v1h-1z" fill="#96a0dc" fill-opacity="0.5"/>
<path d="M53 30h1v1h-1zM51 31h1v1h-1zM52 31h1v1h-1zM54 31h1v1h-1zM50 32h1v1h-1zM52 32h1v1h-1zM53 32h1v1h-1zM55 32h1v1h-1zM48 33h1v1h-1zM50 33h1v1h-1zM52 33h1v1h-1zM54 33h1v1h-1zM48 34h1v1h-1zM51 34h1v1h-1zM52 34h1v1h-1zM46 35h1v1h-1zM49 35h1v1h-1zM50 35h1v1h-1zM51 35h1v1h-1zM47 36h1v1h-1zM48 36h1v1h-1zM45 37h1v1h-1zM47 37h1v1h-1zM48 37h1v1h-1zM42 38h1v1h-1zM46 38h1v1h-1zM47 38h1v1h-1zM49 38h1v1h-1zM41 39h1v1h-1zM43 39h1v1h-1zM37 40h1v1h-1zM40 40h1v1h-1zM47 40h1v1h-1zM48 40h1v1h-1zM48 41h1v1h-1zM46 42h1v1h-1zM44 43h1v1h-1zM45 43h1v1h-1zM31 44h1v1h-1zM32 44h1v1h-1zM44 44h1v1h-1zM45 44h1v1h-1zM30 45h1v1h-1zM41 45h1v1h-1zM30 46h1v1h-1zM29 47h1v1h-1zM30 47h1v1h-1zM39 47h1v1h-1zM30 48h1v1h-1zM39 48h1v1h-1zM29 49h1v1h-1zM36 49h1v1h-1zM30 50h1v1h-1zM31 50h1v1h-1zM31 51h1v1h-1zM32 51h1v1h-1zM33 51h1v1h-1zM35 51h1v1h-1zM33 52h1v1h-1zM34 52h1v1h-1zM10 56h1v1h-1zM11 56h1v1h-1zM25 56h1v1h-1zM25 57h1v1h-1zM27 57h1v1h-1zM27 58h1v1h-1zM27 59h1v1h-1zM26 62h1v1h-1zM26 63h1v1h-1zM26 67h1v1h-1zM26 70h1v1h-1zM26 71h1v1h-1z" fill="#9696dc" fill-opacity="0.5"/>
<path d="M46 39h1v1h-1zM41 40h1v1h-1zM46 40h1v1h-1zM38 41h1v1h-1zM45 42h1v1h-1zM33 43h1v1h-1zM34 50h1v1h-1zM8 57h1v1h-1zM26 58h1v1h-1zM22 79h1v1h-1zM21 80h1v1h-1z" fill="#9696dc" fill-opacity="0.6"/>
<path d="M43 40h1v1h-1zM45 40h1v1h-1zM40 41h1v1h-1zM42 41h1v1h-1zM44 41h1v1h-1zM37 42h1v1h-1zM39 42h1v1h-1zM40 42h1v1h-1zM42 42h1v1h-1zM43 42h1v1h-1zM44 42h1v1h-1zM34 43h1v1h-1zM39 43h1v1h-1zM41 43h1v1h-1zM33 44h1v1h-1zM39 44h1v1h-1zM39 45h1v1h-1zM32 46h1v1h-1zM37 46h1v1h-1zM38 46h1v1h-1zM37 47h1v1h-1zM31 48h1v1h-1zM34 48h1v1h-1zM35 48h1v1h-1zM36 48h1v1h-1zM31 49h1v1h-1zM33 49h1v1h-1zM34 49h1v1h-1zM33 50h1v1h-1zM15 56h1v1h-1zM9 57h1v1h-1zM23 57h1v1h-1zM24 57h1v1h-1zM26 60h1v1h-1zM1 62h1v1h-1zM25 62h1v1h-1zM25 64h1v1h-1zM19 81h1v1h-1z" fill="#8c96dc" fill-opacity="0.6"/>
<path d="M35 43h1v1h-1zM36 43h1v1h-1zM38 43h1v1h-1zM34 44h1v1h-1zM35 44h1v1h-1zM38 44h1v1h-1zM33 45h1v1h-1zM34 45h1v1h-1zM33 46h1v1h-1zM32 47h1v1h-1zM34 47h1v1h-1zM10 57h1v1h-1zM7 58h1v1h-1zM22 58h1v1h-1zM23 58h1v1h-1zM5 59h1v1h-1zM24 59h1v1h-1zM25 59h1v1h-1zM24 60h1v1h-1zM25 60h1v1h-1zM25 61h1v1h-1zM25 67h1v1h-1zM25 69h1v1h-1zM25 70h1v1h-1zM25 71h1v1h-1zM24 73h1v1h-1zM23 75h1v1h-1zM23 76h1v1h-1zM22 78h1v1h-1zM21 79h1v1h-1zM20 80h1v1h-1zM18 81h1v1h-1z" fill="#8c96d2" fill-opacity="0.6"/>
<path d="M12 57h1v1h-1zM15 57h1v1h-1zM16 57h1v1h-1zM17 57h1v1h-1zM18 57h1v1h-1zM9 58h1v1h-1zM21 58h1v1h-1zM2 62h1v1h-1zM1 63h1v1h-1zM24 64h1v1h-1zM24 65h1v1h-1zM24 67h1v1h-1zM24 72h1v1h-1zM23 74h1v1h-1zM22 76h1v1h-1zM19 80h1v1h-1z" fill="#8c8cd2" fill-opacity="0.6"/>
<path d="M10 58h1v1h-1zM12 58h1v1h-1zM15 58h1v1h-1zM17 58h1v1h-1zM18 58h1v1h-1zM20 58h1v1h-1zM7 59h1v1h-1zM8 59h1v1h-1zM21 59h1v1h-1zM4 61h1v1h-1zM3 62h1v1h-1zM1 64h1v1h-1zM23 66h1v1h-1zM24 68h1v1h-1zM23 71h1v1h-1zM23 73h1v1h-1zM21 76h1v1h-1zM21 77h1v1h-1zM0 79h1v1h-1zM19 79h1v1h-1zM1 80h1v1h-1zM18 80h1v1h-1zM2 81h1v1h-1zM16 81h1v1h-1z" fill="#828cd2" fill-opacity="0.7"/>
<path d="M9 59h1v1h-1zM21 60h1v1h-1zM22 62h1v1h-1zM23 68h1v1h-1zM23 70h1v1h-1z" fill="#8282d2" fill-opacity="0.7"/>
<path d="M10 59h1v1h-1zM12 59h1v1h-1zM14 59h1v1h-1zM15 59h1v1h-1zM16 59h1v1h-1zM7 60h1v1h-1zM19 60h1v1h-1zM20 60h1v1h-1zM20 61h1v1h-1zM4 62h1v1h-1zM21 62h1v1h-1zM3 63h1v1h-1zM21 63h1v1h-1zM2 64h1v1h-1zM1 65h1v1h-1zM22 65h1v1h-1zM22 66h1v1h-1zM22 67h1v1h-1zM22 70h1v1h-1zM22 72h1v1h-1zM20 76h1v1h-1zM20 77h1v1h-1zM0 78h1v1h-1zM18 79h1v1h-1zM17 80h1v1h-1zM15 81h1v1h-1z" fill="#7882c8" fill-opacity="0.8"/>
<path d="M9 60h1v1h-1zM21 64h1v1h-1zM22 68h1v1h-1zM21 73h1v1h-1zM20 75h1v1h-1zM19 77h1v1h-1zM16 80h1v1h-1zM4 81h1v1h-1z" fill="#7878c8" fill-opacity="0.8"/>
<path d="M12 60h1v1h-1zM13 60h1v1h-1zM14 60h1v1h-1zM15 60h1v1h-1zM17 60h1v1h-1zM18 60h1v1h-1zM7 61h1v1h-1zM8 61h1v1h-1zM18 61h1v1h-1zM19 61h1v1h-1zM5 62h1v1h-1zM6 62h1v1h-1zM19 62h1v1h-1zM20 62h1v1h-1zM20 63h1v1h-1zM20 64h1v1h-1zM2 65h1v1h-1zM1 66h1v1h-1zM21 67h1v1h-1zM21 68h1v1h-1zM21 69h1v1h-1zM21 70h1v1h-1zM21 72h1v1h-1zM20 73h1v1h-1zM18 77h1v1h-1zM18 78h1v1h-1zM17 79h1v1h-1zM3 80h1v1h-1zM15 80h1v1h-1zM5 81h1v1h-1zM6 81h1v1h-1zM13 81h1v1h-1z" fill="#6e78c8" fill-opacity="0.9"/>
<path d="M5 61h1v1h-1z" fill="#7882d2" fill-opacity="0.7"/>
<path d="M9 61h1v1h-1zM5 63h1v1h-1zM19 63h1v1h-1zM20 65h1v1h-1zM20 72h1v1h-1zM0 76h1v1h-1zM1 78h1v1h-1zM17 78h1v1h-1zM7 81h1v1h-1zM11 81h1v1h-1z" fill="#6478c8"/>
<path d="M10 61h1v1h-1zM11 61h1v1h-1zM14 61h1v1h-1zM15 61h1v1h-1zM16 61h1v1h-1zM7 62h1v1h-1zM8 62h1v1h-1zM17 62h1v1h-1zM18 62h1v1h-1zM18 63h1v1h-1zM19 64h1v1h-1zM3 65h1v1h-1zM2 66h1v1h-1zM20 66h1v1h-1zM20 67h1v1h-1zM20 68h1v1h-1zM20 69h1v1h-1zM0 70h1v1h-1zM20 70h1v1h-1zM0 71h1v1h-1zM20 71h1v1h-1zM19 74h1v1h-1zM0 75h1v1h-1zM17 77h1v1h-1zM4 80h1v1h-1zM14 80h1v1h-1z" fill="#646ebe"/>
<path d="M9 62h1v1h-1zM15 62h1v1h-1zM16 62h1v1h-1zM18 64h1v1h-1zM19 65h1v1h-1zM0 73h1v1h-1zM17 76h1v1h-1zM1 77h1v1h-1zM16 78h1v1h-1zM15 79h1v1h-1zM5 80h1v1h-1zM13 80h1v1h-1z" fill="#5a6ebe"/>
<path d="M10 62h1v1h-1zM14 62h1v1h-1zM7 63h1v1h-1zM5 64h1v1h-1zM2 67h1v1h-1zM19 71h1v1h-1zM2 78h1v1h-1z" fill="#5a64be"/>
<path d="M11 62h1v1h-1zM12 62h1v1h-1zM13 62h1v1h-1zM4 65h1v1h-1zM19 67h1v1h-1zM1 69h1v1h-1zM6 80h1v1h-1z" fill="#5064be"/>
<path d="M8 63h1v1h-1zM15 63h1v1h-1zM16 63h1v1h-1zM17 64h1v1h-1zM18 65h1v1h-1zM3 66h1v1h-1zM18 66h1v1h-1zM19 68h1v1h-1zM19 69h1v1h-1zM1 70h1v1h-1zM19 70h1v1h-1zM18 72h1v1h-1zM18 73h1v1h-1zM17 75h1v1h-1zM1 76h1v1h-1zM15 78h1v1h-1zM4 79h1v1h-1zM14 79h1v1h-1zM7 80h1v1h-1zM8 80h1v1h-1zM9 80h1v1h-1zM10 80h1v1h-1zM11 80h1v1h-1zM12 80h1v1h-1z" fill="#5064b4"/>
<path d="M9 63h1v1h-1zM2 68h1v1h-1zM17 74h1v1h-1z" fill="#506eb4"/>
<path d="M11 63h1v1h-1zM12 63h1v1h-1zM7 64h1v1h-1zM15 64h1v1h-1zM17 66h1v1h-1zM3 67h1v1h-1zM18 68h1v1h-1zM18 69h1v1h-1zM18 70h1v1h-1zM1 71h1v1h-1zM1 73h1v1h-1zM17 73h1v1h-1zM1 74h1v1h-1zM16 75h1v1h-1zM15 77h1v1h-1zM3 78h1v1h-1zM5 79h1v1h-1zM13 79h1v1h-1z" fill="#5078be"/>
<path d="M13 63h1v1h-1zM14 63h1v1h-1zM16 64h1v1h-1zM5 65h1v1h-1zM18 67h1v1h-1zM18 71h1v1h-1zM1 75h1v1h-1zM16 76h1v1h-1zM2 77h1v1h-1z" fill="#506ebe"/>
<path d="M8 64h1v1h-1zM14 64h1v1h-1zM6 65h1v1h-1zM2 69h1v1h-1zM17 72h1v1h-1zM12 79h1v1h-1z" fill="#4682be"/>
<path d="M9 64h1v1h-1zM13 64h1v1h-1zM15 65h1v1h-1zM5 66h1v1h-1zM16 66h1v1h-1zM17 67h1v1h-1zM3 68h1v1h-1zM17 68h1v1h-1zM17 71h1v1h-1zM16 74h1v1h-1zM2 76h1v1h-1zM15 76h1v1h-1zM4 78h1v1h-1zM6 79h1v1h-1zM7 79h1v1h-1zM11 79h1v1h-1z" fill="#468cbe"/>
<path d="M10 64h1v1h-1zM11 64h1v1h-1zM4 67h1v1h-1zM17 69h1v1h-1zM2 70h1v1h-1zM17 70h1v1h-1zM16 73h1v1h-1zM3 77h1v1h-1zM14 77h1v1h-1zM13 78h1v1h-1zM8 79h1v1h-1zM10 79h1v1h-1z" fill="#4696be"/>
<path d="M0 65h1v1h-1zM24 70h1v1h-1z" fill="#8c8cd2" fill-opacity="0.7"/>
<path d="M8 65h1v1h-1zM13 65h1v1h-1zM16 68h1v1h-1zM3 69h1v1h-1zM16 71h1v1h-1zM2 72h1v1h-1zM2 74h1v1h-1z" fill="#46a0b4"/>
<path d="M9 65h1v1h-1zM10 65h1v1h-1zM11 65h1v1h-1zM14 66h1v1h-1zM5 67h1v1h-1zM15 67h1v1h-1zM4 68h1v1h-1zM16 70h1v1h-1zM3 76h1v1h-1zM14 76h1v1h-1zM4 77h1v1h-1zM6 78h1v1h-1z" fill="#50aaaa"/>
<path d="M12 65h1v1h-1zM2 73h1v1h-1zM15 74h1v1h-1zM12 78h1v1h-1z" fill="#50a0b4"/>
<path d="M14 65h1v1h-1zM16 67h1v1h-1zM2 75h1v1h-1z" fill="#46a0c8"/>
<path d="M7 66h1v1h-1zM13 66h1v1h-1zM15 68h1v1h-1zM3 70h1v1h-1zM15 72h1v1h-1zM14 75h1v1h-1zM7 78h1v1h-1zM11 78h1v1h-1z" fill="#50aa96"/>
<path d="M8 66h1v1h-1zM12 66h1v1h-1zM6 67h1v1h-1zM4 69h1v1h-1zM15 70h1v1h-1zM3 71h1v1h-1zM14 74h1v1h-1zM5 77h1v1h-1z" fill="#5ab482"/>
<path d="M9 66h1v1h-1zM10 66h1v1h-1zM11 66h1v1h-1zM13 67h1v1h-1zM5 68h1v1h-1zM14 68h1v1h-1zM3 74h1v1h-1zM4 76h1v1h-1zM13 76h1v1h-1zM12 77h1v1h-1z" fill="#5ab478"/>
<path d="M15 66h1v1h-1zM2 71h1v1h-1zM16 72h1v1h-1zM5 78h1v1h-1z" fill="#46a0be"/>
<path d="M7 67h1v1h-1zM4 70h1v1h-1zM14 70h1v1h-1zM14 71h1v1h-1zM14 72h1v1h-1zM13 75h1v1h-1zM11 77h1v1h-1z" fill="#64be64"/>
<path d="M8 67h1v1h-1zM10 67h1v1h-1zM13 69h1v1h-1zM13 74h1v1h-1zM8 77h1v1h-1zM10 77h1v1h-1z" fill="#78be5a"/>
<path d="M9 67h1v1h-1zM4 71h1v1h-1zM9 77h1v1h-1z" fill="#78be50"/>
<path d="M11 67h1v1h-1zM6 68h1v1h-1zM4 75h1v1h-1zM5 76h1v1h-1zM12 76h1v1h-1zM7 77h1v1h-1z" fill="#6ebe5a"/>
<path d="M14 67h1v1h-1zM15 69h1v1h-1zM15 71h1v1h-1zM3 75h1v1h-1zM8 78h1v1h-1zM9 78h1v1h-1zM10 78h1v1h-1z" fill="#5ab48c"/>
<path d="M7 68h1v1h-1zM11 68h1v1h-1zM13 71h1v1h-1zM4 72h1v1h-1zM13 72h1v1h-1zM4 73h1v1h-1zM12 75h1v1h-1zM6 76h1v1h-1z" fill="#8cc850"/>
<path d="M8 68h1v1h-1zM10 68h1v1h-1zM12 70h1v1h-1zM12 74h1v1h-1z" fill="#a0c846"/>
<path d="M9 68h1v1h-1z" fill="#a0c83c"/>
<path d="M12 68h1v1h-1z" fill="#82be50"/>
<path d="M13 68h1v1h-1z" fill="#64be5a"/>
<path d="M6 69h1v1h-1zM12 69h1v1h-1zM5 70h1v1h-1zM5 75h1v1h-1zM11 76h1v1h-1z" fill="#96c846"/>
<path d="M7 69h1v1h-1zM12 71h1v1h-1zM5 72h1v1h-1zM12 72h1v1h-1zM5 73h1v1h-1zM12 73h1v1h-1zM6 75h1v1h-1zM11 75h1v1h-1z" fill="#b4d23c"/>
<path d="M8 69h1v1h-1zM9 69h1v1h-1zM6 71h1v1h-1zM6 74h1v1h-1zM11 74h1v1h-1zM7 75h1v1h-1zM10 75h1v1h-1z" fill="#c8d232"/>
<path d="M10 69h1v1h-1zM11 70h1v1h-1z" fill="#bed232"/>
<path d="M11 69h1v1h-1zM5 71h1v1h-1zM8 76h1v1h-1zM10 76h1v1h-1z" fill="#aac83c"/>
<path d="M14 69h1v1h-1zM6 77h1v1h-1z" fill="#64b464"/>
<path d="M16 69h1v1h-1z" fill="#50a0aa"/>
<path d="M7 70h1v1h-1zM10 70h1v1h-1zM6 72h1v1h-1zM11 72h1v1h-1zM11 73h1v1h-1zM8 75h1v1h-1zM9 75h1v1h-1z" fill="#d2dc28"/>
<path d="M8 70h1v1h-1zM9 70h1v1h-1zM7 71h1v1h-1zM10 71h1v1h-1zM7 74h1v1h-1zM10 74h1v1h-1z" fill="#dcd228"/>
<path d="M13 70h1v1h-1zM13 73h1v1h-1zM4 74h1v1h-1z" fill="#82c850"/>
<path d="M8 71h1v1h-1zM9 71h1v1h-1zM7 72h1v1h-1zM8 72h1v1h-1zM9 72h1v1h-1zM10 72h1v1h-1zM7 73h1v1h-1zM8 73h1v1h-1zM9 73h1v1h-1zM10 73h1v1h-1zM8 74h1v1h-1zM9 74h1v1h-1z" fill="#dcc828"/>
<path d="M11 71h1v1h-1z" fill="#d2d232"/>
<path d="M3 72h1v1h-1z" fill="#5ab46e"/>
<path d="M3 73h1v1h-1zM14 73h1v1h-1z" fill="#64b46e"/>
<path d="M6 73h1v1h-1z" fill="#d2d228"/>
<path d="M15 73h1v1h-1zM13 77h1v1h-1z" fill="#50aaa0"/>
<path d="M5 74h1v1h-1zM9 76h1v1h-1z" fill="#aad23c"/>
<path d="M19 75h1v1h-1z" fill="#6478c8" fill-opacity="0.9"/>
<path d="M21 75h1v1h-1z" fill="#7882d2" fill-opacity="0.8"/>
<path d="M14 78h1v1h-1z" fill="#5082be"/>
<path d="M8 81h1v1h-1z" fill="#6478be"/>
<path d="M14 81h1v1h-1z" fill="#6e78c8" fill-opacity="0.8"/>
</g>
<line x1="164.5" y1="278.7" x2="164.5" y2="319.9" stroke="#e2aade" stroke-width="0.75"/>
<line x1="152.4" y1="300.5" x2="193.6" y2="300.5" stroke="#e2aade" stroke-width="0.75"/>
<rect x="152.4" y="278.7" width="41.2" height="41.2" fill="none" stroke="#a8a8a8" stroke-width="0.6"/>
<text x="153.2" y="282" font-size="2.7" fill="#444">30.21</text>
<text x="192.8" y="282" font-size="2.7" text-anchor="end" fill="#444">1.81</text>
<text x="153.2" y="319" font-size="2.7" fill="#444">86.1</text>
<text x="192.8" y="319" font-size="2.7" text-anchor="end" fill="#444">7.86</text>
<text x="148.8" y="282.8" font-size="6.3" text-anchor="end">10<tspan dy="-2.6" font-size="4.54">4</tspan></text>
<text x="148.8" y="292.65" font-size="6.3" text-anchor="end">10<tspan dy="-2.6" font-size="4.54">3</tspan></text>
<text x="148.8" y="302.5" font-size="6.3" text-anchor="end">10<tspan dy="-2.6" font-size="4.54">2</tspan></text>
<text x="148.8" y="312.35" font-size="6.3" text-anchor="end">10<tspan dy="-2.6" font-size="4.54">1</tspan></text>
<text x="148.8" y="322.2" font-size="6.3" text-anchor="end">10<tspan dy="-2.6" font-size="4.54">0</tspan></text>
<text x="153.46" y="329.8" font-size="6.2" text-anchor="middle">10<tspan dy="-2.6" font-size="4.46">0</tspan></text>
<text x="163.53" y="329.8" font-size="6.2" text-anchor="middle">10<tspan dy="-2.6" font-size="4.46">1</tspan></text>
<text x="173.6" y="329.8" font-size="6.2" text-anchor="middle">10<tspan dy="-2.6" font-size="4.46">2</tspan></text>
<text x="183.67" y="329.8" font-size="6.2" text-anchor="middle">10<tspan dy="-2.6" font-size="4.46">3</tspan></text>
<text x="193.74" y="329.8" font-size="6.2" text-anchor="middle">10<tspan dy="-2.6" font-size="4.46">4</tspan></text>
<rect x="221.4" y="278.7" width="41.2" height="41.2" fill="#fff"/>
<g transform="translate(221.4 278.7) scale(0.5)">
<path d="M81 0h1v1h-1zM5 4h1v1h-1zM64 4h1v1h-1zM42 6h1v1h-1zM69 6h1v1h-1zM45 8h1v1h-1zM46 8h1v1h-1zM48 8h1v1h-1zM52 8h1v1h-1zM72 9h1v1h-1zM31 11h1v1h-1zM28 12h1v1h-1zM19 13h1v1h-1zM18 14h1v1h-1zM9 15h1v1h-1zM14 15h1v1h-1zM19 15h1v1h-1zM45 15h1v1h-1zM9 16h1v1h-1zM44 17h1v1h-1zM81 18h1v1h-1zM27 20h1v1h-1zM37 21h1v1h-1zM37 22h1v1h-1zM6 24h1v1h-1zM2 26h1v1h-1zM78 30h1v1h-1zM77 33h1v1h-1zM67 36h1v1h-1zM71 37h1v1h-1zM80 38h1v1h-1zM7 43h1v1h-1zM74 43h1v1h-1zM79 46h1v1h-1zM1 50h1v1h-1zM75 50h1v1h-1zM78 54h1v1h-1zM79 54h1v1h-1zM74 58h1v1h-1zM76 58h1v1h-1zM74 59h1v1h-1zM71 61h1v1h-1zM72 64h1v1h-1zM68 66h1v1h-1zM69 71h1v1h-1zM61 73h1v1h-1zM75 74h1v1h-1zM72 76h1v1h-1zM76 77h1v1h-1zM46 80h1v1h-1zM47 80h1v1h-1z" fill="#aaaadc" fill-opacity="0.5"/>
<path d="M66 5h1v1h-1zM62 9h1v1h-1zM49 13h1v1h-1zM14 20h1v1h-1zM13 21h1v1h-1zM16 21h1v1h-1zM22 21h1v1h-1zM13 22h1v1h-1zM30 22h1v1h-1zM43 22h1v1h-1zM30 23h1v1h-1zM30 24h1v1h-1zM31 24h1v1h-1zM71 24h1v1h-1zM10 27h1v1h-1zM11 27h1v1h-1zM37 27h1v1h-1zM10 29h1v1h-1zM34 29h1v1h-1zM10 30h1v1h-1zM74 31h1v1h-1zM64 32h1v1h-1zM65 32h1v1h-1zM73 32h1v1h-1zM7 33h1v1h-1zM62 34h1v1h-1zM74 34h1v1h-1zM73 35h1v1h-1zM10 36h1v1h-1zM61 36h1v1h-1zM64 37h1v1h-1zM60 38h1v1h-1zM59 39h1v1h-1zM59 40h1v1h-1zM60 41h1v1h-1zM70 41h1v1h-1zM10 42h1v1h-1zM70 43h1v1h-1zM12 44h1v1h-1zM65 44h1v1h-1zM53 45h1v1h-1zM65 45h1v1h-1zM68 45h1v1h-1zM70 46h1v1h-1zM61 47h1v1h-1zM62 47h1v1h-1zM6 48h1v1h-1zM7 48h1v1h-1zM50 48h1v1h-1zM6 49h1v1h-1zM50 49h1v1h-1zM52 49h1v1h-1zM59 49h1v1h-1zM65 49h1v1h-1zM69 49h1v1h-1zM52 50h1v1h-1zM56 50h1v1h-1zM58 51h1v1h-1zM47 52h1v1h-1zM49 52h1v1h-1zM52 52h1v1h-1zM62 52h1v1h-1zM69 53h1v1h-1zM51 54h1v1h-1zM53 54h1v1h-1zM61 54h1v1h-1zM64 54h1v1h-1zM69 54h1v1h-1zM44 55h1v1h-1zM51 55h1v1h-1zM53 55h1v1h-1zM68 55h1v1h-1zM43 56h1v1h-1zM53 56h1v1h-1zM66 56h1v1h-1zM41 57h1v1h-1zM49 57h1v1h-1zM55 57h1v1h-1zM46 59h1v1h-1zM53 59h1v1h-1zM41 60h1v1h-1zM47 60h1v1h-1zM56 60h1v1h-1zM61 60h1v1h-1zM64 60h1v1h-1zM39 61h1v1h-1zM45 61h1v1h-1zM63 61h1v1h-1zM41 63h1v1h-1zM47 63h1v1h-1zM49 63h1v1h-1zM52 63h1v1h-1zM65 63h1v1h-1zM58 64h1v1h-1zM67 64h1v1h-1zM40 65h1v1h-1zM41 65h1v1h-1zM53 65h1v1h-1zM62 65h1v1h-1zM45 66h1v1h-1zM55 66h1v1h-1zM59 66h1v1h-1zM60 66h1v1h-1zM36 67h1v1h-1zM41 67h1v1h-1zM44 67h1v1h-1zM54 67h1v1h-1zM63 67h1v1h-1zM43 68h1v1h-1zM44 68h1v1h-1zM50 69h1v1h-1zM53 69h1v1h-1zM57 69h1v1h-1zM60 69h1v1h-1zM35 70h1v1h-1zM38 70h1v1h-1zM40 70h1v1h-1zM43 70h1v1h-1zM48 71h1v1h-1zM33 72h1v1h-1zM36 72h1v1h-1zM44 72h1v1h-1zM38 73h1v1h-1zM56 73h1v1h-1zM48 74h1v1h-1zM58 74h1v1h-1zM34 75h1v1h-1zM48 75h1v1h-1zM40 76h1v1h-1zM43 76h1v1h-1zM31 77h1v1h-1zM54 77h1v1h-1zM59 77h1v1h-1zM29 78h1v1h-1zM42 78h1v1h-1zM55 78h1v1h-1zM62 78h1v1h-1zM30 79h1v1h-1zM31 79h1v1h-1zM36 79h1v1h-1zM39 79h1v1h-1zM41 79h1v1h-1zM56 79h1v1h-1zM62 79h1v1h-1zM65 79h1v1h-1zM28 80h1v1h-1zM30 80h1v1h-1zM32 80h1v1h-1zM35 80h1v1h-1zM41 80h1v1h-1zM52 80h1v1h-1zM53 80h1v1h-1zM56 80h1v1h-1zM58 80h1v1h-1zM60 80h1v1h-1zM62 80h1v1h-1zM32 81h1v1h-1zM34 81h1v1h-1zM57 81h1v1h-1zM60 81h1v1h-1zM62 81h1v1h-1z" fill="#a0aadc" fill-opacity="0.5"/>
<path d="M66 9h1v1h-1zM66 11h1v1h-1zM69 12h1v1h-1zM48 18h1v1h-1zM71 20h1v1h-1zM15 22h1v1h-1zM17 22h1v1h-1zM17 23h1v1h-1zM21 23h1v1h-1zM14 24h1v1h-1zM16 24h1v1h-1zM20 24h1v1h-1zM15 25h1v1h-1zM19 25h1v1h-1zM25 25h1v1h-1zM26 25h1v1h-1zM41 25h1v1h-1zM12 26h1v1h-1zM14 26h1v1h-1zM26 26h1v1h-1zM27 26h1v1h-1zM68 26h1v1h-1zM22 27h1v1h-1zM30 27h1v1h-1zM38 27h1v1h-1zM68 27h1v1h-1zM29 28h1v1h-1zM30 28h1v1h-1zM67 28h1v1h-1zM14 29h1v1h-1zM24 29h1v1h-1zM28 29h1v1h-1zM29 29h1v1h-1zM36 29h1v1h-1zM11 30h1v1h-1zM12 30h1v1h-1zM14 30h1v1h-1zM28 30h1v1h-1zM30 30h1v1h-1zM63 30h1v1h-1zM65 30h1v1h-1zM15 31h1v1h-1zM29 31h1v1h-1zM32 31h1v1h-1zM14 32h1v1h-1zM60 33h1v1h-1zM13 34h1v1h-1zM19 34h1v1h-1zM12 35h1v1h-1zM14 36h1v1h-1zM16 36h1v1h-1zM12 37h1v1h-1zM14 37h1v1h-1zM18 37h1v1h-1zM12 38h1v1h-1zM17 38h1v1h-1zM22 38h1v1h-1zM14 39h1v1h-1zM54 39h1v1h-1zM55 39h1v1h-1zM56 39h1v1h-1zM16 40h1v1h-1zM21 40h1v1h-1zM15 41h1v1h-1zM18 41h1v1h-1zM17 42h1v1h-1zM16 43h1v1h-1zM14 44h1v1h-1zM49 44h1v1h-1zM12 45h1v1h-1zM13 45h1v1h-1zM47 45h1v1h-1zM49 45h1v1h-1zM46 48h1v1h-1zM44 49h1v1h-1zM8 50h1v1h-1zM47 50h1v1h-1zM7 51h1v1h-1zM42 51h1v1h-1zM45 51h1v1h-1zM5 52h1v1h-1zM39 53h1v1h-1zM39 55h1v1h-1zM1 56h1v1h-1zM39 56h1v1h-1zM1 57h1v1h-1zM0 59h1v1h-1zM38 59h1v1h-1zM35 60h1v1h-1zM35 61h1v1h-1zM33 63h1v1h-1zM43 63h1v1h-1zM44 63h1v1h-1zM34 65h1v1h-1zM44 65h1v1h-1zM34 66h1v1h-1zM32 69h1v1h-1zM23 79h1v1h-1zM24 80h1v1h-1zM0 81h1v1h-1zM22 81h1v1h-1zM23 81h1v1h-1z" fill="#a0a0dc" fill-opacity="0.5"/>
<path d="M62 11h1v1h-1zM65 11h1v1h-1zM57 12h1v1h-1zM56 13h1v1h-1zM68 13h1v1h-1zM70 16h1v1h-1zM69 22h1v1h-1zM17 25h1v1h-1zM16 26h1v1h-1zM19 26h1v1h-1zM18 27h1v1h-1zM41 27h1v1h-1zM18 28h1v1h-1zM19 28h1v1h-1zM20 28h1v1h-1zM22 28h1v1h-1zM40 28h1v1h-1zM41 28h1v1h-1zM64 28h1v1h-1zM17 29h1v1h-1zM18 29h1v1h-1zM19 29h1v1h-1zM23 29h1v1h-1zM16 30h1v1h-1zM17 30h1v1h-1zM18 30h1v1h-1zM21 30h1v1h-1zM18 31h1v1h-1zM21 31h1v1h-1zM25 31h1v1h-1zM16 32h1v1h-1zM18 32h1v1h-1zM20 32h1v1h-1zM25 32h1v1h-1zM23 33h1v1h-1zM28 33h1v1h-1zM29 33h1v1h-1zM59 33h1v1h-1zM23 34h1v1h-1zM24 34h1v1h-1zM26 34h1v1h-1zM27 34h1v1h-1zM28 34h1v1h-1zM29 34h1v1h-1zM21 35h1v1h-1zM22 35h1v1h-1zM23 35h1v1h-1zM27 35h1v1h-1zM28 35h1v1h-1zM57 35h1v1h-1zM22 36h1v1h-1zM57 36h1v1h-1zM23 37h1v1h-1zM25 37h1v1h-1zM27 37h1v1h-1zM56 37h1v1h-1zM26 38h1v1h-1zM25 39h1v1h-1zM51 39h1v1h-1zM23 40h1v1h-1zM26 40h1v1h-1zM25 41h1v1h-1zM48 42h1v1h-1zM21 43h1v1h-1zM23 43h1v1h-1zM21 44h1v1h-1zM47 44h1v1h-1zM21 45h1v1h-1zM45 45h1v1h-1zM46 45h1v1h-1zM18 46h1v1h-1zM20 46h1v1h-1zM15 47h1v1h-1zM42 47h1v1h-1zM43 47h1v1h-1zM12 48h1v1h-1zM13 48h1v1h-1zM14 48h1v1h-1zM40 50h1v1h-1zM40 51h1v1h-1zM6 53h1v1h-1zM38 53h1v1h-1zM4 54h1v1h-1zM36 54h1v1h-1zM3 55h1v1h-1zM4 55h1v1h-1zM36 55h1v1h-1zM36 56h1v1h-1zM2 57h1v1h-1zM35 57h1v1h-1zM1 59h1v1h-1zM33 59h1v1h-1zM31 67h1v1h-1zM30 69h1v1h-1zM30 70h1v1h-1zM28 72h1v1h-1zM22 79h1v1h-1zM20 80h1v1h-1zM19 81h1v1h-1zM20 81h1v1h-1z" fill="#96a0dc" fill-opacity="0.5"/>
<path d="M61 12h1v1h-1zM67 13h1v1h-1zM68 23h1v1h-1zM42 28h1v1h-1zM37 32h1v1h-1zM34 34h1v1h-1zM31 35h1v1h-1zM55 36h1v1h-1zM54 37h1v1h-1zM28 38h1v1h-1zM52 38h1v1h-1zM28 39h1v1h-1zM49 40h1v1h-1zM25 42h1v1h-1zM47 42h1v1h-1zM24 43h1v1h-1zM23 44h1v1h-1zM22 45h1v1h-1zM41 46h1v1h-1zM42 46h1v1h-1zM40 48h1v1h-1zM39 49h1v1h-1zM10 51h1v1h-1zM6 54h1v1h-1zM5 55h1v1h-1zM34 55h1v1h-1zM33 57h1v1h-1zM32 60h1v1h-1zM31 63h1v1h-1zM31 65h1v1h-1zM28 71h1v1h-1zM20 79h1v1h-1zM2 81h1v1h-1zM18 81h1v1h-1z" fill="#9696dc" fill-opacity="0.5"/>
<path d="M63 12h1v1h-1zM51 17h1v1h-1zM39 31h1v1h-1zM31 36h1v1h-1zM42 45h1v1h-1zM29 69h1v1h-1zM22 77h1v1h-1z" fill="#9696dc" fill-opacity="0.6"/>
<path d="M58 13h1v1h-1zM55 14h1v1h-1zM69 17h1v1h-1zM48 21h1v1h-1zM59 31h1v1h-1zM54 36h1v1h-1zM30 37h1v1h-1zM52 37h1v1h-1zM50 38h1v1h-1zM29 39h1v1h-1zM49 39h1v1h-1zM48 40h1v1h-1zM47 41h1v1h-1zM44 43h1v1h-1zM20 47h1v1h-1zM39 48h1v1h-1zM12 50h1v1h-1zM31 61h1v1h-1zM30 66h1v1h-1zM24 75h1v1h-1z" fill="#8c96dc" fill-opacity="0.6"/>
<path d="M62 13h1v1h-1zM63 13h1v1h-1zM57 14h1v1h-1zM55 15h1v1h-1zM67 15h1v1h-1zM68 16h1v1h-1zM51 18h1v1h-1zM68 21h1v1h-1zM48 22h1v1h-1zM46 26h1v1h-1zM64 26h1v1h-1zM42 30h1v1h-1zM40 32h1v1h-1zM37 34h1v1h-1zM35 35h1v1h-1zM53 35h1v1h-1zM50 36h1v1h-1zM32 38h1v1h-1zM48 38h1v1h-1zM31 39h1v1h-1zM47 39h1v1h-1zM30 41h1v1h-1zM44 41h1v1h-1zM29 42h1v1h-1zM42 43h1v1h-1zM26 44h1v1h-1zM25 45h1v1h-1zM37 48h1v1h-1zM17 49h1v1h-1zM36 49h1v1h-1zM14 50h1v1h-1zM36 50h1v1h-1zM35 51h1v1h-1zM11 52h1v1h-1zM8 54h1v1h-1zM7 55h1v1h-1zM32 56h1v1h-1zM4 58h1v1h-1zM31 58h1v1h-1zM2 60h1v1h-1zM30 60h1v1h-1zM30 61h1v1h-1zM29 65h1v1h-1zM28 69h1v1h-1zM25 73h1v1h-1zM24 74h1v1h-1zM1 79h1v1h-1zM17 80h1v1h-1zM4 81h1v1h-1z" fill="#8c8cd2" fill-opacity="0.6"/>
<path d="M58 14h1v1h-1zM63 14h1v1h-1zM64 14h1v1h-1zM67 16h1v1h-1zM53 17h1v1h-1zM68 19h1v1h-1zM67 22h1v1h-1zM48 23h1v1h-1zM48 24h1v1h-1zM47 25h1v1h-1zM63 26h1v1h-1zM45 28h1v1h-1zM44 29h1v1h-1zM45 29h1v1h-1zM59 29h1v1h-1zM58 30h1v1h-1zM43 31h1v1h-1zM44 31h1v1h-1zM42 32h1v1h-1zM43 32h1v1h-1zM40 33h1v1h-1zM42 33h1v1h-1zM54 33h1v1h-1zM55 33h1v1h-1zM51 34h1v1h-1zM52 34h1v1h-1zM53 34h1v1h-1zM54 34h1v1h-1zM36 35h1v1h-1zM47 35h1v1h-1zM52 35h1v1h-1zM35 36h1v1h-1zM47 36h1v1h-1zM34 37h1v1h-1zM46 37h1v1h-1zM33 38h1v1h-1zM45 38h1v1h-1zM46 38h1v1h-1zM32 39h1v1h-1zM33 39h1v1h-1zM45 39h1v1h-1zM46 39h1v1h-1zM32 40h1v1h-1zM31 41h1v1h-1zM30 42h1v1h-1zM40 42h1v1h-1zM42 42h1v1h-1zM39 43h1v1h-1zM40 43h1v1h-1zM28 44h1v1h-1zM38 44h1v1h-1zM27 45h1v1h-1zM28 45h1v1h-1zM36 45h1v1h-1zM37 45h1v1h-1zM24 46h1v1h-1zM25 46h1v1h-1zM36 46h1v1h-1zM37 46h1v1h-1zM23 47h1v1h-1zM35 47h1v1h-1zM36 47h1v1h-1zM22 48h1v1h-1zM35 48h1v1h-1zM19 49h1v1h-1zM15 50h1v1h-1zM16 50h1v1h-1zM34 50h1v1h-1zM34 51h1v1h-1zM12 52h1v1h-1zM33 52h1v1h-1zM10 53h1v1h-1zM11 53h1v1h-1zM32 54h1v1h-1zM8 55h1v1h-1zM3 60h1v1h-1zM29 62h1v1h-1zM29 64h1v1h-1zM28 66h1v1h-1zM28 67h1v1h-1zM27 69h1v1h-1zM26 71h1v1h-1zM25 72h1v1h-1zM0 76h1v1h-1zM1 78h1v1h-1zM2 79h1v1h-1zM17 79h1v1h-1zM3 80h1v1h-1zM13 81h1v1h-1zM14 81h1v1h-1z" fill="#828cd2" fill-opacity="0.7"/>
<path d="M67 14h1v1h-1zM53 16h1v1h-1zM69 18h1v1h-1zM66 25h1v1h-1zM45 26h1v1h-1zM44 27h1v1h-1zM62 28h1v1h-1zM42 29h1v1h-1zM41 30h1v1h-1zM39 32h1v1h-1zM56 34h1v1h-1zM54 35h1v1h-1zM33 36h1v1h-1zM51 37h1v1h-1zM30 38h1v1h-1zM48 39h1v1h-1zM29 41h1v1h-1zM45 42h1v1h-1zM27 43h1v1h-1zM43 43h1v1h-1zM42 44h1v1h-1zM41 45h1v1h-1zM39 46h1v1h-1zM37 49h1v1h-1zM34 54h1v1h-1zM5 56h1v1h-1zM32 57h1v1h-1zM30 63h1v1h-1zM29 67h1v1h-1zM29 68h1v1h-1zM27 71h1v1h-1zM25 74h1v1h-1zM0 78h1v1h-1zM16 81h1v1h-1z" fill="#8c96d2" fill-opacity="0.6"/>
<path d="M57 15h1v1h-1zM55 16h1v1h-1zM64 25h1v1h-1zM45 30h1v1h-1zM55 32h1v1h-1zM41 34h1v1h-1zM50 34h1v1h-1zM45 37h1v1h-1zM44 39h1v1h-1zM33 40h1v1h-1zM38 43h1v1h-1zM36 44h1v1h-1zM26 46h1v1h-1zM33 51h1v1h-1zM30 57h1v1h-1zM0 75h1v1h-1zM15 80h1v1h-1z" fill="#8282d2" fill-opacity="0.7"/>
<path d="M58 15h1v1h-1zM59 15h1v1h-1zM60 15h1v1h-1zM64 15h1v1h-1zM65 15h1v1h-1zM56 16h1v1h-1zM66 16h1v1h-1zM54 17h1v1h-1zM53 18h1v1h-1zM52 19h1v1h-1zM67 19h1v1h-1zM51 20h1v1h-1zM64 24h1v1h-1zM63 25h1v1h-1zM48 26h1v1h-1zM48 27h1v1h-1zM61 27h1v1h-1zM47 28h1v1h-1zM47 29h1v1h-1zM46 30h1v1h-1zM47 30h1v1h-1zM46 31h1v1h-1zM45 32h1v1h-1zM46 32h1v1h-1zM47 32h1v1h-1zM48 32h1v1h-1zM52 32h1v1h-1zM53 32h1v1h-1zM45 33h1v1h-1zM46 33h1v1h-1zM47 33h1v1h-1zM48 33h1v1h-1zM50 33h1v1h-1zM51 33h1v1h-1zM39 35h1v1h-1zM42 35h1v1h-1zM43 35h1v1h-1zM37 36h1v1h-1zM38 36h1v1h-1zM39 36h1v1h-1zM41 36h1v1h-1zM42 36h1v1h-1zM44 36h1v1h-1zM36 37h1v1h-1zM37 37h1v1h-1zM42 37h1v1h-1zM43 37h1v1h-1zM44 37h1v1h-1zM42 38h1v1h-1zM43 38h1v1h-1zM44 38h1v1h-1zM35 39h1v1h-1zM43 39h1v1h-1zM40 40h1v1h-1zM41 40h1v1h-1zM34 41h1v1h-1zM35 41h1v1h-1zM36 41h1v1h-1zM38 41h1v1h-1zM39 41h1v1h-1zM34 42h1v1h-1zM37 42h1v1h-1zM38 42h1v1h-1zM33 43h1v1h-1zM34 43h1v1h-1zM36 43h1v1h-1zM32 44h1v1h-1zM33 44h1v1h-1zM34 44h1v1h-1zM33 45h1v1h-1zM34 45h1v1h-1zM28 46h1v1h-1zM29 46h1v1h-1zM31 46h1v1h-1zM32 46h1v1h-1zM34 46h1v1h-1zM25 47h1v1h-1zM32 47h1v1h-1zM33 47h1v1h-1zM32 48h1v1h-1zM33 48h1v1h-1zM32 49h1v1h-1zM33 49h1v1h-1zM19 50h1v1h-1zM20 50h1v1h-1zM32 50h1v1h-1zM33 50h1v1h-1zM32 51h1v1h-1zM14 52h1v1h-1zM31 53h1v1h-1zM11 54h1v1h-1zM9 55h1v1h-1zM30 56h1v1h-1zM7 57h1v1h-1zM29 57h1v1h-1zM29 58h1v1h-1zM5 59h1v1h-1zM28 59h1v1h-1zM3 61h1v1h-1zM28 62h1v1h-1zM1 63h1v1h-1zM27 65h1v1h-1zM0 66h1v1h-1zM26 69h1v1h-1zM25 71h1v1h-1zM23 73h1v1h-1zM22 74h1v1h-1zM1 77h1v1h-1zM17 78h1v1h-1zM3 79h1v1h-1zM5 80h1v1h-1zM14 80h1v1h-1zM8 81h1v1h-1zM9 81h1v1h-1z" fill="#7882c8" fill-opacity="0.8"/>
<path d="M63 15h1v1h-1zM57 16h1v1h-1zM66 17h1v1h-1zM50 22h1v1h-1zM49 24h1v1h-1zM48 28h1v1h-1zM48 29h1v1h-1zM48 30h1v1h-1zM48 31h1v1h-1zM49 31h1v1h-1zM51 32h1v1h-1zM38 37h1v1h-1zM36 38h1v1h-1zM41 38h1v1h-1zM36 39h1v1h-1zM41 39h1v1h-1zM36 40h1v1h-1zM39 40h1v1h-1zM37 41h1v1h-1zM28 47h1v1h-1zM29 47h1v1h-1zM30 47h1v1h-1zM31 47h1v1h-1zM25 48h1v1h-1zM23 49h1v1h-1zM17 51h1v1h-1zM31 51h1v1h-1zM13 53h1v1h-1zM30 53h1v1h-1zM10 55h1v1h-1zM29 56h1v1h-1zM7 58h1v1h-1zM27 64h1v1h-1zM0 67h1v1h-1zM1 76h1v1h-1zM15 79h1v1h-1zM13 80h1v1h-1z" fill="#7878c8" fill-opacity="0.8"/>
<path d="M58 16h1v1h-1zM59 16h1v1h-1zM63 16h1v1h-1zM65 17h1v1h-1zM54 18h1v1h-1zM66 18h1v1h-1zM53 19h1v1h-1zM66 19h1v1h-1zM66 20h1v1h-1zM51 21h1v1h-1zM65 22h1v1h-1zM64 23h1v1h-1zM63 24h1v1h-1zM49 26h1v1h-1zM59 27h1v1h-1zM49 28h1v1h-1zM58 28h1v1h-1zM50 29h1v1h-1zM56 29h1v1h-1zM54 30h1v1h-1zM55 30h1v1h-1zM50 31h1v1h-1zM52 31h1v1h-1zM53 31h1v1h-1zM39 37h1v1h-1zM40 37h1v1h-1zM37 38h1v1h-1zM38 38h1v1h-1zM39 38h1v1h-1zM40 38h1v1h-1zM37 39h1v1h-1zM39 39h1v1h-1zM40 39h1v1h-1zM37 40h1v1h-1zM26 48h1v1h-1zM28 48h1v1h-1zM29 48h1v1h-1zM30 48h1v1h-1zM26 49h1v1h-1zM27 49h1v1h-1zM28 49h1v1h-1zM30 49h1v1h-1zM22 50h1v1h-1zM23 50h1v1h-1zM24 50h1v1h-1zM18 51h1v1h-1zM20 51h1v1h-1zM21 51h1v1h-1zM29 51h1v1h-1zM30 51h1v1h-1zM16 52h1v1h-1zM30 52h1v1h-1zM14 53h1v1h-1zM11 55h1v1h-1zM29 55h1v1h-1zM10 56h1v1h-1zM28 56h1v1h-1zM9 57h1v1h-1zM28 57h1v1h-1zM8 58h1v1h-1zM6 59h1v1h-1zM5 60h1v1h-1zM27 62h1v1h-1zM2 63h1v1h-1zM27 63h1v1h-1zM1 65h1v1h-1zM26 65h1v1h-1zM26 66h1v1h-1zM25 69h1v1h-1zM0 70h1v1h-1zM0 71h1v1h-1zM24 71h1v1h-1zM23 72h1v1h-1zM21 74h1v1h-1zM4 79h1v1h-1zM5 79h1v1h-1zM7 80h1v1h-1zM8 80h1v1h-1zM9 80h1v1h-1zM10 80h1v1h-1zM11 80h1v1h-1zM12 80h1v1h-1z" fill="#6e78c8" fill-opacity="0.9"/>
<path d="M62 16h1v1h-1zM64 17h1v1h-1zM65 20h1v1h-1zM65 21h1v1h-1zM51 22h1v1h-1zM50 24h1v1h-1zM61 25h1v1h-1zM57 28h1v1h-1zM53 30h1v1h-1zM25 50h1v1h-1zM27 50h1v1h-1zM28 50h1v1h-1zM22 51h1v1h-1zM28 51h1v1h-1zM28 52h1v1h-1zM15 53h1v1h-1zM28 53h1v1h-1zM13 54h1v1h-1zM28 54h1v1h-1zM26 61h1v1h-1zM26 63h1v1h-1zM26 64h1v1h-1zM1 66h1v1h-1zM25 67h1v1h-1zM24 70h1v1h-1zM20 74h1v1h-1zM13 79h1v1h-1z" fill="#6478c8"/>
<path d="M58 17h1v1h-1zM59 17h1v1h-1zM63 17h1v1h-1zM64 18h1v1h-1zM54 19h1v1h-1zM65 19h1v1h-1zM53 20h1v1h-1zM64 21h1v1h-1zM50 26h1v1h-1zM59 26h1v1h-1zM52 29h1v1h-1zM53 29h1v1h-1zM54 29h1v1h-1zM25 51h1v1h-1zM26 51h1v1h-1zM27 51h1v1h-1zM19 52h1v1h-1zM20 52h1v1h-1zM22 52h1v1h-1zM26 52h1v1h-1zM27 52h1v1h-1zM16 53h1v1h-1zM27 53h1v1h-1zM27 54h1v1h-1zM27 55h1v1h-1zM11 56h1v1h-1zM26 57h1v1h-1zM26 58h1v1h-1zM8 59h1v1h-1zM26 59h1v1h-1zM5 61h1v1h-1zM3 63h1v1h-1zM2 64h1v1h-1zM25 65h1v1h-1zM1 67h1v1h-1zM24 69h1v1h-1zM23 71h1v1h-1zM1 72h1v1h-1zM22 72h1v1h-1zM1 73h1v1h-1zM2 75h1v1h-1zM18 75h1v1h-1zM17 76h1v1h-1zM3 77h1v1h-1zM4 78h1v1h-1zM14 78h1v1h-1zM6 79h1v1h-1zM7 79h1v1h-1zM8 79h1v1h-1zM10 79h1v1h-1zM11 79h1v1h-1zM12 79h1v1h-1z" fill="#646ebe"/>
<path d="M60 17h1v1h-1zM61 17h1v1h-1zM57 18h1v1h-1zM63 18h1v1h-1zM55 19h1v1h-1zM64 19h1v1h-1zM64 20h1v1h-1zM52 22h1v1h-1zM63 22h1v1h-1zM51 24h1v1h-1zM51 25h1v1h-1zM60 25h1v1h-1zM51 26h1v1h-1zM51 27h1v1h-1zM52 28h1v1h-1zM55 28h1v1h-1zM23 52h1v1h-1zM24 52h1v1h-1zM25 52h1v1h-1zM17 53h1v1h-1zM19 53h1v1h-1zM23 53h1v1h-1zM24 53h1v1h-1zM25 53h1v1h-1zM15 54h1v1h-1zM25 54h1v1h-1zM13 55h1v1h-1zM26 55h1v1h-1zM26 56h1v1h-1zM25 58h1v1h-1zM25 59h1v1h-1zM7 60h1v1h-1zM6 61h1v1h-1zM25 61h1v1h-1zM25 63h1v1h-1zM2 65h1v1h-1zM1 68h1v1h-1zM1 69h1v1h-1zM1 70h1v1h-1zM20 73h1v1h-1zM3 76h1v1h-1zM16 76h1v1h-1zM4 77h1v1h-1zM15 77h1v1h-1zM5 78h1v1h-1zM13 78h1v1h-1z" fill="#5a6ebe"/>
<path d="M67 17h1v1h-1zM45 31h1v1h-1zM56 31h1v1h-1zM44 33h1v1h-1zM53 33h1v1h-1zM47 34h1v1h-1zM48 34h1v1h-1zM35 37h1v1h-1zM34 38h1v1h-1zM41 41h1v1h-1zM39 42h1v1h-1zM32 43h1v1h-1zM31 44h1v1h-1zM29 45h1v1h-1zM21 49h1v1h-1zM31 54h1v1h-1zM29 59h1v1h-1zM28 64h1v1h-1zM7 81h1v1h-1zM11 81h1v1h-1z" fill="#7882d2" fill-opacity="0.7"/>
<path d="M58 18h1v1h-1zM62 18h1v1h-1zM63 21h1v1h-1zM53 28h1v1h-1zM54 28h1v1h-1zM20 53h1v1h-1zM21 53h1v1h-1zM22 53h1v1h-1zM16 54h1v1h-1zM24 54h1v1h-1zM14 55h1v1h-1zM25 55h1v1h-1zM25 56h1v1h-1zM10 58h1v1h-1zM24 67h1v1h-1zM22 71h1v1h-1zM21 72h1v1h-1zM2 74h1v1h-1zM17 75h1v1h-1zM6 78h1v1h-1z" fill="#5a64be"/>
<path d="M59 18h1v1h-1zM61 18h1v1h-1zM63 20h1v1h-1zM62 22h1v1h-1zM59 25h1v1h-1zM52 27h1v1h-1zM9 59h1v1h-1zM5 62h1v1h-1zM2 66h1v1h-1zM24 66h1v1h-1zM23 69h1v1h-1z" fill="#5064be"/>
<path d="M60 18h1v1h-1zM56 19h1v1h-1zM61 19h1v1h-1zM62 19h1v1h-1zM55 20h1v1h-1zM62 20h1v1h-1zM54 21h1v1h-1zM62 21h1v1h-1zM53 22h1v1h-1zM61 23h1v1h-1zM52 24h1v1h-1zM52 25h1v1h-1zM52 26h1v1h-1zM53 27h1v1h-1zM55 27h1v1h-1zM56 27h1v1h-1zM17 54h1v1h-1zM18 54h1v1h-1zM20 54h1v1h-1zM21 54h1v1h-1zM22 54h1v1h-1zM23 54h1v1h-1zM23 55h1v1h-1zM13 56h1v1h-1zM23 56h1v1h-1zM24 56h1v1h-1zM12 57h1v1h-1zM24 57h1v1h-1zM11 58h1v1h-1zM24 59h1v1h-1zM24 60h1v1h-1zM7 61h1v1h-1zM24 61h1v1h-1zM24 62h1v1h-1zM4 63h1v1h-1zM24 63h1v1h-1zM24 64h1v1h-1zM2 67h1v1h-1zM2 72h1v1h-1zM2 73h1v1h-1zM3 75h1v1h-1zM4 76h1v1h-1zM15 76h1v1h-1zM5 77h1v1h-1zM13 77h1v1h-1zM14 77h1v1h-1zM7 78h1v1h-1zM8 78h1v1h-1zM9 78h1v1h-1zM11 78h1v1h-1z" fill="#5064b4"/>
<path d="M58 19h1v1h-1zM60 19h1v1h-1zM60 23h1v1h-1zM59 24h1v1h-1zM58 25h1v1h-1zM54 27h1v1h-1zM16 55h1v1h-1zM22 55h1v1h-1zM23 57h1v1h-1zM23 58h1v1h-1zM3 65h1v1h-1zM21 71h1v1h-1zM20 72h1v1h-1z" fill="#506eb4"/>
<path d="M59 19h1v1h-1zM61 20h1v1h-1zM61 21h1v1h-1zM53 23h1v1h-1zM53 26h1v1h-1zM56 26h1v1h-1zM21 55h1v1h-1zM23 59h1v1h-1zM9 60h1v1h-1zM6 62h1v1h-1zM2 69h1v1h-1zM2 71h1v1h-1zM16 75h1v1h-1z" fill="#506ebe"/>
<path d="M56 20h1v1h-1zM57 20h1v1h-1zM60 20h1v1h-1zM55 21h1v1h-1zM60 21h1v1h-1zM54 22h1v1h-1zM60 22h1v1h-1zM59 23h1v1h-1zM53 24h1v1h-1zM58 24h1v1h-1zM57 25h1v1h-1zM54 26h1v1h-1zM55 26h1v1h-1zM17 55h1v1h-1zM18 55h1v1h-1zM19 55h1v1h-1zM20 55h1v1h-1zM15 56h1v1h-1zM21 56h1v1h-1zM13 57h1v1h-1zM22 57h1v1h-1zM12 58h1v1h-1zM22 58h1v1h-1zM8 61h1v1h-1zM23 61h1v1h-1zM23 62h1v1h-1zM5 63h1v1h-1zM23 63h1v1h-1zM4 64h1v1h-1zM23 64h1v1h-1zM23 65h1v1h-1zM3 66h1v1h-1zM23 66h1v1h-1zM22 69h1v1h-1zM2 70h1v1h-1zM18 73h1v1h-1zM3 74h1v1h-1zM17 74h1v1h-1zM4 75h1v1h-1zM5 76h1v1h-1zM14 76h1v1h-1zM7 77h1v1h-1zM8 77h1v1h-1zM10 77h1v1h-1zM11 77h1v1h-1zM12 77h1v1h-1z" fill="#5078be"/>
<path d="M58 20h1v1h-1zM16 56h1v1h-1zM14 57h1v1h-1zM11 59h1v1h-1zM22 59h1v1h-1z" fill="#5082be"/>
<path d="M56 21h1v1h-1zM59 21h1v1h-1zM59 22h1v1h-1zM54 23h1v1h-1zM54 25h1v1h-1zM56 25h1v1h-1zM17 56h1v1h-1zM20 56h1v1h-1zM21 57h1v1h-1zM10 60h1v1h-1zM22 60h1v1h-1zM7 62h1v1h-1zM22 68h1v1h-1zM21 70h1v1h-1zM20 71h1v1h-1zM19 72h1v1h-1zM15 75h1v1h-1zM6 76h1v1h-1zM13 76h1v1h-1z" fill="#4682be"/>
<path d="M57 21h1v1h-1zM58 21h1v1h-1zM55 22h1v1h-1zM56 22h1v1h-1zM58 22h1v1h-1zM55 23h1v1h-1zM57 23h1v1h-1zM58 23h1v1h-1zM54 24h1v1h-1zM55 24h1v1h-1zM56 24h1v1h-1zM57 24h1v1h-1zM55 25h1v1h-1zM19 56h1v1h-1zM15 57h1v1h-1zM20 57h1v1h-1zM13 58h1v1h-1zM21 59h1v1h-1zM22 61h1v1h-1zM22 62h1v1h-1zM6 63h1v1h-1zM5 64h1v1h-1zM4 65h1v1h-1zM3 67h1v1h-1zM22 67h1v1h-1zM3 72h1v1h-1zM4 74h1v1h-1zM16 74h1v1h-1zM5 75h1v1h-1zM12 76h1v1h-1z" fill="#468cbe"/>
<path d="M57 22h1v1h-1zM56 23h1v1h-1zM16 57h1v1h-1zM17 57h1v1h-1zM18 57h1v1h-1zM19 57h1v1h-1zM14 58h1v1h-1zM20 58h1v1h-1zM11 60h1v1h-1zM21 60h1v1h-1zM22 63h1v1h-1zM22 64h1v1h-1zM22 65h1v1h-1zM22 66h1v1h-1zM3 68h1v1h-1zM3 69h1v1h-1zM21 69h1v1h-1zM3 70h1v1h-1zM3 71h1v1h-1zM17 73h1v1h-1zM14 75h1v1h-1zM8 76h1v1h-1zM9 76h1v1h-1zM10 76h1v1h-1zM11 76h1v1h-1z" fill="#4696be"/>
<path d="M64 22h1v1h-1zM62 24h1v1h-1zM51 29h1v1h-1zM23 51h1v1h-1zM12 55h1v1h-1zM26 60h1v1h-1zM16 77h1v1h-1z" fill="#6478be"/>
<path d="M44 34h1v1h-1zM46 34h1v1h-1zM33 42h1v1h-1zM32 52h1v1h-1zM0 65h1v1h-1z" fill="#7882d2" fill-opacity="0.8"/>
<path d="M49 36h1v1h-1zM20 77h1v1h-1z" fill="#8c8cd2" fill-opacity="0.7"/>
<path d="M17 52h1v1h-1z" fill="#6478c8" fill-opacity="0.9"/>
<path d="M15 58h1v1h-1zM19 58h1v1h-1zM20 59h1v1h-1zM4 66h1v1h-1zM20 70h1v1h-1zM19 71h1v1h-1zM18 72h1v1h-1zM4 73h1v1h-1z" fill="#46a0c8"/>
<path d="M16 58h1v1h-1zM18 58h1v1h-1zM13 59h1v1h-1zM21 62h1v1h-1zM21 68h1v1h-1zM5 74h1v1h-1zM15 74h1v1h-1zM13 75h1v1h-1z" fill="#46a0be"/>
<path d="M17 58h1v1h-1zM19 59h1v1h-1zM21 63h1v1h-1zM6 64h1v1h-1zM5 65h1v1h-1z" fill="#46a0b4"/>
<path d="M14 59h1v1h-1zM12 60h1v1h-1zM20 61h1v1h-1zM9 62h1v1h-1zM4 67h1v1h-1zM4 72h1v1h-1z" fill="#50a0b4"/>
<path d="M15 59h1v1h-1zM16 59h1v1h-1zM17 59h1v1h-1zM13 60h1v1h-1zM11 61h1v1h-1zM20 62h1v1h-1zM8 63h1v1h-1zM4 68h1v1h-1zM19 70h1v1h-1zM4 71h1v1h-1zM17 72h1v1h-1zM5 73h1v1h-1zM14 74h1v1h-1zM10 75h1v1h-1z" fill="#50aaa0"/>
<path d="M18 59h1v1h-1zM19 60h1v1h-1zM21 64h1v1h-1zM21 65h1v1h-1zM21 66h1v1h-1zM21 67h1v1h-1zM20 69h1v1h-1zM16 73h1v1h-1zM6 74h1v1h-1zM9 75h1v1h-1zM12 75h1v1h-1z" fill="#50aaaa"/>
<path d="M14 60h1v1h-1zM17 60h1v1h-1zM12 61h1v1h-1zM6 65h1v1h-1zM5 72h1v1h-1zM13 74h1v1h-1z" fill="#5ab48c"/>
<path d="M15 60h1v1h-1zM16 60h1v1h-1zM18 61h1v1h-1zM9 63h1v1h-1zM20 64h1v1h-1zM5 67h1v1h-1zM20 67h1v1h-1zM6 73h1v1h-1zM15 73h1v1h-1zM8 74h1v1h-1z" fill="#5ab482"/>
<path d="M18 60h1v1h-1zM19 61h1v1h-1zM20 63h1v1h-1zM5 66h1v1h-1zM4 69h1v1h-1zM4 70h1v1h-1zM18 71h1v1h-1zM7 74h1v1h-1z" fill="#50aa96"/>
<path d="M13 61h1v1h-1zM17 61h1v1h-1zM11 62h1v1h-1zM19 63h1v1h-1zM20 65h1v1h-1zM20 66h1v1h-1zM19 69h1v1h-1zM5 71h1v1h-1zM16 72h1v1h-1zM9 74h1v1h-1zM12 74h1v1h-1z" fill="#5ab478"/>
<path d="M14 61h1v1h-1zM16 61h1v1h-1zM18 62h1v1h-1zM8 64h1v1h-1zM6 66h1v1h-1zM5 70h1v1h-1zM18 70h1v1h-1zM17 71h1v1h-1zM7 73h1v1h-1z" fill="#64b46e"/>
<path d="M15 61h1v1h-1zM10 63h1v1h-1zM19 64h1v1h-1zM7 65h1v1h-1zM19 68h1v1h-1z" fill="#64be64"/>
<path d="M10 62h1v1h-1zM7 64h1v1h-1zM20 68h1v1h-1z" fill="#50aa8c"/>
<path d="M12 62h1v1h-1zM17 62h1v1h-1zM8 73h1v1h-1z" fill="#64be5a"/>
<path d="M13 62h1v1h-1zM9 64h1v1h-1zM19 66h1v1h-1zM18 69h1v1h-1zM6 71h1v1h-1zM9 73h1v1h-1zM13 73h1v1h-1z" fill="#78be5a"/>
<path d="M14 62h1v1h-1zM15 62h1v1h-1zM11 63h1v1h-1zM8 65h1v1h-1zM7 66h1v1h-1zM17 70h1v1h-1zM12 73h1v1h-1z" fill="#82be50"/>
<path d="M12 63h1v1h-1zM16 63h1v1h-1zM10 64h1v1h-1zM18 65h1v1h-1zM7 67h1v1h-1zM7 71h1v1h-1zM14 72h1v1h-1z" fill="#96c846"/>
<path d="M13 63h1v1h-1zM15 63h1v1h-1zM17 64h1v1h-1zM9 65h1v1h-1zM8 66h1v1h-1zM18 66h1v1h-1zM18 67h1v1h-1zM17 69h1v1h-1zM15 71h1v1h-1zM9 72h1v1h-1z" fill="#a0c846"/>
<path d="M14 63h1v1h-1zM11 64h1v1h-1zM7 68h1v1h-1zM7 70h1v1h-1zM16 70h1v1h-1zM13 72h1v1h-1z" fill="#aac83c"/>
<path d="M17 63h1v1h-1zM18 64h1v1h-1zM6 68h1v1h-1zM6 69h1v1h-1zM6 70h1v1h-1zM10 73h1v1h-1zM11 73h1v1h-1z" fill="#82c850"/>
<path d="M18 63h1v1h-1zM19 65h1v1h-1zM19 67h1v1h-1zM15 72h1v1h-1z" fill="#6ebe5a"/>
<path d="M12 64h1v1h-1zM8 67h1v1h-1zM17 67h1v1h-1zM14 71h1v1h-1z" fill="#bed232"/>
<path d="M13 64h1v1h-1zM14 64h1v1h-1zM15 64h1v1h-1zM16 65h1v1h-1zM9 66h1v1h-1zM16 69h1v1h-1zM8 70h1v1h-1zM15 70h1v1h-1zM9 71h1v1h-1z" fill="#c8d232"/>
<path d="M16 64h1v1h-1zM17 65h1v1h-1zM8 71h1v1h-1zM10 72h1v1h-1zM11 72h1v1h-1zM12 72h1v1h-1z" fill="#b4d23c"/>
<path d="M10 65h1v1h-1z" fill="#bed23c"/>
<path d="M11 65h1v1h-1zM8 69h1v1h-1z" fill="#d2dc28"/>
<path d="M12 65h1v1h-1zM15 65h1v1h-1zM10 66h1v1h-1zM16 66h1v1h-1zM9 67h1v1h-1zM16 67h1v1h-1zM16 68h1v1h-1zM9 70h1v1h-1zM14 70h1v1h-1zM10 71h1v1h-1zM11 71h1v1h-1zM12 71h1v1h-1z" fill="#dcd228"/>
<path d="M13 65h1v1h-1zM14 65h1v1h-1zM11 66h1v1h-1zM15 66h1v1h-1zM10 67h1v1h-1zM15 67h1v1h-1zM9 68h1v1h-1zM15 68h1v1h-1zM9 69h1v1h-1zM15 69h1v1h-1zM10 70h1v1h-1zM13 70h1v1h-1z" fill="#dcc828"/>
<path d="M12 66h1v1h-1zM13 66h1v1h-1zM14 66h1v1h-1zM11 67h1v1h-1zM10 68h1v1h-1zM10 69h1v1h-1zM14 69h1v1h-1zM11 70h1v1h-1zM12 70h1v1h-1z" fill="#e6be28"/>
<path d="M12 67h1v1h-1zM13 67h1v1h-1zM14 67h1v1h-1zM11 68h1v1h-1zM13 68h1v1h-1zM14 68h1v1h-1zM11 69h1v1h-1zM12 69h1v1h-1zM13 69h1v1h-1z" fill="#e6b428"/>
<path d="M5 68h1v1h-1z" fill="#5ab46e"/>
<path d="M12 68h1v1h-1z" fill="#f0b428"/>
<path d="M18 68h1v1h-1zM8 72h1v1h-1z" fill="#8cc850"/>
<path d="M5 69h1v1h-1zM14 73h1v1h-1z" fill="#64b464"/>
<path d="M7 69h1v1h-1z" fill="#aad23c"/>
<path d="M13 71h1v1h-1z" fill="#d2d228"/>
<path d="M16 71h1v1h-1z" fill="#78be50"/>
</g>
<line x1="233.5" y1="278.7" x2="233.5" y2="319.9" stroke="#e2aade" stroke-width="0.75"/>
<line x1="221.4" y1="299.5" x2="262.6" y2="299.5" stroke="#e2aade" stroke-width="0.75"/>
<rect x="221.4" y="278.7" width="41.2" height="41.2" fill="none" stroke="#a8a8a8" stroke-width="0.6"/>
<text x="222.2" y="282" font-size="2.7" fill="#444">1.81</text>
<text x="261.8" y="282" font-size="2.7" text-anchor="end" fill="#444">7.86</text>
<text x="222.2" y="319" font-size="2.7" fill="#444">29.1</text>
<text x="261.8" y="319" font-size="2.7" text-anchor="end" fill="#444">65.7</text>
<text x="217.8" y="282.8" font-size="6.3" text-anchor="end">10<tspan dy="-2.6" font-size="4.54">4</tspan></text>
<text x="217.8" y="292.65" font-size="6.3" text-anchor="end">10<tspan dy="-2.6" font-size="4.54">3</tspan></text>
<text x="217.8" y="302.5" font-size="6.3" text-anchor="end">10<tspan dy="-2.6" font-size="4.54">2</tspan></text>
<text x="217.8" y="312.35" font-size="6.3" text-anchor="end">10<tspan dy="-2.6" font-size="4.54">1</tspan></text>
<text x="217.8" y="322.2" font-size="6.3" text-anchor="end">10<tspan dy="-2.6" font-size="4.54">0</tspan></text>
<text x="222.46" y="329.8" font-size="6.2" text-anchor="middle">10<tspan dy="-2.6" font-size="4.46">0</tspan></text>
<text x="232.53" y="329.8" font-size="6.2" text-anchor="middle">10<tspan dy="-2.6" font-size="4.46">1</tspan></text>
<text x="242.6" y="329.8" font-size="6.2" text-anchor="middle">10<tspan dy="-2.6" font-size="4.46">2</tspan></text>
<text x="252.67" y="329.8" font-size="6.2" text-anchor="middle">10<tspan dy="-2.6" font-size="4.46">3</tspan></text>
<text x="262.74" y="329.8" font-size="6.2" text-anchor="middle">10<tspan dy="-2.6" font-size="4.46">4</tspan></text>
<text x="61.3" y="228.4" font-size="7.6" text-anchor="middle" transform="rotate(-90 61.3 228.4)" textLength="21.6" lengthAdjust="spacingAndGlyphs">Thy1.2</text>
<text x="133.9" y="229.2" font-size="7.6" text-anchor="middle" transform="rotate(-90 133.9 229.2)" textLength="17.8" lengthAdjust="spacingAndGlyphs">FL1-H</text>
<text x="60.3" y="299.8" font-size="7.4" text-anchor="middle" transform="rotate(-90 60.3 299.8)" textLength="10.2" lengthAdjust="spacingAndGlyphs">Gr1</text>
<text x="133.9" y="299" font-size="7.6" text-anchor="middle" transform="rotate(-90 133.9 299)" textLength="17.6" lengthAdjust="spacingAndGlyphs">FL4-H</text>
<path d="M59 243.2V268.6H236" stroke="#111" stroke-width="0.9" fill="none"/>
<path d="M59 240.2L61.28 245.31L56.72 245.31Z" fill="#111"/>
<path d="M239.8 268.6L234.69 270.88L234.69 266.32Z" fill="#111"/>
<text x="242.7" y="271.1" font-size="7.6" textLength="16.4" lengthAdjust="spacingAndGlyphs">B220</text>
<path d="M58.8 314.6V338.9H236" stroke="#111" stroke-width="0.9" fill="none"/>
<path d="M58.8 311.6L61.08 316.71L56.52 316.71Z" fill="#111"/>
<path d="M239.8 338.9L234.69 341.18L234.69 336.62Z" fill="#111"/>
<text x="242.8" y="341.5" font-size="7.6" textLength="16.8" lengthAdjust="spacingAndGlyphs">Mac1</text>
<line x1="47.5" y1="226" x2="47.5" y2="321.6" stroke="#111" stroke-width="1"/>
<text x="26" y="272.6" font-size="8.6" text-anchor="middle"><tspan font-style="italic">Utx</tspan><tspan dy="-3.61" font-size="6.02">Δ/Δ</tspan><tspan dy="3.61">+</tspan></text>
<text x="25.6" y="283.6" font-size="8.6" text-anchor="middle">MOL4070</text>
<text x="274.5" y="16.8" font-size="11.8" fill="#000" font-weight="bold" textLength="7.6" lengthAdjust="spacingAndGlyphs">B</text>
<text x="323.5" y="34.4" font-size="6.7" text-anchor="middle">Utx<tspan dy="-2.81" font-size="4.02">+/+</tspan><tspan dy="2.81"> and Utx</tspan><tspan dy="-2.81" font-size="4.02">Δ/Δ</tspan><tspan dy="2.81"> mice</tspan></text>
<g transform="translate(310.6 42.4) scale(0.99 0.98)" stroke-linejoin="round" stroke-linecap="round" fill="none">
<path d="M0.8 12.5C2.5 9.4 5.4 6 8.5 4.2C10 3.3 11.6 3 12.8 3.4L16.6 8.2C20.4 8 25 9.2 27.6 11.6C29.2 13.4 29.2 16 28.1 17.6C27 19.2 25 19.9 22 19.9L14 19.6C12 19.4 10.2 18.6 9 17.2C7.2 15.6 5.2 15.1 3.6 14.9C2.2 14.6 1 13.6 0.8 12.5Z" fill="#fff" stroke="#111" stroke-width="1.0"/>
<path d="M16.4 7.4C18 3.2 21 0.6 24.6 0.3C27 0.1 28.9 1 30 2.5" stroke="#111" stroke-width="1.1"/>
<path d="M30 2.5C31.4 4.6 31.4 8 30.3 10.5C29.7 11.8 29.1 12.8 28.4 13.6" stroke="#5a1446" stroke-width="1.15"/>
<path d="M10.6 5.2C11.8 3.6 14 3.4 15.6 4.4C17.2 5.4 17.4 7.8 16.4 9.4C15.4 10.4 13.8 10.2 12.8 9.2C11.8 8.2 10.8 6.8 10.6 5.2Z" fill="#d4127e"/><path d="M10.2 4.6C11.6 2.6 14.6 2.4 16.4 4" fill="none" stroke="#888" stroke-width="0.5"/>
<circle cx="7" cy="10.3" r="1.4" fill="#111"/>
<circle cx="0.95" cy="12.6" r="1" fill="#d4127e"/>
<path d="M2.2 14.5L2.8 16.2L3.8 15" fill="#111" stroke="#111" stroke-width="0.4"/>
<path d="M8.6 17C9.6 15.5 11 14.6 12.6 14.6M9.8 19.2L12.2 16.6M16.4 8.6C15.6 10.6 14.2 12.6 12.6 14.6M22.6 13.4C21.6 15.4 20.6 17.6 20.2 19.8" stroke="#111" stroke-width="0.7"/>
</g>
<line x1="343.8" y1="51.7" x2="353.76" y2="51.7" stroke="#111" stroke-width="0.9"/>
<path d="M356 51.7L353.08 53L353.08 50.4Z" fill="#111"/>
<text x="368.2" y="40.6" font-size="6.6" text-anchor="middle">c-kit<tspan dy="-2.77" font-size="4.09">+</tspan><tspan dy="2.77"> cells</tspan></text>
<circle cx="367.1" cy="46.8" r="1.62" fill="#fff" stroke="#5e5e5e" stroke-width="0.6"/>
<circle cx="366.3" cy="49.6" r="1.62" fill="#fff" stroke="#5e5e5e" stroke-width="0.6"/>
<circle cx="370.2" cy="49" r="1.62" fill="#fff" stroke="#5e5e5e" stroke-width="0.6"/>
<circle cx="363.9" cy="52.2" r="1.62" fill="#fff" stroke="#5e5e5e" stroke-width="0.6"/>
<circle cx="367.3" cy="52.6" r="1.62" fill="#fff" stroke="#5e5e5e" stroke-width="0.6"/>
<circle cx="370.5" cy="52.4" r="1.62" fill="#fff" stroke="#5e5e5e" stroke-width="0.6"/>
<circle cx="373.4" cy="51.8" r="1.62" fill="#fff" stroke="#5e5e5e" stroke-width="0.6"/>
<circle cx="363.9" cy="55.6" r="1.62" fill="#fff" stroke="#5e5e5e" stroke-width="0.6"/>
<circle cx="367.2" cy="56" r="1.62" fill="#fff" stroke="#5e5e5e" stroke-width="0.6"/>
<circle cx="370.4" cy="56.3" r="1.62" fill="#fff" stroke="#5e5e5e" stroke-width="0.6"/>
<circle cx="373.4" cy="55.2" r="1.62" fill="#fff" stroke="#5e5e5e" stroke-width="0.6"/>
<line x1="383" y1="51.9" x2="420.22" y2="51.9" stroke="#111" stroke-width="0.9"/>
<path d="M422.6 51.9L419.5 53.29L419.5 50.51Z" fill="#111"/>
<text x="404" y="22.4" font-size="6.4" text-anchor="middle" font-style="italic">Sox4-IRES-</text>
<text x="403.8" y="29.3" font-size="6.4" text-anchor="middle" font-style="italic">EGFP</text>
<circle cx="398.7" cy="36.8" r="2.05" fill="#46c424" stroke="#1a2a16" stroke-width="1.15"/>
<circle cx="407.2" cy="36.8" r="2.05" fill="#46c424" stroke="#1a2a16" stroke-width="1.15"/>
<circle cx="402.7" cy="40.7" r="2.05" fill="#46c424" stroke="#1a2a16" stroke-width="1.15"/>
<line x1="402.6" y1="43.6" x2="402.6" y2="49.76" stroke="#111" stroke-width="0.6"/>
<path d="M402.6 51.3L401.7 49.29L403.5 49.29Z" fill="#111"/>
<text x="436.2" y="41" font-size="6.6" text-anchor="middle">EGFP<tspan dy="-2.77" font-size="4.09">+</tspan><tspan dy="2.77"> cells</tspan></text>
<circle cx="434.3" cy="46.6" r="1.62" fill="#e2e6b4" stroke="#7a7a52" stroke-width="0.6"/>
<circle cx="433.5" cy="49.4" r="1.62" fill="#e2e6b4" stroke="#7a7a52" stroke-width="0.6"/>
<circle cx="437.4" cy="48.8" r="1.62" fill="#e2e6b4" stroke="#7a7a52" stroke-width="0.6"/>
<circle cx="431.1" cy="52" r="1.62" fill="#e2e6b4" stroke="#7a7a52" stroke-width="0.6"/>
<circle cx="434.5" cy="52.4" r="1.62" fill="#e2e6b4" stroke="#7a7a52" stroke-width="0.6"/>
<circle cx="437.7" cy="52.2" r="1.62" fill="#e2e6b4" stroke="#7a7a52" stroke-width="0.6"/>
<circle cx="440.6" cy="51.6" r="1.62" fill="#e2e6b4" stroke="#7a7a52" stroke-width="0.6"/>
<circle cx="431.1" cy="55.4" r="1.62" fill="#e2e6b4" stroke="#7a7a52" stroke-width="0.6"/>
<circle cx="434.4" cy="55.8" r="1.62" fill="#e2e6b4" stroke="#7a7a52" stroke-width="0.6"/>
<circle cx="437.6" cy="56.1" r="1.62" fill="#e2e6b4" stroke="#7a7a52" stroke-width="0.6"/>
<circle cx="440.6" cy="55" r="1.62" fill="#e2e6b4" stroke="#7a7a52" stroke-width="0.6"/>
<line x1="445.6" y1="51.6" x2="468.12" y2="39.06" stroke="#111" stroke-width="0.9"/>
<path d="M470.2 37.9L468.16 40.62L466.81 38.2Z" fill="#111"/>
<line x1="445.6" y1="54.2" x2="468.13" y2="67.02" stroke="#111" stroke-width="0.9"/>
<path d="M470.2 68.2L466.82 67.87L468.19 65.46Z" fill="#111"/>
<text x="490.4" y="34" font-size="6.6" text-anchor="middle">Serial replating</text>
<text x="490.4" y="41.1" font-size="6.6" text-anchor="middle">assays</text>
<text x="488.6" y="55.8" font-size="6.6" text-anchor="middle">BMT</text>
<path d="M470.2 55.8L475.4 56.4L473.4 59.2L477.2 64.2L471.6 60.4L473.2 58.6Z" fill="#f2c21e" stroke="#5a4a10" stroke-width="0.45"/>
<g transform="translate(474.6 58.4) scale(0.99 0.98)" stroke-linejoin="round" stroke-linecap="round" fill="none">
<path d="M0.8 12.5C2.5 9.4 5.4 6 8.5 4.2C10 3.3 11.6 3 12.8 3.4L16.6 8.2C20.4 8 25 9.2 27.6 11.6C29.2 13.4 29.2 16 28.1 17.6C27 19.2 25 19.9 22 19.9L14 19.6C12 19.4 10.2 18.6 9 17.2C7.2 15.6 5.2 15.1 3.6 14.9C2.2 14.6 1 13.6 0.8 12.5Z" fill="#fff" stroke="#111" stroke-width="1.0"/>
<path d="M16.4 7.4C18 3.2 21 0.6 24.6 0.3C27 0.1 28.9 1 30 2.5" stroke="#111" stroke-width="1.1"/>
<path d="M30 2.5C31.4 4.6 31.4 8 30.3 10.5C29.7 11.8 29.1 12.8 28.4 13.6" stroke="#5a1446" stroke-width="1.15"/>
<path d="M10.6 5.2C11.8 3.6 14 3.4 15.6 4.4C17.2 5.4 17.4 7.8 16.4 9.4C15.4 10.4 13.8 10.2 12.8 9.2C11.8 8.2 10.8 6.8 10.6 5.2Z" fill="#d4127e"/><path d="M10.2 4.6C11.6 2.6 14.6 2.4 16.4 4" fill="none" stroke="#888" stroke-width="0.5"/>
<circle cx="7" cy="10.3" r="1.4" fill="#111"/>
<circle cx="0.95" cy="12.6" r="1" fill="#d4127e"/>
<path d="M2.2 14.5L2.8 16.2L3.8 15" fill="#111" stroke="#111" stroke-width="0.4"/>
<path d="M8.6 17C9.6 15.5 11 14.6 12.6 14.6M9.8 19.2L12.2 16.6M16.4 8.6C15.6 10.6 14.2 12.6 12.6 14.6M22.6 13.4C21.6 15.4 20.6 17.6 20.2 19.8" stroke="#111" stroke-width="0.7"/>
</g>
<rect x="352" y="89.9" width="2.7" height="2.6" fill="#1f3f80"/>
<text x="357.6" y="93.4" font-size="5.9" fill="#333"><tspan font-style="italic">Utx</tspan><tspan dy="-2.48" font-size="3.84">+/+</tspan><tspan dy="2.48">+</tspan><tspan font-style="italic">Sox4</tspan></text>
<rect x="352" y="99.1" width="2.7" height="2.6" fill="#b0102c"/>
<text x="357.6" y="102.6" font-size="5.9" fill="#333"><tspan font-style="italic">Utx</tspan><tspan dy="-2.48" font-size="3.84">Δ/Δ</tspan><tspan dy="2.48">+</tspan><tspan font-style="italic">Sox4</tspan></text>
<ellipse cx="330" cy="149.8" rx="2.4" ry="0.9" fill="#22447e"/>
<ellipse cx="338.7" cy="149.8" rx="2.5" ry="0.9" fill="#b0102c"/>
<rect x="351.5" y="148.35" width="5.1" height="1.75" fill="#22447e"/>
<line x1="354.05" y1="148.35" x2="354.05" y2="148" stroke="#333" stroke-width="0.6"/>
<line x1="352.75" y1="148" x2="355.35" y2="148" stroke="#333" stroke-width="0.6"/>
<rect x="360.1" y="143.23" width="5.3" height="6.87" fill="#b0102c"/>
<line x1="362.75" y1="143.23" x2="362.75" y2="142.53" stroke="#333" stroke-width="0.6"/>
<line x1="361.45" y1="142.53" x2="364.05" y2="142.53" stroke="#333" stroke-width="0.6"/>
<rect x="375.4" y="146.95" width="5.4" height="3.15" fill="#22447e"/>
<line x1="378.1" y1="146.95" x2="378.1" y2="145.44" stroke="#333" stroke-width="0.6"/>
<line x1="376.8" y1="145.44" x2="379.4" y2="145.44" stroke="#333" stroke-width="0.6"/>
<rect x="384.3" y="141.01" width="5.3" height="9.09" fill="#b0102c"/>
<line x1="386.95" y1="141.01" x2="386.95" y2="140.43" stroke="#333" stroke-width="0.6"/>
<line x1="385.65" y1="140.43" x2="388.25" y2="140.43" stroke="#333" stroke-width="0.6"/>
<rect x="399.5" y="141.25" width="5.2" height="8.85" fill="#22447e"/>
<line x1="402.1" y1="141.25" x2="402.1" y2="139.38" stroke="#333" stroke-width="0.6"/>
<line x1="400.8" y1="139.38" x2="403.4" y2="139.38" stroke="#333" stroke-width="0.6"/>
<rect x="408.8" y="119.23" width="5.4" height="30.87" fill="#b0102c"/>
<line x1="411.5" y1="119.23" x2="411.5" y2="108.74" stroke="#333" stroke-width="0.6"/>
<line x1="410.2" y1="108.74" x2="412.8" y2="108.74" stroke="#333" stroke-width="0.6"/>
<line x1="323.5" y1="100.3" x2="323.5" y2="150.1" stroke="#111" stroke-width="1"/>
<line x1="323.5" y1="150.1" x2="417.2" y2="150.1" stroke="#111" stroke-width="1"/>
<line x1="320.5" y1="150.1" x2="323.5" y2="150.1" stroke="#111" stroke-width="0.9"/>
<text x="318.1" y="152.4" font-size="6.6" text-anchor="end">0</text>
<line x1="320.5" y1="138.45" x2="323.5" y2="138.45" stroke="#111" stroke-width="0.9"/>
<text x="318.1" y="140.75" font-size="6.6" text-anchor="end">1000</text>
<line x1="320.5" y1="126.8" x2="323.5" y2="126.8" stroke="#111" stroke-width="0.9"/>
<text x="318.1" y="129.1" font-size="6.6" text-anchor="end">2000</text>
<line x1="320.5" y1="115.15" x2="323.5" y2="115.15" stroke="#111" stroke-width="0.9"/>
<text x="318.1" y="117.45" font-size="6.6" text-anchor="end">3000</text>
<line x1="320.5" y1="103.5" x2="323.5" y2="103.5" stroke="#111" stroke-width="0.9"/>
<text x="318.1" y="105.8" font-size="6.6" text-anchor="end">4000</text>
<line x1="334.2" y1="150.1" x2="334.2" y2="152.1" stroke="#111" stroke-width="0.9"/>
<text x="333.7" y="162.2" font-size="6.2" text-anchor="middle">R1</text>
<line x1="358.5" y1="150.1" x2="358.5" y2="152.1" stroke="#111" stroke-width="0.9"/>
<text x="358" y="162.2" font-size="6.2" text-anchor="middle">R2</text>
<line x1="382.4" y1="150.1" x2="382.4" y2="152.1" stroke="#111" stroke-width="0.9"/>
<text x="381.9" y="162.2" font-size="6.2" text-anchor="middle">R3</text>
<line x1="406.5" y1="150.1" x2="406.5" y2="152.1" stroke="#111" stroke-width="0.9"/>
<text x="406" y="162.2" font-size="6.2" text-anchor="middle">R4</text>
<text x="297.6" y="125.3" font-size="6.9" text-anchor="middle" transform="rotate(-90 297.6 125.3)">CFU/1 x 10<tspan dy="-2.9" font-size="4.83">4</tspan></text>
<line x1="353.8" y1="138.8" x2="363.2" y2="138.8" stroke="#222" stroke-width="0.7"/>
<text x="358.5" y="138.4" font-size="6.2" text-anchor="middle" fill="#111" font-weight="bold">***</text>
<line x1="377.6" y1="136.3" x2="386.2" y2="136.3" stroke="#222" stroke-width="0.7"/>
<text x="381.9" y="135.9" font-size="6.2" text-anchor="middle" fill="#111" font-weight="bold">***</text>
<line x1="402.2" y1="106.3" x2="411.2" y2="106.3" stroke="#222" stroke-width="0.7"/>
<text x="406.7" y="105.9" font-size="6.2" text-anchor="middle" fill="#111" font-weight="bold">*</text>
<text x="471.4" y="92.3" font-size="6.6" text-anchor="middle">R4</text>
<line x1="430" y1="96.5" x2="513.2" y2="96.5" stroke="#666" stroke-width="1"/>
<text x="449.2" y="107.2" font-size="6.6" text-anchor="middle"><tspan font-style="italic">Utx</tspan><tspan dy="-2.77" font-size="4.49">+/+</tspan><tspan dy="2.77">+</tspan><tspan font-style="italic">Sox4</tspan></text>
<text x="493.6" y="107.2" font-size="6.6" text-anchor="middle"><tspan font-style="italic">Utx</tspan><tspan dy="-2.77" font-size="4.49">Δ/Δ</tspan><tspan dy="2.77">+ </tspan><tspan font-style="italic">Sox4</tspan></text>
<rect x="430.1" y="110.2" width="38.2" height="38.4" fill="#d4d4d4"/>
<rect x="430.1" y="110.2" width="38.2" height="38.4" fill="#fff" filter="url(#bgnoise)"/>
<ellipse cx="461" cy="118.2" rx="2.8" ry="2.8" fill="#8e8e8e" filter="url(#tex)"/>
<ellipse cx="436.9" cy="140" rx="3.2" ry="3.2" fill="#8e8e8e" filter="url(#tex)"/>
<circle cx="453.8" cy="119.6" r="0.6" fill="#9a9a9a"/>
<circle cx="464.5" cy="123.1" r="0.6" fill="#9a9a9a"/>
<circle cx="432.9" cy="129.8" r="0.6" fill="#9a9a9a"/>
<circle cx="454.7" cy="133.8" r="0.6" fill="#9a9a9a"/>
<circle cx="463.6" cy="133.8" r="0.6" fill="#9a9a9a"/>
<circle cx="442.2" cy="135.2" r="0.6" fill="#9a9a9a"/>
<circle cx="443.6" cy="140.5" r="0.6" fill="#9a9a9a"/>
<circle cx="442.7" cy="144" r="0.6" fill="#9a9a9a"/>
<circle cx="455.6" cy="111.1" r="0.6" fill="#9a9a9a"/>
<circle cx="438.7" cy="126.3" r="0.6" fill="#9a9a9a"/>
<rect x="474.2" y="110.2" width="38.9" height="38.4" fill="#d4d4d4"/>
<rect x="474.2" y="110.2" width="38.9" height="38.4" fill="#fff" filter="url(#bgnoise)"/>
<ellipse cx="484.9" cy="121.4" rx="7" ry="6.8" fill="#a6a6a6" filter="url(#tex)"/>
<ellipse cx="507.2" cy="124.8" rx="4.4" ry="6" fill="#b0b0b0" filter="url(#tex)"/>
<ellipse cx="486.7" cy="139.2" rx="5.4" ry="5.6" fill="#a4a4a4" filter="url(#tex)"/>
<ellipse cx="497.4" cy="138.4" rx="1.4" ry="1.4" fill="#b0b0b0" filter="url(#tex)"/>
<circle cx="478" cy="114" r="0.6" fill="#9a9a9a"/>
<circle cx="494" cy="130" r="0.6" fill="#9a9a9a"/>
<circle cx="480" cy="132" r="0.6" fill="#9a9a9a"/>
<circle cx="500" cy="117" r="0.6" fill="#9a9a9a"/>
<circle cx="510" cy="140" r="0.6" fill="#9a9a9a"/>
<circle cx="477" cy="146" r="0.6" fill="#9a9a9a"/>
<circle cx="492" cy="145" r="0.6" fill="#9a9a9a"/>
<line x1="503.6" y1="141.7" x2="508.6" y2="141.7" stroke="#111" stroke-width="0.9"/>
<text x="505.9" y="146.2" font-size="2.9" text-anchor="middle" fill="#111" font-weight="bold">30 μm</text>
<polyline points="357.4,173.1 358,173.1 358,179.3 360.2,179.3 360.2,197.3 364,197.3 364,205.1 399.9,205.1 399.9,212.3 431.2,212.3 431.2,220 438.9,220 438.9,227.8 442,227.8 442,234.3" fill="none" stroke="#c0183c" stroke-width="1.25"/>
<polyline points="323.5,173.1 364.3,173.1 364.3,180.1 365.5,180.1 365.5,188.2 465,188.2" fill="none" stroke="#3c5a9c" stroke-width="1.25"/>
<line x1="323.5" y1="170.2" x2="323.5" y2="234.3" stroke="#111" stroke-width="1"/>
<line x1="323.5" y1="234.3" x2="479.4" y2="234.3" stroke="#111" stroke-width="1"/>
<line x1="320.5" y1="234.3" x2="323.5" y2="234.3" stroke="#111" stroke-width="0.9"/>
<text x="318.4" y="236.5" font-size="6.3" text-anchor="end">0</text>
<line x1="320.5" y1="222.06" x2="323.5" y2="222.06" stroke="#111" stroke-width="0.9"/>
<text x="318.4" y="224.26" font-size="6.3" text-anchor="end">20</text>
<line x1="320.5" y1="209.82" x2="323.5" y2="209.82" stroke="#111" stroke-width="0.9"/>
<text x="318.4" y="212.02" font-size="6.3" text-anchor="end">40</text>
<line x1="320.5" y1="197.58" x2="323.5" y2="197.58" stroke="#111" stroke-width="0.9"/>
<text x="318.4" y="199.78" font-size="6.3" text-anchor="end">60</text>
<line x1="320.5" y1="185.34" x2="323.5" y2="185.34" stroke="#111" stroke-width="0.9"/>
<text x="318.4" y="187.54" font-size="6.3" text-anchor="end">80</text>
<line x1="320.5" y1="173.1" x2="323.5" y2="173.1" stroke="#111" stroke-width="0.9"/>
<text x="318.4" y="175.3" font-size="6.3" text-anchor="end">100</text>
<line x1="323.5" y1="234.3" x2="323.5" y2="236.7" stroke="#111" stroke-width="0.9"/>
<text x="323.5" y="246" font-size="6.5" text-anchor="middle">0</text>
<line x1="361.8" y1="234.3" x2="361.8" y2="236.7" stroke="#111" stroke-width="0.9"/>
<text x="361.8" y="246" font-size="6.5" text-anchor="middle">30</text>
<line x1="400.1" y1="234.3" x2="400.1" y2="236.7" stroke="#111" stroke-width="0.9"/>
<text x="400.1" y="246" font-size="6.5" text-anchor="middle">60</text>
<line x1="438.4" y1="234.3" x2="438.4" y2="236.7" stroke="#111" stroke-width="0.9"/>
<text x="438.4" y="246" font-size="6.5" text-anchor="middle">90</text>
<line x1="476.7" y1="234.3" x2="476.7" y2="236.7" stroke="#111" stroke-width="0.9"/>
<text x="476.7" y="246" font-size="6.5" text-anchor="middle">120</text>
<text x="484" y="246" font-size="6.5">(days)</text>
<text x="401.6" y="256" font-size="6.6" text-anchor="middle">Post transplantation</text>
<text x="301.6" y="202" font-size="7" text-anchor="middle" transform="rotate(-90 301.6 202)">Survival ratio (%)</text>
<text x="422" y="179.6" font-size="5.8" text-anchor="middle" fill="#3c5a9c"><tspan font-style="italic">Utx</tspan><tspan dy="-2.44" font-size="4.06">+/+</tspan><tspan dy="2.44">+Sox4</tspan></text>
<text x="421.6" y="186.2" font-size="5.6" text-anchor="middle" fill="#3c5a9c">(<tspan font-style="italic">n</tspan>=8)</text>
<text x="422.6" y="204.3" font-size="5.8" text-anchor="middle" fill="#c0183c"><tspan font-style="italic">Utx</tspan><tspan dy="-2.44" font-size="4.06">Δ/Δ</tspan><tspan dy="2.44">+Sox4</tspan></text>
<text x="422.4" y="209.8" font-size="5.6" text-anchor="middle" fill="#c0183c">(<tspan font-style="italic">n</tspan>=9)</text>
<text x="452.4" y="208.9" font-size="5.7">*<tspan font-style="italic">p</tspan> < 0.05</text>
<text x="414.7" y="271.6" font-size="8.3" text-anchor="middle">AML</text>
<line x1="356" y1="274.8" x2="474" y2="274.8" stroke="#5a5a5a" stroke-width="1.5"/>
<rect x="355.4" y="278.6" width="39.8" height="39.7" fill="#fff"/>
<g transform="translate(355.4 278.6) scale(0.5)">
<path d="M52 0h1v1h-1zM63 0h1v1h-1zM74 0h1v1h-1zM47 1h1v1h-1zM61 1h1v1h-1zM71 1h1v1h-1zM72 1h1v1h-1zM74 1h1v1h-1zM76 5h1v1h-1zM78 5h1v1h-1zM35 6h1v1h-1zM34 9h1v1h-1zM28 11h1v1h-1zM29 11h1v1h-1zM77 11h1v1h-1zM29 12h1v1h-1zM24 14h1v1h-1zM10 15h1v1h-1zM14 15h1v1h-1zM24 15h1v1h-1zM7 16h1v1h-1zM9 16h1v1h-1zM24 16h1v1h-1zM78 16h1v1h-1zM17 17h1v1h-1zM11 18h1v1h-1zM12 18h1v1h-1zM18 18h1v1h-1zM22 18h1v1h-1zM10 19h1v1h-1zM23 19h1v1h-1zM14 20h1v1h-1zM21 20h1v1h-1zM13 21h1v1h-1zM10 22h1v1h-1zM12 22h1v1h-1zM79 23h1v1h-1zM16 24h1v1h-1zM19 24h1v1h-1zM15 25h1v1h-1zM11 26h1v1h-1zM79 26h1v1h-1zM15 27h1v1h-1zM15 28h1v1h-1zM78 29h1v1h-1zM9 30h1v1h-1zM9 31h1v1h-1zM13 31h1v1h-1zM78 31h1v1h-1zM5 32h1v1h-1zM5 33h1v1h-1zM11 33h1v1h-1zM78 33h1v1h-1zM79 34h1v1h-1zM6 35h1v1h-1zM7 36h1v1h-1zM5 38h1v1h-1zM74 40h1v1h-1zM70 41h1v1h-1zM3 42h1v1h-1zM2 43h1v1h-1zM67 45h1v1h-1zM68 45h1v1h-1zM65 46h1v1h-1zM68 46h1v1h-1zM1 47h1v1h-1zM63 47h1v1h-1zM58 48h1v1h-1zM0 50h1v1h-1zM58 51h1v1h-1zM55 52h1v1h-1zM57 53h1v1h-1zM52 54h1v1h-1zM57 54h1v1h-1zM60 54h1v1h-1zM51 55h1v1h-1zM53 56h1v1h-1zM56 57h1v1h-1zM63 57h1v1h-1zM49 58h1v1h-1zM58 58h1v1h-1zM61 58h1v1h-1zM62 58h1v1h-1zM63 58h1v1h-1zM46 59h1v1h-1zM50 60h1v1h-1zM53 60h1v1h-1zM54 60h1v1h-1zM60 60h1v1h-1zM47 64h1v1h-1zM48 64h1v1h-1zM47 65h1v1h-1zM52 65h1v1h-1zM43 66h1v1h-1zM48 66h1v1h-1zM40 67h1v1h-1zM47 67h1v1h-1zM38 68h1v1h-1zM46 71h1v1h-1zM49 71h1v1h-1zM52 71h1v1h-1zM46 72h1v1h-1zM54 72h1v1h-1zM44 73h1v1h-1zM48 73h1v1h-1zM56 74h1v1h-1zM42 76h1v1h-1zM44 76h1v1h-1zM51 76h1v1h-1zM52 76h1v1h-1zM2 77h1v1h-1zM43 77h1v1h-1zM47 77h1v1h-1zM49 77h1v1h-1zM53 77h1v1h-1zM55 77h1v1h-1zM56 77h1v1h-1zM58 77h1v1h-1zM59 77h1v1h-1zM2 78h1v1h-1zM4 78h1v1h-1zM38 78h1v1h-1zM46 78h1v1h-1zM50 78h1v1h-1z" fill="#a0aadc" fill-opacity="0.5"/>
<path d="M77 0h1v1h-1zM38 1h1v1h-1zM14 2h1v1h-1zM15 2h1v1h-1zM16 2h1v1h-1zM28 2h1v1h-1zM13 4h1v1h-1zM30 4h1v1h-1zM3 6h1v1h-1zM2 10h1v1h-1zM17 10h1v1h-1zM7 12h1v1h-1zM3 13h1v1h-1zM3 14h1v1h-1zM4 22h1v1h-1zM4 29h1v1h-1zM79 38h1v1h-1zM78 45h1v1h-1zM70 48h1v1h-1zM78 48h1v1h-1zM64 52h1v1h-1zM66 52h1v1h-1zM73 53h1v1h-1zM74 56h1v1h-1zM68 58h1v1h-1zM72 62h1v1h-1zM55 64h1v1h-1zM60 64h1v1h-1zM79 67h1v1h-1zM75 68h1v1h-1zM58 71h1v1h-1zM60 72h1v1h-1zM63 75h1v1h-1zM67 76h1v1h-1zM78 76h1v1h-1zM64 77h1v1h-1zM67 77h1v1h-1z" fill="#aaaadc" fill-opacity="0.5"/>
<path d="M49 1h1v1h-1zM56 2h1v1h-1zM65 2h1v1h-1zM67 2h1v1h-1zM47 3h1v1h-1zM59 3h1v1h-1zM61 3h1v1h-1zM66 3h1v1h-1zM40 4h1v1h-1zM41 4h1v1h-1zM67 4h1v1h-1zM68 4h1v1h-1zM70 4h1v1h-1zM73 4h1v1h-1zM40 5h1v1h-1zM73 6h1v1h-1zM74 6h1v1h-1zM75 6h1v1h-1zM36 7h1v1h-1zM38 7h1v1h-1zM75 9h1v1h-1zM34 10h1v1h-1zM32 12h1v1h-1zM77 12h1v1h-1zM29 13h1v1h-1zM32 13h1v1h-1zM33 13h1v1h-1zM75 13h1v1h-1zM29 14h1v1h-1zM76 15h1v1h-1zM27 16h1v1h-1zM29 16h1v1h-1zM76 16h1v1h-1zM25 18h1v1h-1zM27 18h1v1h-1zM77 18h1v1h-1zM77 21h1v1h-1zM23 23h1v1h-1zM74 23h1v1h-1zM21 24h1v1h-1zM24 24h1v1h-1zM76 24h1v1h-1zM77 24h1v1h-1zM77 25h1v1h-1zM74 26h1v1h-1zM17 27h1v1h-1zM19 27h1v1h-1zM20 27h1v1h-1zM18 28h1v1h-1zM76 28h1v1h-1zM74 29h1v1h-1zM16 30h1v1h-1zM17 30h1v1h-1zM72 30h1v1h-1zM17 32h1v1h-1zM72 32h1v1h-1zM12 34h1v1h-1zM70 34h1v1h-1zM72 34h1v1h-1zM10 35h1v1h-1zM11 36h1v1h-1zM14 36h1v1h-1zM68 36h1v1h-1zM70 36h1v1h-1zM9 37h1v1h-1zM11 38h1v1h-1zM64 38h1v1h-1zM8 39h1v1h-1zM10 39h1v1h-1zM66 39h1v1h-1zM68 39h1v1h-1zM65 40h1v1h-1zM70 40h1v1h-1zM9 41h1v1h-1zM10 41h1v1h-1zM61 41h1v1h-1zM68 41h1v1h-1zM69 41h1v1h-1zM6 42h1v1h-1zM68 42h1v1h-1zM61 43h1v1h-1zM63 43h1v1h-1zM4 44h1v1h-1zM59 44h1v1h-1zM61 44h1v1h-1zM3 45h1v1h-1zM6 45h1v1h-1zM55 46h1v1h-1zM6 47h1v1h-1zM5 48h1v1h-1zM5 49h1v1h-1zM55 49h1v1h-1zM4 50h1v1h-1zM56 50h1v1h-1zM2 51h1v1h-1zM4 51h1v1h-1zM55 51h1v1h-1zM2 52h1v1h-1zM49 53h1v1h-1zM47 54h1v1h-1zM50 55h1v1h-1zM47 56h1v1h-1zM43 57h1v1h-1zM47 57h1v1h-1zM42 58h1v1h-1zM43 58h1v1h-1zM41 61h1v1h-1zM41 64h1v1h-1zM37 65h1v1h-1zM40 65h1v1h-1zM34 68h1v1h-1zM0 70h1v1h-1zM34 70h1v1h-1zM35 70h1v1h-1zM1 71h1v1h-1zM34 71h1v1h-1zM32 73h1v1h-1zM36 73h1v1h-1zM30 75h1v1h-1zM32 75h1v1h-1zM36 75h1v1h-1zM19 76h1v1h-1zM38 76h1v1h-1zM7 77h1v1h-1zM20 77h1v1h-1zM22 77h1v1h-1zM23 77h1v1h-1zM26 77h1v1h-1zM32 77h1v1h-1zM35 77h1v1h-1zM36 77h1v1h-1zM37 77h1v1h-1zM38 77h1v1h-1zM13 78h1v1h-1zM21 78h1v1h-1zM23 78h1v1h-1zM24 78h1v1h-1zM26 78h1v1h-1zM27 78h1v1h-1zM28 78h1v1h-1zM30 78h1v1h-1zM32 78h1v1h-1zM33 78h1v1h-1z" fill="#a0a0dc" fill-opacity="0.5"/>
<path d="M49 3h1v1h-1zM52 3h1v1h-1zM54 3h1v1h-1zM45 4h1v1h-1zM47 4h1v1h-1zM62 4h1v1h-1zM63 5h1v1h-1zM64 5h1v1h-1zM42 6h1v1h-1zM67 6h1v1h-1zM69 6h1v1h-1zM70 6h1v1h-1zM71 6h1v1h-1zM39 8h1v1h-1zM70 8h1v1h-1zM37 9h1v1h-1zM38 9h1v1h-1zM71 9h1v1h-1zM72 9h1v1h-1zM73 10h1v1h-1zM35 12h1v1h-1zM73 12h1v1h-1zM35 13h1v1h-1zM75 14h1v1h-1zM33 15h1v1h-1zM75 17h1v1h-1zM28 19h1v1h-1zM75 19h1v1h-1zM28 20h1v1h-1zM75 20h1v1h-1zM27 21h1v1h-1zM28 21h1v1h-1zM73 21h1v1h-1zM27 22h1v1h-1zM72 22h1v1h-1zM26 23h1v1h-1zM73 25h1v1h-1zM25 27h1v1h-1zM72 27h1v1h-1zM22 28h1v1h-1zM23 28h1v1h-1zM70 28h1v1h-1zM71 28h1v1h-1zM72 28h1v1h-1zM19 30h1v1h-1zM20 30h1v1h-1zM70 30h1v1h-1zM19 31h1v1h-1zM69 32h1v1h-1zM70 32h1v1h-1zM69 33h1v1h-1zM18 34h1v1h-1zM69 34h1v1h-1zM17 36h1v1h-1zM63 36h1v1h-1zM64 36h1v1h-1zM65 36h1v1h-1zM14 37h1v1h-1zM16 37h1v1h-1zM63 37h1v1h-1zM14 38h1v1h-1zM62 39h1v1h-1zM61 40h1v1h-1zM11 41h1v1h-1zM58 41h1v1h-1zM59 41h1v1h-1zM11 42h1v1h-1zM57 42h1v1h-1zM58 42h1v1h-1zM60 42h1v1h-1zM10 43h1v1h-1zM56 43h1v1h-1zM59 43h1v1h-1zM55 44h1v1h-1zM10 45h1v1h-1zM11 45h1v1h-1zM53 45h1v1h-1zM7 46h1v1h-1zM9 46h1v1h-1zM52 46h1v1h-1zM54 46h1v1h-1zM9 47h1v1h-1zM7 48h1v1h-1zM8 48h1v1h-1zM50 48h1v1h-1zM51 48h1v1h-1zM52 48h1v1h-1zM49 50h1v1h-1zM8 51h1v1h-1zM49 51h1v1h-1zM6 52h1v1h-1zM47 52h1v1h-1zM6 53h1v1h-1zM45 53h1v1h-1zM47 53h1v1h-1zM5 55h1v1h-1zM44 56h1v1h-1zM2 58h1v1h-1zM1 60h1v1h-1zM39 60h1v1h-1zM40 60h1v1h-1zM38 61h1v1h-1zM38 62h1v1h-1zM39 62h1v1h-1zM35 63h1v1h-1zM38 63h1v1h-1zM35 64h1v1h-1zM33 65h1v1h-1zM0 66h1v1h-1zM34 66h1v1h-1zM32 67h1v1h-1zM33 68h1v1h-1zM2 69h1v1h-1zM32 69h1v1h-1zM31 70h1v1h-1zM33 70h1v1h-1zM33 71h1v1h-1zM3 72h1v1h-1zM29 72h1v1h-1zM30 72h1v1h-1zM3 73h1v1h-1zM29 73h1v1h-1zM6 76h1v1h-1zM13 76h1v1h-1zM25 76h1v1h-1zM27 76h1v1h-1zM28 76h1v1h-1zM10 77h1v1h-1zM24 77h1v1h-1zM25 77h1v1h-1z" fill="#96a0dc" fill-opacity="0.5"/>
<path d="M51 4h1v1h-1zM54 4h1v1h-1zM62 6h1v1h-1zM42 7h1v1h-1zM65 7h1v1h-1zM73 15h1v1h-1zM73 16h1v1h-1zM73 17h1v1h-1zM70 22h1v1h-1zM68 27h1v1h-1zM26 28h1v1h-1zM25 30h1v1h-1zM67 30h1v1h-1zM22 32h1v1h-1zM65 32h1v1h-1zM62 33h1v1h-1zM64 33h1v1h-1zM20 34h1v1h-1zM59 36h1v1h-1zM18 37h1v1h-1zM56 39h1v1h-1zM15 41h1v1h-1zM51 45h1v1h-1zM49 46h1v1h-1zM47 49h1v1h-1zM8 54h1v1h-1zM6 56h1v1h-1zM36 57h1v1h-1zM37 57h1v1h-1zM35 58h1v1h-1zM3 59h1v1h-1zM32 60h1v1h-1zM2 61h1v1h-1zM31 61h1v1h-1zM32 61h1v1h-1zM33 61h1v1h-1zM31 62h1v1h-1zM30 64h1v1h-1zM29 65h1v1h-1zM29 66h1v1h-1zM28 70h1v1h-1zM27 71h1v1h-1zM25 73h1v1h-1zM7 75h1v1h-1z" fill="#8c96dc" fill-opacity="0.6"/>
<path d="M57 4h1v1h-1zM45 5h1v1h-1zM60 5h1v1h-1zM61 5h1v1h-1zM62 5h1v1h-1zM43 6h1v1h-1zM65 6h1v1h-1zM41 7h1v1h-1zM67 7h1v1h-1zM70 9h1v1h-1zM74 16h1v1h-1zM73 18h1v1h-1zM73 19h1v1h-1zM30 20h1v1h-1zM72 20h1v1h-1zM29 21h1v1h-1zM27 23h1v1h-1zM71 23h1v1h-1zM70 24h1v1h-1zM26 25h1v1h-1zM70 25h1v1h-1zM70 26h1v1h-1zM70 27h1v1h-1zM24 29h1v1h-1zM69 30h1v1h-1zM68 32h1v1h-1zM65 33h1v1h-1zM66 33h1v1h-1zM67 33h1v1h-1zM65 34h1v1h-1zM18 35h1v1h-1zM61 35h1v1h-1zM63 35h1v1h-1zM18 36h1v1h-1zM60 36h1v1h-1zM59 37h1v1h-1zM58 39h1v1h-1zM15 40h1v1h-1zM56 41h1v1h-1zM13 42h1v1h-1zM13 43h1v1h-1zM55 43h1v1h-1zM53 44h1v1h-1zM12 45h1v1h-1zM12 46h1v1h-1zM10 47h1v1h-1zM10 49h1v1h-1zM9 50h1v1h-1zM8 52h1v1h-1zM46 52h1v1h-1zM7 54h1v1h-1zM42 55h1v1h-1zM41 56h1v1h-1zM4 57h1v1h-1zM39 57h1v1h-1zM37 60h1v1h-1zM35 61h1v1h-1zM36 61h1v1h-1zM1 62h1v1h-1zM34 62h1v1h-1zM35 62h1v1h-1zM1 63h1v1h-1zM31 64h1v1h-1zM1 65h1v1h-1zM1 66h1v1h-1zM30 66h1v1h-1zM2 68h1v1h-1zM30 68h1v1h-1zM31 68h1v1h-1zM29 70h1v1h-1zM29 71h1v1h-1zM4 73h1v1h-1zM27 73h1v1h-1zM24 74h1v1h-1zM25 74h1v1h-1zM16 75h1v1h-1zM11 76h1v1h-1z" fill="#9696dc" fill-opacity="0.5"/>
<path d="M50 5h1v1h-1zM53 5h1v1h-1zM55 5h1v1h-1zM60 7h1v1h-1zM43 8h1v1h-1zM41 9h1v1h-1zM65 9h1v1h-1zM40 10h1v1h-1zM67 10h1v1h-1zM70 13h1v1h-1zM70 14h1v1h-1zM70 18h1v1h-1zM69 19h1v1h-1zM30 23h1v1h-1zM29 24h1v1h-1zM67 24h1v1h-1zM29 25h1v1h-1zM28 26h1v1h-1zM66 26h1v1h-1zM66 27h1v1h-1zM65 28h1v1h-1zM28 29h1v1h-1zM62 30h1v1h-1zM62 31h1v1h-1zM26 32h1v1h-1zM59 32h1v1h-1zM58 33h1v1h-1zM57 34h1v1h-1zM57 35h1v1h-1zM21 36h1v1h-1zM21 37h1v1h-1zM53 39h1v1h-1zM18 40h1v1h-1zM19 40h1v1h-1zM53 40h1v1h-1zM18 41h1v1h-1zM50 42h1v1h-1zM49 43h1v1h-1zM47 44h1v1h-1zM47 45h1v1h-1zM15 46h1v1h-1zM46 46h1v1h-1zM14 48h1v1h-1zM15 48h1v1h-1zM46 48h1v1h-1zM14 49h1v1h-1zM13 50h1v1h-1zM14 50h1v1h-1zM44 50h1v1h-1zM12 51h1v1h-1zM13 51h1v1h-1zM12 52h1v1h-1zM41 53h1v1h-1zM10 54h1v1h-1zM11 54h1v1h-1zM37 54h1v1h-1zM38 54h1v1h-1zM39 54h1v1h-1zM10 55h1v1h-1zM34 55h1v1h-1zM35 55h1v1h-1zM7 57h1v1h-1zM28 58h1v1h-1zM4 59h1v1h-1zM28 59h1v1h-1zM3 61h1v1h-1zM27 61h1v1h-1zM27 63h1v1h-1zM26 66h1v1h-1zM25 67h1v1h-1zM25 68h1v1h-1zM25 69h1v1h-1zM23 71h1v1h-1zM24 71h1v1h-1zM21 72h1v1h-1zM22 72h1v1h-1zM23 72h1v1h-1zM18 73h1v1h-1zM7 74h1v1h-1zM8 74h1v1h-1zM13 74h1v1h-1zM14 74h1v1h-1zM15 74h1v1h-1z" fill="#8c8cd2" fill-opacity="0.6"/>
<path d="M56 5h1v1h-1zM46 6h1v1h-1zM44 7h1v1h-1zM40 9h1v1h-1zM67 9h1v1h-1zM68 10h1v1h-1zM69 10h1v1h-1zM70 12h1v1h-1zM71 14h1v1h-1zM72 15h1v1h-1zM34 16h1v1h-1zM72 16h1v1h-1zM33 18h1v1h-1zM71 18h1v1h-1zM70 19h1v1h-1zM71 19h1v1h-1zM31 21h1v1h-1zM69 21h1v1h-1zM69 22h1v1h-1zM28 24h1v1h-1zM68 25h1v1h-1zM67 26h1v1h-1zM66 28h1v1h-1zM66 29h1v1h-1zM26 30h1v1h-1zM65 30h1v1h-1zM66 30h1v1h-1zM25 31h1v1h-1zM65 31h1v1h-1zM24 32h1v1h-1zM61 32h1v1h-1zM62 32h1v1h-1zM21 33h1v1h-1zM22 33h1v1h-1zM21 34h1v1h-1zM20 35h1v1h-1zM59 35h1v1h-1zM58 36h1v1h-1zM19 37h1v1h-1zM57 37h1v1h-1zM18 38h1v1h-1zM55 38h1v1h-1zM56 38h1v1h-1zM16 41h1v1h-1zM15 42h1v1h-1zM16 42h1v1h-1zM51 43h1v1h-1zM52 43h1v1h-1zM14 44h1v1h-1zM15 44h1v1h-1zM50 44h1v1h-1zM48 45h1v1h-1zM48 46h1v1h-1zM47 47h1v1h-1zM48 47h1v1h-1zM12 49h1v1h-1zM46 49h1v1h-1zM11 50h1v1h-1zM45 50h1v1h-1zM46 50h1v1h-1zM11 52h1v1h-1zM43 52h1v1h-1zM40 54h1v1h-1zM39 55h1v1h-1zM7 56h1v1h-1zM31 56h1v1h-1zM34 56h1v1h-1zM37 56h1v1h-1zM5 57h1v1h-1zM4 58h1v1h-1zM29 58h1v1h-1zM29 59h1v1h-1zM3 60h1v1h-1zM30 60h1v1h-1zM28 61h1v1h-1zM29 61h1v1h-1zM2 62h1v1h-1zM28 62h1v1h-1zM29 62h1v1h-1zM29 63h1v1h-1zM2 64h1v1h-1zM2 65h1v1h-1zM28 65h1v1h-1zM3 67h1v1h-1zM3 68h1v1h-1zM26 68h1v1h-1zM27 68h1v1h-1zM26 69h1v1h-1zM4 71h1v1h-1zM25 71h1v1h-1zM24 72h1v1h-1zM20 73h1v1h-1zM21 73h1v1h-1zM22 73h1v1h-1zM6 74h1v1h-1zM16 74h1v1h-1zM9 75h1v1h-1zM10 75h1v1h-1zM12 75h1v1h-1zM13 75h1v1h-1z" fill="#8c96d2" fill-opacity="0.6"/>
<path d="M48 6h1v1h-1zM57 6h1v1h-1zM62 8h1v1h-1zM70 16h1v1h-1zM67 23h1v1h-1zM66 25h1v1h-1zM64 28h1v1h-1zM28 30h1v1h-1zM56 35h1v1h-1zM55 36h1v1h-1zM20 39h1v1h-1zM52 40h1v1h-1zM45 47h1v1h-1zM36 54h1v1h-1zM30 55h1v1h-1zM8 57h1v1h-1zM6 72h1v1h-1zM9 74h1v1h-1z" fill="#8c8cd2" fill-opacity="0.7"/>
<path d="M50 6h1v1h-1zM51 6h1v1h-1zM55 6h1v1h-1zM46 7h1v1h-1zM47 7h1v1h-1zM43 9h1v1h-1zM62 9h1v1h-1zM63 9h1v1h-1zM41 10h1v1h-1zM63 10h1v1h-1zM64 10h1v1h-1zM40 11h1v1h-1zM65 11h1v1h-1zM66 11h1v1h-1zM67 11h1v1h-1zM67 12h1v1h-1zM68 13h1v1h-1zM69 13h1v1h-1zM69 15h1v1h-1zM35 16h1v1h-1zM34 18h1v1h-1zM33 20h1v1h-1zM67 20h1v1h-1zM33 21h1v1h-1zM32 23h1v1h-1zM66 23h1v1h-1zM66 24h1v1h-1zM30 25h1v1h-1zM64 25h1v1h-1zM29 26h1v1h-1zM30 26h1v1h-1zM29 27h1v1h-1zM30 27h1v1h-1zM62 27h1v1h-1zM63 27h1v1h-1zM64 27h1v1h-1zM62 28h1v1h-1zM63 28h1v1h-1zM60 29h1v1h-1zM61 29h1v1h-1zM59 30h1v1h-1zM60 30h1v1h-1zM28 32h1v1h-1zM57 32h1v1h-1zM58 32h1v1h-1zM27 33h1v1h-1zM24 34h1v1h-1zM55 34h1v1h-1zM56 34h1v1h-1zM23 35h1v1h-1zM24 35h1v1h-1zM54 35h1v1h-1zM55 35h1v1h-1zM22 36h1v1h-1zM24 36h1v1h-1zM53 36h1v1h-1zM23 37h1v1h-1zM52 38h1v1h-1zM52 39h1v1h-1zM20 40h1v1h-1zM50 40h1v1h-1zM20 41h1v1h-1zM47 41h1v1h-1zM48 41h1v1h-1zM49 41h1v1h-1zM50 41h1v1h-1zM19 42h1v1h-1zM20 42h1v1h-1zM45 42h1v1h-1zM46 42h1v1h-1zM49 42h1v1h-1zM19 43h1v1h-1zM46 43h1v1h-1zM17 44h1v1h-1zM18 44h1v1h-1zM17 45h1v1h-1zM18 45h1v1h-1zM45 45h1v1h-1zM18 46h1v1h-1zM18 47h1v1h-1zM17 48h1v1h-1zM43 48h1v1h-1zM44 48h1v1h-1zM16 49h1v1h-1zM17 49h1v1h-1zM43 49h1v1h-1zM44 49h1v1h-1zM15 50h1v1h-1zM42 50h1v1h-1zM43 50h1v1h-1zM16 51h1v1h-1zM41 51h1v1h-1zM42 51h1v1h-1zM14 52h1v1h-1zM40 52h1v1h-1zM41 52h1v1h-1zM13 53h1v1h-1zM32 53h1v1h-1zM34 53h1v1h-1zM38 53h1v1h-1zM12 54h1v1h-1zM29 54h1v1h-1zM30 54h1v1h-1zM31 54h1v1h-1zM34 54h1v1h-1zM35 54h1v1h-1zM12 55h1v1h-1zM11 56h1v1h-1zM27 56h1v1h-1zM9 57h1v1h-1zM10 57h1v1h-1zM11 57h1v1h-1zM27 57h1v1h-1zM5 59h1v1h-1zM6 59h1v1h-1zM7 59h1v1h-1zM26 59h1v1h-1zM5 60h1v1h-1zM25 61h1v1h-1zM4 62h1v1h-1zM4 64h1v1h-1zM4 65h1v1h-1zM24 65h1v1h-1zM25 65h1v1h-1zM4 66h1v1h-1zM5 67h1v1h-1zM23 67h1v1h-1zM24 67h1v1h-1zM5 68h1v1h-1zM22 70h1v1h-1zM23 70h1v1h-1zM6 71h1v1h-1zM20 71h1v1h-1zM21 71h1v1h-1zM7 72h1v1h-1zM17 72h1v1h-1zM20 72h1v1h-1zM9 73h1v1h-1zM14 73h1v1h-1zM15 73h1v1h-1zM16 73h1v1h-1zM11 74h1v1h-1z" fill="#828cd2" fill-opacity="0.7"/>
<path d="M53 6h1v1h-1zM57 7h1v1h-1zM61 9h1v1h-1zM67 19h1v1h-1zM66 21h1v1h-1zM33 22h1v1h-1zM32 24h1v1h-1zM63 25h1v1h-1zM30 29h1v1h-1zM28 33h1v1h-1zM22 40h1v1h-1zM49 40h1v1h-1zM44 42h1v1h-1zM20 43h1v1h-1zM43 45h1v1h-1zM18 48h1v1h-1zM42 49h1v1h-1zM17 50h1v1h-1zM40 51h1v1h-1zM16 52h1v1h-1zM37 52h1v1h-1zM15 53h1v1h-1zM14 54h1v1h-1zM26 57h1v1h-1zM10 58h1v1h-1zM9 59h1v1h-1zM25 60h1v1h-1zM5 61h1v1h-1zM24 64h1v1h-1zM6 68h1v1h-1zM19 71h1v1h-1zM8 72h1v1h-1z" fill="#8282d2" fill-opacity="0.7"/>
<path d="M63 6h1v1h-1zM68 8h1v1h-1zM23 31h1v1h-1zM21 32h1v1h-1zM20 33h1v1h-1zM17 38h1v1h-1zM58 38h1v1h-1zM50 46h1v1h-1zM49 47h1v1h-1zM11 48h1v1h-1zM41 55h1v1h-1zM38 57h1v1h-1zM34 59h1v1h-1zM35 59h1v1h-1zM33 62h1v1h-1zM31 63h1v1h-1zM29 69h1v1h-1zM5 74h1v1h-1z" fill="#9696dc" fill-opacity="0.6"/>
<path d="M49 7h1v1h-1zM50 7h1v1h-1zM55 7h1v1h-1zM57 8h1v1h-1zM58 8h1v1h-1zM45 9h1v1h-1zM60 9h1v1h-1zM43 10h1v1h-1zM60 10h1v1h-1zM61 10h1v1h-1zM42 11h1v1h-1zM63 12h1v1h-1zM64 12h1v1h-1zM65 12h1v1h-1zM39 13h1v1h-1zM64 13h1v1h-1zM65 13h1v1h-1zM66 13h1v1h-1zM38 14h1v1h-1zM65 14h1v1h-1zM66 14h1v1h-1zM37 15h1v1h-1zM66 15h1v1h-1zM67 15h1v1h-1zM66 16h1v1h-1zM36 17h1v1h-1zM67 17h1v1h-1zM35 18h1v1h-1zM66 18h1v1h-1zM35 19h1v1h-1zM65 19h1v1h-1zM66 19h1v1h-1zM35 20h1v1h-1zM34 21h1v1h-1zM34 22h1v1h-1zM64 22h1v1h-1zM34 23h1v1h-1zM63 23h1v1h-1zM33 24h1v1h-1zM62 24h1v1h-1zM32 25h1v1h-1zM33 26h1v1h-1zM60 26h1v1h-1zM61 26h1v1h-1zM32 27h1v1h-1zM33 27h1v1h-1zM59 27h1v1h-1zM60 27h1v1h-1zM31 28h1v1h-1zM58 28h1v1h-1zM59 28h1v1h-1zM31 30h1v1h-1zM56 30h1v1h-1zM31 31h1v1h-1zM55 31h1v1h-1zM56 31h1v1h-1zM30 32h1v1h-1zM54 32h1v1h-1zM53 34h1v1h-1zM52 35h1v1h-1zM26 36h1v1h-1zM27 36h1v1h-1zM51 36h1v1h-1zM50 37h1v1h-1zM51 37h1v1h-1zM24 38h1v1h-1zM25 38h1v1h-1zM50 38h1v1h-1zM24 39h1v1h-1zM25 39h1v1h-1zM48 39h1v1h-1zM49 39h1v1h-1zM24 40h1v1h-1zM25 40h1v1h-1zM44 40h1v1h-1zM45 40h1v1h-1zM47 40h1v1h-1zM24 41h1v1h-1zM25 41h1v1h-1zM23 42h1v1h-1zM24 42h1v1h-1zM43 42h1v1h-1zM23 43h1v1h-1zM24 43h1v1h-1zM41 43h1v1h-1zM23 44h1v1h-1zM24 44h1v1h-1zM41 44h1v1h-1zM42 44h1v1h-1zM20 45h1v1h-1zM21 45h1v1h-1zM22 45h1v1h-1zM23 45h1v1h-1zM41 45h1v1h-1zM20 46h1v1h-1zM21 46h1v1h-1zM40 46h1v1h-1zM42 46h1v1h-1zM20 47h1v1h-1zM21 47h1v1h-1zM22 47h1v1h-1zM40 47h1v1h-1zM41 47h1v1h-1zM42 47h1v1h-1zM22 48h1v1h-1zM40 48h1v1h-1zM41 48h1v1h-1zM20 49h1v1h-1zM39 49h1v1h-1zM40 49h1v1h-1zM41 49h1v1h-1zM20 50h1v1h-1zM36 50h1v1h-1zM38 50h1v1h-1zM40 50h1v1h-1zM18 51h1v1h-1zM19 51h1v1h-1zM33 51h1v1h-1zM34 51h1v1h-1zM36 51h1v1h-1zM37 51h1v1h-1zM38 51h1v1h-1zM18 52h1v1h-1zM19 52h1v1h-1zM29 52h1v1h-1zM31 52h1v1h-1zM32 52h1v1h-1zM34 52h1v1h-1zM35 52h1v1h-1zM16 53h1v1h-1zM17 53h1v1h-1zM19 53h1v1h-1zM28 53h1v1h-1zM15 54h1v1h-1zM16 54h1v1h-1zM26 54h1v1h-1zM27 54h1v1h-1zM14 55h1v1h-1zM15 55h1v1h-1zM19 55h1v1h-1zM13 56h1v1h-1zM14 56h1v1h-1zM15 56h1v1h-1zM17 56h1v1h-1zM18 56h1v1h-1zM24 56h1v1h-1zM26 56h1v1h-1zM13 57h1v1h-1zM14 57h1v1h-1zM23 57h1v1h-1zM24 58h1v1h-1zM25 58h1v1h-1zM11 59h1v1h-1zM12 59h1v1h-1zM23 59h1v1h-1zM24 59h1v1h-1zM11 60h1v1h-1zM23 60h1v1h-1zM6 61h1v1h-1zM7 61h1v1h-1zM23 61h1v1h-1zM24 61h1v1h-1zM7 62h1v1h-1zM23 62h1v1h-1zM5 63h1v1h-1zM6 63h1v1h-1zM23 63h1v1h-1zM6 64h1v1h-1zM23 64h1v1h-1zM6 65h1v1h-1zM23 65h1v1h-1zM7 66h1v1h-1zM22 66h1v1h-1zM7 67h1v1h-1zM8 67h1v1h-1zM21 67h1v1h-1zM7 68h1v1h-1zM21 68h1v1h-1zM8 69h1v1h-1zM20 69h1v1h-1zM8 70h1v1h-1zM18 70h1v1h-1zM19 70h1v1h-1zM8 71h1v1h-1zM9 71h1v1h-1zM10 71h1v1h-1zM16 71h1v1h-1zM12 72h1v1h-1zM13 72h1v1h-1zM14 72h1v1h-1z" fill="#7882c8" fill-opacity="0.8"/>
<path d="M52 7h1v1h-1zM46 9h1v1h-1zM58 9h1v1h-1zM44 10h1v1h-1zM41 12h1v1h-1zM64 14h1v1h-1zM65 15h1v1h-1zM65 17h1v1h-1zM63 22h1v1h-1zM34 25h1v1h-1zM34 26h1v1h-1zM59 26h1v1h-1zM32 30h1v1h-1zM30 33h1v1h-1zM51 35h1v1h-1zM50 36h1v1h-1zM26 38h1v1h-1zM46 38h1v1h-1zM47 38h1v1h-1zM48 38h1v1h-1zM43 39h1v1h-1zM42 40h1v1h-1zM41 41h1v1h-1zM41 42h1v1h-1zM40 43h1v1h-1zM25 44h1v1h-1zM40 44h1v1h-1zM25 45h1v1h-1zM24 46h1v1h-1zM25 46h1v1h-1zM39 46h1v1h-1zM39 47h1v1h-1zM23 48h1v1h-1zM38 48h1v1h-1zM38 49h1v1h-1zM32 50h1v1h-1zM33 50h1v1h-1zM34 50h1v1h-1zM35 50h1v1h-1zM29 51h1v1h-1zM30 51h1v1h-1zM20 52h1v1h-1zM20 53h1v1h-1zM26 53h1v1h-1zM21 55h1v1h-1zM24 55h1v1h-1zM19 56h1v1h-1zM21 56h1v1h-1zM22 56h1v1h-1zM15 57h1v1h-1zM16 57h1v1h-1zM18 57h1v1h-1zM20 57h1v1h-1zM22 57h1v1h-1zM14 58h1v1h-1zM12 60h1v1h-1zM10 61h1v1h-1zM8 62h1v1h-1zM9 62h1v1h-1zM8 63h1v1h-1zM8 66h1v1h-1zM9 69h1v1h-1zM10 70h1v1h-1zM13 71h1v1h-1z" fill="#7878c8" fill-opacity="0.8"/>
<path d="M49 8h1v1h-1zM50 8h1v1h-1zM53 8h1v1h-1zM54 8h1v1h-1zM55 8h1v1h-1zM56 8h1v1h-1zM47 9h1v1h-1zM48 9h1v1h-1zM56 9h1v1h-1zM45 10h1v1h-1zM46 10h1v1h-1zM59 10h1v1h-1zM44 11h1v1h-1zM59 11h1v1h-1zM60 11h1v1h-1zM60 12h1v1h-1zM60 13h1v1h-1zM62 13h1v1h-1zM62 14h1v1h-1zM63 14h1v1h-1zM38 15h1v1h-1zM61 15h1v1h-1zM63 15h1v1h-1zM64 15h1v1h-1zM62 16h1v1h-1zM37 17h1v1h-1zM64 17h1v1h-1zM36 18h1v1h-1zM63 18h1v1h-1zM62 19h1v1h-1zM63 19h1v1h-1zM64 19h1v1h-1zM36 20h1v1h-1zM62 20h1v1h-1zM63 20h1v1h-1zM36 21h1v1h-1zM62 21h1v1h-1zM63 21h1v1h-1zM35 22h1v1h-1zM36 22h1v1h-1zM61 22h1v1h-1zM35 23h1v1h-1zM36 23h1v1h-1zM61 23h1v1h-1zM35 24h1v1h-1zM59 24h1v1h-1zM35 25h1v1h-1zM36 25h1v1h-1zM58 25h1v1h-1zM59 25h1v1h-1zM35 26h1v1h-1zM57 26h1v1h-1zM34 27h1v1h-1zM35 27h1v1h-1zM34 28h1v1h-1zM35 28h1v1h-1zM57 28h1v1h-1zM33 29h1v1h-1zM35 29h1v1h-1zM55 29h1v1h-1zM56 29h1v1h-1zM34 30h1v1h-1zM32 31h1v1h-1zM33 31h1v1h-1zM52 31h1v1h-1zM32 32h1v1h-1zM51 32h1v1h-1zM52 32h1v1h-1zM53 32h1v1h-1zM31 33h1v1h-1zM50 33h1v1h-1zM51 33h1v1h-1zM30 34h1v1h-1zM31 34h1v1h-1zM47 34h1v1h-1zM48 34h1v1h-1zM49 34h1v1h-1zM29 35h1v1h-1zM43 35h1v1h-1zM45 35h1v1h-1zM50 35h1v1h-1zM28 36h1v1h-1zM29 36h1v1h-1zM41 36h1v1h-1zM42 36h1v1h-1zM44 36h1v1h-1zM45 36h1v1h-1zM46 36h1v1h-1zM48 36h1v1h-1zM49 36h1v1h-1zM27 37h1v1h-1zM28 37h1v1h-1zM29 37h1v1h-1zM40 37h1v1h-1zM42 37h1v1h-1zM44 37h1v1h-1zM45 37h1v1h-1zM46 37h1v1h-1zM47 37h1v1h-1zM48 37h1v1h-1zM49 37h1v1h-1zM27 38h1v1h-1zM29 38h1v1h-1zM40 38h1v1h-1zM41 38h1v1h-1zM42 38h1v1h-1zM43 38h1v1h-1zM27 39h1v1h-1zM28 39h1v1h-1zM39 39h1v1h-1zM40 39h1v1h-1zM42 39h1v1h-1zM27 40h1v1h-1zM29 40h1v1h-1zM39 40h1v1h-1zM40 40h1v1h-1zM26 41h1v1h-1zM27 41h1v1h-1zM29 41h1v1h-1zM31 41h1v1h-1zM37 41h1v1h-1zM38 41h1v1h-1zM39 41h1v1h-1zM40 41h1v1h-1zM27 42h1v1h-1zM28 42h1v1h-1zM30 42h1v1h-1zM31 42h1v1h-1zM32 42h1v1h-1zM35 42h1v1h-1zM36 42h1v1h-1zM40 42h1v1h-1zM27 43h1v1h-1zM28 43h1v1h-1zM30 43h1v1h-1zM31 43h1v1h-1zM33 43h1v1h-1zM34 43h1v1h-1zM35 43h1v1h-1zM38 43h1v1h-1zM27 44h1v1h-1zM28 44h1v1h-1zM30 44h1v1h-1zM31 44h1v1h-1zM32 44h1v1h-1zM33 44h1v1h-1zM34 44h1v1h-1zM37 44h1v1h-1zM38 44h1v1h-1zM39 44h1v1h-1zM26 45h1v1h-1zM27 45h1v1h-1zM28 45h1v1h-1zM30 45h1v1h-1zM31 45h1v1h-1zM32 45h1v1h-1zM33 45h1v1h-1zM34 45h1v1h-1zM36 45h1v1h-1zM38 45h1v1h-1zM26 46h1v1h-1zM28 46h1v1h-1zM29 46h1v1h-1zM30 46h1v1h-1zM31 46h1v1h-1zM32 46h1v1h-1zM33 46h1v1h-1zM36 46h1v1h-1zM37 46h1v1h-1zM38 46h1v1h-1zM27 47h1v1h-1zM28 47h1v1h-1zM29 47h1v1h-1zM31 47h1v1h-1zM33 47h1v1h-1zM34 47h1v1h-1zM36 47h1v1h-1zM37 47h1v1h-1zM24 48h1v1h-1zM25 48h1v1h-1zM28 48h1v1h-1zM31 48h1v1h-1zM32 48h1v1h-1zM34 48h1v1h-1zM35 48h1v1h-1zM37 48h1v1h-1zM24 49h1v1h-1zM25 49h1v1h-1zM27 49h1v1h-1zM29 49h1v1h-1zM30 49h1v1h-1zM33 49h1v1h-1zM35 49h1v1h-1zM25 50h1v1h-1zM27 50h1v1h-1zM28 50h1v1h-1zM29 50h1v1h-1zM30 50h1v1h-1zM22 51h1v1h-1zM23 51h1v1h-1zM25 51h1v1h-1zM28 51h1v1h-1zM21 52h1v1h-1zM24 52h1v1h-1zM25 52h1v1h-1zM27 52h1v1h-1zM21 53h1v1h-1zM22 53h1v1h-1zM23 53h1v1h-1zM24 53h1v1h-1zM25 53h1v1h-1zM21 54h1v1h-1zM22 54h1v1h-1zM23 54h1v1h-1zM24 54h1v1h-1zM22 55h1v1h-1zM23 55h1v1h-1zM16 58h1v1h-1zM17 58h1v1h-1zM18 58h1v1h-1zM19 58h1v1h-1zM20 58h1v1h-1zM14 59h1v1h-1zM17 59h1v1h-1zM19 59h1v1h-1zM21 59h1v1h-1zM13 60h1v1h-1zM15 60h1v1h-1zM20 60h1v1h-1zM21 60h1v1h-1zM22 60h1v1h-1zM12 61h1v1h-1zM21 61h1v1h-1zM22 61h1v1h-1zM10 62h1v1h-1zM12 62h1v1h-1zM21 62h1v1h-1zM22 62h1v1h-1zM9 63h1v1h-1zM10 63h1v1h-1zM11 63h1v1h-1zM21 63h1v1h-1zM8 64h1v1h-1zM9 64h1v1h-1zM11 64h1v1h-1zM8 65h1v1h-1zM9 65h1v1h-1zM10 65h1v1h-1zM11 65h1v1h-1zM9 66h1v1h-1zM10 66h1v1h-1zM11 66h1v1h-1zM20 66h1v1h-1zM19 67h1v1h-1zM20 67h1v1h-1zM10 68h1v1h-1zM11 68h1v1h-1zM12 68h1v1h-1zM19 68h1v1h-1zM12 69h1v1h-1zM13 69h1v1h-1zM15 69h1v1h-1zM16 69h1v1h-1zM17 69h1v1h-1zM18 69h1v1h-1zM11 70h1v1h-1zM12 70h1v1h-1zM13 70h1v1h-1zM14 70h1v1h-1zM15 70h1v1h-1zM16 70h1v1h-1z" fill="#6e78c8" fill-opacity="0.9"/>
<path d="M50 9h1v1h-1zM52 9h1v1h-1zM53 9h1v1h-1zM54 9h1v1h-1zM48 10h1v1h-1zM49 10h1v1h-1zM55 10h1v1h-1zM56 10h1v1h-1zM47 11h1v1h-1zM57 11h1v1h-1zM42 13h1v1h-1zM58 13h1v1h-1zM59 14h1v1h-1zM60 16h1v1h-1zM38 17h1v1h-1zM60 17h1v1h-1zM60 18h1v1h-1zM37 19h1v1h-1zM60 19h1v1h-1zM60 20h1v1h-1zM59 21h1v1h-1zM37 22h1v1h-1zM37 23h1v1h-1zM57 23h1v1h-1zM38 24h1v1h-1zM38 26h1v1h-1zM55 26h1v1h-1zM54 27h1v1h-1zM37 28h1v1h-1zM38 28h1v1h-1zM53 28h1v1h-1zM54 28h1v1h-1zM51 29h1v1h-1zM52 29h1v1h-1zM53 29h1v1h-1zM36 30h1v1h-1zM37 30h1v1h-1zM47 30h1v1h-1zM48 30h1v1h-1zM51 30h1v1h-1zM36 31h1v1h-1zM45 31h1v1h-1zM46 31h1v1h-1zM47 31h1v1h-1zM48 31h1v1h-1zM43 32h1v1h-1zM45 32h1v1h-1zM34 33h1v1h-1zM36 33h1v1h-1zM41 33h1v1h-1zM42 33h1v1h-1zM44 33h1v1h-1zM33 34h1v1h-1zM34 34h1v1h-1zM37 34h1v1h-1zM38 34h1v1h-1zM39 34h1v1h-1zM32 35h1v1h-1zM33 35h1v1h-1zM34 35h1v1h-1zM37 35h1v1h-1zM38 35h1v1h-1zM32 36h1v1h-1zM33 36h1v1h-1zM34 36h1v1h-1zM36 36h1v1h-1zM38 36h1v1h-1zM31 37h1v1h-1zM33 37h1v1h-1zM34 37h1v1h-1zM36 37h1v1h-1zM31 38h1v1h-1zM32 38h1v1h-1zM33 38h1v1h-1zM34 38h1v1h-1zM35 38h1v1h-1zM37 38h1v1h-1zM33 39h1v1h-1zM36 39h1v1h-1zM16 61h1v1h-1zM17 61h1v1h-1zM18 61h1v1h-1zM19 61h1v1h-1zM14 62h1v1h-1zM15 62h1v1h-1zM16 62h1v1h-1zM18 62h1v1h-1zM19 62h1v1h-1zM14 63h1v1h-1zM19 63h1v1h-1zM13 64h1v1h-1zM14 64h1v1h-1zM19 64h1v1h-1zM13 65h1v1h-1zM14 65h1v1h-1zM19 65h1v1h-1zM14 66h1v1h-1zM15 66h1v1h-1zM16 66h1v1h-1zM17 66h1v1h-1zM18 66h1v1h-1zM14 67h1v1h-1zM15 67h1v1h-1z" fill="#646ebe"/>
<path d="M55 9h1v1h-1zM47 10h1v1h-1zM57 10h1v1h-1zM45 11h1v1h-1zM58 11h1v1h-1zM43 12h1v1h-1zM59 12h1v1h-1zM60 14h1v1h-1zM61 16h1v1h-1zM61 17h1v1h-1zM37 18h1v1h-1zM61 19h1v1h-1zM61 20h1v1h-1zM59 23h1v1h-1zM58 24h1v1h-1zM57 25h1v1h-1zM36 27h1v1h-1zM56 27h1v1h-1zM36 28h1v1h-1zM55 28h1v1h-1zM54 29h1v1h-1zM35 30h1v1h-1zM52 30h1v1h-1zM34 31h1v1h-1zM50 31h1v1h-1zM51 31h1v1h-1zM34 32h1v1h-1zM47 32h1v1h-1zM49 32h1v1h-1zM46 33h1v1h-1zM32 34h1v1h-1zM43 34h1v1h-1zM44 34h1v1h-1zM45 34h1v1h-1zM46 34h1v1h-1zM31 35h1v1h-1zM41 35h1v1h-1zM31 36h1v1h-1zM40 36h1v1h-1zM39 37h1v1h-1zM38 38h1v1h-1zM39 38h1v1h-1zM30 39h1v1h-1zM31 39h1v1h-1zM37 39h1v1h-1zM38 39h1v1h-1zM31 40h1v1h-1zM32 40h1v1h-1zM33 40h1v1h-1zM34 40h1v1h-1zM36 40h1v1h-1zM37 40h1v1h-1zM38 40h1v1h-1zM33 41h1v1h-1zM34 41h1v1h-1zM35 41h1v1h-1zM36 41h1v1h-1zM16 60h1v1h-1zM18 60h1v1h-1zM14 61h1v1h-1zM20 61h1v1h-1zM13 62h1v1h-1zM12 63h1v1h-1zM12 64h1v1h-1zM20 64h1v1h-1zM20 65h1v1h-1zM12 66h1v1h-1zM13 67h1v1h-1zM18 67h1v1h-1zM13 68h1v1h-1zM14 68h1v1h-1zM15 68h1v1h-1zM16 68h1v1h-1z" fill="#6478c8"/>
<path d="M50 10h1v1h-1zM51 10h1v1h-1zM52 10h1v1h-1zM53 10h1v1h-1zM54 10h1v1h-1zM55 11h1v1h-1zM56 11h1v1h-1zM56 12h1v1h-1zM57 12h1v1h-1zM43 13h1v1h-1zM57 13h1v1h-1zM41 14h1v1h-1zM40 15h1v1h-1zM58 15h1v1h-1zM59 17h1v1h-1zM38 19h1v1h-1zM59 19h1v1h-1zM59 20h1v1h-1zM58 21h1v1h-1zM57 22h1v1h-1zM38 23h1v1h-1zM56 23h1v1h-1zM39 24h1v1h-1zM39 25h1v1h-1zM40 25h1v1h-1zM39 26h1v1h-1zM40 26h1v1h-1zM54 26h1v1h-1zM40 27h1v1h-1zM53 27h1v1h-1zM39 28h1v1h-1zM40 28h1v1h-1zM38 29h1v1h-1zM39 29h1v1h-1zM43 29h1v1h-1zM44 29h1v1h-1zM45 29h1v1h-1zM46 29h1v1h-1zM47 29h1v1h-1zM48 29h1v1h-1zM50 29h1v1h-1zM38 30h1v1h-1zM39 30h1v1h-1zM42 30h1v1h-1zM43 30h1v1h-1zM44 30h1v1h-1zM45 30h1v1h-1zM46 30h1v1h-1zM37 31h1v1h-1zM38 31h1v1h-1zM40 31h1v1h-1zM41 31h1v1h-1zM42 31h1v1h-1zM43 31h1v1h-1zM44 31h1v1h-1zM37 32h1v1h-1zM38 32h1v1h-1zM39 32h1v1h-1zM40 32h1v1h-1zM41 32h1v1h-1zM42 32h1v1h-1zM38 33h1v1h-1zM36 34h1v1h-1zM35 35h1v1h-1zM35 36h1v1h-1zM15 63h1v1h-1zM16 63h1v1h-1zM17 63h1v1h-1zM18 63h1v1h-1zM15 64h1v1h-1zM16 64h1v1h-1zM18 64h1v1h-1zM15 65h1v1h-1zM16 65h1v1h-1zM17 65h1v1h-1z" fill="#5a6ebe"/>
<path d="M62 10h1v1h-1zM67 18h1v1h-1zM62 26h1v1h-1zM60 28h1v1h-1zM54 34h1v1h-1zM24 37h1v1h-1zM23 39h1v1h-1zM22 41h1v1h-1zM21 42h1v1h-1zM19 46h1v1h-1zM41 50h1v1h-1zM17 51h1v1h-1zM27 55h1v1h-1zM25 59h1v1h-1zM5 62h1v1h-1zM24 63h1v1h-1zM5 65h1v1h-1zM23 66h1v1h-1zM22 68h1v1h-1zM7 70h1v1h-1z" fill="#7882d2" fill-opacity="0.7"/>
<path d="M49 11h1v1h-1zM47 12h1v1h-1zM44 13h1v1h-1zM42 14h1v1h-1zM39 17h1v1h-1zM58 20h1v1h-1zM57 21h1v1h-1zM39 23h1v1h-1zM54 25h1v1h-1zM41 26h1v1h-1zM53 26h1v1h-1zM42 27h1v1h-1zM43 27h1v1h-1zM52 27h1v1h-1zM41 28h1v1h-1zM42 28h1v1h-1zM43 28h1v1h-1zM44 28h1v1h-1zM45 28h1v1h-1zM50 28h1v1h-1zM40 29h1v1h-1zM41 29h1v1h-1zM40 30h1v1h-1zM41 30h1v1h-1z" fill="#5a64be"/>
<path d="M51 11h1v1h-1zM52 11h1v1h-1zM53 11h1v1h-1zM48 12h1v1h-1zM49 12h1v1h-1zM55 12h1v1h-1zM47 13h1v1h-1zM55 13h1v1h-1zM56 13h1v1h-1zM43 14h1v1h-1zM56 14h1v1h-1zM41 15h1v1h-1zM57 15h1v1h-1zM40 16h1v1h-1zM57 16h1v1h-1zM57 17h1v1h-1zM39 18h1v1h-1zM57 18h1v1h-1zM39 19h1v1h-1zM57 19h1v1h-1zM39 21h1v1h-1zM56 21h1v1h-1zM40 22h1v1h-1zM55 22h1v1h-1zM40 23h1v1h-1zM54 23h1v1h-1zM55 23h1v1h-1zM42 25h1v1h-1zM43 25h1v1h-1zM53 25h1v1h-1zM43 26h1v1h-1zM44 26h1v1h-1zM45 26h1v1h-1zM45 27h1v1h-1zM46 27h1v1h-1zM48 27h1v1h-1zM49 27h1v1h-1zM50 27h1v1h-1zM51 27h1v1h-1z" fill="#5064b4"/>
<path d="M54 11h1v1h-1zM45 13h1v1h-1zM57 14h1v1h-1zM58 18h1v1h-1zM58 19h1v1h-1zM39 22h1v1h-1zM56 22h1v1h-1zM40 24h1v1h-1zM41 25h1v1h-1zM48 28h1v1h-1zM49 28h1v1h-1z" fill="#5064be"/>
<path d="M50 12h1v1h-1zM53 12h1v1h-1zM44 14h1v1h-1zM56 15h1v1h-1zM56 20h1v1h-1zM55 21h1v1h-1zM41 23h1v1h-1zM53 24h1v1h-1zM52 25h1v1h-1zM51 26h1v1h-1z" fill="#506eb4"/>
<path d="M51 12h1v1h-1zM52 12h1v1h-1zM48 13h1v1h-1zM55 14h1v1h-1zM41 16h1v1h-1zM56 16h1v1h-1zM56 19h1v1h-1zM40 21h1v1h-1zM54 22h1v1h-1zM46 26h1v1h-1zM50 26h1v1h-1z" fill="#506ebe"/>
<path d="M49 13h1v1h-1zM52 13h1v1h-1zM53 13h1v1h-1zM46 14h1v1h-1zM47 14h1v1h-1zM54 14h1v1h-1zM43 15h1v1h-1zM55 15h1v1h-1zM55 16h1v1h-1zM56 17h1v1h-1zM40 18h1v1h-1zM56 18h1v1h-1zM40 19h1v1h-1zM55 19h1v1h-1zM55 20h1v1h-1zM54 21h1v1h-1zM41 22h1v1h-1zM53 22h1v1h-1zM42 23h1v1h-1zM53 23h1v1h-1zM52 24h1v1h-1zM45 25h1v1h-1zM46 25h1v1h-1zM47 26h1v1h-1zM48 26h1v1h-1zM49 26h1v1h-1z" fill="#5078be"/>
<path d="M51 13h1v1h-1zM41 17h1v1h-1zM55 17h1v1h-1zM55 18h1v1h-1zM41 21h1v1h-1zM43 23h1v1h-1zM50 25h1v1h-1z" fill="#5082be"/>
<path d="M59 13h1v1h-1zM60 15h1v1h-1zM37 25h1v1h-1zM56 26h1v1h-1zM35 31h1v1h-1zM45 33h1v1h-1zM15 61h1v1h-1zM13 63h1v1h-1zM20 63h1v1h-1z" fill="#6478be"/>
<path d="M48 14h1v1h-1zM49 14h1v1h-1zM44 15h1v1h-1zM54 15h1v1h-1zM42 16h1v1h-1zM54 19h1v1h-1zM53 21h1v1h-1zM42 22h1v1h-1zM52 23h1v1h-1zM45 24h1v1h-1zM51 24h1v1h-1zM48 25h1v1h-1zM49 25h1v1h-1z" fill="#4682be"/>
<path d="M50 14h1v1h-1zM51 14h1v1h-1zM52 14h1v1h-1zM45 15h1v1h-1zM46 15h1v1h-1zM47 15h1v1h-1zM53 15h1v1h-1zM43 16h1v1h-1zM53 16h1v1h-1zM54 16h1v1h-1zM54 17h1v1h-1zM41 18h1v1h-1zM41 19h1v1h-1zM53 19h1v1h-1zM41 20h1v1h-1zM53 20h1v1h-1zM42 21h1v1h-1zM43 22h1v1h-1zM52 22h1v1h-1zM44 23h1v1h-1zM51 23h1v1h-1zM50 24h1v1h-1z" fill="#468cbe"/>
<path d="M49 15h1v1h-1zM50 15h1v1h-1zM51 15h1v1h-1zM52 15h1v1h-1zM52 16h1v1h-1zM42 17h1v1h-1zM53 17h1v1h-1zM53 18h1v1h-1zM52 21h1v1h-1zM51 22h1v1h-1zM45 23h1v1h-1zM50 23h1v1h-1zM47 24h1v1h-1zM48 24h1v1h-1zM49 24h1v1h-1z" fill="#4696be"/>
<path d="M38 16h1v1h-1z" fill="#6478c8" fill-opacity="0.9"/>
<path d="M44 16h1v1h-1zM51 16h1v1h-1zM52 17h1v1h-1zM42 18h1v1h-1zM52 18h1v1h-1zM52 19h1v1h-1zM42 20h1v1h-1zM51 21h1v1h-1zM44 22h1v1h-1z" fill="#46a0c8"/>
<path d="M45 16h1v1h-1zM46 16h1v1h-1zM47 16h1v1h-1zM48 16h1v1h-1zM49 16h1v1h-1zM50 16h1v1h-1zM43 17h1v1h-1zM51 17h1v1h-1zM51 18h1v1h-1zM42 19h1v1h-1zM51 19h1v1h-1zM51 20h1v1h-1zM43 21h1v1h-1zM50 22h1v1h-1zM46 23h1v1h-1zM49 23h1v1h-1z" fill="#46a0be"/>
<path d="M44 17h1v1h-1zM44 21h1v1h-1z" fill="#50a0aa"/>
<path d="M45 17h1v1h-1zM48 17h1v1h-1zM49 17h1v1h-1zM43 18h1v1h-1zM50 18h1v1h-1zM43 19h1v1h-1zM50 19h1v1h-1zM50 20h1v1h-1zM46 22h1v1h-1zM49 22h1v1h-1z" fill="#50aaaa"/>
<path d="M46 17h1v1h-1zM47 17h1v1h-1zM44 18h1v1h-1zM49 18h1v1h-1zM49 19h1v1h-1zM45 21h1v1h-1zM49 21h1v1h-1zM47 22h1v1h-1zM48 22h1v1h-1z" fill="#50aaa0"/>
<path d="M50 17h1v1h-1zM45 22h1v1h-1zM47 23h1v1h-1zM48 23h1v1h-1z" fill="#46a0b4"/>
<path d="M45 18h1v1h-1zM47 18h1v1h-1zM48 18h1v1h-1zM44 19h1v1h-1zM49 20h1v1h-1zM46 21h1v1h-1zM48 21h1v1h-1z" fill="#50aa96"/>
<path d="M46 18h1v1h-1zM45 20h1v1h-1zM47 21h1v1h-1z" fill="#50aa8c"/>
<path d="M45 19h1v1h-1zM47 19h1v1h-1zM46 20h1v1h-1zM47 20h1v1h-1zM48 20h1v1h-1z" fill="#5ab48c"/>
<path d="M46 19h1v1h-1z" fill="#5ab482"/>
<path d="M43 20h1v1h-1zM50 21h1v1h-1z" fill="#50a0b4"/>
<path d="M66 20h1v1h-1zM65 22h1v1h-1zM25 36h1v1h-1zM50 39h1v1h-1zM20 44h1v1h-1zM19 48h1v1h-1zM18 50h1v1h-1zM12 57h1v1h-1zM11 58h1v1h-1zM7 69h1v1h-1zM21 69h1v1h-1zM9 72h1v1h-1zM15 72h1v1h-1z" fill="#7882d2" fill-opacity="0.8"/>
<path d="M23 49h1v1h-1z" fill="#6e78c8" fill-opacity="0.8"/>
</g>
<line x1="370.5" y1="278.6" x2="370.5" y2="318.3" stroke="#e2aade" stroke-width="0.75"/>
<line x1="355.4" y1="306.5" x2="395.2" y2="306.5" stroke="#e2aade" stroke-width="0.75"/>
<rect x="355.4" y="278.6" width="39.8" height="39.7" fill="none" stroke="#a8a8a8" stroke-width="0.6"/>
<text x="356.2" y="281.9" font-size="2.7" fill="#444">6.1</text>
<text x="394.4" y="281.9" font-size="2.7" text-anchor="end" fill="#444">59.9</text>
<text x="356.2" y="317.4" font-size="2.7" fill="#444">15.5</text>
<text x="394.4" y="317.4" font-size="2.7" text-anchor="end" fill="#444">18.6</text>
<text x="351.4" y="285.5" font-size="6.2" text-anchor="end">10<tspan dy="-2.6" font-size="4.46">5</tspan></text>
<text x="351.4" y="293.3" font-size="6.2" text-anchor="end">10<tspan dy="-2.6" font-size="4.46">4</tspan></text>
<text x="351.4" y="303.2" font-size="6.2" text-anchor="end">10<tspan dy="-2.6" font-size="4.46">3</tspan></text>
<text x="351.4" y="311.8" font-size="6.2" text-anchor="end">10<tspan dy="-2.6" font-size="4.46">2</tspan></text>
<text x="351.4" y="316.5" font-size="6.2" text-anchor="end">0</text>
<text x="356.5" y="328.5" font-size="6.2" textLength="39" lengthAdjust="spacingAndGlyphs">010<tspan dy="-2.6" font-size="4.46">2</tspan><tspan dy="2.6">10</tspan><tspan dy="-2.6" font-size="4.46">3</tspan><tspan dy="2.6">10</tspan><tspan dy="-2.6" font-size="4.46">4</tspan><tspan dy="2.6">10</tspan><tspan dy="-2.6" font-size="4.46">5</tspan></text>
<rect x="434.1" y="278.6" width="39.7" height="39.7" fill="#fff"/>
<g transform="translate(434.1 278.6) scale(0.5)">
<path d="M41 0h1v1h-1zM42 0h1v1h-1zM47 0h1v1h-1zM60 0h1v1h-1zM38 1h1v1h-1zM39 1h1v1h-1zM76 3h1v1h-1zM75 5h1v1h-1zM32 6h1v1h-1zM76 6h1v1h-1zM33 7h1v1h-1zM78 8h1v1h-1zM23 9h1v1h-1zM6 10h1v1h-1zM29 10h1v1h-1zM19 11h1v1h-1zM25 11h1v1h-1zM27 11h1v1h-1zM29 11h1v1h-1zM5 12h1v1h-1zM20 12h1v1h-1zM23 12h1v1h-1zM25 12h1v1h-1zM7 13h1v1h-1zM20 13h1v1h-1zM21 13h1v1h-1zM6 14h1v1h-1zM5 15h1v1h-1zM78 15h1v1h-1zM20 18h1v1h-1zM17 19h1v1h-1zM22 19h1v1h-1zM75 19h1v1h-1zM15 20h1v1h-1zM21 21h1v1h-1zM7 22h1v1h-1zM14 22h1v1h-1zM21 22h1v1h-1zM78 22h1v1h-1zM19 24h1v1h-1zM77 24h1v1h-1zM16 26h1v1h-1zM13 27h1v1h-1zM78 27h1v1h-1zM12 30h1v1h-1zM78 33h1v1h-1zM7 34h1v1h-1zM77 34h1v1h-1zM10 35h1v1h-1zM14 35h1v1h-1zM11 36h1v1h-1zM15 37h1v1h-1zM4 41h1v1h-1zM5 42h1v1h-1zM7 42h1v1h-1zM10 42h1v1h-1zM13 42h1v1h-1zM6 43h1v1h-1zM9 44h1v1h-1zM12 45h1v1h-1zM7 46h1v1h-1zM77 46h1v1h-1zM10 48h1v1h-1zM77 48h1v1h-1zM2 51h1v1h-1zM5 51h1v1h-1zM9 52h1v1h-1zM8 53h1v1h-1zM78 53h1v1h-1zM2 54h1v1h-1zM78 54h1v1h-1zM3 55h1v1h-1zM1 56h1v1h-1zM9 57h1v1h-1zM2 58h1v1h-1zM77 58h1v1h-1zM76 59h1v1h-1zM8 60h1v1h-1zM76 60h1v1h-1zM78 63h1v1h-1zM6 64h1v1h-1zM74 64h1v1h-1zM74 65h1v1h-1zM6 67h1v1h-1zM74 67h1v1h-1zM70 68h1v1h-1zM5 69h1v1h-1zM10 69h1v1h-1zM69 70h1v1h-1zM10 71h1v1h-1zM64 71h1v1h-1zM66 71h1v1h-1zM72 72h1v1h-1zM5 73h1v1h-1zM7 73h1v1h-1zM70 73h1v1h-1zM6 74h1v1h-1zM10 75h1v1h-1zM14 75h1v1h-1zM70 75h1v1h-1zM64 76h1v1h-1zM11 77h1v1h-1zM10 78h1v1h-1z" fill="#a0aadc" fill-opacity="0.5"/>
<path d="M73 0h1v1h-1zM3 2h1v1h-1zM16 2h1v1h-1zM32 2h1v1h-1zM7 4h1v1h-1zM8 5h1v1h-1zM9 6h1v1h-1zM16 6h1v1h-1zM12 10h1v1h-1zM9 18h1v1h-1zM9 22h1v1h-1zM4 24h1v1h-1zM5 25h1v1h-1zM7 28h1v1h-1zM2 33h1v1h-1zM6 33h1v1h-1zM2 40h1v1h-1zM1 61h1v1h-1zM76 73h1v1h-1zM2 74h1v1h-1zM73 78h1v1h-1z" fill="#aaaadc" fill-opacity="0.5"/>
<path d="M57 1h1v1h-1zM58 1h1v1h-1zM41 2h1v1h-1zM44 2h1v1h-1zM47 2h1v1h-1zM49 2h1v1h-1zM51 2h1v1h-1zM52 2h1v1h-1zM64 2h1v1h-1zM65 2h1v1h-1zM66 2h1v1h-1zM70 3h1v1h-1zM70 4h1v1h-1zM71 5h1v1h-1zM71 6h1v1h-1zM37 7h1v1h-1zM76 8h1v1h-1zM74 9h1v1h-1zM75 9h1v1h-1zM76 9h1v1h-1zM33 10h1v1h-1zM74 12h1v1h-1zM30 13h1v1h-1zM74 13h1v1h-1zM75 13h1v1h-1zM74 14h1v1h-1zM74 15h1v1h-1zM76 16h1v1h-1zM73 17h1v1h-1zM27 20h1v1h-1zM28 20h1v1h-1zM72 20h1v1h-1zM23 21h1v1h-1zM23 23h1v1h-1zM24 23h1v1h-1zM76 25h1v1h-1zM18 26h1v1h-1zM72 26h1v1h-1zM76 26h1v1h-1zM19 27h1v1h-1zM22 27h1v1h-1zM77 27h1v1h-1zM20 28h1v1h-1zM21 28h1v1h-1zM73 28h1v1h-1zM76 28h1v1h-1zM16 29h1v1h-1zM14 30h1v1h-1zM15 30h1v1h-1zM16 30h1v1h-1zM20 30h1v1h-1zM17 31h1v1h-1zM18 31h1v1h-1zM19 31h1v1h-1zM75 31h1v1h-1zM76 31h1v1h-1zM14 32h1v1h-1zM18 32h1v1h-1zM21 32h1v1h-1zM20 33h1v1h-1zM20 34h1v1h-1zM75 34h1v1h-1zM17 35h1v1h-1zM73 35h1v1h-1zM75 35h1v1h-1zM21 37h1v1h-1zM73 37h1v1h-1zM19 38h1v1h-1zM75 39h1v1h-1zM17 41h1v1h-1zM76 42h1v1h-1zM14 43h1v1h-1zM15 43h1v1h-1zM76 43h1v1h-1zM75 44h1v1h-1zM74 45h1v1h-1zM13 48h1v1h-1zM73 48h1v1h-1zM74 49h1v1h-1zM10 51h1v1h-1zM12 51h1v1h-1zM74 51h1v1h-1zM72 52h1v1h-1zM73 53h1v1h-1zM73 54h1v1h-1zM11 55h1v1h-1zM71 55h1v1h-1zM72 55h1v1h-1zM12 57h1v1h-1zM11 59h1v1h-1zM12 59h1v1h-1zM65 59h1v1h-1zM75 59h1v1h-1zM11 60h1v1h-1zM65 60h1v1h-1zM70 60h1v1h-1zM62 61h1v1h-1zM66 61h1v1h-1zM71 61h1v1h-1zM75 61h1v1h-1zM67 62h1v1h-1zM72 62h1v1h-1zM73 62h1v1h-1zM14 63h1v1h-1zM62 63h1v1h-1zM63 63h1v1h-1zM66 63h1v1h-1zM14 64h1v1h-1zM66 64h1v1h-1zM70 64h1v1h-1zM14 65h1v1h-1zM64 65h1v1h-1zM66 65h1v1h-1zM13 66h1v1h-1zM61 66h1v1h-1zM66 66h1v1h-1zM63 67h1v1h-1zM15 68h1v1h-1zM16 68h1v1h-1zM58 68h1v1h-1zM63 68h1v1h-1zM65 68h1v1h-1zM13 69h1v1h-1zM15 69h1v1h-1zM11 70h1v1h-1zM58 70h1v1h-1zM59 70h1v1h-1zM60 70h1v1h-1zM14 71h1v1h-1zM56 71h1v1h-1zM63 71h1v1h-1zM12 72h1v1h-1zM15 72h1v1h-1zM17 72h1v1h-1zM56 72h1v1h-1zM57 72h1v1h-1zM54 74h1v1h-1zM55 74h1v1h-1zM56 74h1v1h-1zM18 75h1v1h-1zM32 75h1v1h-1zM51 75h1v1h-1zM58 75h1v1h-1zM33 76h1v1h-1zM34 76h1v1h-1zM51 76h1v1h-1zM54 76h1v1h-1zM55 76h1v1h-1zM61 76h1v1h-1zM62 76h1v1h-1zM17 77h1v1h-1zM22 77h1v1h-1zM26 77h1v1h-1zM29 77h1v1h-1zM31 77h1v1h-1zM43 77h1v1h-1zM46 77h1v1h-1zM47 77h1v1h-1zM49 77h1v1h-1zM56 77h1v1h-1zM60 77h1v1h-1zM61 77h1v1h-1zM63 77h1v1h-1zM19 78h1v1h-1zM25 78h1v1h-1zM30 78h1v1h-1zM32 78h1v1h-1zM34 78h1v1h-1zM36 78h1v1h-1zM39 78h1v1h-1zM40 78h1v1h-1zM46 78h1v1h-1zM53 78h1v1h-1zM55 78h1v1h-1z" fill="#a0a0dc" fill-opacity="0.5"/>
<path d="M55 2h1v1h-1zM48 3h1v1h-1zM40 4h1v1h-1zM44 4h1v1h-1zM66 4h1v1h-1zM40 5h1v1h-1zM41 5h1v1h-1zM43 5h1v1h-1zM45 5h1v1h-1zM39 6h1v1h-1zM68 6h1v1h-1zM70 6h1v1h-1zM70 7h1v1h-1zM37 8h1v1h-1zM38 8h1v1h-1zM72 8h1v1h-1zM38 9h1v1h-1zM71 9h1v1h-1zM70 10h1v1h-1zM72 10h1v1h-1zM35 12h1v1h-1zM72 12h1v1h-1zM73 12h1v1h-1zM35 13h1v1h-1zM71 13h1v1h-1zM33 14h1v1h-1zM31 17h1v1h-1zM32 17h1v1h-1zM70 17h1v1h-1zM71 17h1v1h-1zM71 19h1v1h-1zM29 21h1v1h-1zM30 21h1v1h-1zM71 21h1v1h-1zM29 22h1v1h-1zM70 22h1v1h-1zM28 23h1v1h-1zM29 23h1v1h-1zM70 23h1v1h-1zM26 24h1v1h-1zM70 24h1v1h-1zM26 25h1v1h-1zM25 26h1v1h-1zM24 27h1v1h-1zM25 27h1v1h-1zM26 27h1v1h-1zM24 28h1v1h-1zM26 28h1v1h-1zM25 31h1v1h-1zM71 31h1v1h-1zM24 32h1v1h-1zM25 32h1v1h-1zM23 34h1v1h-1zM25 34h1v1h-1zM71 34h1v1h-1zM72 34h1v1h-1zM72 35h1v1h-1zM24 36h1v1h-1zM71 36h1v1h-1zM72 37h1v1h-1zM22 38h1v1h-1zM24 38h1v1h-1zM72 38h1v1h-1zM21 39h1v1h-1zM71 39h1v1h-1zM20 40h1v1h-1zM18 41h1v1h-1zM19 41h1v1h-1zM72 41h1v1h-1zM17 42h1v1h-1zM18 42h1v1h-1zM17 43h1v1h-1zM72 43h1v1h-1zM73 44h1v1h-1zM17 45h1v1h-1zM73 45h1v1h-1zM73 46h1v1h-1zM72 48h1v1h-1zM15 49h1v1h-1zM17 49h1v1h-1zM70 49h1v1h-1zM13 51h1v1h-1zM14 51h1v1h-1zM15 51h1v1h-1zM69 52h1v1h-1zM14 53h1v1h-1zM71 53h1v1h-1zM12 54h1v1h-1zM13 54h1v1h-1zM67 54h1v1h-1zM71 54h1v1h-1zM14 55h1v1h-1zM64 55h1v1h-1zM69 55h1v1h-1zM63 56h1v1h-1zM64 56h1v1h-1zM14 57h1v1h-1zM64 57h1v1h-1zM65 57h1v1h-1zM70 57h1v1h-1zM13 58h1v1h-1zM69 58h1v1h-1zM70 58h1v1h-1zM59 59h1v1h-1zM61 59h1v1h-1zM68 59h1v1h-1zM69 59h1v1h-1zM70 59h1v1h-1zM15 60h1v1h-1zM14 61h1v1h-1zM58 61h1v1h-1zM59 61h1v1h-1zM68 61h1v1h-1zM16 62h1v1h-1zM58 62h1v1h-1zM60 63h1v1h-1zM58 64h1v1h-1zM59 64h1v1h-1zM56 65h1v1h-1zM18 66h1v1h-1zM57 66h1v1h-1zM19 67h1v1h-1zM54 68h1v1h-1zM20 69h1v1h-1zM53 69h1v1h-1zM57 69h1v1h-1zM18 72h1v1h-1zM50 72h1v1h-1zM18 73h1v1h-1zM49 73h1v1h-1zM18 74h1v1h-1zM19 74h1v1h-1zM20 74h1v1h-1zM21 74h1v1h-1zM27 74h1v1h-1zM28 74h1v1h-1zM32 74h1v1h-1zM48 74h1v1h-1zM50 74h1v1h-1zM19 75h1v1h-1zM24 75h1v1h-1zM25 75h1v1h-1zM30 75h1v1h-1zM42 75h1v1h-1zM45 75h1v1h-1zM48 75h1v1h-1zM22 76h1v1h-1zM36 76h1v1h-1zM46 76h1v1h-1zM23 77h1v1h-1zM38 77h1v1h-1zM39 77h1v1h-1zM41 77h1v1h-1zM42 77h1v1h-1z" fill="#96a0dc" fill-opacity="0.5"/>
<path d="M58 3h1v1h-1zM49 4h1v1h-1zM64 4h1v1h-1zM66 5h1v1h-1zM40 6h1v1h-1zM41 6h1v1h-1zM67 6h1v1h-1zM34 15h1v1h-1zM32 18h1v1h-1zM69 18h1v1h-1zM69 22h1v1h-1zM28 25h1v1h-1zM29 25h1v1h-1zM27 26h1v1h-1zM70 26h1v1h-1zM27 29h1v1h-1zM70 31h1v1h-1zM25 37h1v1h-1zM69 38h1v1h-1zM70 38h1v1h-1zM70 40h1v1h-1zM19 43h1v1h-1zM20 43h1v1h-1zM21 43h1v1h-1zM71 46h1v1h-1zM70 47h1v1h-1zM17 51h1v1h-1zM68 51h1v1h-1zM15 52h1v1h-1zM16 52h1v1h-1zM68 52h1v1h-1zM16 53h1v1h-1zM17 53h1v1h-1zM67 53h1v1h-1zM15 54h1v1h-1zM64 54h1v1h-1zM15 58h1v1h-1zM58 60h1v1h-1zM17 61h1v1h-1zM17 62h1v1h-1zM56 62h1v1h-1zM19 65h1v1h-1zM54 67h1v1h-1zM22 69h1v1h-1zM52 69h1v1h-1zM21 70h1v1h-1zM34 70h1v1h-1zM50 70h1v1h-1zM30 71h1v1h-1zM31 71h1v1h-1zM32 71h1v1h-1zM34 71h1v1h-1zM49 71h1v1h-1zM23 72h1v1h-1zM37 72h1v1h-1zM22 73h1v1h-1zM27 73h1v1h-1zM37 73h1v1h-1zM46 73h1v1h-1zM25 74h1v1h-1zM38 74h1v1h-1zM42 74h1v1h-1zM39 75h1v1h-1zM40 75h1v1h-1z" fill="#9696dc" fill-opacity="0.5"/>
<path d="M53 4h1v1h-1zM40 8h1v1h-1zM69 12h1v1h-1zM69 13h1v1h-1zM68 19h1v1h-1zM68 20h1v1h-1zM68 23h1v1h-1zM69 25h1v1h-1zM69 26h1v1h-1zM69 27h1v1h-1zM27 31h1v1h-1zM69 34h1v1h-1zM66 39h1v1h-1zM65 40h1v1h-1zM66 40h1v1h-1zM67 40h1v1h-1zM68 41h1v1h-1zM24 42h1v1h-1zM66 42h1v1h-1zM68 42h1v1h-1zM69 43h1v1h-1zM70 43h1v1h-1zM70 44h1v1h-1zM20 45h1v1h-1zM70 46h1v1h-1zM19 48h1v1h-1zM69 48h1v1h-1zM66 52h1v1h-1zM64 53h1v1h-1zM19 55h1v1h-1zM60 55h1v1h-1zM18 56h1v1h-1zM20 56h1v1h-1zM17 57h1v1h-1zM21 57h1v1h-1zM17 59h1v1h-1zM18 59h1v1h-1zM56 60h1v1h-1zM19 61h1v1h-1zM55 61h1v1h-1zM54 65h1v1h-1zM21 66h1v1h-1zM53 66h1v1h-1zM21 67h1v1h-1zM22 68h1v1h-1zM24 69h1v1h-1zM31 69h1v1h-1zM26 70h1v1h-1zM27 70h1v1h-1zM26 71h1v1h-1zM27 71h1v1h-1zM47 71h1v1h-1zM44 72h1v1h-1zM45 72h1v1h-1zM39 73h1v1h-1zM40 73h1v1h-1zM42 73h1v1h-1z" fill="#8c96dc" fill-opacity="0.6"/>
<path d="M54 4h1v1h-1zM55 4h1v1h-1zM57 4h1v1h-1zM58 4h1v1h-1zM63 5h1v1h-1zM47 6h1v1h-1zM40 9h1v1h-1zM68 12h1v1h-1zM68 13h1v1h-1zM35 15h1v1h-1zM67 22h1v1h-1zM68 26h1v1h-1zM31 27h1v1h-1zM69 28h1v1h-1zM30 29h1v1h-1zM69 29h1v1h-1zM29 30h1v1h-1zM28 31h1v1h-1zM69 32h1v1h-1zM27 33h1v1h-1zM68 34h1v1h-1zM27 35h1v1h-1zM68 35h1v1h-1zM66 37h1v1h-1zM26 39h1v1h-1zM63 39h1v1h-1zM63 40h1v1h-1zM25 41h1v1h-1zM25 42h1v1h-1zM24 43h1v1h-1zM64 43h1v1h-1zM68 43h1v1h-1zM68 44h1v1h-1zM68 45h1v1h-1zM20 46h1v1h-1zM21 46h1v1h-1zM68 46h1v1h-1zM69 46h1v1h-1zM67 47h1v1h-1zM20 48h1v1h-1zM66 50h1v1h-1zM65 51h1v1h-1zM66 51h1v1h-1zM20 52h1v1h-1zM64 52h1v1h-1zM21 53h1v1h-1zM61 53h1v1h-1zM21 55h1v1h-1zM23 55h1v1h-1zM59 55h1v1h-1zM23 56h1v1h-1zM58 56h1v1h-1zM19 57h1v1h-1zM24 57h1v1h-1zM58 57h1v1h-1zM18 58h1v1h-1zM20 58h1v1h-1zM21 59h1v1h-1zM21 60h1v1h-1zM22 60h1v1h-1zM21 61h1v1h-1zM22 62h1v1h-1zM54 62h1v1h-1zM20 63h1v1h-1zM53 63h1v1h-1zM21 64h1v1h-1zM22 64h1v1h-1zM52 65h1v1h-1zM53 65h1v1h-1zM22 66h1v1h-1zM52 66h1v1h-1zM23 67h1v1h-1zM25 67h1v1h-1zM31 67h1v1h-1zM33 67h1v1h-1zM49 67h1v1h-1zM30 68h1v1h-1zM32 68h1v1h-1zM33 68h1v1h-1zM36 68h1v1h-1zM48 68h1v1h-1zM25 69h1v1h-1zM26 69h1v1h-1zM27 69h1v1h-1zM29 69h1v1h-1zM38 69h1v1h-1zM40 69h1v1h-1zM45 69h1v1h-1zM37 70h1v1h-1zM39 70h1v1h-1zM42 70h1v1h-1zM44 70h1v1h-1zM45 70h1v1h-1zM47 70h1v1h-1zM38 71h1v1h-1zM41 71h1v1h-1zM44 71h1v1h-1zM40 72h1v1h-1z" fill="#8c96d2" fill-opacity="0.6"/>
<path d="M52 5h1v1h-1zM53 5h1v1h-1zM55 5h1v1h-1zM57 5h1v1h-1zM60 5h1v1h-1zM61 5h1v1h-1zM48 6h1v1h-1zM49 6h1v1h-1zM65 7h1v1h-1zM43 8h1v1h-1zM44 8h1v1h-1zM66 8h1v1h-1zM41 9h1v1h-1zM67 11h1v1h-1zM38 13h1v1h-1zM37 14h1v1h-1zM36 15h1v1h-1zM35 16h1v1h-1zM67 18h1v1h-1zM66 21h1v1h-1zM32 23h1v1h-1zM66 23h1v1h-1zM32 26h1v1h-1zM67 26h1v1h-1zM32 27h1v1h-1zM67 27h1v1h-1zM32 28h1v1h-1zM68 28h1v1h-1zM31 29h1v1h-1zM29 32h1v1h-1zM28 34h1v1h-1zM67 34h1v1h-1zM28 35h1v1h-1zM66 35h1v1h-1zM63 37h1v1h-1zM28 38h1v1h-1zM62 38h1v1h-1zM27 39h1v1h-1zM61 40h1v1h-1zM27 41h1v1h-1zM61 41h1v1h-1zM26 42h1v1h-1zM62 42h1v1h-1zM62 43h1v1h-1zM63 43h1v1h-1zM25 44h1v1h-1zM64 44h1v1h-1zM24 45h1v1h-1zM23 46h1v1h-1zM65 46h1v1h-1zM21 47h1v1h-1zM22 47h1v1h-1zM66 47h1v1h-1zM21 48h1v1h-1zM21 49h1v1h-1zM21 50h1v1h-1zM22 50h1v1h-1zM63 51h1v1h-1zM62 52h1v1h-1zM23 53h1v1h-1zM60 53h1v1h-1zM57 57h1v1h-1zM25 58h1v1h-1zM26 58h1v1h-1zM25 62h1v1h-1zM52 62h1v1h-1zM53 62h1v1h-1zM23 63h1v1h-1zM52 63h1v1h-1zM24 64h1v1h-1zM23 65h1v1h-1zM25 65h1v1h-1zM26 65h1v1h-1zM28 65h1v1h-1zM32 65h1v1h-1zM34 65h1v1h-1zM50 65h1v1h-1zM51 65h1v1h-1zM25 66h1v1h-1zM29 66h1v1h-1zM32 66h1v1h-1zM33 66h1v1h-1zM37 66h1v1h-1zM36 67h1v1h-1zM37 67h1v1h-1zM38 67h1v1h-1zM48 67h1v1h-1zM39 68h1v1h-1zM42 69h1v1h-1z" fill="#8c8cd2" fill-opacity="0.6"/>
<path d="M43 6h1v1h-1zM40 7h1v1h-1zM69 15h1v1h-1zM32 19h1v1h-1zM29 26h1v1h-1zM28 28h1v1h-1zM68 40h1v1h-1zM24 41h1v1h-1zM67 52h1v1h-1zM18 53h1v1h-1zM59 57h1v1h-1zM19 64h1v1h-1zM50 69h1v1h-1zM30 70h1v1h-1zM35 70h1v1h-1zM48 71h1v1h-1zM25 72h1v1h-1zM26 72h1v1h-1zM38 73h1v1h-1z" fill="#9696dc" fill-opacity="0.6"/>
<path d="M50 6h1v1h-1zM51 6h1v1h-1zM53 6h1v1h-1zM56 6h1v1h-1zM57 6h1v1h-1zM60 6h1v1h-1zM62 6h1v1h-1zM49 7h1v1h-1zM64 7h1v1h-1zM44 9h1v1h-1zM45 9h1v1h-1zM40 11h1v1h-1zM67 12h1v1h-1zM39 13h1v1h-1zM66 15h1v1h-1zM36 16h1v1h-1zM66 16h1v1h-1zM35 17h1v1h-1zM66 18h1v1h-1zM34 19h1v1h-1zM65 19h1v1h-1zM65 20h1v1h-1zM64 22h1v1h-1zM65 23h1v1h-1zM65 24h1v1h-1zM33 25h1v1h-1zM65 25h1v1h-1zM66 25h1v1h-1zM65 27h1v1h-1zM67 28h1v1h-1zM67 29h1v1h-1zM67 31h1v1h-1zM30 32h1v1h-1zM31 32h1v1h-1zM66 32h1v1h-1zM67 32h1v1h-1zM30 33h1v1h-1zM67 33h1v1h-1zM29 34h1v1h-1zM30 34h1v1h-1zM30 35h1v1h-1zM62 35h1v1h-1zM60 36h1v1h-1zM61 36h1v1h-1zM62 36h1v1h-1zM63 36h1v1h-1zM59 37h1v1h-1zM61 37h1v1h-1zM28 39h1v1h-1zM29 39h1v1h-1zM58 39h1v1h-1zM60 41h1v1h-1zM28 42h1v1h-1zM27 43h1v1h-1zM61 43h1v1h-1zM62 44h1v1h-1zM26 45h1v1h-1zM62 45h1v1h-1zM25 46h1v1h-1zM26 46h1v1h-1zM62 46h1v1h-1zM63 47h1v1h-1zM64 47h1v1h-1zM63 48h1v1h-1zM65 48h1v1h-1zM23 49h1v1h-1zM63 49h1v1h-1zM64 49h1v1h-1zM23 50h1v1h-1zM24 50h1v1h-1zM25 50h1v1h-1zM61 50h1v1h-1zM64 50h1v1h-1zM23 51h1v1h-1zM25 51h1v1h-1zM59 52h1v1h-1zM60 52h1v1h-1zM58 53h1v1h-1zM26 54h1v1h-1zM57 54h1v1h-1zM27 55h1v1h-1zM26 56h1v1h-1zM27 56h1v1h-1zM56 56h1v1h-1zM55 57h1v1h-1zM56 57h1v1h-1zM29 58h1v1h-1zM31 58h1v1h-1zM33 58h1v1h-1zM34 58h1v1h-1zM27 59h1v1h-1zM29 59h1v1h-1zM27 60h1v1h-1zM28 60h1v1h-1zM29 60h1v1h-1zM33 60h1v1h-1zM27 61h1v1h-1zM28 61h1v1h-1zM31 61h1v1h-1zM32 61h1v1h-1zM50 61h1v1h-1zM52 61h1v1h-1zM26 62h1v1h-1zM29 62h1v1h-1zM33 62h1v1h-1zM34 62h1v1h-1zM37 62h1v1h-1zM50 62h1v1h-1zM51 62h1v1h-1zM28 63h1v1h-1zM29 63h1v1h-1zM30 63h1v1h-1zM33 63h1v1h-1zM34 63h1v1h-1zM36 63h1v1h-1zM37 63h1v1h-1zM49 63h1v1h-1zM50 63h1v1h-1zM28 64h1v1h-1zM30 64h1v1h-1zM34 64h1v1h-1zM49 64h1v1h-1zM39 65h1v1h-1zM40 65h1v1h-1zM41 65h1v1h-1zM47 65h1v1h-1zM49 65h1v1h-1zM39 66h1v1h-1zM43 66h1v1h-1zM45 66h1v1h-1zM47 66h1v1h-1zM48 66h1v1h-1zM41 67h1v1h-1zM45 67h1v1h-1z" fill="#828cd2" fill-opacity="0.7"/>
<path d="M51 7h1v1h-1zM52 7h1v1h-1zM53 7h1v1h-1zM57 7h1v1h-1zM59 7h1v1h-1zM60 7h1v1h-1zM49 8h1v1h-1zM62 8h1v1h-1zM63 8h1v1h-1zM64 9h1v1h-1zM44 10h1v1h-1zM45 10h1v1h-1zM65 10h1v1h-1zM42 11h1v1h-1zM43 11h1v1h-1zM65 12h1v1h-1zM65 13h1v1h-1zM65 15h1v1h-1zM38 16h1v1h-1zM63 20h1v1h-1zM63 21h1v1h-1zM34 22h1v1h-1zM34 23h1v1h-1zM34 24h1v1h-1zM63 24h1v1h-1zM34 25h1v1h-1zM62 25h1v1h-1zM62 26h1v1h-1zM63 26h1v1h-1zM62 27h1v1h-1zM35 28h1v1h-1zM61 28h1v1h-1zM63 28h1v1h-1zM64 28h1v1h-1zM35 29h1v1h-1zM62 29h1v1h-1zM63 29h1v1h-1zM61 30h1v1h-1zM62 30h1v1h-1zM63 30h1v1h-1zM65 30h1v1h-1zM34 31h1v1h-1zM35 31h1v1h-1zM59 31h1v1h-1zM60 31h1v1h-1zM62 31h1v1h-1zM64 31h1v1h-1zM65 31h1v1h-1zM34 32h1v1h-1zM35 32h1v1h-1zM59 32h1v1h-1zM60 32h1v1h-1zM64 32h1v1h-1zM33 33h1v1h-1zM58 33h1v1h-1zM61 33h1v1h-1zM62 33h1v1h-1zM63 33h1v1h-1zM32 34h1v1h-1zM33 34h1v1h-1zM57 34h1v1h-1zM58 34h1v1h-1zM32 35h1v1h-1zM33 35h1v1h-1zM56 36h1v1h-1zM56 37h1v1h-1zM56 38h1v1h-1zM31 39h1v1h-1zM32 39h1v1h-1zM57 40h1v1h-1zM30 42h1v1h-1zM31 42h1v1h-1zM57 42h1v1h-1zM58 42h1v1h-1zM29 43h1v1h-1zM58 43h1v1h-1zM29 45h1v1h-1zM28 46h1v1h-1zM59 46h1v1h-1zM28 47h1v1h-1zM59 47h1v1h-1zM61 47h1v1h-1zM27 48h1v1h-1zM28 48h1v1h-1zM59 48h1v1h-1zM61 48h1v1h-1zM28 49h1v1h-1zM58 49h1v1h-1zM27 50h1v1h-1zM57 50h1v1h-1zM58 50h1v1h-1zM28 51h1v1h-1zM56 51h1v1h-1zM28 52h1v1h-1zM27 53h1v1h-1zM28 53h1v1h-1zM28 54h1v1h-1zM29 54h1v1h-1zM30 54h1v1h-1zM30 55h1v1h-1zM31 55h1v1h-1zM32 55h1v1h-1zM33 55h1v1h-1zM55 55h1v1h-1zM30 56h1v1h-1zM32 56h1v1h-1zM33 56h1v1h-1zM34 56h1v1h-1zM36 56h1v1h-1zM36 57h1v1h-1zM37 57h1v1h-1zM52 57h1v1h-1zM53 57h1v1h-1zM36 58h1v1h-1zM37 58h1v1h-1zM48 58h1v1h-1zM51 58h1v1h-1zM52 58h1v1h-1zM38 59h1v1h-1zM39 59h1v1h-1zM47 59h1v1h-1zM49 59h1v1h-1zM50 59h1v1h-1zM39 60h1v1h-1zM46 60h1v1h-1zM47 60h1v1h-1zM39 61h1v1h-1zM41 61h1v1h-1zM46 61h1v1h-1zM47 61h1v1h-1zM41 62h1v1h-1zM46 62h1v1h-1zM47 62h1v1h-1zM40 63h1v1h-1zM43 63h1v1h-1zM44 63h1v1h-1zM45 63h1v1h-1zM46 63h1v1h-1zM41 64h1v1h-1zM43 64h1v1h-1zM44 64h1v1h-1zM45 64h1v1h-1z" fill="#7882c8" fill-opacity="0.8"/>
<path d="M62 7h1v1h-1zM39 14h1v1h-1zM34 27h1v1h-1zM34 30h1v1h-1zM64 33h1v1h-1zM61 34h1v1h-1zM59 35h1v1h-1zM58 36h1v1h-1zM28 44h1v1h-1zM28 55h1v1h-1zM37 60h1v1h-1z" fill="#7882d2" fill-opacity="0.8"/>
<path d="M48 8h1v1h-1zM38 15h1v1h-1zM37 16h1v1h-1zM36 17h1v1h-1zM34 21h1v1h-1zM34 29h1v1h-1zM65 29h1v1h-1zM65 32h1v1h-1zM31 34h1v1h-1zM62 34h1v1h-1zM63 34h1v1h-1zM57 39h1v1h-1zM30 40h1v1h-1zM59 43h1v1h-1zM61 49h1v1h-1zM58 51h1v1h-1zM26 52h1v1h-1zM55 56h1v1h-1zM36 59h1v1h-1zM51 59h1v1h-1zM38 62h1v1h-1zM39 63h1v1h-1zM48 63h1v1h-1zM43 65h1v1h-1zM44 65h1v1h-1z" fill="#7882d2" fill-opacity="0.7"/>
<path d="M53 8h1v1h-1zM56 8h1v1h-1zM57 8h1v1h-1zM58 8h1v1h-1zM60 8h1v1h-1zM61 8h1v1h-1zM49 9h1v1h-1zM51 9h1v1h-1zM61 9h1v1h-1zM62 9h1v1h-1zM48 10h1v1h-1zM44 11h1v1h-1zM45 11h1v1h-1zM63 11h1v1h-1zM64 12h1v1h-1zM42 13h1v1h-1zM64 13h1v1h-1zM41 14h1v1h-1zM64 14h1v1h-1zM64 15h1v1h-1zM40 16h1v1h-1zM38 17h1v1h-1zM63 17h1v1h-1zM37 18h1v1h-1zM38 18h1v1h-1zM63 18h1v1h-1zM37 19h1v1h-1zM62 19h1v1h-1zM36 20h1v1h-1zM35 21h1v1h-1zM35 22h1v1h-1zM61 22h1v1h-1zM62 22h1v1h-1zM61 23h1v1h-1zM35 24h1v1h-1zM35 25h1v1h-1zM61 25h1v1h-1zM36 27h1v1h-1zM60 27h1v1h-1zM36 28h1v1h-1zM37 28h1v1h-1zM57 28h1v1h-1zM58 28h1v1h-1zM59 28h1v1h-1zM56 29h1v1h-1zM57 29h1v1h-1zM55 31h1v1h-1zM56 31h1v1h-1zM36 32h1v1h-1zM55 32h1v1h-1zM56 32h1v1h-1zM37 33h1v1h-1zM55 33h1v1h-1zM36 34h1v1h-1zM37 34h1v1h-1zM55 34h1v1h-1zM56 34h1v1h-1zM35 35h1v1h-1zM54 35h1v1h-1zM37 36h1v1h-1zM34 37h1v1h-1zM35 37h1v1h-1zM54 37h1v1h-1zM55 37h1v1h-1zM34 38h1v1h-1zM35 38h1v1h-1zM37 38h1v1h-1zM54 38h1v1h-1zM34 39h1v1h-1zM35 39h1v1h-1zM54 39h1v1h-1zM34 40h1v1h-1zM35 40h1v1h-1zM37 40h1v1h-1zM54 40h1v1h-1zM34 41h1v1h-1zM36 41h1v1h-1zM54 41h1v1h-1zM55 41h1v1h-1zM34 42h1v1h-1zM54 42h1v1h-1zM55 42h1v1h-1zM56 42h1v1h-1zM32 43h1v1h-1zM34 43h1v1h-1zM35 43h1v1h-1zM32 44h1v1h-1zM33 44h1v1h-1zM34 44h1v1h-1zM55 44h1v1h-1zM56 44h1v1h-1zM57 44h1v1h-1zM30 45h1v1h-1zM31 45h1v1h-1zM55 45h1v1h-1zM57 45h1v1h-1zM31 46h1v1h-1zM32 46h1v1h-1zM49 46h1v1h-1zM50 46h1v1h-1zM51 46h1v1h-1zM52 46h1v1h-1zM55 46h1v1h-1zM56 46h1v1h-1zM57 46h1v1h-1zM31 47h1v1h-1zM49 47h1v1h-1zM50 47h1v1h-1zM53 47h1v1h-1zM55 47h1v1h-1zM57 47h1v1h-1zM29 48h1v1h-1zM47 48h1v1h-1zM48 48h1v1h-1zM49 48h1v1h-1zM50 48h1v1h-1zM54 48h1v1h-1zM55 48h1v1h-1zM29 49h1v1h-1zM46 49h1v1h-1zM47 49h1v1h-1zM48 49h1v1h-1zM50 49h1v1h-1zM51 49h1v1h-1zM52 49h1v1h-1zM54 49h1v1h-1zM55 49h1v1h-1zM56 49h1v1h-1zM31 50h1v1h-1zM32 50h1v1h-1zM46 50h1v1h-1zM48 50h1v1h-1zM53 50h1v1h-1zM55 50h1v1h-1zM29 51h1v1h-1zM30 51h1v1h-1zM31 51h1v1h-1zM32 51h1v1h-1zM33 51h1v1h-1zM48 51h1v1h-1zM50 51h1v1h-1zM51 51h1v1h-1zM52 51h1v1h-1zM54 51h1v1h-1zM55 51h1v1h-1zM31 52h1v1h-1zM34 52h1v1h-1zM49 52h1v1h-1zM50 52h1v1h-1zM51 52h1v1h-1zM52 52h1v1h-1zM53 52h1v1h-1zM33 53h1v1h-1zM34 53h1v1h-1zM35 53h1v1h-1zM36 53h1v1h-1zM47 53h1v1h-1zM48 53h1v1h-1zM49 53h1v1h-1zM50 53h1v1h-1zM51 53h1v1h-1zM54 53h1v1h-1zM39 54h1v1h-1zM49 54h1v1h-1zM50 54h1v1h-1zM51 54h1v1h-1zM52 54h1v1h-1zM53 54h1v1h-1zM37 55h1v1h-1zM38 55h1v1h-1zM40 55h1v1h-1zM46 55h1v1h-1zM48 55h1v1h-1zM49 55h1v1h-1zM50 55h1v1h-1zM51 55h1v1h-1zM52 55h1v1h-1zM41 56h1v1h-1zM44 56h1v1h-1zM45 56h1v1h-1zM46 56h1v1h-1zM50 56h1v1h-1zM51 56h1v1h-1zM52 56h1v1h-1zM40 57h1v1h-1zM43 57h1v1h-1zM44 57h1v1h-1zM45 57h1v1h-1zM46 57h1v1h-1zM42 58h1v1h-1zM43 58h1v1h-1zM44 58h1v1h-1zM45 58h1v1h-1zM42 59h1v1h-1zM43 59h1v1h-1zM43 60h1v1h-1z" fill="#6e78c8" fill-opacity="0.9"/>
<path d="M48 9h1v1h-1zM63 9h1v1h-1zM46 10h1v1h-1zM64 10h1v1h-1zM40 14h1v1h-1zM64 17h1v1h-1zM63 19h1v1h-1zM62 23h1v1h-1zM61 26h1v1h-1zM59 29h1v1h-1zM36 30h1v1h-1zM57 31h1v1h-1zM35 33h1v1h-1zM34 35h1v1h-1zM56 35h1v1h-1zM33 36h1v1h-1zM33 39h1v1h-1zM32 42h1v1h-1zM31 43h1v1h-1zM57 43h1v1h-1zM58 45h1v1h-1zM58 47h1v1h-1zM57 49h1v1h-1zM28 50h1v1h-1zM56 50h1v1h-1zM30 53h1v1h-1zM55 53h1v1h-1zM31 54h1v1h-1zM34 55h1v1h-1zM54 55h1v1h-1zM53 56h1v1h-1zM50 57h1v1h-1zM40 58h1v1h-1zM40 59h1v1h-1zM42 60h1v1h-1zM45 60h1v1h-1zM44 61h1v1h-1zM43 62h1v1h-1zM44 62h1v1h-1z" fill="#7878c8" fill-opacity="0.8"/>
<path d="M53 9h1v1h-1zM54 9h1v1h-1zM58 9h1v1h-1zM60 9h1v1h-1zM62 10h1v1h-1zM47 11h1v1h-1zM44 12h1v1h-1zM63 13h1v1h-1zM63 14h1v1h-1zM41 15h1v1h-1zM63 15h1v1h-1zM63 16h1v1h-1zM36 21h1v1h-1zM36 23h1v1h-1zM60 23h1v1h-1zM36 24h1v1h-1zM60 24h1v1h-1zM59 25h1v1h-1zM37 26h1v1h-1zM57 27h1v1h-1zM38 28h1v1h-1zM56 28h1v1h-1zM38 29h1v1h-1zM38 30h1v1h-1zM38 31h1v1h-1zM54 31h1v1h-1zM53 32h1v1h-1zM53 33h1v1h-1zM38 34h1v1h-1zM38 35h1v1h-1zM38 36h1v1h-1zM53 36h1v1h-1zM39 37h1v1h-1zM53 37h1v1h-1zM53 38h1v1h-1zM38 39h1v1h-1zM53 40h1v1h-1zM37 41h1v1h-1zM37 42h1v1h-1zM52 43h1v1h-1zM35 44h1v1h-1zM36 44h1v1h-1zM50 44h1v1h-1zM51 44h1v1h-1zM52 44h1v1h-1zM53 44h1v1h-1zM34 45h1v1h-1zM35 45h1v1h-1zM48 45h1v1h-1zM49 45h1v1h-1zM50 45h1v1h-1zM53 45h1v1h-1zM54 45h1v1h-1zM33 46h1v1h-1zM48 46h1v1h-1zM46 47h1v1h-1zM33 48h1v1h-1zM45 48h1v1h-1zM33 49h1v1h-1zM45 49h1v1h-1zM34 50h1v1h-1zM44 50h1v1h-1zM45 50h1v1h-1zM35 51h1v1h-1zM42 51h1v1h-1zM44 51h1v1h-1zM36 52h1v1h-1zM37 52h1v1h-1zM38 52h1v1h-1zM40 52h1v1h-1zM44 52h1v1h-1zM45 52h1v1h-1zM46 52h1v1h-1zM37 53h1v1h-1zM38 53h1v1h-1zM39 53h1v1h-1zM40 53h1v1h-1zM41 53h1v1h-1zM40 54h1v1h-1zM45 54h1v1h-1zM46 54h1v1h-1zM42 55h1v1h-1zM43 55h1v1h-1zM44 55h1v1h-1z" fill="#6478c8"/>
<path d="M51 10h1v1h-1zM59 10h1v1h-1zM61 10h1v1h-1zM49 11h1v1h-1zM61 11h1v1h-1zM62 11h1v1h-1zM46 12h1v1h-1zM62 12h1v1h-1zM44 13h1v1h-1zM42 14h1v1h-1zM42 15h1v1h-1zM41 16h1v1h-1zM62 17h1v1h-1zM39 18h1v1h-1zM38 19h1v1h-1zM37 20h1v1h-1zM37 21h1v1h-1zM60 21h1v1h-1zM60 22h1v1h-1zM59 24h1v1h-1zM58 25h1v1h-1zM38 26h1v1h-1zM57 26h1v1h-1zM58 26h1v1h-1zM38 27h1v1h-1zM39 28h1v1h-1zM55 28h1v1h-1zM39 29h1v1h-1zM54 29h1v1h-1zM53 30h1v1h-1zM39 31h1v1h-1zM52 31h1v1h-1zM40 32h1v1h-1zM51 32h1v1h-1zM52 32h1v1h-1zM39 33h1v1h-1zM40 33h1v1h-1zM50 33h1v1h-1zM39 34h1v1h-1zM40 34h1v1h-1zM50 34h1v1h-1zM51 34h1v1h-1zM39 35h1v1h-1zM40 35h1v1h-1zM41 35h1v1h-1zM52 35h1v1h-1zM41 36h1v1h-1zM52 36h1v1h-1zM40 37h1v1h-1zM41 37h1v1h-1zM52 37h1v1h-1zM41 38h1v1h-1zM52 39h1v1h-1zM39 40h1v1h-1zM40 40h1v1h-1zM52 40h1v1h-1zM51 41h1v1h-1zM52 41h1v1h-1zM49 42h1v1h-1zM50 42h1v1h-1zM52 42h1v1h-1zM38 43h1v1h-1zM51 43h1v1h-1zM47 44h1v1h-1zM48 44h1v1h-1zM36 45h1v1h-1zM37 46h1v1h-1zM45 46h1v1h-1zM46 46h1v1h-1zM44 47h1v1h-1zM45 47h1v1h-1zM35 48h1v1h-1zM38 48h1v1h-1zM39 48h1v1h-1zM42 48h1v1h-1zM35 49h1v1h-1zM36 49h1v1h-1zM37 49h1v1h-1zM39 49h1v1h-1zM41 49h1v1h-1zM42 49h1v1h-1zM35 50h1v1h-1zM36 50h1v1h-1zM37 50h1v1h-1zM38 50h1v1h-1zM36 51h1v1h-1zM38 51h1v1h-1zM39 51h1v1h-1zM43 53h1v1h-1z" fill="#646ebe"/>
<path d="M53 10h1v1h-1zM54 10h1v1h-1zM55 10h1v1h-1zM56 10h1v1h-1zM51 11h1v1h-1zM60 11h1v1h-1zM47 12h1v1h-1zM48 12h1v1h-1zM61 12h1v1h-1zM45 13h1v1h-1zM43 14h1v1h-1zM42 16h1v1h-1zM61 18h1v1h-1zM40 19h1v1h-1zM60 19h1v1h-1zM38 20h1v1h-1zM37 22h1v1h-1zM59 22h1v1h-1zM37 23h1v1h-1zM59 23h1v1h-1zM58 24h1v1h-1zM38 25h1v1h-1zM57 25h1v1h-1zM39 26h1v1h-1zM56 26h1v1h-1zM39 27h1v1h-1zM40 27h1v1h-1zM40 28h1v1h-1zM41 30h1v1h-1zM51 30h1v1h-1zM40 31h1v1h-1zM41 31h1v1h-1zM49 31h1v1h-1zM50 31h1v1h-1zM51 31h1v1h-1zM42 32h1v1h-1zM46 32h1v1h-1zM47 32h1v1h-1zM42 33h1v1h-1zM43 33h1v1h-1zM48 33h1v1h-1zM41 34h1v1h-1zM43 34h1v1h-1zM44 34h1v1h-1zM45 34h1v1h-1zM46 34h1v1h-1zM47 34h1v1h-1zM48 34h1v1h-1zM42 35h1v1h-1zM43 35h1v1h-1zM44 35h1v1h-1zM46 35h1v1h-1zM47 35h1v1h-1zM48 35h1v1h-1zM42 36h1v1h-1zM44 36h1v1h-1zM45 36h1v1h-1zM47 36h1v1h-1zM48 36h1v1h-1zM49 36h1v1h-1zM42 37h1v1h-1zM43 37h1v1h-1zM45 37h1v1h-1zM50 37h1v1h-1zM51 37h1v1h-1zM43 38h1v1h-1zM44 38h1v1h-1zM50 38h1v1h-1zM51 38h1v1h-1zM43 39h1v1h-1zM51 39h1v1h-1zM41 40h1v1h-1zM42 40h1v1h-1zM49 40h1v1h-1zM50 40h1v1h-1zM51 40h1v1h-1zM47 41h1v1h-1zM48 41h1v1h-1zM50 41h1v1h-1zM39 42h1v1h-1zM40 42h1v1h-1zM46 42h1v1h-1zM47 42h1v1h-1zM39 43h1v1h-1zM46 43h1v1h-1zM47 43h1v1h-1zM39 44h1v1h-1zM45 44h1v1h-1zM39 45h1v1h-1zM44 45h1v1h-1zM45 45h1v1h-1zM38 46h1v1h-1zM39 46h1v1h-1zM40 46h1v1h-1zM41 46h1v1h-1zM42 46h1v1h-1zM43 46h1v1h-1zM39 47h1v1h-1zM41 47h1v1h-1z" fill="#5a6ebe"/>
<path d="M52 11h1v1h-1zM49 12h1v1h-1zM60 12h1v1h-1zM46 13h1v1h-1zM61 14h1v1h-1zM61 15h1v1h-1zM42 18h1v1h-1zM60 18h1v1h-1zM38 22h1v1h-1zM57 24h1v1h-1zM40 26h1v1h-1zM41 27h1v1h-1zM42 29h1v1h-1zM43 30h1v1h-1zM44 31h1v1h-1zM45 31h1v1h-1zM42 41h1v1h-1zM43 41h1v1h-1zM44 41h1v1h-1zM41 42h1v1h-1zM44 42h1v1h-1zM44 43h1v1h-1zM42 45h1v1h-1z" fill="#5064be"/>
<path d="M53 11h1v1h-1zM56 11h1v1h-1zM57 11h1v1h-1zM50 12h1v1h-1zM51 12h1v1h-1zM59 12h1v1h-1zM48 13h1v1h-1zM60 13h1v1h-1zM45 14h1v1h-1zM46 14h1v1h-1zM44 15h1v1h-1zM43 16h1v1h-1zM60 16h1v1h-1zM43 17h1v1h-1zM60 17h1v1h-1zM43 18h1v1h-1zM59 19h1v1h-1zM41 20h1v1h-1zM59 20h1v1h-1zM39 21h1v1h-1zM40 21h1v1h-1zM58 21h1v1h-1zM39 22h1v1h-1zM39 23h1v1h-1zM57 23h1v1h-1zM39 24h1v1h-1zM40 24h1v1h-1zM56 24h1v1h-1zM40 25h1v1h-1zM41 25h1v1h-1zM55 25h1v1h-1zM56 25h1v1h-1zM41 26h1v1h-1zM42 26h1v1h-1zM54 26h1v1h-1zM42 27h1v1h-1zM53 27h1v1h-1zM52 28h1v1h-1zM43 29h1v1h-1zM44 29h1v1h-1zM45 29h1v1h-1zM50 29h1v1h-1zM45 30h1v1h-1zM46 30h1v1h-1zM42 42h1v1h-1zM43 42h1v1h-1zM41 43h1v1h-1zM43 43h1v1h-1zM41 44h1v1h-1zM42 44h1v1h-1zM43 44h1v1h-1z" fill="#5064b4"/>
<path d="M59 11h1v1h-1zM43 15h1v1h-1zM61 16h1v1h-1zM42 17h1v1h-1zM39 20h1v1h-1zM59 21h1v1h-1zM39 25h1v1h-1zM54 27h1v1h-1zM53 28h1v1h-1zM52 29h1v1h-1zM42 30h1v1h-1zM50 30h1v1h-1zM42 31h1v1h-1zM43 31h1v1h-1zM47 31h1v1h-1zM43 32h1v1h-1zM44 32h1v1h-1zM46 37h1v1h-1zM47 37h1v1h-1zM48 37h1v1h-1zM49 37h1v1h-1zM45 38h1v1h-1zM47 38h1v1h-1zM49 38h1v1h-1zM44 39h1v1h-1zM45 39h1v1h-1zM47 39h1v1h-1zM48 39h1v1h-1zM49 39h1v1h-1zM43 40h1v1h-1zM44 40h1v1h-1zM45 40h1v1h-1zM46 40h1v1h-1zM47 40h1v1h-1zM48 40h1v1h-1zM41 41h1v1h-1zM45 41h1v1h-1zM45 43h1v1h-1zM40 44h1v1h-1zM44 44h1v1h-1zM40 45h1v1h-1z" fill="#5a64be"/>
<path d="M52 12h1v1h-1zM58 12h1v1h-1zM60 14h1v1h-1zM45 15h1v1h-1zM60 15h1v1h-1zM43 19h1v1h-1zM41 21h1v1h-1zM40 22h1v1h-1zM40 23h1v1h-1zM41 24h1v1h-1zM44 28h1v1h-1zM46 29h1v1h-1zM49 29h1v1h-1z" fill="#506eb4"/>
<path d="M54 12h1v1h-1zM55 12h1v1h-1zM56 12h1v1h-1zM48 14h1v1h-1zM49 14h1v1h-1zM46 15h1v1h-1zM59 15h1v1h-1zM45 16h1v1h-1zM59 16h1v1h-1zM44 19h1v1h-1zM58 19h1v1h-1zM57 20h1v1h-1zM43 21h1v1h-1zM42 22h1v1h-1zM42 23h1v1h-1zM43 24h1v1h-1zM55 24h1v1h-1zM54 25h1v1h-1zM53 26h1v1h-1zM44 27h1v1h-1zM52 27h1v1h-1zM46 28h1v1h-1z" fill="#5078be"/>
<path d="M57 12h1v1h-1zM59 13h1v1h-1zM47 14h1v1h-1zM43 20h1v1h-1zM42 21h1v1h-1zM41 22h1v1h-1zM41 23h1v1h-1zM42 25h1v1h-1zM43 26h1v1h-1zM47 29h1v1h-1zM48 29h1v1h-1z" fill="#506ebe"/>
<path d="M66 12h1v1h-1zM66 14h1v1h-1zM35 18h1v1h-1zM65 18h1v1h-1zM64 21h1v1h-1zM64 26h1v1h-1zM65 28h1v1h-1zM32 32h1v1h-1zM65 33h1v1h-1zM60 35h1v1h-1zM30 36h1v1h-1zM59 36h1v1h-1zM30 37h1v1h-1zM58 37h1v1h-1zM30 38h1v1h-1zM30 39h1v1h-1zM29 41h1v1h-1zM27 45h1v1h-1zM26 47h1v1h-1zM62 48h1v1h-1zM62 49h1v1h-1zM56 55h1v1h-1zM32 57h1v1h-1zM50 60h1v1h-1zM37 61h1v1h-1zM42 65h1v1h-1zM46 65h1v1h-1z" fill="#8282d2" fill-opacity="0.7"/>
<path d="M52 13h1v1h-1zM47 15h1v1h-1zM46 16h1v1h-1zM45 18h1v1h-1zM58 18h1v1h-1zM55 23h1v1h-1zM45 27h1v1h-1zM51 27h1v1h-1zM47 28h1v1h-1zM48 28h1v1h-1zM49 28h1v1h-1z" fill="#5082be"/>
<path d="M53 13h1v1h-1zM55 13h1v1h-1zM56 13h1v1h-1zM51 14h1v1h-1zM57 14h1v1h-1zM58 14h1v1h-1zM58 15h1v1h-1zM47 16h1v1h-1zM48 16h1v1h-1zM58 16h1v1h-1zM47 17h1v1h-1zM58 17h1v1h-1zM46 18h1v1h-1zM56 19h1v1h-1zM45 20h1v1h-1zM56 20h1v1h-1zM55 21h1v1h-1zM44 22h1v1h-1zM55 22h1v1h-1zM44 23h1v1h-1zM54 23h1v1h-1zM44 24h1v1h-1zM45 26h1v1h-1zM46 27h1v1h-1zM50 27h1v1h-1z" fill="#468cbe"/>
<path d="M57 13h1v1h-1zM50 14h1v1h-1zM48 15h1v1h-1zM46 17h1v1h-1zM45 19h1v1h-1zM57 19h1v1h-1zM44 21h1v1h-1zM56 21h1v1h-1zM53 25h1v1h-1z" fill="#4682be"/>
<path d="M52 14h1v1h-1zM53 14h1v1h-1zM56 14h1v1h-1zM50 15h1v1h-1zM57 15h1v1h-1zM49 16h1v1h-1zM57 16h1v1h-1zM48 17h1v1h-1zM57 17h1v1h-1zM47 18h1v1h-1zM56 18h1v1h-1zM46 20h1v1h-1zM55 20h1v1h-1zM45 21h1v1h-1zM45 22h1v1h-1zM54 22h1v1h-1zM45 23h1v1h-1zM45 24h1v1h-1zM52 25h1v1h-1zM51 26h1v1h-1zM48 27h1v1h-1zM49 27h1v1h-1z" fill="#4696be"/>
<path d="M54 14h1v1h-1zM55 14h1v1h-1zM51 15h1v1h-1zM50 16h1v1h-1zM47 19h1v1h-1zM54 21h1v1h-1zM47 26h1v1h-1zM50 26h1v1h-1z" fill="#46a0c8"/>
<path d="M52 15h1v1h-1zM53 15h1v1h-1zM56 15h1v1h-1zM51 16h1v1h-1zM56 16h1v1h-1zM56 17h1v1h-1zM54 19h1v1h-1zM47 20h1v1h-1zM54 20h1v1h-1zM46 21h1v1h-1zM53 22h1v1h-1zM52 24h1v1h-1zM46 25h1v1h-1zM51 25h1v1h-1z" fill="#46a0be"/>
<path d="M54 15h1v1h-1zM55 15h1v1h-1zM55 16h1v1h-1zM50 17h1v1h-1zM54 18h1v1h-1zM48 19h1v1h-1zM46 22h1v1h-1zM46 23h1v1h-1zM46 24h1v1h-1zM48 26h1v1h-1zM49 26h1v1h-1z" fill="#46a0b4"/>
<path d="M67 15h1v1h-1zM64 36h1v1h-1zM62 37h1v1h-1zM25 45h1v1h-1zM22 48h1v1h-1zM57 56h1v1h-1zM26 57h1v1h-1zM26 60h1v1h-1zM25 63h1v1h-1zM31 65h1v1h-1zM38 66h1v1h-1z" fill="#8c8cd2" fill-opacity="0.7"/>
<path d="M52 16h1v1h-1zM51 17h1v1h-1zM50 18h1v1h-1zM53 19h1v1h-1z" fill="#50a0b4"/>
<path d="M53 16h1v1h-1zM54 16h1v1h-1zM47 25h1v1h-1z" fill="#50a0aa"/>
<path d="M52 17h1v1h-1zM53 17h1v1h-1zM54 17h1v1h-1zM52 18h1v1h-1zM53 18h1v1h-1zM49 19h1v1h-1zM48 20h1v1h-1zM47 21h1v1h-1zM52 22h1v1h-1zM52 23h1v1h-1zM50 25h1v1h-1z" fill="#50aaaa"/>
<path d="M50 19h1v1h-1zM49 20h1v1h-1zM51 20h1v1h-1zM52 20h1v1h-1zM48 21h1v1h-1zM52 21h1v1h-1zM47 22h1v1h-1zM47 23h1v1h-1zM47 24h1v1h-1zM51 24h1v1h-1zM48 25h1v1h-1zM49 25h1v1h-1z" fill="#50aaa0"/>
<path d="M50 20h1v1h-1zM49 21h1v1h-1zM51 21h1v1h-1zM51 22h1v1h-1zM51 23h1v1h-1zM48 24h1v1h-1zM50 24h1v1h-1z" fill="#50aa96"/>
<path d="M48 22h1v1h-1z" fill="#50aa8c"/>
<path d="M49 22h1v1h-1zM50 22h1v1h-1zM48 23h1v1h-1zM50 23h1v1h-1z" fill="#5ab48c"/>
<path d="M49 23h1v1h-1z" fill="#5ab482"/>
<path d="M54 33h1v1h-1zM54 43h1v1h-1zM32 47h1v1h-1zM43 56h1v1h-1z" fill="#6478c8" fill-opacity="0.9"/>
<path d="M39 36h1v1h-1zM35 46h1v1h-1zM34 48h1v1h-1zM40 51h1v1h-1zM41 51h1v1h-1zM41 52h1v1h-1zM42 52h1v1h-1zM42 53h1v1h-1zM44 53h1v1h-1zM43 54h1v1h-1zM44 54h1v1h-1z" fill="#6478be"/>
</g>
<line x1="449.5" y1="278.6" x2="449.5" y2="318.3" stroke="#e2aade" stroke-width="0.75"/>
<line x1="434.1" y1="307.5" x2="473.8" y2="307.5" stroke="#e2aade" stroke-width="0.75"/>
<rect x="434.1" y="278.6" width="39.7" height="39.7" fill="none" stroke="#a8a8a8" stroke-width="0.6"/>
<text x="434.9" y="281.9" font-size="2.7" fill="#444">4.38</text>
<text x="473" y="281.9" font-size="2.7" text-anchor="end" fill="#444">70</text>
<text x="434.9" y="317.4" font-size="2.7" fill="#444">3.77</text>
<text x="473" y="317.4" font-size="2.7" text-anchor="end" fill="#444">21.8</text>
<text x="430.1" y="285.5" font-size="6.2" text-anchor="end">10<tspan dy="-2.6" font-size="4.46">5</tspan></text>
<text x="430.1" y="293.3" font-size="6.2" text-anchor="end">10<tspan dy="-2.6" font-size="4.46">4</tspan></text>
<text x="430.1" y="303.2" font-size="6.2" text-anchor="end">10<tspan dy="-2.6" font-size="4.46">3</tspan></text>
<text x="430.1" y="311.8" font-size="6.2" text-anchor="end">10<tspan dy="-2.6" font-size="4.46">2</tspan></text>
<text x="430.1" y="316.5" font-size="6.2" text-anchor="end">0</text>
<text x="435.2" y="328.5" font-size="6.2" textLength="39" lengthAdjust="spacingAndGlyphs">010<tspan dy="-2.6" font-size="4.46">2</tspan><tspan dy="2.6">10</tspan><tspan dy="-2.6" font-size="4.46">3</tspan><tspan dy="2.6">10</tspan><tspan dy="-2.6" font-size="4.46">4</tspan><tspan dy="2.6">10</tspan><tspan dy="-2.6" font-size="4.46">5</tspan></text>
<text x="310.6" y="299.2" font-size="8.4" text-anchor="middle"><tspan font-style="italic">Utx</tspan><tspan dy="-3.53" font-size="5.88">Δ/Δ</tspan><tspan dy="3.53">+</tspan></text>
<text x="311.2" y="309.3" font-size="8.2" text-anchor="middle" font-style="italic">Sox4</text>
<text x="335.5" y="298" font-size="7.6" text-anchor="middle" transform="rotate(-90 335.5 298)" textLength="12" lengthAdjust="spacingAndGlyphs">Gr1</text>
<text x="413.1" y="295" font-size="7.6" text-anchor="middle" transform="rotate(-90 413.1 295)" textLength="15.2" lengthAdjust="spacingAndGlyphs">Mac1</text>
<path d="M332.1 309.8V337.1H362" stroke="#111" stroke-width="0.9" fill="none"/>
<path d="M332.1 307.2L334.3 312.13L329.9 312.13Z" fill="#111"/>
<path d="M364.8 337.1L359.87 339.3L359.87 334.9Z" fill="#111"/>
<text x="369.3" y="340.3" font-size="7.6" textLength="16.4" lengthAdjust="spacingAndGlyphs">Mac1</text>
<path d="M410.7 310.6V337.5H442" stroke="#111" stroke-width="0.9" fill="none"/>
<path d="M410.7 308L412.9 312.93L408.5 312.93Z" fill="#111"/>
<path d="M444.8 337.5L439.87 339.7L439.87 335.3Z" fill="#111"/>
<text x="447.4" y="340.5" font-size="7.6" textLength="12.6" lengthAdjust="spacingAndGlyphs">GFP</text>
<text x="399.1" y="359.3" font-size="8.7" text-anchor="middle">Hedgehog signaling</text>
<text x="399.1" y="371.6" font-size="8.8" text-anchor="middle">Enrichment plot:</text>
<text x="399.1" y="382.3" font-size="8.5" text-anchor="middle">KEGG_HEDGEHOG_</text>
<text x="399.1" y="392.6" font-size="8.5" text-anchor="middle">SIGNALING_PATHWAY</text>
<rect x="345.6" y="397.4" width="106.8" height="62.7" fill="#fff"/>
<line x1="345.6" y1="397.4" x2="452.4" y2="397.4" stroke="#ececec" stroke-width="0.4"/>
<line x1="345.6" y1="402.1" x2="452.4" y2="402.1" stroke="#ececec" stroke-width="0.4"/>
<line x1="345.6" y1="406.8" x2="452.4" y2="406.8" stroke="#ececec" stroke-width="0.4"/>
<line x1="345.6" y1="411.5" x2="452.4" y2="411.5" stroke="#ececec" stroke-width="0.4"/>
<line x1="345.6" y1="416.2" x2="452.4" y2="416.2" stroke="#ececec" stroke-width="0.4"/>
<line x1="345.6" y1="420.9" x2="452.4" y2="420.9" stroke="#ececec" stroke-width="0.4"/>
<line x1="345.6" y1="425.6" x2="452.4" y2="425.6" stroke="#ececec" stroke-width="0.4"/>
<line x1="345.6" y1="430.3" x2="452.4" y2="430.3" stroke="#ececec" stroke-width="0.4"/>
<line x1="345.6" y1="435" x2="452.4" y2="435" stroke="#ececec" stroke-width="0.4"/>
<line x1="345.6" y1="439.7" x2="452.4" y2="439.7" stroke="#ececec" stroke-width="0.4"/>
<line x1="372" y1="397.4" x2="372" y2="439.6" stroke="#ececec" stroke-width="0.4"/>
<line x1="398" y1="397.4" x2="398" y2="439.6" stroke="#ececec" stroke-width="0.4"/>
<line x1="424" y1="397.4" x2="424" y2="439.6" stroke="#ececec" stroke-width="0.4"/>
<line x1="345.6" y1="439.7" x2="452.4" y2="439.7" stroke="#c8c8c8" stroke-width="0.6"/>
<line x1="345.6" y1="441.5" x2="452.4" y2="441.5" stroke="#e0e0e0" stroke-width="0.5"/>
<line x1="348.8" y1="442.4" x2="348.8" y2="456.2" stroke="#777" stroke-width="0.5"/>
<line x1="355" y1="442.4" x2="355" y2="456.2" stroke="#777" stroke-width="0.5"/>
<line x1="375.8" y1="442.4" x2="375.8" y2="456.2" stroke="#777" stroke-width="0.5"/>
<line x1="377" y1="442.4" x2="377" y2="456.2" stroke="#777" stroke-width="0.5"/>
<line x1="378.2" y1="442.4" x2="378.2" y2="456.2" stroke="#777" stroke-width="0.5"/>
<line x1="379.2" y1="442.4" x2="379.2" y2="456.2" stroke="#777" stroke-width="0.5"/>
<line x1="380.2" y1="442.4" x2="380.2" y2="456.2" stroke="#777" stroke-width="0.5"/>
<line x1="381.2" y1="442.4" x2="381.2" y2="456.2" stroke="#777" stroke-width="0.5"/>
<line x1="382.4" y1="442.4" x2="382.4" y2="456.2" stroke="#777" stroke-width="0.5"/>
<line x1="385.7" y1="442.4" x2="385.7" y2="456.2" stroke="#777" stroke-width="0.5"/>
<line x1="387.3" y1="442.4" x2="387.3" y2="456.2" stroke="#777" stroke-width="0.5"/>
<line x1="388.5" y1="442.4" x2="388.5" y2="456.2" stroke="#777" stroke-width="0.5"/>
<line x1="393.5" y1="442.4" x2="393.5" y2="456.2" stroke="#777" stroke-width="0.5"/>
<line x1="395.4" y1="442.4" x2="395.4" y2="456.2" stroke="#777" stroke-width="0.5"/>
<line x1="397.2" y1="442.4" x2="397.2" y2="456.2" stroke="#777" stroke-width="0.5"/>
<line x1="399.5" y1="442.4" x2="399.5" y2="456.2" stroke="#777" stroke-width="0.5"/>
<line x1="403.5" y1="442.4" x2="403.5" y2="456.2" stroke="#777" stroke-width="0.5"/>
<line x1="408.8" y1="442.4" x2="408.8" y2="456.2" stroke="#777" stroke-width="0.5"/>
<line x1="424.2" y1="442.4" x2="424.2" y2="456.2" stroke="#777" stroke-width="0.5"/>
<rect x="346.4" y="456.5" width="100.8" height="3.4" fill="url(#band)"/>
<polyline points="346.3,407.6 346.9,404.6 347.5,406.4 348.6,399.1 350.2,399.7 351.7,400.2 353.2,401.4 354.1,401.8 355.3,401.1 356.4,401.8 357.7,402.1 362,404.6 368,407.8 374,410.6 376,411 378,411.3 382,412.8 390,415.6 400,419.6 410,423.8 420,428 423.8,429.3 425.5,429.6 430,431.9 440,436.6 447.2,439.8" fill="none" stroke="#7ab840" stroke-width="0.95"/>
<rect x="345.6" y="397.4" width="106.8" height="62.7" fill="none" stroke="#111" stroke-width="1.1"/>
<rect x="409.2" y="397.4" width="42.6" height="20.6" fill="#fff" stroke="#222" stroke-width="0.9"/>
<text x="427" y="407.3" font-size="6.3" text-anchor="middle" fill="#111" font-weight="bold">NES 1.86</text>
<text x="427" y="414.8" font-size="6.3" text-anchor="middle" fill="#111" font-weight="bold">FDR 0.01</text>
<line x1="343.2" y1="397.4" x2="345.6" y2="397.4" stroke="#111" stroke-width="0.7"/>
<line x1="343.2" y1="402.1" x2="345.6" y2="402.1" stroke="#111" stroke-width="0.7"/>
<line x1="343.2" y1="406.8" x2="345.6" y2="406.8" stroke="#111" stroke-width="0.7"/>
<line x1="343.2" y1="411.5" x2="345.6" y2="411.5" stroke="#111" stroke-width="0.7"/>
<line x1="343.2" y1="416.2" x2="345.6" y2="416.2" stroke="#111" stroke-width="0.7"/>
<line x1="343.2" y1="420.9" x2="345.6" y2="420.9" stroke="#111" stroke-width="0.7"/>
<line x1="343.2" y1="425.6" x2="345.6" y2="425.6" stroke="#111" stroke-width="0.7"/>
<line x1="343.2" y1="430.3" x2="345.6" y2="430.3" stroke="#111" stroke-width="0.7"/>
<line x1="343.2" y1="435" x2="345.6" y2="435" stroke="#111" stroke-width="0.7"/>
<line x1="343.2" y1="439.7" x2="345.6" y2="439.7" stroke="#111" stroke-width="0.7"/>
<text x="330.7" y="397.2" font-size="5.6" fill="#333" textLength="8.8" lengthAdjust="spacingAndGlyphs">0.9</text>
<text x="330.7" y="402.27" font-size="5.6" fill="#333" textLength="8.8" lengthAdjust="spacingAndGlyphs">0.8</text>
<text x="330.7" y="407.34" font-size="5.6" fill="#333" textLength="8.8" lengthAdjust="spacingAndGlyphs">0.7</text>
<text x="330.7" y="412.41" font-size="5.6" fill="#333" textLength="8.8" lengthAdjust="spacingAndGlyphs">0.6</text>
<text x="330.7" y="417.48" font-size="5.6" fill="#333" textLength="8.8" lengthAdjust="spacingAndGlyphs">0.5</text>
<text x="330.7" y="422.55" font-size="5.6" fill="#333" textLength="8.8" lengthAdjust="spacingAndGlyphs">0.4</text>
<text x="330.7" y="427.62" font-size="5.6" fill="#333" textLength="8.8" lengthAdjust="spacingAndGlyphs">0.3</text>
<text x="330.7" y="432.69" font-size="5.6" fill="#333" textLength="8.8" lengthAdjust="spacingAndGlyphs">0.2</text>
<text x="330.7" y="437.76" font-size="5.6" fill="#333" textLength="8.8" lengthAdjust="spacingAndGlyphs">0.1</text>
<text x="330.7" y="442.83" font-size="5.6" fill="#333" textLength="8.8" lengthAdjust="spacingAndGlyphs">0.0</text>
<text x="325.6" y="421" font-size="6.9" text-anchor="middle" fill="#333" transform="rotate(-90 325.6 421)">Enrichment score (ES)</text>
<text x="372.4" y="474.3" font-size="8.4" text-anchor="middle" fill="#d04858" font-style="italic"><tspan font-style="italic">Utx</tspan><tspan dy="-3.53" font-size="5.71">Δ/Δ</tspan><tspan dy="3.53">+</tspan></text>
<text x="372.9" y="484.9" font-size="8.6" text-anchor="middle" fill="#d04858" font-style="italic">Sox4</text>
<line x1="355.2" y1="475.4" x2="347.8" y2="475.4" stroke="#d04858" stroke-width="1"/>
<path d="M345 475.4L348.65 473.77L348.65 477.03Z" fill="#d04858"/>
<text x="417.3" y="474.3" font-size="8.4" text-anchor="middle" fill="#3a2a8a" font-style="italic"><tspan font-style="italic">Utx</tspan><tspan dy="-3.53" font-size="5.71">+/+</tspan><tspan dy="3.53">+</tspan></text>
<text x="417.6" y="484.9" font-size="8.6" text-anchor="middle" fill="#3a2a8a" font-style="italic">Sox4</text>
<line x1="434.2" y1="475.4" x2="442.4" y2="475.4" stroke="#3a2a8a" stroke-width="1"/>
<path d="M445.2 475.4L441.55 477.03L441.55 473.77Z" fill="#3a2a8a"/>
<rect x="0.5" y="0.5" width="519" height="493" fill="none" stroke="#000" stroke-width="1"/>
</svg></body></html>
